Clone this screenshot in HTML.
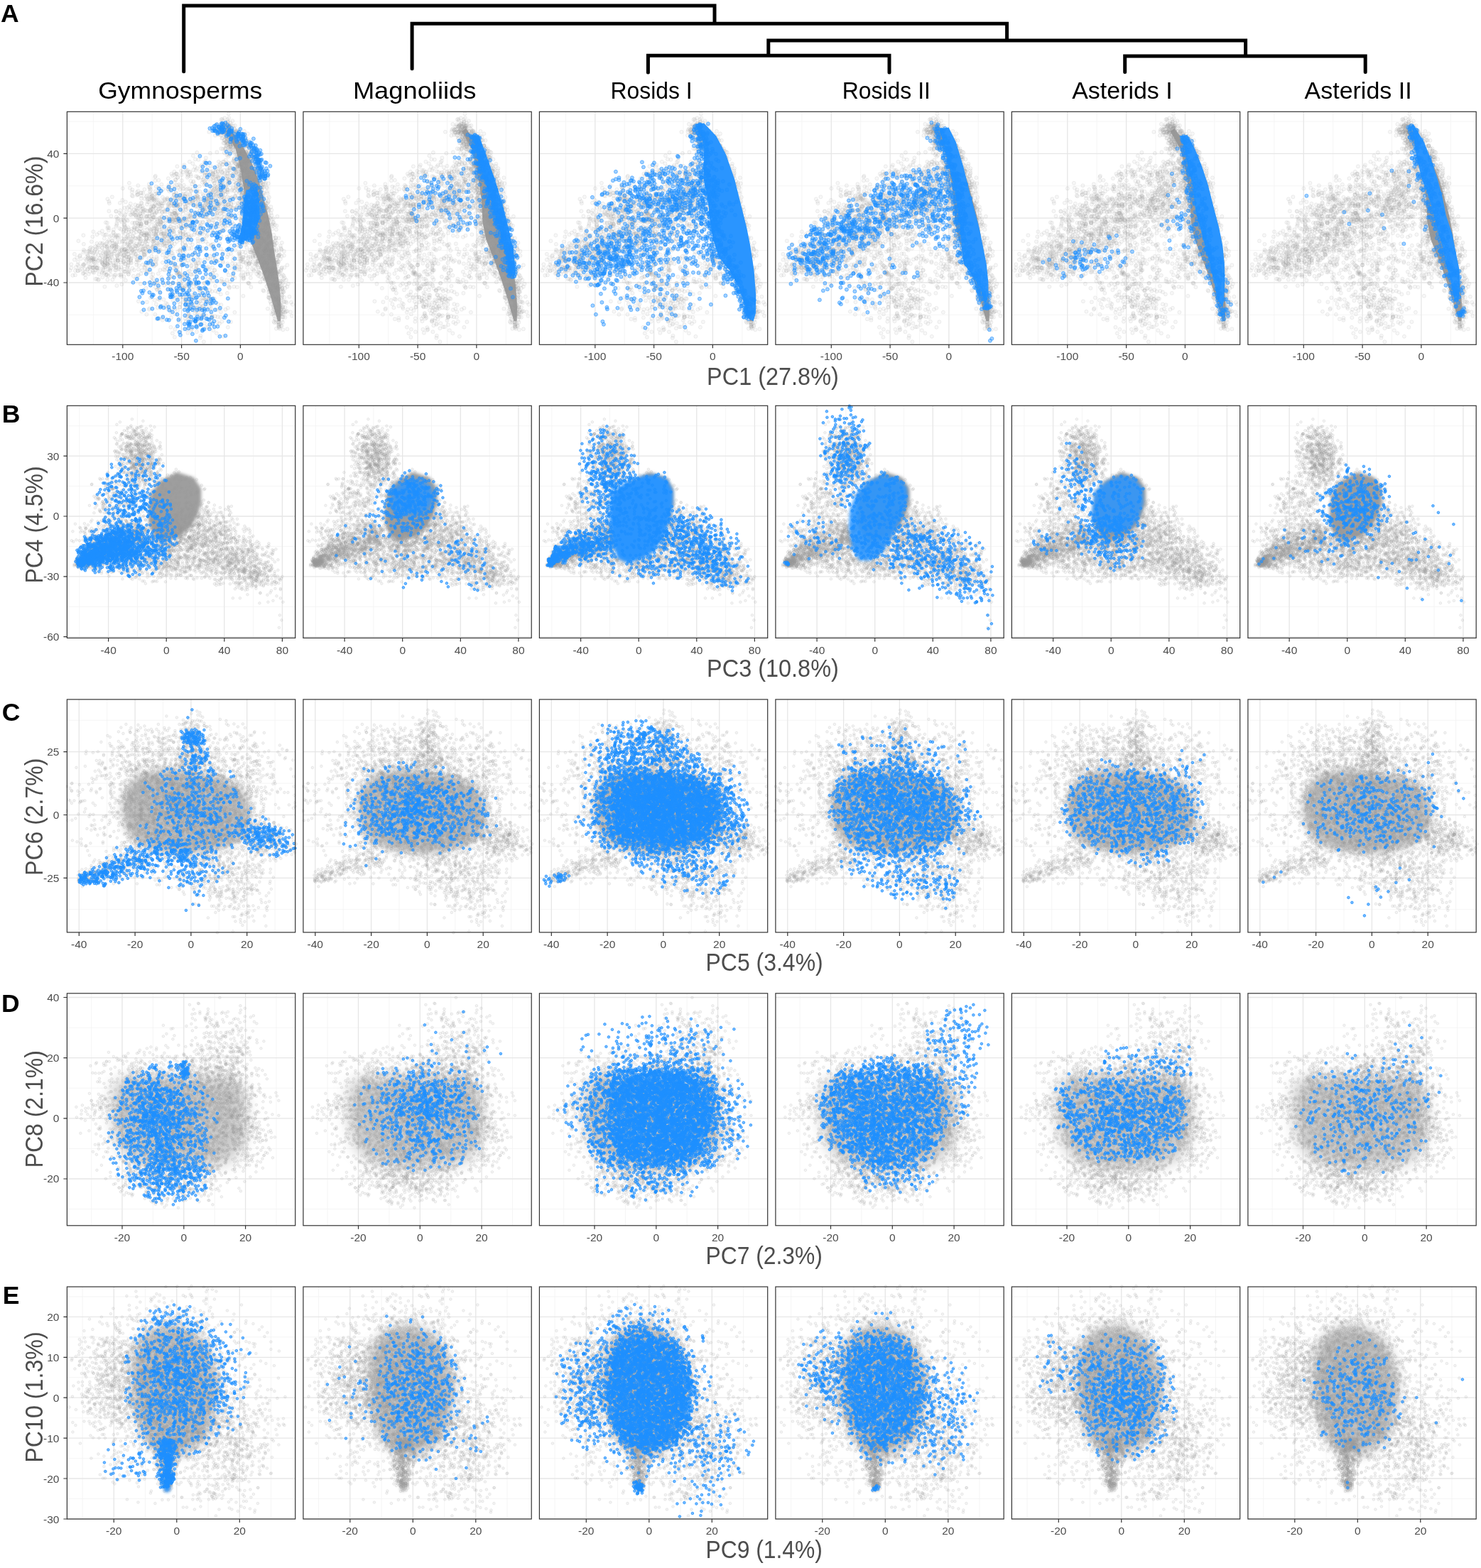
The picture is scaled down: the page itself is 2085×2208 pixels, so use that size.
<!DOCTYPE html><html><head><meta charset="utf-8"><style>
html,body{margin:0;padding:0;background:#fff;width:2085px;height:2208px;overflow:hidden}
svg{display:block}
.g{fill:none;stroke:#999;stroke-linecap:round;stroke-opacity:.12}
.b{fill:none;stroke:#1e90ff;stroke-linecap:round;stroke-opacity:.5}
.gA{stroke-width:6}.gB,.gC,.gD,.gE{stroke-width:4.2}
.sg{fill:#9e9e9e}.sb{fill:#2a95ff}
.mj{stroke:#e6e6e6;stroke-width:1.3;fill:none}.mn{stroke:#f3f3f3;stroke-width:.8;fill:none}
.bd{fill:none;stroke:#333;stroke-width:1.2}.tk{stroke:#333;stroke-width:1.2;fill:none}
.tl{font-family:"Liberation Sans",Arial,sans-serif;font-size:15.5px;fill:#4d4d4d}
.at{font-family:"Liberation Sans",Arial,sans-serif;font-size:35px;fill:#4d4d4d}
.st{font-family:"Liberation Sans",Arial,sans-serif;font-size:34px;fill:#000}
.pl{font-family:"Liberation Sans",Arial,sans-serif;font-size:35.5px;font-weight:bold;fill:#000}
.dg{fill:none;stroke:#000;stroke-width:5;stroke-linecap:round;stroke-linejoin:miter}
.mgA{fill:none;stroke:none;marker-start:url(#kgA);marker-mid:url(#kgA);marker-end:url(#kgA)}
.mbA{fill:none;stroke:none;marker-start:url(#kbA);marker-mid:url(#kbA);marker-end:url(#kbA)}
.mgB{fill:none;stroke:none;marker-start:url(#kgB);marker-mid:url(#kgB);marker-end:url(#kgB)}
.mbB{fill:none;stroke:none;marker-start:url(#kbB);marker-mid:url(#kbB);marker-end:url(#kbB)}
.mgC{fill:none;stroke:none;marker-start:url(#kgC);marker-mid:url(#kgC);marker-end:url(#kgC)}
.mbC{fill:none;stroke:none;marker-start:url(#kbC);marker-mid:url(#kbC);marker-end:url(#kbC)}
.mgD{fill:none;stroke:none;marker-start:url(#kgD);marker-mid:url(#kgD);marker-end:url(#kgD)}
.mbD{fill:none;stroke:none;marker-start:url(#kbD);marker-mid:url(#kbD);marker-end:url(#kbD)}
.mgE{fill:none;stroke:none;marker-start:url(#kgE);marker-mid:url(#kgE);marker-end:url(#kgE)}
.mbE{fill:none;stroke:none;marker-start:url(#kbE);marker-mid:url(#kbE);marker-end:url(#kbE)}
</style></head><body>
<svg xmlns="http://www.w3.org/2000/svg" width="2085" height="2208" viewBox="0 0 2085 2208">
<rect width="2085" height="2208" fill="#fff"/>
<path class="dg" d="M258.7 100.7V8H1006V33.3M580.1 96.7V33.3H1417.6V57M1081.8 78.3V57H1753.6V78.9M912.4 102V78.3H1252V102M1583.7 101.6V78.9H1922.2V101.6"/>
<text class="st" x="138.2" y="138.8" textLength="231.1" lengthAdjust="spacingAndGlyphs">Gymnosperms</text>
<text class="st" x="496.9" y="138.8" textLength="173.5" lengthAdjust="spacingAndGlyphs">Magnoliids</text>
<text class="st" x="859.6" y="138.8" textLength="115.1" lengthAdjust="spacingAndGlyphs">Rosids I</text>
<text class="st" x="1185.8" y="138.8" textLength="124.1" lengthAdjust="spacingAndGlyphs">Rosids II</text>
<text class="st" x="1509.2" y="138.8" textLength="141.5" lengthAdjust="spacingAndGlyphs">Asterids I</text>
<text class="st" x="1836.6" y="138.8" textLength="151.0" lengthAdjust="spacingAndGlyphs">Asterids II</text>
<text class="pl" x="1.0" y="30.6">A</text>
<text class="pl" x="2.8" y="595.2">B</text>
<text class="pl" x="2.7" y="1015.0">C</text>
<text class="pl" x="1.9" y="1424.6">D</text>
<text class="pl" x="3.7" y="1836.4">E</text>
<text class="at" x="995.1" y="541.6" textLength="185.7" lengthAdjust="spacingAndGlyphs">PC1 (27.8%)</text>
<text class="at" x="995.1" y="953.1" textLength="185.7" lengthAdjust="spacingAndGlyphs">PC3 (10.8%)</text>
<text class="at" x="993.5" y="1366.8" textLength="165.2" lengthAdjust="spacingAndGlyphs">PC5 (3.4%)</text>
<text class="at" x="993.5" y="1780.2" textLength="164.4" lengthAdjust="spacingAndGlyphs">PC7 (2.3%)</text>
<text class="at" x="993.5" y="2193.5" textLength="164.4" lengthAdjust="spacingAndGlyphs">PC9 (1.4%)</text>
<text class="at" transform="translate(59.5 403.7) rotate(-90)" x="0" y="0" textLength="184.1" lengthAdjust="spacingAndGlyphs">PC2 (16.6%)</text>
<text class="at" transform="translate(59.5 821.6) rotate(-90)" x="0" y="0" textLength="165.2" lengthAdjust="spacingAndGlyphs">PC4 (4.5%)</text>
<text class="at" transform="translate(59.5 1232.9) rotate(-90)" x="0" y="0" textLength="165.2" lengthAdjust="spacingAndGlyphs">PC6 (2.7%)</text>
<text class="at" transform="translate(59.5 1644.4) rotate(-90)" x="0" y="0" textLength="165.3" lengthAdjust="spacingAndGlyphs">PC8 (2.1%)</text>
<text class="at" transform="translate(59.5 2059.7) rotate(-90)" x="0" y="0" textLength="184.4" lengthAdjust="spacingAndGlyphs">PC10 (1.3%)</text>
<defs>
<filter id="f2" x="-50%" y="-50%" width="200%" height="200%"><feGaussianBlur stdDeviation="2"/></filter>
<filter id="f3" x="-50%" y="-50%" width="200%" height="200%"><feGaussianBlur stdDeviation="3"/></filter>
<filter id="f4" x="-50%" y="-50%" width="200%" height="200%"><feGaussianBlur stdDeviation="4"/></filter>
<filter id="f5" x="-50%" y="-50%" width="200%" height="200%"><feGaussianBlur stdDeviation="5"/></filter>
<filter id="f6" x="-50%" y="-50%" width="200%" height="200%"><feGaussianBlur stdDeviation="6"/></filter>
<filter id="f8" x="-50%" y="-50%" width="200%" height="200%"><feGaussianBlur stdDeviation="8"/></filter>
<filter id="f10" x="-50%" y="-50%" width="200%" height="200%"><feGaussianBlur stdDeviation="10"/></filter>
<filter id="f12" x="-50%" y="-50%" width="200%" height="200%"><feGaussianBlur stdDeviation="12"/></filter>
<marker id="kgA" markerUnits="userSpaceOnUse" markerWidth="1" markerHeight="1" overflow="visible" refX="0" refY="0"><circle r="5.00" fill="#999" fill-opacity=".08" stroke="#999" stroke-opacity=".15" stroke-width="2.00"/></marker>
<marker id="kbA" markerUnits="userSpaceOnUse" markerWidth="1" markerHeight="1" overflow="visible" refX="0" refY="0"><circle r="5.00" fill="#1e90ff" fill-opacity=".42" stroke="#1e90ff" stroke-opacity=".55" stroke-width="2.00"/></marker>
<marker id="kgB" markerUnits="userSpaceOnUse" markerWidth="1" markerHeight="1" overflow="visible" refX="0" refY="0"><circle r="3.60" fill="#999" fill-opacity=".11" stroke="#999" stroke-opacity=".18" stroke-width="2.00"/></marker>
<marker id="kbB" markerUnits="userSpaceOnUse" markerWidth="1" markerHeight="1" overflow="visible" refX="0" refY="0"><circle r="3.60" fill="#1e90ff" fill-opacity=".6" stroke="#1e90ff" stroke-opacity=".8" stroke-width="2.00"/></marker>
<marker id="kgC" markerUnits="userSpaceOnUse" markerWidth="1" markerHeight="1" overflow="visible" refX="0" refY="0"><circle r="3.60" fill="#999" fill-opacity=".11" stroke="#999" stroke-opacity=".18" stroke-width="2.00"/></marker>
<marker id="kbC" markerUnits="userSpaceOnUse" markerWidth="1" markerHeight="1" overflow="visible" refX="0" refY="0"><circle r="3.60" fill="#1e90ff" fill-opacity=".6" stroke="#1e90ff" stroke-opacity=".8" stroke-width="2.00"/></marker>
<marker id="kgD" markerUnits="userSpaceOnUse" markerWidth="1" markerHeight="1" overflow="visible" refX="0" refY="0"><circle r="3.60" fill="#999" fill-opacity=".11" stroke="#999" stroke-opacity=".18" stroke-width="2.00"/></marker>
<marker id="kbD" markerUnits="userSpaceOnUse" markerWidth="1" markerHeight="1" overflow="visible" refX="0" refY="0"><circle r="3.60" fill="#1e90ff" fill-opacity=".6" stroke="#1e90ff" stroke-opacity=".8" stroke-width="2.00"/></marker>
<marker id="kgE" markerUnits="userSpaceOnUse" markerWidth="1" markerHeight="1" overflow="visible" refX="0" refY="0"><circle r="3.60" fill="#999" fill-opacity=".11" stroke="#999" stroke-opacity=".18" stroke-width="2.00"/></marker>
<marker id="kbE" markerUnits="userSpaceOnUse" markerWidth="1" markerHeight="1" overflow="visible" refX="0" refY="0"><circle r="3.60" fill="#1e90ff" fill-opacity=".6" stroke="#1e90ff" stroke-opacity=".8" stroke-width="2.00"/></marker>
<g id="gA">
<path class="sg" d="M223.1 27.5L236.9 51.5L243.7 77.2L248.0 103.0L251.5 128.7L252.3 154.5L257.5 180.2L267.8 206.0L277.2 231.7L285.8 257.5L291.8 278.1L296.6 295.2L300.7 295.2L301.2 274.6L299.5 248.9L296.1 223.1L291.8 197.4L288.4 171.6L283.2 145.9L276.3 120.1L269.5 96.1L260.0 72.1L246.3 46.3L229.1 24.0Z"/>
<path class="mgA" transform="scale(.5)" d="M434 22l3-1 7-3 8 4 3-16 1 12 17 21-3 8-2-7-2-14-4 11-2 3 0-9-1 14-1-4 0 6-1-7 0-1-1 6-1-4 0 4 0 1 0 1 0-2-2-16 0-1 0 12-1 0-1-6 0 1-3 6-1 2 0 0-1-8 0 12 0-15-1 8-1-6-1 5-1 5-2-5 0-2 0 1-2-13 0 17-1-1 0 1-4-1-1-5-3 6-8-7-21 22 17 10 1-11 1-5 3-3 2 5 1 12 1-14 0-1 1 8 0 2 2-2 1-7 0 7 1-9 0 16 3-8 1 10 0-7 0-12 2 9 0 0 2 0 0-2 2 7 0-8 1-5 0 13 0-13 1 2 0 7 0-5 1 7 0-9 0 7 0 5 1-4 2-7 1 18 0 0 1-14 1 8 1 1 0-17 1 9 0-7 1 3 0 5 1-9 0 10 0-10 0 0 0 13 1-2 2 5 1 0 0-11 0 16 0-14 2-5 0 3 0 11 0-2 1-7 2 11 3-11 1 13 1-7 0-7 1 12 2-5 2-12 1 15 0-6 0-2 1 13 1-15 0-1 1 17 1-1 1-11 0-5 0 15 1-13 2 6 1 4 2 0 6-3 3 6 4-1 1-13 4 16 6-9 4 19-4 13-3-13-3-1-2 1-2 4-6-10 0 13-1-1 0 2 0-1-2-5 0-7-1-2-2 8-2 11 0-11-1-1 0 2 0 8-2-4-2 5-1-2 0-6-3-11 0 17 0 5 0-4-2-4 0-6 0-5 0 18 0-22 0 21-1-21 0 8-1-3 0-2 0 16 0 0 0-4-1-10 0-4 0 15 0-9-1 7-2-9 0 17-1-12 0 8 0 1 0-5-1-3-1 6-1-16 0 1-1 4 0 0-1 8 0-5-1 8 0 3 0 2-1-1 0-15-1-6 0 14-1 5-1-6 0-2 0-5-1-6 0 2-1 4-3 3 0 9 0 2-1 2 0-6 0-4 0-7-1-3-1 10-1 11 0-10 0-12-1-1-1 12-3 4 0-9 0 2-3 7-2-14-2 1-70 40 37 2 19-3 12-10 5 1 4 11 2-11 1 1 0-3 2-7 4 22 4-17 0 2 2-5 0 8 2-1 0-7 1 15 0-14 0 0 4 10 3-10 0 0 0 10 1 1 2 4 1-16 3 4 0-3 0 0 0 1 3 18 1-18 2-4 1 18 3-6 0-4 1 13 0-5 1-11 0-5 1 6 2 12 0 2 1-1 0 3 1-20 1 15 0 2 0 4 1-4 0 4 2-13 0 6 0-11 0 14 4-16 1 15 2-17 1 16 1 6 0-9 0 6 0-2 0 0 3-18 0 1 1 0 1-1 2 22 1-14 1 0 3 14 0-3 1-2 1-9 0 6 3 1 4 2 3 2 6 19-7-9-1 10-1-6-2-1 0-1 0 8-1 8-1-8-1-7-3 7-1-11 0 2-1 11-1-10 0 14-1-1-1-2 0 1-1-15 0 7 0-3-1 9-2-13-1 8 0 11-1-11 0 11-2-16 0 13-1-5-2-8 0-7 0 2-1 21 0-17 0 17-1-1-1-3 0-7-1 0-1 7 0-12-2 16-1-3 0-6-1-12 0-2-2 4-2 8 0-7-1-3-2 20 0-1 0-13-1 5-2-3-2-1-1-1 0 14-1-10-1-9-4-3-1 17-2-4-1-1-1 8 0-3-12-15-3 4-4-4-3 14-5 5-3 0-12 0-36-11-1 9-3 3-17-7-9-1-6-10-10 17-35 13 11 13 7-12 2-5 5 15 4 0 15-19 2 18 4-9 3 10 3-5 10-5 3-4 8-1 9 7 2 10 7-14 6 14 8-8 4-5 6-3 1 5 2-11 0 22 1-5 4-13 2 0 4 16 4-19 1 3 3 14 2 3 1-22 1 2 2 19 1-12 0 6 1-2 5-13 2 16 1-2 1 5 3-3 1 4 0-2 1-18 1 2 0 15 2-13 2 13 0-13 0 8 1 10 2-14 0 1 0 2 1-3 0-2 1-3 1-3 0 11 1-5 1 6 0-4 1 2 0-2 0-5 1 0 0 20 0-12 0-1 1-8 1 17 1 1 0 2 0-11 1 11 1 1 0-16 0-3 0 9 0 2 0 3 0-6 2-7 1 9 2 9 1-3 1-3 1 0 0-15 2 16 1-8 0 1 1-9 0 11 1 7 0-18 1 5 0 8 2-1 0 8 7 0 2-7 0-3 2-10 2 9 4 4 2-11 0 14 2-3 1 5 0-14 1 17 1-14 2 14 1-7 3 4 3-11 1-6 5 19 1-6 16 26-15 2-1-16-1 4-1 4-1 3-3 7-3-2-1-2-1-9-1 10 0-18-3 11-1-3 0-9-1 10 0-10-1 6-3 6-1-10 0 15-2 6 0-3-1-13-1-6-2 7-1 4-4-12 0 17-1 0 0 2-1-11-1 9 0-15-1 7-1 7 0 7 0-21-2 11 0-3-2-6-1 17 0-11 0 9-1-1 0-7-1-9-2 18-2-15-1 1-1-6-1 18-3 5 0-7 0-12-1 19 0-12-1 4 0-12-1 12 0 5 0-2-1 2 0-17 0 8 0-1-2 3-1-2 0 8 0-7-3 10-1-14-1 6 0-13-4 17 0-15-2-1 0 3-5 0 0 4 0 12-5-1 0-11-3 3 0 0-3-8-3 19-5-18 0 15 0-6-1-7-1 7-4 5-2-13-4 3-3-5-1-3-2 18-6-9-2 11 0-4-1-17 0 12-1-12-2 14-1 7-3-19 0 0-1 13-5-7 0 9-1-13 0 7-1-3-1 8 0-10-4-5 0 20-10-11-1 0-1 10-3-17-1 8-1-1-1-5-2 17-4-20-3 15-2-17-6 19 0-1-3-3-4-1-14 0-1-5-2-8-1 2-4 6 0 4-2 4-2-16 0 6-11-5-4 8-10 7-1 0-1-10-3 0 0 0-2 16-3-22 0 9-5 2-3-5-9 13-36-7-1 3-73 17 2 14 23-7 31 4 0-8 3 9 14-19 3 17 6 3 1-21 8 12 20 2 2 5 1-2 14 0 0-11 3-6 4 14 4 7 1-9 4 3 4-14 6 13 19-12 4 9 4-8 0 3 5 10 1 0 11 1 8-11 1-7 4 4 1 10 2-3 1-2 6-5 2 13 9 5 4-19 3 0 0 19 1-13 0 1 2 8 3-18 1 21 2 1 1-4 2-14 3 9 1-4 1 1 3 5 1-3 3-8 1 15 1-5 0-9 0 12 5 3 3-4 1 5 3-16 1 4 0 2 2-7 1-4 0 0 2 6 0 1 3 8 7 8 2-17 4 16 0-9 1-4 1 9 1-9 3 13 2-21 0 2 2 19 1-19 0 8 2 11 0-18 0-3 1 8 1 8 0-2 2 1 0 2 1-11 2 5 1 10 1-21 0 20 1 2 2-11 0-6 1-1 1 8 1-4 0 2 1-4 0 11 1-9 1 5 0 2 1 0 1-2 0-4 0-9 0 21 0-7 1-9 2 8 1 5 0-12 2 10 0 5 1-19 2-2 1 21 2-19 0 16 2 4 0-3 2-20 1 6 0 15 2-7 1-13 1 21 1-21 0 16 1-17 0 16 0 5 4-14 3 1 3 11 1 1 4-14 0-2 1 10 0-6 0 15 1-15 1 9 1 3 1 1 1-6 2-3 0 9 1-17 4 8 1-4 3 12 1 3 4-13-3 28-1-5-9 4-1 6-2 2 0-8-2 10 0-19-1 1-2 7-1-6-2 0-2-4-1 18 0 1-1-8-2-6 0 13 0-16-1 4 0 0-2 9-2-9-1 0 0 13-3-8 0 10 0-3-1 1 0 2-2-2-4-10-1 11-1-14-1 6-1-8-3 10-2-14 0 17-1-16-1 19-1-13-1-6-1 14 0 1 0-1-1-17 0 14-3 3-1-2-2-3-1-5-2 12-1-7 0-10-1 11-1 0 0 1-1 2-1-11-1-2 0 15-2-16-1 2-1 5-1 4-4-6-5-5-1 11-2 9-1-1-2-14-6-4-1 3-11 5-1-6 0-3 0 3-2 5-4-3 0 10-3-9-4 5-1-9 0 12-3-7-1 6-1-10 0 10-1 4 0-1-3 4-1-1-2-13 0-4 0-1-3 19 0-9-1-5-2 9-2 3-1-11-2-8-1 3-1 15-1-13 0 11-2-7-4 1-1 7-1-11-1 6-1 5-6 5 0-2-1-7-1-6-10 12-1-4-9-7-6 13-1-1-1-16 0 3 0 3-1 10-5 2-6-21-4 5-2-1-1 13-1-3-1-15-5 0-4 13 0-11-1 20-2-7-1 7-1-1-2-21-2 14-1-14-2 17-7-15-2 18-4 0-3-6-1-3-4 6-1-18-1 18 0 0-1-8-10-8-2 6-3-5-2-2-13 1-7 6-6 6-4 0 0 7-4-13-1 8-7 5-2-1-1 3-1-7-2-12-2 13 0-17 0 9-8 11-2 3-5-20-4 10-5 8 0-9-1 1-8-6-1 10 0 0-2-6 0 8-12 3-1-18-1 16 0-10-26-10-43 30 4 7 1 5 8-18 22 17 7-8 9 5 14 5 13 3 17-18 0 12 1 2 8-13 7 16 2-17 0 4 0 6 3-9 1 10 2-10 3-3 3 3 0 5 2-7 1 4 2 0 2-4 0 7 1-3 1 12 0 3 4-13 5 0 0 7 1 4 2 0 3 3 1-5 5-17 0 17 0-6 5-6 0 11 1-7 4-3 3-4 1 3 1 2 1 13 1-2 3-3 3-4 1-6 1 12 1 0 2-15 4 17 1-14 1 11 0-12 2 3 4 13 1 0 1-18 1 18 1-21 2 13 2 10 0-19 1 17 2-17 2 4 3 7 0-12 5 17 0-13 2-2 1 2 3 11 3 0 0-17 2 21 1-8 3 2 1-10 2 2 0-2 2 13 2-7 2 5 0-2 1-5 3-3 2 16 1-23 1 8 1 5 3-12 2 3 1 14 0-10 2 14 0-21 4 6 1 6 7-8 0 14 5 3 0-12 2 4 1-4 1-3 0 5 0 7 2-15 0 3 1 15 1-10 1-6 1 10 1 6 0-18 1-1 2 11 1-12 1 11 1-4 5 0 0-8 2 12 1-5 0 15 0-13 2 13 3-17 1 8 4-1 2 7 0 2 1-14 0 13 1-1 1 1 1-4 2-5 2-10 3-2 1 0 2 20 1-6 1-10 0 5 1-7 2 10 2-2 0 12 5-7 1-15 1 22 1-1 2-3 0-15 6 15 0-15 0 18 2-20 2 4 3 11 5-15 5 2 2 14 1 2 5-3 1-10 1-3 0-1 1 4 2 5 0-8 1 16 2-14 0 10 0-15 1 8 2 10 1-4 1 6 1-1 0-10 1 2 0 0 0 0 0 12 2-2 2-9 0 11 1-6 0-10 0 1 2-5 2 4 3-6 0 21 0-12 1 5 1-12 1 8 0 7 0-1 0-7 1 7 1 3 0-14 0-3 1 15 5-17 1 21 1-20 1 7 1-1 2-1 2-6 2 1 1 6 1 0 0 13 0-19 0-1 4 11 3 6 3 3 3-5 1-11 0-3 2 17 3 4 2-11 0 11 2-6 2-14 1 16 2-3 2-4 2-11 7 36-2-9 0 18-5-11-2 3 0 8-1-11-2-4-2-2 0 1-1-4 0 21-2-15 0-7-1 19 0-14 0 12-1-17-3 21 0-8 0-9-1 11-2 7-1-18-2 15 0-15-1 8-1-1-2-8-1 15 0-14-2 11 0-13-1-3 0 9-2 5 0-14 0 20-2-8 0-12 0 5-2 11-5-7 0-7 0 5-1 6-1-1-3 0-1 2-1 9 0-13-1-4 0 11 0 4-2-18-5 1 0-2-2 10 0-5-2 3-1 2 0-10-1 3-2 10 0 2-1-3-1 0-1 1 0-2-3 3 0-16-1 17 0-9-1-5-1-1-2 13 0-1-5-1 0-5-3-4-2 19-6-22 0 5-2 0-5 4-4-4-2 1-5-3 0 0-1 15-3-15-7-3-3 2 0 8-1-7-5 13-1-3-1-3-1 4-1-15-2 19-2-4-1 8-4-15-2 0-1-6-1 5-1 14 0-3-1 5-2-10-3-7-3-2-4 9 0-5-1-1-2 6-2 8 0-7 0-9-1 16 0-15-2 7 0-5-1 0-2 12-1-18-2-2 0 12-3-5-3 11-1-2-1-12 0 15-2-11-1 6 0-4 0-9-2 6-2 9-1-14 0 5 0 0-6 8-1 0-4-11-3 16-3-18 0 1-3 16-4-19-9 20-6-11-6 12 0-10-1-7 0 2-2-3-5 12-1-3-3 5-7-9-4-8-1 1 0 2 0 6 0 13-5-1-2-6 0 8-1-2 0-21-1 21 0-6 0 7-1-20 0 1 0-3-4 0-4 16-3 7-1-22-2 4-3-4-1 8-1 8-3-5-3 6-3-2-3-6-1 9-1-18-1 18-1-18-4 7-2 9-2-7 0 0-6-10 0 17 0 3-3 1 0-13-4-5 0 16-1-16-1 5-1-5-3 7 0-10 0 21-3-10 0 4 0-11-2 12 0-4-1 11 0-9-6 2-3-1-4-2-4 0 0 5-1-10-2 9 0 5-1-12 0-8-4 12-1-11-1 20-1-20-4-3-2 15 0-14-1 9-3 4-1-6-1 11-4-7-1 11-4 0 0-5-3-12-4 7-2-10-5 3-3 12-5-11-12 7-2 7-10-4 0-1-20 0 6 14 15 2 2 6 1 5 2-6 7-12 1 17 1 4 5-5 1-7 3 9 0 2 0-15 2-4 4 15 3 2 7-17 3 1 9-1 3 2 1-1 1 5 5 10 0-7 1-9 1 4 2 14 1-19 0 13 3-8 2 1 1 6 1 5 10-12 1 3 0 14 0-3 2-13 1-1 5 1 1-1 0 14 0-3 4-3 4 0 0-11 1 20 2-13 0-2 0 2 4-10 0 10 5 13 2-3 0-4 5-4 3 0 0 5 1 2 0 3 1 1 2-16 0 16 2-15 2 12 10-10 0 9 0-11 4 13 4-10 2 6 0 6 1-4 3-6 0 8 0-21 0 8 2 14 1-20 0-2 1 15 1 2 0 4 0-10 4 1 1 4 2 1 0-15 1-1 0 16 1-14 1 7 0-3 1 8 1 7 0-10 1 1 3-10 1 15 0-5 1 3 1 2 2 2 5 1 2-5 0 5 1-4 2-9 3 7 2-2 3 4 1 5 2-16 2 10 1-9 2-3 1 2 1-5 1 10 0 12 4-3 2-13 3 1 3 9 1-16 1 0 2 18 4-18 3 3 1 0 1 19 1-19 4-2 3 20 4-14 1-7 3 6 1 2 3-4 2-3 1 15 2 4 1-2 9-1 3-10 0 10 3-17 7 11 1-7 4 9 7 5 1-13 1 11 5-7 2-10 5 15 3-6 1-6 1 5 4 2 3-3 2-1 3 2 6-7 15 12 4 5 0-1 5-6 1-6 1 1 3 12 1-8 3-3 1 12 1-3 2-14 2 5 1 0 1 2 0-5 0-3 2 12 0-8 1 6 2 4 1 5 1-4 0-15 1 19 1-10 0-1 1-1 1 0 0 9 2 1 1 1 0-10 1-1 0 14 2-22 1 18 0-12 1-3 1 18 0-13 1-1 0-4 3 14 1 3 0-12 1 11 0-15 1 2 1-4 1 19 1-11 2 12 0 1 0-4 2-19 1 8 3 2 2 3 2-4 0-2 2 6 4 8 1-14 1 1 2 2 1 6 2-7 0 8 0-9 2 11 3-8 4 4 0-11 5 9 0 10 11-16-2 26-1 11-4-13-4-6-2 4 0 5-1 8-3-11-4 12-2-17 0 5-3-4 0 9-1 2 0-11-1-3 0 23-1-17-2-5 0 1 0 13-2-9-1 9 0-10-4 17 0-22-1 7 0 9-1-1 0-11-2 17-5-18 0 17 0-13-1 14-2-7 0 9 0-1-1-22-1 21-1-12-1-6-1 2-2-4-1 17 0-10 0 13 0-14-3-3 0 17 0-19-1 10-1-7-1 3 0-2-2 0-2 16-2-21-1 13 0-13-2 2-1 14-3-3 0 7-3-15-2-4 0 17 0 4-1-7-2 0-3-10 0-1-2-4-1-1-1 13-1-8 0-1 0 17-1-19 0-1-5 3-4 10-1-12-2 9-17-6-4-5-1 18-2-10-9 1-7 1-2 10-1-14-3 7-3 9 0-13-3-8-4 3-1 15-4-9-3-5-1 4-5-6-1 4 0 15-7-4-4-7-5 2-13 6-1 1-2-20-5 8-3 2 0 1-5-10-4 16-2 3-11-11-4-1 0 13-1-10-1-1-5 1-6-5-1 5 0 1-1-11-2 18-3-8-2-1-6-3 0 7-1 0-5-14 0 11-7 2-2-13-3 1-1 14-3 7 0-7-3 8-3-12-3 1-2 6-1 1-1-2-6 5-3-13-4 7-2-13-4 15-1-5-1-13 0 9-2-4-2 16-1-17-3 3-2-2-1-1 0 15-1-4-1 8 0-4-3-9 0 5-3 1-1-5-2 6-5 3-4 0-3-15 0 11-5 4-2-18 0-1-1 1-1-2-3 14-9-8-1-2-1 2 0 4 0-7 0 15-2-8-2-7-3 2-1 3 0 2-2 10-1-19-1 17-5-17 0 16-1-3 0-12-1 11-1 7-4-19-2 18-9 1-1-6-4 5-3-4-3-6 0 4 0-8-1 2 0 12-1 4-8-4-4-2-8-10 0-5-2 9-7 9-13-4-1 6-2-10-1 4-1-15-4-1-63 36 26 4 2-14 10 8 7-5 8-5 3 10 3 11 2-10 4-1 9 6 4-3 6-10 1 2 1 9 4 4 0-7 2 3 4 3 0-5 1 9 3-9 8 9 4-18 4 19 2-14 2-8 0 19 1 3 3-6 2-4 1 9 1-18 3 6 1 14 3-22 1 20 3-7 1 3 2-11 3 14 3-17 0 18 5 1 2-4 2-17 0 20 1-20 1 21 2-8 0-1 0-10 1 6 3-2 1-7 5 13 0-3 0-5 1 6 1 1 2-5 2 4 0-4 0 12 1 2 0 0 1-11 1-3 2 4 2-4 0 7 1 8 1-3 0-11 5-7 3 14 3 8 0-23 1 22 0-13 2-4 2 6 2-1 0-2 1 6 1-12 0 0 0 12 4-6 5 14 4-19 0 6 1-1 1 13 1-14 3 0 0-1 1 5 0 9 1-12 1 10 2-3 0 0 4-6 0-8 2 11 0-9 3 12 0-4 2 11 3-3 5-15 4 17 1-20 1 8 0-6 5 12 5-1 4 5 2-18 1 1 1 5 1-2 4 14 2-9 1-8 0 13 1-7 4-2 2 5 2 8 0-8 3 12 2-15 2 10 2 0 2-2 3-3 8-3 2-6 7 3 0-2 1 17 5-12 1-1 4-3 2-5 1 7 3 14 2 0 4-18 3 11 2-4 13-5 14 7 12-11 0 13 2-15 14 17 7-4 18-3 20 1 1 9 1-20 4 0 2 14 1-14 1 21 1-6 1-1 0-13 1 14 1-7 0 1 1 14 1-12 0 9 2-5 2-11 2 8 1-9 1 9 0-4 1 5 0-7 0-6 0 21 0-21 2 1 0 21 0-9 0-4 0 9 1-12 0-6 0 21 0-15 1 6 2 6 1-7 1-3 0 1 0 7 0-3 0-3 2 7 2-12 2 1 2 11 2 2 1-2 1-7 1-2 0 2 1-3 2 11 0 5 0-10 0 8 2 0 1-7 1 7 1-20 1 12 2 9 2-15 0-3 0-4 0 23 1-19 1 16 0-12 4 15 0-21 2-2 1 10 0 11 1-13 2 7 0 3 1 3 0-9 1-6 1 17 0-7 1-10 0 3 1-8 0 13 1-1 0-3 10 11 0-10 5 9 1-1 8 1 9 13-4 9-11-8-3-7-1 13-1-10-1 7-1 3-2 5-2-14 0 8-1-8-3 1 0 0 0-1-2-3-2 6 0 3-1-2-1-4-1 9-1 0-1-3 0 10-1-9-1 1-1-5-1 9 0-11-1 14 0-2-1-1-2-9 0-7-1 17-1-12-1-3-2 1-1 10-2-13-3-1 0 16-1-6 0 1 0 0-3-3 0 10 0 3-2-14 0 13-2-18-1 6 0 7-3-17 0 14-1-10-3 15-3-15-1 7-1 4-2 7 0-14-5-5-1 8-10-10-1 7-1 15 0-18 0 7-2-7-3 10-7-4-1-11-3 6-3 12-4 1-4-4-17 2-32-5-19 1 0 10-4-8-1 2-9-4-6-7-9 0-4-4-9 2 0 7-16 3-6-5-12 10-1-3 0 0-2-8-7-7 0 11-7-11-9 5-6 6-6 7-2-9-1-1-4-6-1 8-3-6-1 2-3 11-1-14 0 6-1 8-5 0 0-18-1 10 0 3-3-8-1-1 0 10 0 2-4-8-5 15-2-13-1-10-1 14-3-4 0 2-3 5-5-14 0 14 0-15-2 2 0 9-2 4 0-11-1 15 0-16-1 16-11 0 0-17-1 18-2-9-1 6-3-18 0 5-2 1-2 10-1-13-3 15-3-6-2 6-1-19-1 4-2 3 0 4-4 6 0-3-5 5 0-7-3 6-3-1-3-10-1 13-4-13-1-3-2 4-2 12 0-12-1 9-2 3-1-6-2-4-2 4-6-2 0-6-5-2-2 18-1-16-7 1-4 15-4-2 0-12-2 4 0 7 0 4 0-8-4-3 0 9-1-5-4-6-1-7-1 15 0 0-1 3 0-18-1 20-5-16-3-4-1 15-3-11-1 13 0 0-2-8-3 6-2-3-5-5-1 13-1-10-4-3-5 12-1-5-3 5-1-11-4 9-11-14-2 16-20-9-15-9-11 37 15 6 1-3 9-8 1-7 2 3 7 10 3 5 0-14 0 11 4-10 0-3 1-6 1 11 4 0 3-11 1 14 3-2 2-5 2 11 0-15 5 5 3 11 4-8 4 9 3-21 0 23 3-10 2-3 4 5 0-2 2 6 3-19 0 15 1-10 0 18 1-13 0 9 0 4 2-16 1 16 1-10 5-2 2 7 0-3 5 1 2-14 2 6 0 0 3-4 2 15 1 3 1 1 3-5 3-10 0 4 2 5 1-1 1-10 2 0 1-3 3 19 3-3 0 1 0-13 1-2 0 7 0-10 1 2 1 19 1-12 1 1 0-10 1 6 3 1 1 9 1-18 1 8 1 9 6-4 0 9 1-21 1 3 2 2 0 3 2-5 1 10 3-3 2-10 1 16 0 2 3-11 2 14 0-21 5 6 4-2 1 8 5-5 0-3 1-2 2 5 1 11 0-1 0-1 0-5 1-10 1 19 1-3 1-16 3 5 5 4 1-5 8 17 1-22 2 9 0-4 8 1 1-7 7 6 0 7 2-8 3 2 7 3 0 10 11-16 0 18 6-9 1 4 6-11 1 8 3 1 2 7 13-12 5-3 1 1 2-5 6 19 1-16 0-6 1 15 4-9 9 13 3-18 6-1 5 16 6 0 6-15 4 2 3 3 10-5 19 22 10-1 2-15 18-5 4 16 2-7 15 7 1-14 6 12 13-10 9 10 2-4 1 8 0-4 2 6 7-11 7 1 2 9 10-10 1-5 2 6 1 0 3-12 1 5 0 4 1 13 1-8 3-4 0 4 0-5 0-1 1 11 1-5 1 9 1-1 0-19 1-2 1 11 1-1 0-7 0 15 1-8 0 1 0-12 1 4 1 11 1 2 0-3 1-7 3 12 0-17 2 4 1 12 6 4 0-8 1-3 1-3 1-3 1-1 0 18 0-19 1 5 1 12 0-18 0 13 1-3 0-3 0-1 1 1 0 7 2-10 0 14 1-14 3 0 2-4 1 21 0-8 1 7 0-14 0 10 0 1 0-14 1 7 1-12 0 16 1-9 2 3 0 9 0 4 0-19 2 1 0 3 0 1 1 10 1-8 1 1 0-7 2 16 1-15 0 2 1 3 3 10 4-18 0 4 4 14 2 1 0-9 0 9 2-3 1 0 3-19 1 3 1 2 0 18 7-14 0 12-10 10-6 9 0-2-2 7-1-18-1 14 0-2 0-6-1 0-2 9-2 3-2-3-1-7-1-2-2 10 0-2-1-11 0-1 0 17-1-10-1-7 0 7-1 7-1-10-1-9 0 5-1 0-1 17 0-22-1 10-2 2-1-7 0 17 0-16-1-3-1 18 0-4-2 5-1-4 0 0-1-4-1 4-1-13-2 5-1 12 0-4-1-2 0-9 0 10 0 2-1-11-1 9-2 4-1-10-2-10 0 14-1-8-1-2 0-5-2 8 0 8-1 2-1-18-1 4-2 9-1-9 0 7-1 1 0-9 0 11-2-2 0 10-1-8-2 5-1-6-1-12 0 22 0-2-7-18-2 11 0-13-6 0 0 13-2 5-2 1 0-2-1 4 0-21-1 4-3 8-2 8-2-4-7-16 0 13 0-11-1 13 0-8-2-5-1 4-2 5-2 1 0-6-7-1 0 16-7-1-5-18-2 7-2 10-13 0-1-19-12 16 0-3-12-3-4 3-6-8-1 4-6-3-3 11-10-12-1-2-8 4-8 12-5-10-4 9-1-11-2-7 0 18-5 1-2-4-1-4-10 2 0-10-10 6-3 9-4-14-2 4-8 14 0-22 0 16-9-7-13 13-1-13-2 10-4-4-5-14-11 4-1-2-8 13-16-11-1-5-1 20 0-10-1 12-1-7-6-9-1 16-2-5 0-10-8 8 0 1-2-12 0 10-9 7-8 1-2-21 0 2-4 1-3 5-2-10-2 12-3-4 0 2-1 13-1-7-4-16-10 18-1-12 0 0 0 5-1-1 0 7-5-15 0 0-1 14 0 2-1-4 0-7 0 2-4-7 0-2-4 21-1-1-2-15-1 7 0 3-1 1-4-13-4 13-1-6-6 12-1-11 0-1 0 2 0-7-1 5-4 13-1-14-1 3-5 11 0-5-4-14-2-3-3 10 0 7-2-13 0 11-5 6 0-15-1 2 0 12-1-1 0-13-1 11-3-16 0 17-1-2 0-10 0-7-1 13 0-8 0 12-6 4-1-12 0 12-1-2 0-3 0-5-1 4-6-10-4 5-1 3-6-6-2 8-3-8-1 8 0-2 0-9-1 4-1 0-2-4 0-1-1 8-1-5-2 5-1-8-3 5-1 6-1-10 0 15-3-13-3 3-4-3 0 13-4 3-2 1-6-17-8 9-1 8-2-20-7 6-9 13-4 17 4-7 11 8 2-10 5 10 1 0 2-13 3 11 5-3 3-8 3 19 1-22 2 11 1 8 6-6 2-3 3-5 2 2 0 11 2-12 5 1 1-7 1 20 0-13 0 9 0-8 3-1 0 14 3-18 2 11 0-7 2-7 1 9 1-2 0 2 1 6 4-6 8 10 1 3 2-7 1-5 1-4 2-6 0 1 0 22 2-18 1 1 1 14 4-18 3 10 1-11 3 13 1-4 1 6 3-9 7-5 3 0 0 12 3-9 0 9 0-6 7 3 1-4 4 6 2-7 9 12 1-7 1 8 2-1 5-11 1-4 1-2 0 19 2-6 2 4 8-9 5 5 12-2 1-11 9 14 7-9 1 2 3 12 0-19 3 19 0-4 4-5 5 9 1-20 10 3 17 11 9-2 4 2 1-9 4-4 2 10 4-9 1 19 12-13 5-6 0 11 2-10 2 20 1-16 1 13 1-14 1 17 0-5 1 2 3 3 0 0 6-23 0 0 18 19 4-2 5-15 2-1 0 11 12-3 0 3 0 8 1-17 0-2 0 14 2 0 2-1 28-5 1-4 2 8 10 10 0-16 1 16 5-8 1-1 34 5 9-11 10 13 2-9 0-8 5 5 3-6 2 10 6-1 3-7 6 15 12-13 0 12 13-8 0-11 4 13 1 4 6-7 3-10 3 20 0-13 1 12 3 2 1 2 1-16 3 0 2 2 0-4 0-4 1 0 2 1 3 21 1-10 1-7 0 9 1 4 0 3 1-16 0 11 3-4 0 0 0-5 0 11 1-13 2 8 1-8 1 4 0 10 2 2 1-10 0-5 1 16 1-6 0-1 1 3 0-9 1-1 1 9 1-4 1-6 0 11 2-12 0 9 0 1 1 6 0-19 1 6 0 2 1 3 1-8 1 7 0 0 1 2 1 6 2-15 1 16 2-18 1 18 1-7 0 4 3-2 2 2 4-4 1-7 0 4 2-6 7 0 8-7-3 42-4-6-3 3 0-9-3-3-1 17-3-13 0 15-3-2-3-18-2 19-3-5 0-16-1 10-2 0-1 5-2-2-2-13-2 2 0 8-1 7-1-15 0 12-1 2-1-4 0-9 0 2-2 1-1-6-1 2-2 4-1-4-2 13 0-1-2 0 0-2 0-5-3 0 0 2 0 7-5 3-1-3 0-1-3-15 0 10-1 3 0-10-4 12-6-6-5-3-5-5-17 11 0-11-8 0-7 2-4 10-2-7 0 9 0-4-7-6-17 7-5-4 0-1-8 16-4-19-5 14-15-3-1 6-13-16-10 4 0 10-4-7-3 0-3 6-11-9-23 8-3-6-8-10-5 2-3-1-1 18-3-5-5 0-8-7-3-5-1 2-1 15 0-11-5 1-5-8-1 17 0-16-4-2-15 7 0 0-6 2-3 3-21-2-9-11-15 13 0-11-4 19 0-11-30-10-7 4-2 2-6 9-6-8-14-6 0 1-8 17-5-11-8-4 0 4-1-6-4 2-11-1-2 2-1 4-5 8-5-14-7 3-2 11-2-15-1 3-1-2-10 7-10-8-1 14-1 2-4-3-4 0-19-14-9 11-1-9-6-3-22 4-7 1 90 32 34-3 14-4 53-1 15 12 25-16 2 2 0 12 4 6 1 0 0-19 4 13 1 6 15-12 6-5 4 18 6-16 2 9 5-11 2-2 13 3 8 14 1-15 1 4 1 14 2-4 2 0 2-2 1 2 2-5 1-3 5-4 4 1 2 13 1-14 2-1 3-1 4 18 2-9 2-10 5 3 2 4 3 8 6 4 6-4 3-1 3-14 1 0 4 17 11 2 15-11 21-11 5 0 11 11 3 3 0 2 13-3 9 1 31-11 1-1 2 2 5 10 26-14 8 23 10-11 3-5 2 12 0-15 1-3 3 20 1-8 1 0 0 9 1-20 1 16 1 4 2-17 0 3 0 0 2-2 1 5 3-10 0 15 1 6 0-6 1-14 0-1 2 9 0 6 0-1 0-5 1-5 0 9 3 3 0-1 2-3 0-12 1 19 0-15 1 14 0-7 0-1 3-8 1 1 0 8 0 8 3-11 1 11 1-5 1 2 0 1 2-17 5 7 1 9 6-4 3-8 3 36-14 2-2-16-1 1-2-3-1 13-1 6 0-9 0-7-2 7-1 11-6-1-1-6 0-3-2-9-3 20-1-5 0-17 0 19-1-17-6 6 0-1 0 11-4-17 0 14 0-1-3-11-3-1 0 19-3-22 0 21 0-2-1-7 0-8-1 15-13-18-58 14-45-8-18 3-8-6-7-3-3 22-3-1-4-20-7 21-2-8-5-14-1 19-6-7-1 10-4-1-1-2-3-8-1 0-2-12-2 0-16 13-1 7-2-8 0 6-5 4-6-13-3 6-1-9-5 15-7-2-1-1-6 1-3-7-7 7-2 1-5-17-1 9-5 0-5 4-30-9-5 16-22-3-34 10 24 2 22-5 4 11 9-13 9 18 3-18 6 10 2 11 2-8 17-10 15 3 3 15 0 1 1-9 9-6 6-5 1 2 1 4 2-3 0 13 2 2 0 1 1-21 2 14 4 7 1-15 0 10 5-14 1 15 2-3 6 8 2-13 3 13 4-12 1-9 2 18 1-14 3 7 4 8 2-1 0-16 7 7 1-9 0-2 5 14 0-5 4-9 4 3 3 12 0-10 18 9 9 2 138-9 3 6 5-6 1 10 0 4 1 1 4-22 2 0 2 23 0-5 2-14 1-1 1 14 2 2 0-12 0 2 0-9 1 1 1 19 0-7 0-2 3 7 0-3 1 8 1-13 1-9 3 22 0-4 1 4 2-16 3 1 1 15 2-16 2 3 13-1 4 6-2 32-4-11-9-2-3 0-2 2-2 2-3-8-1 4-1 3-1 5-2-14-2 13 0-2-1 1 0-10-1-2-1 7-1 9 0-4 0-9-1 16-1-20 0 6-1 12-1 2-3-13-1-2-1 1-1 5-1 4 0-4-3-8-2 17-1-20-1 14-1-4-1-5-2 10-12-15-93 10-19-12-7 4-13 7-4-9-7 3-15 14-1-18-5-1-9 21 0-22-9 2 0 18-2 0-3-19-2 5-5 0-1 8-4 5 0-18-2 8-4 7-4-9-14 11 0 4 0-7-31-7-7-5 0 15-10-13-2 8-11-11-26-2-7 19-16-17-1 3-7 14-14-8 48 21 11 3 0-6 24-1 22 11 1-9 17 1 2 7 3-13 6 6 1-7 2 4 15 11 1-4 0 3 6-2 3-6 3 17 1-2 2-21 1 9 8-9 0 20 18-8 2-7 1-3 0-1 1 1 8-2 6 17 1-15 5 19 3-18 4 12 25 1 121-1 2 3 1-11 2 3 2 7 6 0 0 0 1 0 1 6 0-17 0 16 4-1 3-21 1 11 2-9 0 15 2-15 5 1 6 33-12 2-4-12-1 2-4 7-1-5-1-1-1-1 0 5-1-8-6 10-136-4-41 9-4-16-10 6-4 0-9 4-18-8-2 18-14-7-2 2 0-7-9 15-3-10-21 7-12-7-12-6 5 17 6 11 72 2 1-6 45-7 19 9-55 15"/>
</g>
<g id="gB">
<path class="sg" d="M120.1 120.1L130.4 106.4L154.5 93.5L178.5 101.3L188.8 116.7L188.8 137.3L183.7 154.5L175.1 169.9L159.6 183.7L137.3 190.5L123.6 185.4L115.0 164.8L115.0 140.7Z" filter="url(#f2)"/>
<path class="mgB" transform="scale(.5)" d="M214 43l-31-5-34 8-9 7 21 17 7 0 2-8 2 2 6-4 2-4 3 7 3 5 2 3 1-2 5-1 2-6 2 1 5-2 4-2 2 10 1-11 2 12 4 0 7-6 12-7 3 12 8-9-7 23-1 7-4-10-1 8-1 1 0-12-1 14 0-7-2 2-2-4-1 6 0 4-1-1-1-2-1-16-3 15-2 0 0 4-2-12 0 13-1-15 0-1 0 16 0-7-3-10-2 12-3-3 0-1-2 8 0-14-2 4-1 8 0 1-2-11 0-3-4 9 0-5-1 1-1-10 0 9-2 3 0-3-1-8-1 20 0-20 0 5-2 8-1 7-2-3-1-11-1 15-1-8-1-2 0-9-1 18-1-1-1-4-2-2-1 7 0 0-2-17 0 12-1 0-1 0 0-1-2-4-2 7-1-6 0 5-3-6-7-4-1 0 0 0-1 0-1 3-1 1-2 6-11-13-2 18-4-4 6 18 2 0 1-7 4 15 3-19 2 17 3-1 2-17 2 11 2-2 4 11 2-1 1-1 1 2 0-10 1 2 0 5 2-10 1 8 0 5 2-3 0 2 1-3 2-7 1 4 1 0 1 10 0-11 1 3 0 7 0-11 7 11 0-9 2 1 2-9 0 1 0 8 1-2 2 1 1-11 0 15 0-2 0 1 1-7 1-3 1 6 0 7 1-7 0 7 1-4 0 5 0-9 1 1 0-7 0 16 2-14 0 8 2-2 0-1 2 9 0-20 2-1 0 15 1-1 0-9 1 13 0 5 1-7 1 4 3-3 0-4 0 0 1-6 1 11 0-4 0 3 1-13 1 1 1-5 1 18 0-14 2 12 0-8 1 2 1 4 0 9 4-10 1 1 1 1 1 8 0-12 0 10 4-20 1 16 1 6 0-14 4 7 1 3 2 2 6-19 5 21 4-6 0 2 0-11 5 34-3-16-14 7-1-6-2-2-1 10-3 3-1 5 0-10-1 1-1-4-3 12 0-18-1 14 0 6 0-6-1-7-1 6 0 9-1-1-2-5 0 5 0-18-1 14 0-15-2 6 0 10-1 1-1-16 0 14-2-5 0-10-1 1 0 11-1 6 0 0 0-5-1-1-2-11 0 6 0 4-1-4-1-1-1-1-2 11 0-5 0 2 0-3 0-7-1 1-2 12-1-2 0-6 0 11 0 2-1-18 0 9-1-1 0-10-1 6 0 14 0-10 0-12-1 13-1-4-1 6 0-9-1 12 0-18 0 0-1 8 0 4 0 1-1 4 0-15 0 3-1-2 0 6-1 10-2-20-2 4-1 16 0-13-1 10 0 0 0-11-2 14-1 3-1-22 0 6-1 15-2-21-2 20 0-6 0-4-1-5 0 11 0-11-1 8 0-5 0-1 0 13-1-2 0-9-2 0 0 8 0-8 0-4 0 15-2-10 0-2 0-3 0-1-1 11-1-16-2 11 0-7-4 4 0-7-2 7 0 10-1-5-1-11 0 3-1 0-6 13-1-1-1-15-2 1-1 1-2-3-2 12-3 2 0-4-4 12-1-13-1-3-3 7 0 9-2-15-1 0 6 24 5 14 1-10 1-12 3 15 4-8 0 15 0 0 1-6 3-13 1-2 0 18 2-8 2-10 0 1 1 1 2 0 2 15 0-14 2-3 0 18 2-13 1 3 1 5 1-13 1 3 1 10 0 1 1 4 0-4 2 1 0-1 1 5 1-13 0 2 0 8 1-14 1 7 1-6 0 15 3 4 0-2 0 1 0-4 0-12 1 7 1 6 0 2 1-16 0-1 2-3 0 0 1-1 1 11 0 1 0 5 0-15 1 5 0 2 2-7 0 2 1 9 0 9 0-2 1-6 1-7 0 14 0-5 1 6 0 0 0-3 0-11 3 14 0-16 0-6 0 19 0-15 1 16 0-19 3 20 0 2 1-17 0 5 0 6 1 5 1-9 0-10 0 4 1 5 0 8 0-14 0 1 0 3 1 4 0-3 1-7 0-1 0 19 1-5 1 6 0-19 1 2 2 2 1 5 1 5 1-13 1 2 1 2 1 13 1-5 2-17 0 3 1 2 1 2 2 5 0 8 1-4 0-8 1-3 0-2 0 12 1 4 2 2 1-9 0 10 1-3 0-16 1 7 0 8 1-12 0 13 0 4 0-20 10 14 1-3 1-2 0 9 2-14 0 4 1 7 1-11 1 11 0-2 1 5 0-18 2 4 2 2 7 10 44 23-8-7-5 9-37-7-3-3-5 7-3 2-1 3-6-17-1 4-6-3-2 11-1-6 0 9 0 0-1-20-1 7-1 10-1-13 0 5 0-9 0 7-1 11 0-16-3 18-1-8-1-5-1 6-1-6-1 3 0 0-1 4 0-3 0-10-1 14-1-4-1 11-3-19-1 14 0 0-1-9 0 1-1 11-1-4 0 4 0-15 0 11-1-11 0 15 0-18-1 10 0-4-1-6-1 10 0-11-1-1 0 2-2 7 0 13 0-6 0 4-1-18-1 21-1-22-1 13-1-7 0-7-1 22-1-5-1 0-1-4 0 6-1-10-1 1-2 8 0-15-1 6 0-5 0 13 0-6-1-7 0 0-1 5-1-1-1-8 0 0 0 5 0-4-1 16-1 5 0-18 0 9-1-11-1 6-1-6 0 3-1 15 0-17-1 16 0-11-2-1 0 1-1 0 0 13-1-12-2-1-1 3-1 8-1 2-4-13-4 11-2 2-1-20-1 12 0-4-1 11-1-12-1-2 0 13-6-13-4 15-3-12-2 13-6-19-21 17-23 17 2 3 6-2 12 0 0 0 13 7 9-2 0-13 4 15 7-15 1 0 4-5 1 20 2-13 12 6 5 5 0-19 1 15 0-7 2-5 4 14 2-10 0 10 1-15 1 21 1-9 0-13 0 10 0 7 1-16 1 3 0 2 2-7 0 2 1 1 2 20 1-14 2-1 2 0 4-8 0 4 1 13 2-13 1 6 0 0 0 3 2 9 0-11 3 6 2-17 0 8 3 8 1-7 1 7 0-8 0 10 1-1 1-1 1-15 0 21 3-19 1-3 1 5 1 0 1 13 4-1 0-15 1 17 0-10 0 0 3 8 1-3 1-11 1 6 1-7 1 3 1-4 1 12 1 5 0-2 4-10 6 17 1-1 1-22 1 11 2-2 1-8 2 2 1 16 3-9 7 4 7 8 4-5 0 2 0-7 2 10 1-19 0 12 3-1 8-8 0 0 7 8 4 0 1-5 2-6 5 12 2 8 5-6 1 0 1-7 8 6 4 0 3-6 10 0 8 8 10-2 23 26-2 2-7-12-27 10-6-7-1-11-7 23-2-10-12 5-1-5-5 2-4-5-4 1-2 8-2-14-2 13-1-4-1 3-3 5 0-2-7 3 0-16-2-4-2-3-9 18-2 5 0-5-6-10-1-2 0 11-1-10-1 5-1 5 0-17-8 18 0-1-1 2-4-18-3 4-4-2-3 6-3 14-8-19-1 17-7-21-2 6-3-6-1 6 0-3 0 16-1-11-2 8-7-15-4 7-3-8 0 14-1-6-1-1-2 8-2-8-1-2-3 7-1-7 0 2 0 15-1-10-1-5-2 16-2-17 0-6-4 17-2-3 0 4-6-16-3 6-6-6-1 6-1 7-2-6-5 14-1-1-1-15-6-1-7-1-1-5-5 18-1-15-2 15-2-1-1 3 0-4-1 2-1 0 0 1-8-7 0 9-8-19 0 3-1 4-1 4-38-8-1 1 7 33 4 5 4-6 2 6 3 0 1 2 0 1 4-15 6 5 6 9 4-16 4 4 0-5 3 13 2 4 0-20 1 13 4 7 4-2 0-6 0-8 4 11 0-11 2 0 3 11 1-13 2 7 0-2 3 9 0-17 2 4 3 1 2 1 0 7 1-5 0 13 3-17 1 1 1 1 3 7 3 0 0-5 6 14 10-3 1-1 2-15 2 3 2 15 1-13 1 6 4-1 4-8 2 13 7-9 6 4 6-13 2 7 1 8 1-4 6 1 3-1 4-6 0 9 1 2 1-4 3 4 1-11 1 7 7-2 5-7 0 18 5-2 5-18 2 10 0-7 7 6 2-1 1 2 2 9 4-19 0-2 11 15 5-5 4-6 6 15 1-11 0 9 9-11 1 11 1-16 11 3 4-2 1 18 0-4 3-8 4 9 6-12 2-4 1 10 0 1 1-2 10-1 2-5 2 0 2 1 0-4 96 42-8 4-1-3-23 3-16-7-16-7-1-1-3 12-3 0 0 3-7-21-4 10-2 10-1-7-1-9-3 10-11-6-2-4-1 6-4 5-3 6-1-7-4-1 0 2-1-11-5 3-4 2-2-3 0 1-1 9 0 3 0-1-3-8-15 0-1-4-3 9-4-6-4 9-1-11-3 1-1 9-3-3-1 6-1-19-2-2-2 14-7-7 0 10-1-2-6-3-2 10-6-14-4-3-6 12-2-8-4 12 0-7-1-9-3 7-2 9-3-12-3 10-5-19-1 18-1-2-30-13-9 9-1-10-5-2 0 10-4-11-1 5 0-2 0 11-1-8-4 16 0-16-1 5-2-3-1 10-1 2-1-3 0 2-2-11 0-8-1 10-2 12-1-8-1-8-1 6-6 7 0-14-1 11-1-6-1-7-2 10-5-6-1 1-1 10 0-2-1 0-1-10-4 5-3 8-6 2-6 1-2-15 0-7-2 11-2 10-6-16-5 16 0-9-2 0-3 11-1-9-1 1 0-6-1-3-1 0 0 17 0-5-2-7-12-11-2 17-2-4-19 4 13 21 3-14 12 5 1 3 1 2 2 1 6-9 2 2 2 10 6-1 1-13 1 11 6 7 6-2 3 1 2-17 2 14 0-5 0 5 1 9 6-17 3 6 1 9 2-21 3 18 6-12 8 9 1 3 1-13 6 2 1 13 5-2 1 2 7-4 1-12 3 9 3-7 5 1 3 3 6 8 8-8 2-9 1 21 17-4 3-14 3 17 1-8 2-7 0-4 6 15 3-13 0 9 2-10 3 10 1-8 3-4 0 19 1 0 1-7 0 2 1-5 1 2 3 2 1-3 1-6 3 17 0-12 1-8 5-1 1 17 1 2 0 1 4-17 1 18 6-5 2-10 7-3 0 14 0-10 3 11 1 0 2 1 1 0 1 3 1-6 1 6 2-14 0 8 1-2 3-14 3 12 3-1 0 8 0-10 2-8 0 8 1-7 0 15 2-12 1-3 6 19 2-4 4-17 0 3 2 0 1 8 1-10 0 19 0-18 0 14 5 1 1-7 1 5 0-10 1 15 2-3 0-11 1-5 2-2 2 9 1 10 1-5 1 8 3-12 6 13 1 0 0-6 2 4 0-7 5-8 3 16 2-9 1-10 2 17 1-14 1 6 4-5 1 7 1 4 1 4 1-12 0 1 1 3 2-8 2 16 2-3 4-5 5-11 3 8 6 11 3-8 6-2 4 0 1 7 3 4 7-19 8 1 3 14 0 2 1-13 3 6 21 32-3-15-1 16-8-5-3-9-3-4-4 8-8 2-4 0-1 2-5-1-1-11 0 8-1-10-7 15 0 1-1-3-2 5 0-2-3-1-1-8-3 11-3-13 0-7 0 22 0-18-1 9-7 1-6-4-4 10 0-12 0 10-1-2-2-17-4 18 0-12-3 8-1 1-1-5-4-5-2 14 0-4 0 8-2-12-2-6 0-4-1 19 0-11-1-4-2 8-1 9-1 1-1-1 0-4-1 4 0-18-2 3 0 8-1-13 0 14-1-15-2 19-1 0 0-17-1 10-1 5-3 5-3-1-3-13-2-9 0 10-3-3-1-7 0 19-1-6 0 9-1 0-1-6 0-15-1-1 0 20-1-4-1 4 0-13-4-5 0 5-4 12-1-2 0-13-1 12-1-16-1 12 0-5 0 5-2 3-2 5-1-15-1 1-3 3 0 3-1-12-5 19-3-12 0 15-1-15-1 10-2 0 0-16 0 12-2 0 0 10-2-20 0 2-1 3-2 2-1 4-2-12 0 15 0 0-3-17-1 21-5-6-1 8-2-2 0-9-1 7-3 4 0-20-2 9 0-8-3 2-3 6 0-2-2 11-1-6-2 2-2-5-3-5-1 7-1-5 0-2-1-1-2 17 0-22 0 16-1-16-1 18-1-1 0-17-5 15 0-10-1-4-1 15-1 0-2-10 0-2-1 9-1-5-1-7-4 10-4 0 0-4 0 5-1-10-3 18-3-19-7 8-1-1-6-8-6 20-5-11-6 4 0 8-1-7-1 7-1-1-2-11 0-1 0 13-4-2-2-2-2 1-2-7-2 9-3-12 0 11-1 3 0-3 0-20-5 19-3-4 0-1 0 5-2-7 0 0-1-3-6 11-2-12 0 11 0-18-4 12 0-4-2-7 0 13-6-14 0 22-4-1-5-14-1-4-2 18-2-16 0 6-7 8-2-13-1 14-3-13-5 13-2-9-2 4-1-3-1-11 0 5-9 4-4 4-5 5-3-6-16-4-3 5-18 5-26 1-7 21 20-11 2 2 0 11 4-4 6 5 2-2 1-13 1 5 1-1 1-1 5-9 4 17 1 2 0-4 5-6 3 7 0 2 2 4 3-9 1 2 4-2 4 6 2-8 0-9 8 8 1-9 6 9 0-6 2 12 0-1 1-12 2 11 0-14 1 19 4-6 0 9 3 0 0-2 0-15 5 5 0-4 1 16 3 1 2-4 0-13 2 16 2-12 1 3 1-7 3 17 1 0 4 0 0-23 2 15 1-7 2 13 2-14 1 11 2-18 0 14 0-1 1-8 0-4 0 11 1 2 1-3 1-3 0 12 1-17 2 14 0-17 1 18 1-1 1-16 0 9 0 4 1-12 2 18 1 1 0-1 2-3 0-5 2-6 1 1 1-6 0 9 2-3 0 4 0 11 1-6 0-2 0-13 1 10 1-4 1-5 0 13 1 7 0-19 3 12 0 3 1-5 3 2 0-9 0-5 2 18 0 1 0-1 1-2 0 5 0-9 2-9 1 16 0-7 0 6 0 1 1-17 1 11 0 2 0-13 0 7 0 4 1 4 0 0 0-9 0 12 1-10 0 11 2-16 0 8 1 0 2-1 0-3 0-4 1-1 0-3 0 18 0-15 1-4 0 17 0 0 1 1 1 0 0-7 0 7 1 3 0-12 0-8 0 17 1 4 0-10 2 6 3-2 1 5 1 0 0-14 1-5 2 4 0 7 1 9 1-10 0 8 0-12 1 0 0 10 1-5 0 3 2-10 0 8 2-1 1 0 0-3 1 7 1-17 4 11 1-6 5-4 0 5 1 6 1-8 2 6 0-9 1 20 1-11 1 7 0-6 0 1 4-11 0 7 0 3 3-11 1 8 0-1 0 11 1-2 1-16 0 7 0 9 3-2 1-3 0-5 0 0 0 10 1-10 0 9 1-8 0-4 0 7 1 3 1-9 1 2 0 13 0-16 1 9 1 7 0-1 1-16 2 16 0-9 0 1 1 1 1 3 1 3 1 5 1-13 2-7 1 12 1-1 1-7 2 14 0 2 1-10 3-6 0 14 0-4 1-3 1-13 0 15 1 6 3 0 0 0 1-3 0 4 0-2 1-1 1-17 2 3 0-3 2 12 0 0 0 6 0-8 1 2 0 4 1-8 2-6 1 9 0-8 1 17 0-18 0 3 0 11 0-15 1 17 0-16 1 4 1 8 7-9 0 15 1-23 0 3 0 10 1-5 1 4 0 8 0-5 0-2 1 8 0-20 0 5 0-1 0 4 1 0 1 6 0-2 0-5 1 7 0-4 2 2 1-1 0 8 0 1 0-17 2 8 0-5 1-4 0 7 1-3 1-2 3 8 0-6 1 6 2-13 0 20 2-20 0 19 0-13 1 5 0 6 0 3 2-4 1-12 1 0 1 5 3 7 2-3 1 8 1-17 0 11 1 2 1-4 0-9 0-1 1 2 2 8 0-8 2-3 0 12 1 5 1-16 0-3 1 19 2-5 3 5 1-18 2 5 0-1 1 5 1 13 0-23 0 11 0 11 1-22 0 22 1-21 0 1 0-2 1 8 0 12 1-4 1-10 0 8 5-14 0 1 1 16 3 2 0-4 1-10 1 6 2 5 0-15 1 6 1 7 0-4 1 10 2-15 1 17 0-5 1-2 3 2 1-3 0 0 0 3 2-12 0 6 1 11 1-15 0 4 2 0 2 3 1-9 1 5 0 1 0 7 0-10 1 14 4-3 0 4 0-23 1 3 0-2 2 10 0 11 1-18 0 12 0-14 0 11 3 1 1 9 3-20 1 16 1-8 1 12 2-5 0 0 1 4 2 0 1-5 0-1 0-8 1-7 2 11 2-3 2 9 1-14 0-3 2 15 1-4 1-5 1-3 0 13 1 4 0-3 3-14 2 12 1-7 0 3 2 3 1 0 3-15 1 4 1 8 1 7 5-8 5-3 0 7 3 3 21-6 3 7 1-16 4 6 1 5 7-3 3 5 0 7 20 23-11-15-5 3-3 11 0-2-4-8-3 12-4-2-3-5-3 2-2-10-1 6 0 5-10 0-2-10 0-1-4 10 0 5-1 0-4-21 0 15-1 1 0 0-1-8-2 2-2 0 0 0-5 3-1-4 0 1-1 7-1-6 0-11 0 1-5 13-1 0-1-10 0 16-1-15-1-1-3 7-1-13-1 13-2-9 0 6-1 4-1 2-1-12-2 0-3-2-2 2 0 0-2-4-1 1 0 13 0 9 0-19-5 13-3-8-2-3 0 16-1-14-1 14 0-8-1-1 0-2 0 7-1-10 0 5 0 9 0-22-1 12 0-4-1-3-2-4-1 15-1-13-1 15 0 2-1 2 0-12-1 1-2 10-1-17-1 15-1 4-2-15 0 15 0-17-2 11 0 0-3 3-1-6-1-5 0 2-2 2 0 8-1-1-1 0-1-8 0-6 0 17-1-13 0 6 0-14-1 3-2 6-1-9-1 17 0-6-1-11 0 13-1 5 0-17-3 4-1 12-1-8 0-5-1 4-1 12 0-20-3 8-1-9-2 8 0 3 0 6-1-1 0 6 0-11 0 5-1-3-1-10-1-3-1 4 0 9-3 6-1-4-1-1 0-8-1 0 0-7 0 23-1-8-1 4 0-10-1-9 0 16-1-11-1 14 0-13-2 17 0-3 0-11-2 4 0 7 0-9-2 3-1 0 0-3 0 4 0 6 0-15-1 1-1 3 0 1-1 2-1-4 0 3 0-2 0 0-2 10 0-4-2 6-2-4-1 1-1-15 0-3-1 4 0 17-1-6 0-2-2-12 0 3-2 12 0-1 0-2-3-5-1-1 0-5-1 12-1-6 0 2-1 10 0-6-1 6 0-17 0 2 0 15-1-7 0-6 0 12-1-5-1-4-1 2-2-9 0 7-1 1-1 9 0-20-1 1 0 6 0-7-1 21-1-21-1 1-1 13-1-10 0 12 0 5-1-13 0-6-1-1 0 0-2 7 0-5-1-4-1 3-1 10 0 2-3-10 0-3 0 11 0-8 0 0 0-3 0 5 0-7-1 0 0 11-3 1 0 9 0-3-1 2 0-19-1 4-1 17-1-7 0 0-1-1-1 5-1-18-1 22 0-2-1-12-1-9-2 1-1 14 0 4 0-6 0 7 0-14-1 11-1-13 0 5 0 13-1-8 0-9-1 5 0 1-2 8 0 3-1-9-1-7 0 10-1-9 0 0 0-7-1 9-1 7-1 0 0-2-1 7 0-3 0-12 0 11-1-13-1 1 0 3-1 14 0-13 0 8 0-17-1 13-1-10-1 16-1-6 0-12-1 22-1-3 0-2-2-17 0-1-1 17 0 2 0-2-3-4-1 6 0-9-1 1-1-8-2 17-1-15 0 3-1 4-1 9 0-9-1-4-1-1-2 7-1-11 0 18 0-6 0-3-5 0 0 5-1-6 0 2-2 7 0-3 0-10-1 16-1-18-2 7-1 0-3 1-3-10 0 9 0 2-1 9-1-3-1 0-1-13 0 0-2 10 0-14-1 7 0-5 0 14-1 2-1-12 0 4-1 2 0 5 0-11 0-6-1 15-1-1 0-1 0-8 0-7 0 3-1 15 0-3-1 4 0-16-1 18 0-22 0 12 0 11-1-17 0 7 0-3-1 4 0 5 0-19 0 14 0-4-1-1 0 13 0-1 0-10-1-10 0 3-1 18 0-13 0 6-1 2-1-10 0 9-1 1 0-5-1 8 0-12-1 3 0 6-1-3 0-5-1-7 0 12-1 4-1 0 0-2-1-9 0 15 0-8 0-14-1 11 0-3 0 6 0 9 0-18 0 8-1 9 0-16-1 3 0 8 0 4 0-17 0 8-1 2 0-1 0 10 0-1 0-18 0 4-1 10 0 0 0-12-1-1-1 2 0 8 0-1-1 7 0-3-1-1-1-8 0 8-1 5 0-22-1 14-1 8-1-18 0-2-2 17 0-4 0-15-2 22 0-12 0 11 0-8-1 10-1-2-1-19-5 19 0-5 0-14 0 18 0-8-2-12 0 23 0-23-2 17-1-1 0-4-1 3 0 4 0-7-1 0-1-8-2-4-1 12-1 1 0 1-2-3-2-9 0-1-1 19-1-20 0 11-1 2 0 0-1 0-1-2 0 3 0-14-1 9-1 7 0-6 0-2 0 7-1 7 0-4-1-4 0-1 0 7-1-3 0-11 0 12-1-7-1-10-1 20 0-2-1-13 0 13-1 0 0-18-1 5-1 12 0-9-1 2-2-5 0 8-2 2 0-8 0-3-2 18 0-6 0 4-2 1-2-21 0 7 0 2 0-9-1 14-2-15-2 10 0 12-2-11 0 4 0-14 0 2 0 10-1-11 0 11 0-1-1 4-1-12-1 7-2-5 0 15-4 1-1-4 0 3 0-2-1-5 0-9 0 3-1 7-1-7-1 7 0 5-1-3-1-6 0 6-2-7-1 10-2 2-1 0 0-6-3 3-1-1-1-14-1 11-1 0-1 1-1 1 0-10 0-2-1 3-1 9-3-4-2 2 0 7-1-14-1-2-3-3-1 18-5-1-1-9-5 2-1 1-3-13-1 5-6 12-10 2-9-2-8 5-5-3 28 12 2 4 6-2 1 11 1 0 1 0 1-13 0 7 1-10 1 18 1-3 2 1 3-2 1 3 1-7 0-9 0 14 1 3 1-4 1-1 1-3 1 4 1-1 0 1 0-8 1-2 1 3 0 1 0-6 0 13 1-18 0 7 0 13 0-7 0-10 1 5 0 6 2-15 0 11 0 5 1 1 1 5 1-19 0 7 1 12 1-3 0-4 0-13 0 7 0 4 1-14 0 8 0 11 1-10 0 11 1-20 0 21 1-14 0 15 1-22 0 15 1-4 0 6 0-7 0 7 0-2 1-5 0 11 1-13 1 6 1 1 2 0 0 0 0 4 0-4 0 2 1 0 1-12 0 17 0-6 0 0 1-16 0 9 0 0 1 2 1 11 0-2 0 2 1-1 1-6 0-6 0 10 1-12 1 13 0-11 0 13 2-8 0-7 0 4 1-8 1-3 0 15 0 3 0 3 1-15 0 10 0 2 0-14 1-1 0 3 1 14 0-12 0-1 0 7 1-4 0-3 1 11 0-1 1-4 1 10 0-2 0-4 1 4 0-6 0-13 0-1 1 18 1-1 0-6 0 3 1-5 1 1 0 12 0-15 1-8 0 20 0-19 0-1 1 3 0 11 0 4 0 0 0-15 2 17 0-8 0-5 0 7 1 9 1-5 0-6 0-1 1 8 0-12 0 7 2-13 0 17 1-4 0-12 0 21 1-15 0 9 1-11 0 3 1 14 0-2 1-4 1 1 0-11 0-3 0 11 2 3 1-8 0 4 0 8 1-17 0-3 0 19 1-15 1 0 0 13 1-6 0-5 0 14 0-20 1 3 1 13 0-16 0 14 1 6 0-16 1 2 0 2 0 5 2 7 0 1 1-16 1 16 0-9 0-13 1 18 0-4 1 4 1-9 0-1 0-1 0 15 1-23 0 21 0-21 1 4 0 3 1 0 1-5 0 3 0-1 0 4 0-4 1 1 0 14 0-15 0 3 0 0 2 10 0 6 1-20 0 16 1-17 0 20 1-10 0 9 1-18 1 16 1 1 0-6 0-3 0 8 1-6 1 9 0 0 0-14 0-2 1 6 0-3 0 12 1 0 0-6 0 5 2-2 1-2 0 7 1-6 0 0 0-5 1 9 0-14 0-5 0-2 0 9 0-7 0 2 1 15 0 4 1-10 0 2 0-14 1 18 0-1 1-14 0 10 0 4 0-5 1 9 0-3 0-14 0 3 1 3 0 2 0 3 2-2 0-11 0 1 1 18 3-13 0-5 1-1 0 14 0-3 1 3 0-15 1 10 1 9 0 1 1-18 0-2 0 2 1-3 0 17 0-1 2-2 1-9 0 13 1 0 1-14 1 13 1-15 1 1 2-1 0 14 1-17 0 13 1 10 2-17 1-1 1 8 0 7 0 3 1-14 0-9 0 5 1 9 1-3 0 6 1-8 0 9 0-16 0 1 1-3 0 1 2 0 1 21 0-13 0 13 1-15 0-4 1 4 0 0 0-2 1-2 1 17 0-18 0 4 2 11 0-6 1 12 0-1 1-15 2-5 1 8 0 1 0 5 2-3 2 4 1-7 3-9 2 3 2 6 2-7 0 12 3-9 1 10 0-7 0-8 0 14 1 3 0-1 3-16 1 19 1-7 0-2 1 1 1-2 1 10 0-15 1 14 0-11 0 1 1-5 3 7 0-7 1 2 1 17 2-1 1-4 0-8 0-1 0 8 1-6 0 8 1-19 0 12 1 2 0-6 1 1 0 6 1 2 0-4 1-11 0-1 0 11 0 7 0-6 3-5 0-4 0 9 0 6 0-11 3 11 1-15 0 4 1-3 1-5 2 7 1-1 1 5 2-3 0-2 1 2 0 4 2 11 0-10 0-10 0 20 0-2 0-12 3-6 0 8 0 3 0 4 0-9 1 0 2-3 0-5 1 17 1-9 0 5 0-14 1 6 1 14 0-13 1 5 0-1 1 0 0 9 0-15 1 18 1-19 1 15 1-8 1-3 0 1 1-9 0 2 2 12 0-7 0 3 0-2 1 12 2-16 2 18 0-12 1-9 0 0 1 3 0-2 1 19 0-14 1-1 0 6 1-11 1 13 0-14 1 0 1 16 0 5 1-6 1 8 3-3 0-17 1 1 2 1 1 16 1-15 1-4 3 11 1 9 0-19 2 12 1 5 0-9 2 10 0-21 2 3 0 20 1-14 1 10 0-1 0-15 1 12 1 4 0-4 3-8 0 12 0-9 0 7 0 0 1-2 1-5 0 0 1-4 0 11 0-2 1 4 0-9 0 7 1-1 1-9 1 14 0-21 1 8 0 5 1-9 3 4 0-6 0-1 0 11 1 11 0-4 1-10 1 1 1-5 0-1 4 2 0-4 2 18 2-4 1-9 1 0 3-2 1 2 1-5 1 10 0-3 0 2 1 12 0-10 1 1 1-12 0 3 2-1 0 10 1-7 1-1 0 5 1-1 2-7 0 2 1-3 1 4 2 3 1 11 0-8 3 9 0-11 0 1 1-9 2 15 1-10 2-7 3 12 1-7 2 17 0-6 1 4 0-13 2 4 2-9 3 11 0 2 1-7 0 7 3 3 0-17 1 8 3 3 1-7 0 5 2 10 0-17 1 15 1-18 1 23 1-2 1-13 1 13 0-13 0 13 0-2 2-8 1-10 1 3 0 0 2 14 0-14 0 14 3-18 0 23 3-22 1 4 0 12 0 5 1-3 0 0 1-6 1-10 0 13 1-13 0-1 1 18 2-1 1 4 2-20 3 12 1-15 2 15 0-15 2 19 0-1 1 2 7-16 0-2 1 11 3 9 1-5 2-13 1 11 0 4 2 1 5 3 1-13 0 10 1-1 4-8 0-11 1 2 2 16 3 2 0-11 1-7 2 8 2 11 4 0 0-1 2-1 2 2 2-16 0-2 1 8 1 12 1-11 1 4 1 3 1-11 0 0 6 15 2-19 0 12 5-4 1 4 3-1 1-13 1 6 8 9 2 4 12-8 3 2 2-11 0 6 10 12 10-2-7 4-1 5-1 5-2 0-3-3-1 13-5-5-3 2-3-13-4 4 0 5-3-1-5 2-1-3-13 7-1-9 0 3-2 6-1-3-3-9-3 12 0 1-2-10 0-7-1 12-1-12 0-2-2 6-2 9-1 3-1 3-1-17-2-1-2 14-1-17 0 10 0-6-1-1-1 4-2 4-1 2-4-8 0 8-1 7 0-2-2 5 0-19-2 4 0-6-1 17 0-1-1-14 0 6-1 9 0-16-1 2 0-3-1 12-5-3-1 7-2-11-3 11-2 4 0-21 0 14 0-7-1 2 0 0 0 9-2-15 0 4 0 15 0-8-1 4-1-7-1 0 0-11-1 16 0 1-2-9-1-4-1 7 0-2-1-10 0 23-1-12 0 10-1-20-1 15-1-7-2 10 0-11-1-2 0 3 0-7-3 20-1-13-2 6 0 3 0-4-2-12 0 11-3 5-1-2 0 3 0 2-2 0 0 1-1-13-5 4 0-6-1-6-1 9-2 5-2-8-1 15 0-5-1-13 0 9 0 2-5 0 0-13 0 17-1-14-2 13 0-8-1 5 0-5-1-6 0 9-2 3-1 7-1-19 0 15-1 3-1-18-1 2-1 2 0-1-1 15-3-12 0 4 0-13 0 8-1-7-1 5-1-4-2 3-1 17-1 0-3-5 0-13-1-2 0 10 0 10-1-2-1-7-1-6-1 14 0-5-1-12-1 3-2 7 0-8-1 3-1 4 0-8-1 4-1-1-1-4-2 5-2 3-5 9-1-21 0-1-3 4-1 7 0-5-1 11-5-10-1-7 0 16-1 3-2-17-1 19 0-1-1-5-2 2 0-6 0 11-1 1-2-3-3-20-1 6-2 14-1-7-2-10 0 20-1-7-1 7-2-8-1-14 0 1 0 19 0-18-1 14-1 1-1-5 0 9-1-19-1 18-1-6-2-3 0-1-1 6 0-3-1 6-2-10-2 12-3-22-1 19-1 1 0-2-3 1-1 3 0-5-1-7-1 10 0-18-1 14 0-11-1 15-1-8-3-1-1-8 0 18-2-6-1-15-3 2-1 2-1-3-1 14-1 6-3-5-1-16 0 1 0 10-1-9-1 10 0-10-1 6 0 2-1-2 0 3-1-11-1 23 0-7-1-16 0 11 0 12 0-20-1 16 0-4-1-4-1-9 0-1-2 13 0-8 0 7-2 5-2 2-1-17 0 6-5 4-1-2-2 1 0-11 0 3-1-3-1 5-1-5 0 5 0 6-3 2 0-13 0 18-2-6 0 0-1 0 0-11-6 19-1 2 0-22 0 20-1-15 0 16-1-1-1-4-1-4-1-13-1 0 0 15-2 5 0-4-1-15-1 8-3-8-1 11 0 5-3 6 0-12-1 0-4 10-2-19 0 1-2 15-1 5 0-13-1 3 0-6-3 14-3 2-3-6-2 4-1-4-1-2-1 6 0-9 0-3 0-7-2 20-1-11-1 0-1-6-2-5-2 13-1-8 0-1-1 17-1-3-3-12 0 2-3 2 0-1-2-3-1 15-2-10 0 0 0 3-1-1-1-5 0-6 0 19-1-14-6-4-1 5-1 11-1-9 0-3-2 11 0-17 0 11 0 5-1-4 0-6-3 1-2-3-1 0 0 11-1-14-2-1-2 9 0 8-1-16-1 12 0 4-1 2-1-16 0 1-1 1 0 15-1-11-1-4-1-5-1 7-2 9 0-3-1-9-1 2-2 9 0-1 0-1-1-13-2 12-1-11 0 21 0-2-1-17-1 13 0-4-1-12 0 3-1 6 0-10 0 9-2 1 0 0-2 1 0 9-1-14-1 10 0-6-1 3-2 6-1-16 0 14-1 2 0-15 0 3 0 8-1-4 0 12 0-1-1-15-1 5 0-1 0 4 0 3-1-16 0 10-1 3 0 4-1-8 0-5-1 1 0 4-1-9-1 14 0-13-1 12-1-8 0-7 0 22-1-6 0 7 0-12-1-6 0 7 0-2-1-10 0 22 0-19-1 2 0 12-1-16 0 19 0 2 0-9-1-9 0 7 0-4 0 0-2 4 0-4-1 11 0 4-1-12-1 9 0-4 0 4-1-15 0-3 0 10 0-1-1 6 0-11-1 2 0 5 0-11 0 1 0 0 0 12-1-1-1-13 0 14 0-13 0 6-1-3-1-4 0 9 0 1-1 6 0-5-1-7-1 9 0-9 0 13-1-9 0 3 0 9 0-17 0 12-1-4 0-2 0 4 0 5 0-17-2 4 0 12 0-13 0 6 0 7-1-11 0 6-1 2 0 8 0-18 0 16-1-13 0 7 0 4-1-7 0 9-2-14 0-1 0 12-2-14 0 12 0 8-1-16 0 4 0 1 0-3 0-1-2 2-1 8 0-16 0 6-1-1 0 1-1 7 0-12-1 12 0 5 0 0 0 2 0-11 0-9-1 9-1 10 0-5 0-14-1 6 0 8-1-1 0-11 0 9-1 8-1-10 0 10 0-8 0-11-1 20 0-7 0 3-1 2 0 1 0-17 0 14 0 3-1-16-1 8-1-11-1 12 0-6 0 7 0-2 0 2 0 6-1-14 0 9-1-6 0 8 0-18 0 10-1-5-1 10 0-1 0-10 0 17 0-2 0-7-1 10 0-6 0-3-1-12-1 7 0 2-1 3 0 2 0 8-1-2 0-21 0 16 0-4 0 2 0 5 0 3-1-17 0 9-1 7-1-3 0-3 0-3 0-9-1 19 0-20 0 14-1-1 0-3 0 7-1-4 0 1 0 6-1-2 0-4 0 1-1 4 0-1 0-3 0-11-1 12 0-12 0 14-1 3 0-6 0 0-1 5-1-19 0 18 0-9-1 2 0 1 0-5-1 11-1-15 0 9-1 5 0-15-1 17 0-13-1-8 0 7-2 15-1-8-1-3 0-8-5 19 0-5 0 3 0 2 0-2-1 2-8 20 0-4 2 1 2-14 1 3 1 2 0 10 0-13 0 4 1 9 0-1 0-11 1 2 0 0 0 2 1 0 0-3 0 9 0 1 1-7 0-3 0 15 0-4 0-14 0 3 0 0 1 2 0 4 0 1 0 3 0-9 0 0 0 2 0-8 0 0 1 6 0 3 0 3 0-7 0 2 0 0 0 5 0-5 0-3 1 9 0 2 0-2 0-4 0 2 0 2 0-5 0 9 0-2 1-5 0 10 0-3 0-8 0-6 0 5 0 1 0-8 0 6 0 1 0 6 0-7 0-6 1 17 0-18 0 3 0 5 0-7 0 16 1 0 0-4 0-3 0 2 0 5 0-18 0 12 1 0 0 4 0-14 0 6 0 11 0-16 1 9 0 0 0 3 0-4 0-6 0 0 0 6 0 10 0-15 0 7 0-7 0 5 0 9 0-4 1-1 0-15 0 5 0 7 0-11 0 15 0-6 1-3 0 11 0-12 0-3 0 6 0-4 0 0 1 14 0-11 0 0 0 5 0-4 0 0 0-2 0 5 0-2 0 11 1-21 0 13 0-7 0 5 0 2 0 5 0-5 0-9 0 8 1 6 0-12 0 11 0-6 1-3 0-3 1 10 0 1 0 4 0-16 0-3 0 3 0 10 0-2 0-3 0 10 0-11 1-7 0 4 0 10 0-12 0-3 0 3 1 16 0-15 0 0 0 10 0-6 0 5 0-3 0-1 0-2 0 2 1-8 0 6 0 6 0-3 0-5 1 8 0 4 0-15 0 13 0-6 0 9 0-15 0 5 1-5 0 5 0 8 0-16 1 1 0 16 0-6 0-11 0 20 0-14 0 6 0-6 0 0 1 2 0 1 0-7 0 4 0-1 1 8 0-11 0 8 0 3 0 0 1-12 0 4 0 5 0 1 0-4 0-6 1 21 0-16 0 1 0 2 1 4 0-12 0 2 1 11 0-9 1 15 0-1 0-1 0 4 0-5 1-7 0-2 0-4 0 2 0 6 1 9 0-3 0 3 1-4 1-13 0 4 1 6 0 1 1-9 0-4 0 7 0-7 1 19 0-10 0 2 0 0 1-10 1 13 1-16 1 0 1 13 0-8 0 9 0 8 1-20 1-2 0 5 1 2 0 12 0-2 0-16 1 2 1 16 1-16 1-1 1 13 0 2 0 1 0-18 1 19 0-2 0-17 0 10 2-5 1 7 0-1 1 12 1 0 0-22 1-1 2 0 0 4 1 0 1 17 2-19 0 6 0-1 1 5 0-11 1 3 1 4 1-3 0 8 2-7 0-3 2 15 1-17 0 16 1-6 1-11 0 6 2 5 2 5 5-1 0-4 5 0 2 8 1-16 1 7 2 2 0-12 4 5 2 0 2 14 1-6 1-6 0 16 1-22 3 5 1-1 1 6 1 12 2-19 1 0 0 2 1 4 1 7 2-11 1-1 0 8 0-7 2-6 3 21 0-5 1 0 4 0 0 4 2-3 0-17 1 16 1-13 0-1 1 21 2-11 0 10 10-15 1 4 0 7 1-8 0-5 2-1 2 6 1 12 0-21 2 11 0 5 0-4 2-11 5 15 0-15 5 4 1-4 2 7 1 4 0-6 0 3 2 7 2-11 1-1 0 6 0 8 0-1 1-6 1 1 0-11 1 9 0-3 1 8 3 0 1-1 3-11 0-4 2 5 1-2 1-2 0 4 2-5 0 12 1-8 0 6 2 12 0-5 2-13 3 10 1-6 0-8 1 15 2-8 0 8 1-15 2 13 1 7 0-13 1-4 4 7 1-8 2 11 3 7 2-3 0-3 2-13 0 8 0 1 2-4 1 6 2 11 1-20 0 2 0 12 1-1 1-8 0 13 3-12 0 9 0-1 5-3 0 1 0-7 1-6 0 12 4-4 0-8 0 19 0-4 0-9 1 13 1-13 1-8 0 1 0 1 1 6 0 10 2 3 2-21 0 14 0 7 0-8 0 1 2-6 1 3 1 7 1 5 0-4 2-16 1 16 0 4 2-3 0 0 0-10 2-8 0 0 1 2 0 6 0 0 1 9 4 4 1-9 1-13 0 22 1-20 0 11 1-11 1 5 2-2 0-6 1 21 1-6 2-8 0 2 1-1 0 7 1 6 1-17 0-4 0 12 0-1 0 4 1-6 2 12 0-4 2-16 6 21 1-9 0 10 0-15 6 11 3-17 2 9 0 12 1-4 0-11 1-6 1 10 2 10 0-16 1 11 2 5 2 0 1-16 0 15 2-2 4-19 0 12 1 2 1 2 0-10 1 3 3-2 1 12 0-17 1 21 3-4 2-1 2-2 1-11 1 15 1-2 1-17 0 9 1 9 0-3 0-14 1 0 0 9 0 6 0 6 2-20 0 2 0 4 1-6 0 17 2 3 0-9 1-5 2-7 0 2 3-1 0 14 0-13 3 2 0 1 1 9 2-9 0 0 1 8 1-15 1 8 1 11 0 0 2-12 0 6 1 0 1-10 0 8 1 12 3-19 0 11 2-2 0-9 1-4 2 11 1-8 0 18 3-14 0-1 0 9 0-5 0-9 1 5 1 3 0-1 2 9 0-17 1 0 0 0 2 22 0-19 2 8 1 4 2-13 0 3 0-2 1-2 0 12 1-3 0 6 0 5 3-16 1 6 0 1 1 6 0-10 4-5 1 18 0-10 0 12 2-14 0-8 1 18 2-17 1 21 4-16 2 12 1 0 1-17 0 4 0 9 1 5 1-20 0 23 0-12 1 6 0-8 1-4 0 14 0-4 1-7 1 11 1-16 0 7 1-10 0 11 0 7 0-12 0 14 1-11 0 2 0 0 2 2 0 10 1-11 1-11 0 3 1 11 0-15 0 11 1 0 0-10 1 5 0 6 4-5 1 8 1-15 0 5 1 5 0-3 1 13 0-1 1 1 0-4 0 6 1-15 1 13 2-16 0-2 0-1 3 11 0 1 0-4 1-7 0 3 0 9 1-7 1 1 3-7 2 17 0-12 2 15 0-19 1 1 2-1 0 8 1 0 1 2 1-6 0 15 1-15 1 3 0-8 2 11 2 7 4-5 0 1 1 4 0 3 1-17 1-5 1 13 2-12 2 10 0 11 1-13 1 9 0-12 2 7 0 8 1-13 2-7 2 18 1-1 1-11 1 14 0-1 1-15 0-5 1 17 2 5 1-1 0-7 0 9 0-23 1 2 3 0 2 12 1-14 1 12 0-2 5-8 0 5 0 6 3 2 3 1 5-2 0-5 1 6 3 4 0-10 2 11 2-11 0 14 2-16 1 11 5 5 2-6 1 2 3-18 6 7 9-6 0 29-8 16-1-12-1 6-1 6-5-21-2 20-1-17 0-2-1 6-3 1-2-1 0-1-2-1-5 13-2-20 0 14-1-11-2 8-1 7 0-16-1 16-1-10 0 13-1-21 0 2-4 12-1 8 0-2-3-9 0-1-2 10 0-1 0-10-1 9-1-5 0-13 0 3-1 2-1 12-1-4 0 6 0-16-1 19-1-5-1-2 0 7-1-10 0-7-1 17-1-9-1-4 0 3-1 1-1-12-1 7-1 6 0 5-1-11 0 12 0-13-1 5-1 3 0 2-2-5-4 6 0 4 0-6-1-4 0-11 0 6-1-5 0 12-1-4-1 1-1 7 0 3-3-2-3-11 0 0-4-1 0 7 0-9 0-4-2 0-1 11 0 4 0-1 0-5 0-4-1-1 0 9 0-5 0-8-1 3 0 8-1 11 0-18 0 3-1-5 0 10-2-2-2-2 0 2 0-5 0 6-4-10-1 4-1-3-1 18 0 2-1-14 0 6-2-3 0-6 0 5 0-7-2 0 0 4-4-5-2 19-1-21-1 14 0-9-1 10-1-16-1 11-2-10 0 5-1 15-1-17-1 11-1-7-1-1-1 3-1 6 0-11-2 8 0 7-1-6-1-8-1-2 0 16-4-10-2-5-2-4-1 12-1-9-1 9 0 2-3-13-1 2 0 15-1-13-2-5 0 0-1 13-1 2-3-2-5-2-4 7-1-14 0 7-3-6 0 10-1 0-1-5-2-9-6 6-1-5 0 16-2-12 0 5 0-1-4-11-2 5-2 4-4-3-1 13-1-18 0 2-1 15-2-7-3-9-2 9-2 3-4 2-4-5-2-4-2-5-1-2-2 2-4 10-3-6-3 2-7 14-1 0-1-17-1-2-1 4-1 14-2-18 0-3-4 11-3-9-1 9-1-10 0 11-2 3-1-7 0 3-1-11-1 13-4-1 0-8-4 17 0-15-1 16 0-6-2-7-1-2-3 12 0 3-3-21-2 3-1 11 0 6-1-14 0 16-1-19-1 0-2-2 0 4-3-5-2 8-3 12-1-20 0 6-1-2-1 15-5-2-2-6 0-5-5 13 0-20-1 3 0 20 0-11 0-4-5 13-2-19-1-2-1 0-1 4-1 13 0 2-1-12-2 4-3-7 0 12-1 1-1-4-1-12-2 20-1-18 0-2-2 3-1-4-3 11-1-6-4 7 0-9-2 9-2-5-5-1-3 17-6-8-1 4-2-13-3 4-8 5-1 1-2-7-3-9-1 11-1-4 0-5 0 5-1 0-5 4 0-6-1 17 0-7-5-13-3 9-4-9-1 5-9 14-1-19 0 9-1-2-1 5 0-10-2 11-2-13-6 12-3-12 0 8-5-10 0 0-4 3 0 10-5-4-1-8 0-1-14 12-4-1-2 2-12 2-16 1 0-5-1-10-3 2-4 10-6-11 0 6-4-8-7 4-2-2-8 0-7-2-6 2-3-1-15-1 87 24 38 8 18-7 6 5 4 3 7-5 3 0 2-4 8 8 8 6 5 0 4 7 5-18 14 13 3-2 1-13 4 13 5 1 2-9 8-2 4-2 10 14 15-10 14 1 28-1 4-3 1 4 16 0 2 2 9-4 13 1 9-3 0-1 10-2 4 6 13 16 0-13 3 0 3 10 2-6 5-3 2 9 1-7 2 11 1-15 1-3 0 2 5 13 5-15 5 0 8 3 0-6 1 20 2-18 3 4 1-6 1 8 3 8 6 0 0 4 2-15 1 10 5 3 0-12 1-8 1 17 0-16 0 6 1 14 1-14 3 12 3-2 1-11 0 1 5-1 0 5 2 0 0-6 1 11 0-5 3-10 1 19 2-15 3 0 1 17 0-17 3-2 0 2 1-4 2 19 0-19 0 11 1-11 1 13 0-9 0 3 1-4 1 15 0-15 1 17 2-13 1 0 0 7 0-1 3-3 2-5 1 7 0-2 1 1 0-7 0-1 1 9 0-12 0 18 1-12 1 8 1-14 0-1 1 9 2-3 3 9 0 4 4-6 1 4 1-1 4-4 0-4 4 12 2-17 1 18 0-10 3-7 2 8 0-10 1 21 0-9 0-3 0-11 10 19 0-11 4 9 4-2 1 0 1 8 2-17 1 11 1 2 3-19 3 20 2-13 0 3 3 1 3-5 2-5-5 34 0 3-15-3-10-11-1 17-3 6-19-22 0 3-6-3-3 22-2-23-9 4-1 7-1-8 0 2-8-3-1-1-2 5-7-3-5 5 0 6-2-13-2 6-2 8-9-9 0 6-1 1-6-3-2-8 0-2-6 7-5 5-45-12-8 2 47 36 20 0 21-10 36-4 20 5 16 16 10-13 11 6 7 11-42 0-24 3 57 34 5 14-7 21"/>
</g>
<g id="gC">
<path class="sg" d="M80.7 130.4L96.1 109.9L120.1 101.3L145.9 97.8L171.6 103.0L197.4 106.4L223.1 113.3L247.2 127.0L257.5 147.6L257.5 171.6L248.9 192.2L228.3 206.0L197.4 214.6L171.6 218.0L145.9 214.6L120.1 211.1L96.1 200.8L82.4 181.9L77.2 154.5Z" fill-opacity="0.66" filter="url(#f6)"/>
<path class="mgC" transform="scale(.5)" d="M376 46l-2-9-6 7-2-11-15-3-1 10-70 7-114 23 91 0 52-19 7 19 8 1 3-13 1 12 1-2 5-3 0 3 1-5 6 2 1-11 8 13 1-2 2-5 6 1 5 9 3-12 1 13 5-10 5 0 4-11 4 17 45-11 17 4 1 9 21 0 25 0 60 25-27-3-1 3-26-14-20-3-3 17-7-1-17-20-50 12-2-9-8 1-2 0-6-3 0 0-15 1-1 19-1-12 0-4-1 14-1-1-3 2-2-18-1 7-1 12 0-2-4-19 0 16-1-7 0-2-1 6-4 3-2-17-2 5-3 7-2-2-1 10 0-6-3 4 0-2 0 2-2 5-1-13-1 12-1-16-6 7-6 0-16 3 0 6-17-13-4 7-7-2-2-6-5 15-11-5-6-6-11 6-2 3-2-9-8 3-8-1-3-11-11 5-6 8-1-16-3 13-1 5-16-10-2 13 0 0-2-5-24-9-7 12-31 11 7 4 24 12 13-22 11 17 22-14 2 18 3-4 1-8 11 9 3-12 10-5 0 5 3 9 6-1 15-6 2 2 8 1 0 10 3 0 0-7 1-2 1-10 6 17 3-6 1 2 4-1 4-3 6 7 1-10 2 12 3-12 2 11 2 0 5-14 1 0 7 6 0-6 10 6 2 7 0-7 6-4 2 3 0-7 4 10 0 3 1 6 1-18 2 15 1 2 1-8 2 10 0-2 4-1 1 0 1-1 1-6 0-13 2 9 0 6 2 6 0 0 1-14 1 16 0-16 0 0 1 0 1-1 1-5 1 22 0-14 3 14 0-6 4-14 2 14 1-11 0-6 1 4 2 13 3-6 1-8 0 1 3 3 2 4 4 0 0 6 8 2 2 3 1-10 4 3 3 4 1-13 5-3 8 10 2 0 4-11 11 15 12 1 2 0 2-5 2-2 3 7 7-16 3 6 16-7 9 3 3 10 1 7 5-12 3 14 3-4 6-1 7-13 5 0 100 42-14-3-7-11-47-6-16 10-4-7-1 9-3-6 0-6-3 9-2-2-7 10-4-3-15-3-3-4-3 5-3 5-1-2-1-2-15-1-2-6-11 9-8-8-7 5-3 5-12 3-2-4-2-16-3 19-1-7-3 8-1-5-5-16-7 9-3 6-1-1-13 6-5-6 0-9-1 13 0-18-5 9-3-6-3 8 0 1-2-12-1 6-2 4-1 10-1 1 0-2 0 2-1-12-1 0 0 9-2-1 0-18-4 18-1-13-1 6 0 5 0 2-1 1 0-10 0 1 0 3-3-11-1 14 0-12-2-2 0 4 0-3-4 4-3 6-1-7-1 7 0-10-3 12 0 3 0-9-3-4 0-4 0-2-1 13-1-2-3-10-9 18-1 1-1-10-2-10-1 17 0 0-2 6-9 0 0-23-1 1-1-1-2 17-5 1-4-6-3 7 0 2-6-4 0-15-4 21 0-17-4 15 0-14-1-5-3 20 0-8 0-10-2 10-3-11-3-3 0 13-18-7-2-5-4 20-4-13-1-4 0-4 0 16-5 3 0-1-4-1-7 3 0-16 0 12-2 5-8-10-4 5-1-15-2 21-1-13-3 13 0-7-4-5-1 6-1-14-3 0-2 19 0-13-21 8-3-5-3 2-3 3 0-12-4 9-1 8-4-6-11 4-6-7-4-1-2-7-24-4-43 33 1-7 19 4 14-3 16 11 0-3 24-3 0 5 1-10 12 13 4-11 4 7 1 2 4 0 0 2 6 6 8-17 4 12 0-4 0-11 6 11 6-2 6 1 4-11 0 21 5-8 2-10 4 9 11-8 1 6 4-3 7 0 0-5 4-1 0 21 1-20 8 2 0 11 2-4 1-3 7-9 1 12 7-5 1 10 0-10 0 9 1-16 4 12 1 3 1-3 1-2 3 11 0-17 4 7 3 12 4-18 3-5 5 11 1-10 5 11 7-5 3 4 2 10 4-8 1-6 2 2 1 4 4-13 0 18 2 2 2-2 0-4 1 0 1-6 1-6 3 14 1-6 0-6 1 5 1 1 1 10 1-7 2 6 1-3 0-9 1 5 0 3 0-3 1 10 1-7 1-4 1 6 0-12 1 9 2-12 3 21 1-20 1 8 0-7 0 1 2 12 0-12 0 1 1-3 1 9 4 5 0 0 2-14 0 3 2 11 1-16 2 7 1 15 2-4 0-1 1-16 0 13 1-6 2-4 1 7 1-2 2-6 2 13 4 5 0-3 0-8 1 8 1-14 1-2 0 17 1-10 2 8 2 4 0-1 1-9 5-11 8 4 0 15 2-4 1 3 2 3 2-12 4 9 2 0 1 3 2-15 1 5 6-6 0 13 4-8 10 10 8-13 12 14 3-12 8 1 0 12 2-11 7-5 11 12 3-1 12 5 0-12 3 12 5-5 6-18 1 3 10 2 7 8 0-8 10 11 7-12 10 16 2-19 26 3 5 8 14 11 2-3 3-20 18 27-56 4-5 3-2 10-2-10-6 0-22 8-1-14 0 12-6-11 0 9-1-2-2 7 0-14-1 1-5 1-1 0 0 11-5-8-4 0-1-10-4 23-4-3-9-9-3 7-3-18-2 22-8-10-1-8-4 0-1 9-4-11-1 14 0-14-1 0 0 17-3-13 0-4-3 0-16 17-1 1-2-14-2 6-1-8-3 13-1-11-3-5-2 7-7-4-1 19-2-17-7 13-2-7-3 11-3-8-2 1-1 3-2-9-3-4 0 5-1 4-2 0-5-9-2-6 0 1 0 2 0 0-1 17 0-18-2 2 0 10-1 4 0-1 0 2-1-9-1-2-1-7-2 8-2 3-1 2 0-5-1-5-1 6 0-6-1 9-3-1-1 0-1 6 0-13 0 6 0-8 0 9-1 6-1-2-1-3 0 8 0-1-2-5 0-14-1 7-1 8-1 7 0 0-1-18 0-3-1 4-1 14-1-6 0-9-1-3-1-1-1 2-1 13-1-15 0 10 0 0-2-4-1-5-1 13-1-2-1-9 0 13 0-10-1 12-3-4-1-12-3 6 0 6-1-7-1 7-1 1-1-10-1 12-4-11 0 11 0-1-2-2-1-9-1 1 0 12-2 3 0-12 0-4-1-4 0 12-1-14 0 17 0-10-2 16-1-21 0 20 0-12-2-4 0 12-1-18-1 22 0-1-1-6-3-15-1 16-2-4-3 6 0-12 0-4 0 12-1 2-1 1 0-16-1 19-8-20-2 5-1 9 0 6-2-8-4 10-1 0-4-22-3 7-2-7 0 12 0 2-1 4 0-8 0-5-4 14 0 4-6-23-4 19 0-17-3 1-2 11-3 7-1-2 0 1-3 1-2-14 0 15-3-7 0-13-2 9-1-7-1 11 0 7-1 0 0-18-5 3-3 0-3 11 0 2-2-1-1-18 0 5-1-3-1 10 0 1-2 7-2-13 0-5 0 7-1-3-1-7-1 18-1-13-3-3-1 21-5-8-1 7-2-8 0 5-2-4 0-9-2 3-1 13-4 0-4-4-7-3-3 3-3-3 0-5-2-3 0 11-3 5-4-14-4-4-1 1-4 13-4-9 0 1-12-7-2 13-9-16-2 18-1-4-5-8-2-5-22 10 0-3-3 8-5-13 0 9-4 0-5-9-32 16-25 4 53 10 10-3 5 6 1 10 4 0 6-1 1-18 0-4 2 4 1-3 1 21 2-1 9-5 1-16 18 18 6-2 1 0 1-12 2 19 2-19 2 0 8-4 1 10 3-7 0 15 2-5 1-5 1 15 1-14 3 1 3 13 2-18 1 0 1 17 0-7 0-11 3 6 1-1 2 1 1 12 5-17 1-3 0 11 0-9 2 2 0-2 1 18 2-17 3 9 2-9 4 15 1 0 2 3 2-9 0 2 1-8 3 8 1-7 0 1 1 5 1 3 0 0 1 1 0-5 2 1 0-1 1 3 1-6 1 6 1 6 1-6 2 3 2-18 4 11 1-7 2 15 3-10 2-5 4 17 1-4 1 1 4 3 1-9 0-13 1 9 3 9 1-19 1 15 5-10 1 9 1-5 2 1 5 10 1-11 2-8 0 0 1 20 2-19 1 19 0-18 3 7 3 7 2-6 1 12 0-17 1 10 0-2 1-10 3-3 2 3 1 3 1-1 1 4 0 10 5-15 0 18 2-3 0 0 5-6 1 3 1-8 2-5 0 15 4-10 3 12 0-21 0 11 1 9 1 1 2-17 1 6 1 2 1-12 1 10 0 13 3-8 1 6 1-9 3 11 0-9 2-14 0 20 1-2 0-10 0-8 1 9 0 3 0 4 1-6 0-3 1 14 1-7 0-14 0 22 0 0 1-2 1-7 0 10 2-15 0 8 1 2 1-13 0 3 0 10 1-18 1 18 0-2 3-7 2 9 0-1 0-14 2 12 0 2 0-3 2 1 2-3 2 7 2-15 0 13 1-16 1 16 2-11 0 11 1-1 2 0 2-16 1 10 1 7 3-3 0 8 3-15 2 0 1-3 0 5 4 8 2-2 8 7 3-5 0-15 1 16 0-12 1 6 1 11 1-15 1 12 0 3 2-20 0 17 1-8 1 11 2-16 4-5 1 19 0-2 0 0 1 1 2-19 0 3 2 19 1-1 1-12 2 11 1-1 0-10 1-3 3 15 0-15 4-5 2 18 0-8 4-4 11-7 6 8 4 1 0-3 1 15 5-8 0 7 5-11 1 2 1 9 1-17 3 16 1-18 3 20 0-9 1 10 14-19 2 15 0-9 2 11 0-1 3-6 3-6 1 15 1-13 5 7 0-8 2-2 1 12 3-11 3 8 6 1 1-11 6 13 0-9 9 13 0-19 9 17 4-2 12 0 4 2 2-16 47-1 8 21-52 20-2-6-3-12-1 19-4-17-5-1-25 1-2 10-6-6-4 1-9 6-4 0-4-11-1 1-1 17-2-20-2 12-5-12-1-3-2 8-5 11-3-17-1 13-2-13-2 21-1-13-2-8-3 14-4 6 0-5-3-6-2-8-1 0-1 18 0-10-4-7-2 16-2 0 0-13-1 8-1 1-5-10 0 6 0-4-1 5-5-4-1 8-1-5 0-1-3 7-1 0-2-14-1 2-1 3 0 14 0-23-1 2 0 14-2-10-1-5 0 5-2 11-1-16 0 9-2 2-2 9 0-19-2 20 0-11-4-3-2-1-2-1 0 14 0-3-2-7-3 7 0 0-1 5-3-7 0-8-1 6-2 2-1 4-4-3 0-15 0 1-2 20-2-4-4-18 0 6 0 16 0-10 0-8-3 0 0 0 0 2 0 0-2 17 0-13 0-1 0-4-1 2-2 5 0-1 0 7-2-10-1 15-1-10-2-11-1 15-2-14 0 13-1-5-3 0-2-7 0-3-1 20 0-1 0-1-2-13 0 1-1 1 0 12-1-3 0-2-2-3 0-4-4-2 0-1-1 18-1-13 0-8 0 15-1 6-3-6-1 4 0-8-1 7 0-2-2-8-1-5-1 10 0 6-1-17 0 16 0-2-2-14 0 4 0-4-1 16 0-3-1 1-1 1 0 0-1-8 0 10-1-11-2 9-1-3 0 7 0-4-1 2-1-16-4 17 0-17-1 14-2-13-2 17 0-23 0 7-4 12-2-11 0 3 0-7-1 3 0 3-1 1 0 8-3-17-3 20 0-2-3-9 0-4 0-2-2 5-1 13-1-5 0-12 0-5-2 2 0 16-2-18-1 21 0 1-1-9-1 4-1 2 0 0 0-10-2 13 0-21-1-2 0 1-1 14 0 1-1-6 0 13 0-14-1-2 0 9-1 7 0-23-1 15-2 0-1 1-1 5-1-1-1-20-1 9-2-4 0-5-3 22-3-13-1 11-2-9-1 0 0-5 0 1 0 16-1-8 0 3-1-5-2 5-3 2-1 2-1-5-1-5-1 10 0-9-3 10-1-6 0-7-1-3 0 9 0-8 0 2-2 6 0 4 0 1 0-5-1 3-1-18-1 9 0 2-1-7-2 4 0 10-1-14-3-5-2 4-1-1 0-1 0 3 0-3-1 11 0-6-1 4-1-9-1 11-2-7-2 14 0 2 0-6 0-8-6 10-1-16-1 14 0-16-1 16 0-12-1 9 0 0-1-13 0 5-1 15 0-4-2-6-1-1-2-4 0 0-1 9-3-2 0 7-1-4-3-5-1 8-2-4 0-11-3 8-2 10-1 0-4-15 0-3-2-2-4 20 0-20-6 13 0 3-3 3-3-10-2 4-6-4-6 2 0 5-3 5-6-6-2 7-7-19-12 4-2 13-3 2-2-3-2-2 0-17-6 6-10 0-23-7-3 8-7 2-3 8-2-12-9 17-47-3-1 1-13 8 8 5 5 8 0-1 17 1 5-18 1 22 8-8 23 3 2-5 13 7 1 4 9-11 2-1 26-10 1 0 1 21 0-4 1-12 1 8 8 8 1-15 15 6 1-13 2 13 4 7 6 2 1 0 1-9 1-10 1 2 0 9 1-9 1 8 1 8 4-19 0 6 2 14 0-3 1-8 2-11 0 15 2 3 3-10 2 9 3 2 1 4 1-23 1 3 0 9 2-2 0-10 2 20 0-14 3 14 1-15 0 11 1-4 4 0 2-6 1-5 0 17 0 0 1-14 0 14 2-13 0 4 1 6 1 7 1-9 0 8 1-11 3 2 0-9 0 8 0-9 1 14 0 5 1-9 1-12 1 3 1 20 0-6 0 3 1-14 0 1 2 4 1 8 0-12 2 11 0 4 2 1 2-18 2 2 0 12 1-6 1-2 0-4 0 9 0-1 3-11 2 1 0 15 0-9 1 1 0-1 1 3 1 6 6-20 0 10 1 4 3-9 1 6 2 4 0 1 0 1 0-12 1 2 1 12 1-7 2 0 0-4 3 1 1-3 2 6 0 8 0-15 3 15 0-12 1 2 1 9 1-3 4 7 2-4 2-15 4 15 0-19 1 2 1 21 0-13 2-3 3 15 1-19 2-2 1-1 0 1 0 16 1-5 0 10 0-12 1 1 0-10 0 11 1-7 2 11 1 1 0-14 4 7 2 1 1 5 1-2 0-3 1 6 1 4 0-5 0-15 1 8 0-4 0 2 1 9 0-5 1 5 1-10 2-1 1 2 1 9 0-16 2 1 0 21 1 0 2-18 0-2 1-1 0 5 0-4 3 13 0-4 0 1 0-8 2 10 1-8 1 4 0-2 1 7 0-14 0-1 1 16 0 2 0-17 0 0 2 20 1-5 1-8 1 6 0 5 0-4 1-8 1-1 3 15 1-18 0 7 1 0 1 0 0 6 3-10 1 2 3-7 2 8 0 6 1 4 0-19 1 21 1-16 1 4 0-9 1 22 2-20 1 2 0 17 2-6 0-12 2 10 0-7 1 2 1 0 0 12 1-12 2-7 0 9 3-4 1-1 1 13 1-8 2 3 1-11 0 1 1-3 0 22 0-5 0 5 3-20 0 1 0 12 0-7 1-1 1-2 1-2 0 11 3 0 0 0 1 5 0-15 1 7 0 8 0-2 2-9 1 13 3-10 2-1 1 12 0-4 1-9 1-5 1 6 2-2 2 6 2 7 0-1 2-3 0-17 0 6 0 14 0-15 2-4 2 3 0 6 0 11 0-17 1 0 1 11 1-4 0 12 1-2 1-7 0-13 2 14 1 6 1 1 4-13 3 1 1 12 1-5 0-13 2 10 1-12 1-2 0 20 1-15 1 1 0-5 2 4 0 9 3-12 0 6 0 15 0-8 0-12 1 18 1-11 1-3 1 5 2-8 2 11 3-5 1 13 3-16 0 11 1-12 2 1 0-7 0 20 3 2 0-14 1 7 1-3 0-2 1 1 0 7 1-14 0 11 1-4 0 11 0-11 2-1 0-3 1-7 1 17 0-10 2 10 0 0 2-1 0-14 1 21 0-6 2 1 4-16 2 9 3 0 0-3 3-5 7 20 2-15 2 11 2-5 1-11 1 13 0-10 2 2 1 11 3-6 1 0 3 6 3-13 0-2 6 17 1-8 1 5 4-11 2 8 8-7 1 12 7-4 3-9 2 13 17-5 15 4 1 3 8-10 11 10 10 0 17-17 1 25-69-4-9-2-3 16-7 1-5-11 0 8-1 7-10-21-2 9-3 0-11-9 0 7-1-7-2 9-1 6-1-4-3-8-1 13-3 0-2-15-4 1 0 1-1 2-1 15-2 0 0 2-1-4-4-9-2-1-1 3-1 5-2 6 0-18-1-3-1 12-2-1-2 2-1-12-3 20 0-3-1-15 0 3-1 11-2-13-1 17 0-13-1 2 0 1-1 9-2-12-1 12-3-19-1 14-2-5 0-7-1 6-1 6-4-11-1 6-1-5 0 12-2-13 0-5-1 9-3 6 0-11-3 18-1-3-1-7 0 7-1-13 0 11-1-5-1 0 0 1-1-5-1-2-1-3 0 12-3-13 0 21-2-2-2-15-1 4 0-1 0 12 0-5-1-4 0 2-3-8-1-4-1 19-1-14-1 9 0-5-1-3 0 3-2 1-1 4 0 1-1-7-1 11 0-4 0-9-3-4-1 8-10 3 0 8-1-7-1-14-1-1-3 20-1-1-1-6-1 9-1-10-1-3-2 7-2-5-1-12-2 8-2-5-2 16 0-18 0 3-3-4-1 8-2 14-1-3-1-9-1-2-1 8-2-4 0 4-1-8-2 15 0-21-1 19-1-6-1-7-1 1-1 2 0 2-1 8-2-21-1 1-1 8 0 10 0-2 0-10 0 11-3-11-2 16-1-5 0-13-2 15-1-19-4 3 0 5 0-2-2-3-4-1-4 8 0-8-1 12-1-1 0-3-1-2 0 9-1 5-1 0 0-22-1 9 0 1-2 8-1-15 0 6 0 13-1-3 0-19 0 6 0 9-4 0-3-16-1 19 0-10-2 5-1 9 0-6-1 2-1-17-1 16-2-17 0 22-2-21 0 5 0-7 0 23 0-2-1-11 0 4-1-14 0 22 0-3-1-1-1 0 0-15-1 5 0-3-1 4-1-4-1-4-1 22 0-4 0-18 0-1-2 12 0-8-1 2-2-5-2 1 0 7-1 2-2 11-1-5 0-13-1-2-1 10 0 6 0-12-2 2 0 5-1-1-1 8-1-13 0 12 0-10-1-9-1 23 0-7-1-13-1 11-1 7-1-11-1-2-2-8-5 7 0 16-1-23 0 12-1 0-1 5 0-17-1 3-3 3 0 4 0 5-1-3-3 7-1-5 0 5-1-10 0 7-1-12 0 13 0-10-1-1-3 10 0-15 0-1 0 23-4-7 0-9-2 7-5-4 0 3 0 6-1-9 0 3-2-7-1 10-1-4-4 10 0-14-1-3 0 0-2 13 0-4-5-9-2 1-1 14-1 0-2 2-2-11 0-4-2 3-1 9-2-3-1-16 0 23-2-19-2 10-1 9-2-9 0 0 0-10-3-1-2 19-1-3-2-16 0-1-1 16 0 0-2-17 0 12 0 3-2-7 0 2 0 7-1 0-1-8 0-7-1 5-2 10 0-10-2-7 0 14-1-4 0-6 0 11-2-6 0-9 0 21-3-2-2 0-3-12-1-4 0 3 0 9-1-2-1 0-1 1-3-7-1 15-1-12 0-5 0 17-5-14-3 12-3-1-4 1-4-6-7-4-2-6-2 9-1-12-24 11-49 8-6 1-5 1-1 0-6-17-12 15-12 0-4-2 9 9 23-1 16 17 21-16 6 6 41-5 2 6 3 7 7 0 3-14 11-1 2 2 5 16 8-15 1 11 2 4 0-11 0 11 0-15 0 10 1-10 2 2 0 6 1-10 1 3 1 9 1 5 3-5 1 2 0-6 1-10 1 0 2 20 0-14 1 2 1-9 1 20 1-20 5-1 2 16 1 1 1-12 4 10 2-7 3 15 2-17 1-1 1 15 0 2 1-12 0 1 0-6 1-1 1 15 0-13 0 14 0 3 1-10 1-9 2 17 0 1 0-6 1 2 0-18 1 0 2 5 0-4 1 7 3-4 1 7 0 8 1-15 1-4 2 9 2 2 1-2 0-9 0 17 1 3 1 0 1 2 3 1 0-19 0 5 0-1 2 11 3-16 4 18 0 0 1-1 0-20 1 8 3-1 0 12 2 2 1-8 0 10 1-2 0-5 1-7 2-8 2 18 2 3 0-14 2-6 0 10 0 1 2-5 0-1 1 9 0 0 1-8 1-6 2 21 1-19 1 15 0-14 2-5 0 9 2-1 1-1 1 2 2-7 1 3 2 11 2-12 1 5 0-3 0-5 0 19 1-14 3-4 1 5 0-2 3 7 0 2 1-3 0-5 0 11 1-15 0 19 0-18 1 16 0-19 1 6 1 9 0-12 0-1 2 2 0 2 0 10 1-11 0 12 2-12 1 8 1-11 0 19 0-13 1 3 0-1 0 9 2-18 0 14 0 6 1-15 2-3 2 15 2-12 0 14 1 2 0-16 2 3 1-4 1-3 0 6 0 6 2-14 0 2 0 7 1-2 0 8 1 3 0 4 1-12 0-8 0 6 1 13 1-12 0-1 3 1 0 6 0-12 0 20 0-13 1 3 0-6 1 16 2-19 1 7 0 7 2-1 0 1 0-13 0 6 0-8 1 14 2-2 0-9 0-1 1-2 0 9 0-7 0 13 1-8 0 13 0-20 1 2 0 10 2 3 2-5 0-7 1-4 1 4 0 5 2 5 2-2 1-12 1 10 0 5 0-15 1 1 1 9 1 8 1 0 0-16 1-4 1 10 1 7 1-14 2 3 0 13 0-18 3 13 0-10 0-3 1 12 1-9 1 7 0-7 0 9 2 9 0 1 0-13 0-9 1 9 0-3 0-1 1 1 1 8 1 7 1-3 4 1 2 1 0-3 0-8 1-9 0 15 1-16 1 8 2 3 2 10 0 2 2-3 2-10 1-3 0 2 0 12 3-2 2-7 3-10 0 4 0 12 1 3 0-18 1 5 1-7 0 2 0 9 2-5 1 14 1-5 1 5 0-11 0 4 2-5 2-5 0-2 1 4 0 2 1 8 0-13 3-2 1-1 2 16 0-14 1 13 1-11 3-3 0 1 0 9 1 6 0-17 1 2 0 16 0-3 2 8 1 0 2-13 1 0 0 4 0 6 1-6 1 7 2-7 3 9 0-1 3-4 0-11 0 8 1 1 1-13 1 16 2-4 1-14 4 9 0 11 3-2 0 4 1-15 0-6 1 7 3 13 1 0 1-20 1 11 2 7 1-6 1-5 1-4 3 15 1 2 1-10 4-5 2-4 1 14 1 2 0-5 1 1 2-2 0-10 1 5 4 8 2-1 5 8 0-16 9-3 0 17 2-9 2 10 3-9 2-10 5 3 1 13 0-7 4 8 0-4 2-12 17 1 5 15 2-6 0-7 33 1 9 10 29-9 12 9 4-15 1 10-32 29-56-17-1 16-1-11-6-3-2 7-2 8-8-4-2 1-5-10-7 11-3-11-1 2-1-4-4-2 0 16 0 1-3 1-2-8-2-8-3-1-2 5-1 9-6-5-1 4-2-1-1-4-2 9-1-4 0-10-1-2-4 18-1-13-1 12-1-16-2 14 0-10-1-5-1 20 0-11 0-2-1-3-2-5-1 12 0-13-2 17-4-7 0 10-2-2-2 1-3-16-1 6-1 8 0-10 0 7-1 8 0-14-4-8 0 18-1-16-1 13 0 6 0-8 0-1-1-7-2 2-1-5 0 15-1-17-2 5 0 2-1 15 0-19-6 16-2-14 0 9-1-12 0 4-2 4 0 6-1 2 0 2-2 1 0-5-2-1 0-6 0 9-2 2 0-17-1 2 0 11-1-2 0 2 0-11-1 14-1-10 0 5-1-2 0 5-1-12-1-6-2 12-1-6-2-3 0 9 0 8-1 0-1-2 0-10-2-1 0 2 0-7 0 4-1 6-1-1-2 0-1-7-1 14-1-12-1-2 0 4-1 7-2 1 0-16-1 8 0 10-2-8 0 2 0-6-1 7-1 2-1-4-1 3 0 9 0-22 0 18-2-4-1-13 0 15 0-1-1-8 0-7 0 21-2-10-1 1-1-7 0-6-9 3-1-2-1 12 0 7-2-9-2-10-1 20-1-17 0 9-1-2-1-3-1 3 0-7 0-2 0 13-1-11 0 6-1-9-1 20-2-13-1 8 0-5 0 4-2 0 0-10-1 17-2-5 0-5-1 6 0 2-3-1-6-1 0-18-1 21-1-10-1 7 0 0-1-10 0 3-2 2-1-2-1 5 0 6-1-12-2 3-1 4-1-11-1 8 0-14-2 11-2-2 0 14 0-20-1 13 0-13-2 6 0 4 0-8-1 11 0-2-2-8-1 1 0-7-1 10-1 0-1 12 0-15-1 3-2 1-2-5 0 3-1-3 0 8 0 4-2-17-2 11 0 11 0-23 0 6-1 12-3 0-1 0 0-3 0-8-1 6 0-13-4 5-1 0-1 18-1-9-1-4 0 13-2-14 0 10-1-17 0 11 0-5-1-4 0 0-2 16 0-15-1 1 0 4-2-3-1 15 0-8-2-8 0 8-1 5-1 4 0-18-1-3-4 4 0 8 0-4-1 4-1-1 0 2-1-7-1 1 0 0-1-3 0 4 0-10 0 19-2-13-1 11-3-15-1 9-1-1-2 1 0-10-1 21-2-12 0-4 0-6-1 10 0-2 0 0 0 2-1 13-1-9 0 9-2-12 0-9-1 10 0 7-2 1 0 1-2-3-4-4-2-5-1 0 0 7-1-1 0 5-2-2-1-18-5 13-2 7-1-4 0-2-4-4-1 0-1 5 0-10-4-5 0 0-1 15 0 4 0-12 0 7 0-7-1 11 0-11 0-6 0 21-1-12-1 5 0 1-1-1 0-15-1 23-1-12-1 2 0 7-3-10 0 6-2 2-2-3-3-1 0-9-3 10-1 3 0-10-1 10-1-9-3 10-2-17-1-1-1 12-1 7-2-4 0-10-3 10-3-12-1 17-1-11-2 2-1 7-1-17-4 0 0 0-9 12-6 8-1-16-1-1 0 4-3 14-3-18-2 10-4 4-3-14-1 3-7-3-10 10-1 4-7-1-28-6-9 0-3 6-13-13-17 6-8 12-25-21 3 27 12-1 54 14 3 2 5-16 2 13 20-13 19 12 3-12 1 7 24 8 2-8 6-2 2 8 1-1 1 1 2-15 1 0 3 5 4-5 3 16 0-7 0 9 2 3 1-6 1 4 2-7 0-1 0-5 3 6 0 8 0-5 1 5 0 0 2-4 1-1 6 6 0-7 3-14 0 1 2 17 2-6 0 2 1-1 0-8 2-7 0 13 2-3 3-2 3-4 1-1 1-3 1 13 0-10 1-3 2 2 2 2 1 13 0-15 1 17 2-10 1-6 1 12 0-7 0 10 4-3 0-8 2 5 0-1 0 2 1-11 1 6 1 1 1 3 1 10 2 0 2-13 2-6 2 10 1-7 0 7 1 1 1-9 1-1 0 4 1 1 0 5 1-10 0 0 1 13 1-12 0 9 5 4 1-6 1 11 1-5 1-17 0 11 2-12 4 18 1-17 3 13 0-2 7-6 0-3 1 2 1 11 1-7 1 7 1-5 0 8 1-7 4-6 2 12 0-1 1-16 4 19 2-20 0 8 2-7 2 5 2 11 0-15 1 1 1-3 0 4 0 17 2-9 0-1 5 8 0-11 1 6 0 9 3-13 1 8 1 0 0-6 2-2 2 13 1-3 0-18 1-1 1 7 1 7 0 6 0 1 2-9 1-8 1 3 1 10 3-18 0 8 1 5 3 6 0 0 1-6 1 5 0-12 3 10 1-16 1 9 0 10 1-11 0 1 1 4 0 3 2-3 1 3 0-9 0 0 3-2 4-1 1 19 1-8 0 7 1-9 1 5 1-14 0 18 2 1 1-18 0 6 3-6 0 8 1-10 1 16 1 2 3-14 1 9 2-16 0 0 0 21 7-2 0-7 1-9 0 13 0-6 1-5 1 1 1 7 0 5 2-15 1 6 0 11 2-4 0-10 0 16 0-20 1 17 1-10 1 8 1 1 1 1 0 2 1-13 0-4 6 2 2 9 0 1 1-16 1 17 1-3 1-13 0 11 1-9 1 3 0 10 4-14 0 11 0 10 1-16 3 7 0-2 0 7 1 4 4-14 2 3 0-4 0-4 1 12 0-14 2-1 1 8 1-3 1 16 0-4 0-4 1-6 0 15 1-23 3 17 0-4 1 4 0-11 1-5 0 2 1-1 0 8 1 9 1-10 1 0 1 14 3-17 4 0 0 17 0-13 1-1 1-5 0 8 0 0 1 11 2-21 2 16 0-17 0 5 0 2 1 3 0 10 2-12 0-6 1 2 2 12 1-16 0 17 2-12 6 6 3 0 0-8 2 7 0 11 2 1 0-23 1 14 1-14 2 20 0-10 0-7 1 13 0-12 0 4 2 9 0-7 1-5 3 16 2 0 0-1 0-16 1 14 1 0 1-13 2-3 2 11 1 10 0-6 0 3 2-14 1 7 0-5 0-1 1 1 1 2 0 2 1-10 0-1 0 11 1 9 0 0 0-17 1 5 1 1 5 5 1-11 0 0 2 12 1-7 1 14 2-7 5-2 1 8 1-18 3 0 0 8 2-10 2 15 0 1 4-9 1 9 2-3 3-7 0 12 1-20 9 17 0-7 2-1 1 7 2 3 8-19 1 3 2 14 1 2 10-7 1-2 2 9 0-8 2 10 10-3 34 13-9 4-3-10-12 10-1-10-2 14 0 2-7 3-1 1-1-12-2 4-5 6-2-11-1-3 0 11-1 5-1-1 0-6-1 5 0 2-1-6 0 4-1 2 0 1-2-17 0 18-1-3 0-6-1 9-3-13-2 7 0-2-1-8-1 14-5 2-1-23 0 19-6-12 0-3-3 0 0 13-4-9-2-7 0 7-1 11 0-6-2-8-2 7 0-11-1 22-1-3-1-15-2 9 0-8 0 9-3-7-1 13-2-6 0 0-1-13-2 11-1-3 0 10-2-8-1 4-1 2-2-5-1-4 0-2 0 6-1-10-2 9-1-9-4 19-1-13-1 9-1 0-1 2-3 3 0-13-4-2 0 9-3 3 0 0-1-3-3-2-2-13-1 1 0 12-1 8-2-17 0 0-2 8-2 4-1 5-2-11-3-3 0 8-2-15-1 2 0 12-1-1-4 2-2 5-1 1-4-20-1 16-1 1-2-16 0 5-3 13-1 1 0 0 0-14-1 8-2-2-1-11-1 9 0 8 0-17-1 0 0 4-2 15 0-19 0-3-1 21-1-17-1-4-1 16 0-10 0 13 0-15-1-1-1 1 0 18 0-2-1 1-2-12-1-5 0 3-2-5-1 12-1 2-2 6-1-5-3-7 0-9-1 11-1 0 0 5-1-7-1 0 0-11-1 11-1 2-3-13 0 5-2 11 0-15-2 12-1 0 0 4-1 3-1-15 0 11-1-14 0 19-1-13-2 7-1-12-1 10-1 5 0-10 0 8-2 6-3-10 0-2-1 1-1-8-1 19-1 1-1-4 0-10 0-8-4 14-1-2-2-3-2 9-1-1-1 1 0-2 0 4 0 1-1-13-1 13 0-5-1-6 0-6 0 7-2-7-1 12 0-6 0-11 0 8-1 5 0 8 0-3-1 5-1-16-2 3 0-9-1 19-1-6 0 1-4 6 0-9-1-6-2-6-1 16-1-9 0 0-1-7-3 13-2-3 0 2 0 3 0-10-1 15-1-10-4-9-4 15-2-11 0-1-1 12-1-13 0 3-1-5 0 2-1-1-1 9 0 5 0-3-1-6-4-1-3 1-1-2-1 17 0-12-1 1 0-9 0 12-1 8-1-11 0 2-1-4-3 5-1-9-2 6-1 6-2-3 0 6-2-11 0-8-1 1-1 21-1-9 0 5-1-7-1-1 0-11-1 10-1 3-3-11-4 21 0-23 0 17-1-12 0 4-1 2-3-11-1 9-2 11-2-11-3 0-3 11-1-13 0 4-4-6 0 13 0-11-2 0-1 11-1 1-1-6 0-11-1 7-1 5 0-2 0 9-4-13 0 14-2-21-1 16-2-9 0 13-1-7 0 2-1-4-1 8-1-4-1-7-2 2-1 5-1-4-1-1-1 9-2-1 0-12-2-1 0 1 0-2-1 14 0-18 0 13 0 7-4-9-2-9-1 16 0-1-3 1 0-1-4-17-2 15-1-6 0-8 0 6-1 14-2-3-3 3-1-5 0-4-1-13-1 4-1-2-1 12-2-8 0 12-4-11 0-2 0-1-1 2-1 12-1 2-2-10-3 0-1 3-1 3 0-4-1-6 0-1-4 8-1-11-1 17 0 2-7-2 0-14-1-3-1 0 0 17-2-9-3-8-6 6 0-1 0-6 0 18-4-15 0 10-4 4-4-1-2 3 0-20-16 9-13 3-25 9-1-21-2 22 0-20-1 14-10-12-7 18-6-16-3-2-9 4-12-4-41 33 13 4 11 3 1-11 26 12 35-4 0 4 20-19 1-1 19 5 13 13 7-1 1 1 6-2 1-13 3 6 2-8 3 13 1-10 3 16 0-13 1-4 2-1 4 19 2-9 2 4 0-2 1-4 3 10 2-21 1 0 2 1 2 10 1 6 1-2 2-1 1 5 2-6 6 1 1 9 1-5 0-1 2-14 0 12 2-12 1-1 0 2 1-2 1 8 1-6 1-3 1 13 3 8 0-19 3 9 1-9 3 11 3-7 1 7 4-6 0 1 0 7 2 2 1-17 1 21 0-14 1-7 1 6 1 15 1-18 1 14 1-3 3-11 1 5 3 1 0 6 2 3 0-13 1 13 2-13 1 12 0 2 1-11 2 10 0 3 1-21 0 20 1-5 2-16 1 10 4-9 1 22 3-2 1-6 0 1 1 2 0-2 1-8 0 5 1-9 1-3 0 8 1 6 0 7 1-1 0-14 1 13 1-3 1-17 2 5 3 6 1 2 1-5 1 7 0 8 0-20 1 11 1-12 1 13 1-7 0 8 1 1 1-3 0 2 0-14 3 5 1 10 1 1 0-4 0 7 1-9 0 11 0-11 0-5 1 9 1-13 1 9 3 11 1-1 1-22 0 12 0 8 8-8 0-2 1-2 2 8 3-1 0-4 0 10 1-4 1-7 1 3 3 10 0-16 0 8 1-2 0-11 1 11 1-12 3 10 0-10 2 20 2-7 1 6 1-9 0-5 1-2 1 1 1 17 2-9 1 3 1-2 3 4 1-1 1-7 1-4 0 0 2 12 1-18 1 12 1-7 3 2 1 3 4 8 1-13 1 6 1-2 0 9 1-16 0 12 1 8 0-13 2-7 1 18 0-3 0-7 2-9 0 9 0 2 0 1 1-13 1 12 1 9 0 0 1-1 1 2 2-4 1-5 5-5 1-5 1 15 0-16 0-2 1 0 1 19 1-9 2 1 0 11 1-19 0 4 1 1 0-3 0 15 2 0 1-10 0-9 1 10 0 7 0-16 1 12 1 3 1 5 0-5 1-6 2-10 0 15 1-7 1 5 3-10 0-1 3-1 0-1 1 6 1 3 0-1 2 0 1-8 0 13 1-13 1 12 0 8 4-5 3-6 1-3 3 0 1 3 1 8 1-13 0 16 0-9 0-6 1-4 2 16 1-7 2 6 2 4 1 1 2-13 0-5 1 16 0-7 1-5 0-5 2 7 2 3 1-1 1 6 2-8 1 6 2 3 0-14 2 9 3-14 0 12 1 6 0-5 1 1 2 6 0-13 1-2 1-1 0 1 0 11 1-3 9-8 2-4 0 1 1 2 1 8 0-1 1-3 0-7 1 1 0 20 1-21 1 2 0 6 0 3 3-12 0 21 1-20 0 18 0-19 0 11 2-8 0 6 1 0 5 6 0 7 1-16 0 7 1 7 1-11 3 3 0-9 1 18 1-7 1 6 0-4 1-9 1 0 1-6 1 5 0 14 0 0 6-3 2-15 1 20 2-7 2 6 0-11 1-4 0 4 2 7 2-1 0-4 1-5 2 8 1-15 1 19 1-4 1-15 2 1 2 12 0 4 1-14 1 13 3-12 0 8 0-3 0-5 1-2 1-1 1 5 1 12 1-2 0 6 2-10 0-4 1 10 2 0 0-8 1 2 0 0 2 1 0-13 0 5 0 18 2-4 0-7 2 7 0 2 3-20 2 6 2 14 0-9 3 7 2-18 3 4 1 9 0-9 0 18 3-1 1-2 1-16 0 10 1-2 4-12 9 9 3 8 14-12 4 10 8 8-4 12-1-1-1 9-8-6-1 2-2-12 0 14-1-2-4 4-1-16-3 5-3-2-2-3-1 5-2-3-2 3-4-7-9 16-1-3-1-13-1 14-2-8-2-3 0 2-1-6-2 18-1-5-7-8 0-1-2-4 0 12-2-6-5 2-1 1-3 6-2-10 0 11-4 3 0-3-1-16 0 12-1-7-2 14 0-16-5 9-2 1 0 4-1-15-2 6 0 2-2 13-1-18-1-1 0 8-1 2-1 4-1-7 0 10 0 1 0-13-2 13 0-16 0 4-1 9-1-5-2-7-6-3 0 14-4-13-3 8 0 9 0-16 0-6-2 12-5 2-3-14-1 0-8 9-1 9-4-12-1 10-3-3 0-8-6 17-4-10-8 1-6-3-1 12-1-22-5 0 0 17-1-14-1-1-7 18-2-19-1 6-1 2-1 13-2-16-4 6-6-8-2 10-2-14-1 5-3 2-3 7 0-1-2-4-1 9-2-17-6 1-2 11 0-11 0 13-1-3 0 1-1-8 0 16-1-8 0-7-4 8-1-6-1-1-1 1-1 11 0 1-3-7-1-5-1 8-2 3 0 1-1-11 0 11-1-19 0 1-2 1-1 2-1 17 0-11-3 0-1 3-3-14-5 7-1 1 0 3-1-10-2 1-4-2-3 13 0-1-1 3-1-13 0 0-1 7 0-4 0 7-1 0-1 7-1-1-1-18 0 3-1 9-4-3 0 9-5-18-1 2-2 10-1-7-1-5 0 1 0 19-2-4-2 2-1-13 0 8-2-4-1-4 0 12-1-9 0 3 0 12-4-14-5 9-1-12-1 11-1-16-4 0-1 2 0 20-2 0 0-16 0 7 0-10-1-1-3 6 0-7-3 0-1 2 0 12 0-2-1-8-1-4 0 14-1-3-1 3-1-8-2 9 0-13-3 19-1-14 0-3-1 8-5-13 0 22-2-1 0-12-1 1-1 5-4-3 0-9-1 14-4-5 0-8-2 12-2-17-1 5 0 4-3 12 0-5-2-11 0 0-4-2 0 14-1-11 0-6-5 17-1-9-4-2-2 0 0 6-1 1 0 6-5-19-3 5-1 4-2 8-1-11-1 14 0-11-4 12-7-12-2-6-1 19-3-18-3-2-6 12-2-4-2-2-3-3 0-2-2 5-3 8-1-12-4 19-2-11-5 10 0-5-2 1-4-6-2 10-1-15-6 0-4-1-3 3-3-8-7 3 0 10-7 3-7-4-7-2 0 6-21 3-52-2-4-14-2 1-11-3 22 29 15 13 12 2 22 1 1-11 6 8 0-12 9 7 1-7 2 13 5-1 5 1 6 1 2-4 1 1 0-8 1 5 0-16 1 19 2-10 3 13 1-16 0 12 2 2 2-18 7 2 0 1 1 1 0-5 3 21 2-3 0 3 3-2 0-6 1-7 6 6 0 6 0-1 2-18 1 14 3 1 3-12 0 2 0 16 0 2 1-7 1-3 0 4 1-17 0 12 6 1 1 3 5-7 0-3 2 16 3-3 1-1 0-14 0 13 3 3 9-2 1 5 6-14 0 5 4-14 17 8 1 14 2 1 2-7 2-7 1-4 8 1 0-3 6 10 0 1 10-3 3-9 8 1 1 20 2-19 2 11 6-9 0 14 0-8 0-8 4 16 1-20 2 3 2 2 4 2 3 10 5-10 6 2 2-7 2 11 0-13 3 16 4 7 1-22 1 3 1 16 1-6 2 2 9-3 3-5 1 8 4-11 3 14 3-16 1 4 4-6 0 6 1 10 0 4 1-6 3-11 1-2 1 18 1-1 0-17 2 16 1-8 0 3 1-8 1 8 2 5 1-7 3 4 0-6 5 1 4 9 1 0 1 4 0-22 1 4 9 9 1-6 7 10 1-6 0-2 1 13 1-12 0-4 3-7 8 3 8 10 0 8 2-21 3 16 1 2 3-15 2 3 1 9 1-15 8 11 2 7 2-6 5-5 4-4 9 6 9-5 13 7 1-11 0 0 0 1 4 17 3 0 4-8 3-6 1 5 7-6 6 3 5 15 1-15 1-6 0 4 6 16 5-20 5 8 3 5 1 9 6-19 2 2 2 12 6-1 0 7 4-20 1 4 4 4 5 5 15-10 16-1 8-5-68 46-21-19-6-2-2 13-1 9-1-12-4-3-2 10-5 0-3-7-5 11-1-14-6 7-4-2-2-2 0-11-3 21-1-19-5 6-2 6-1 3-7-12-5 0 0 12-1 3-3-1-3-2-8 2-2-11-1-3-4 14 0-18-1 20 0-19 0 7-7 3 0 4-1-1-1 6-2-20-8 10 0 4-1-2-2-11 0 14-2 5 0-16 0 2-9 1 0 2-1 4-1-1 0-6-2-3 0 7-1-9-7 19-2-12-2 7-3 5 0-16-4 6-4-8-3 4 0 3-1-9-12 6-3-4-1 7 0-9-4 21-1-15-2-3-2 1-2-4-2 16-2-8 0 1-4-5-3 11-2-16-6 23 0-3-4-10 0 5 0-7 0 5-2-13-2 10-2 0-7 4-12-7-1-1-10 11-10-2-2 0-16 1-6-7-3-3-2-6-28 20-5-3-7 4-11-16 0-2-3 8-3-7 0 13-2-16-1 13-3-9-1 7-2-10-2 3-3 9 0-7-2-3-3 6-1-7-9 14-1-5-1 10-1-20-1 3-4 8-5-3-1 5-6-10-3 12-3-4 0 4-4 5-3 1 0-8-2-15 0 9-1 7-2-11-1 12 0-14-2 5 0 11-3 3 0-12-2 1-6 4-1-11-1 0-1 18-2-5-2 1-1-18-1 16-4 3 0-14-1 17 0-5-4-17-1 14-1 9 0-5-2-10-1-4 0 18-1-15-2 5-1 1-4-7-1 9-1-11 0 2 0 16 0-1 0-6-2 3-5-8-1-6-1 16-1-16-4 4-9 7-4 4-2-17-5 15-1-5-4 11-11-2-11 2-11 16 3-10 5 16 0 0 1 2 1-10 0 2 3-4 4 5 1-4 1 5 0-12 1 15 1-6 1 4 1 5 0-14 0 11 1-3 0 3 3-3 1-11 1 7 2-7 1 0 1 15 3-13 3-4 4 15 0 4 0-19 1 10 2-4 0-2 0 3 3-5 0 2 0 5 2-7 1-6 0 4 2 4 4 7 2 2 3-13 3-2 0 9 2-4 4 9 0-4 3 1 1-4 1 2 3-10 0-1 1 2 2 8 1-10 7 5 6 16 10-19 4 5 10-2 2 2 5 3 5 4 1-14 1 2 2 3 3 7 1-3 18 12 9-12 14 14 6-16 3-7 19 12 16 11 14-22 4 20 4-13 0 9 6 6 1-22 31 19 2-5 1-14 1 5 7 12 0-5 3-6 0 2 1 8 13-4 9 6 8-3 3-11 6 1 2-6 1 0 0 3 2 2 2-4 4 2 8 19 2-2 1-14 0 2 1-2 6 9 2 3 0-5 11-8 1 13 3-8 1-2 0 9 1-4 1-5 7-6 0 21 0 0 2-16 4-7 1 22 6-7 2-8 0-2 1 2 1 5 3-10 0 8 4-8 1 12 3-11 2 15 0 1 1-19 4 9 3-3 0 2 2 6 0 0 5-1 2-13 5 22 1-12 11 13 1-16 1 9 1-2 7-11 0-2 1 10 1-1 3-3 0 12 6-11 0-6 8 8 0-9 1 16 7-13 1 3 1 11 4 3 6-16 5 16 2-14 1 4 4-2 0-9 20 8 9 13-9 11-1 6-29-4-9 9-11-1-2 2-7-7-4-7-3-4-4 14-5 0-5-6-1-7-2 7-6 9-1-7-1-3-3-2-3-3-5 11-6-9-2 3-3 7-2-8-5-7-1 21-1-2-11 3-3-18-14 1-3 0-1-4 0-2-1 1-2 9-2 12-1-22 0 13-6 2 0-13-1 20-1-22-6 13-8-7-1 8-4-12 0 7 0-5 0 18-4-13-1-5-4 3-3 11-3-3-6-4-6-2-1 5-2 6-10-6-2-14-4 13-10 0-3-7-2 16-4-18-2 19-1-17-1-5-3 2-11-3-36 6-6 12-3-16-4 16-5-13-51 10-45-14-7 12-14 2-15-13-24 5-3 3-9-10-1 3-3-2-5 6 0-6-1 4-7-1 0-3 0 2-3 3-1 2-1-5-1 1-6 6 0 0-7-3 0 0-1 16-3-19-3 2-2 4-2-7 0 4-1-7 0 8 0-3 262 21 16-2 5 7 2 0 10 7 3 7 22-19 4 6 2-6 2 16 0-11 4-7 9 11 11-8 7 1 6 12 2-6 3-4 1-4 0 19 3-9 5 6 2-17 2 6 1 7 1-8 0 8 1-7 6 7 1 7 5-19 0 13 1 7 3-6 1-3 0-5 1 12 10-9 3 0 2-4 4-1 2-3 0 6 9 10 0-11 1 7 1-1 0-8 1 13 5-6 6-9 0 15 3-5 5-6 3-3 6-3 2 12 1-6 0 7 2 7 4-17 3-1 1 15 3-13 3-5 2 3 1 5 1 0 1 11 1-13 5-3 5 5 4 0 1 1 5 8 26-1 7-11-6 35-8-16-2 19-11 0-2-8-45-1-2 3-1-11-2 0-5 15-1-5-11-5-4 10-1-17-3 4 0 14 0-10-1-6 0-1-3 10-5-2-6-3-8 1-12-5-2 19-3-20-1 11-1-8-7-4 0 3-18 2-3 7 0-11-30-1-11 23 10 1 1 1 36 4 6 0 8 5 5-8 1 15 1-13 13 11 3-9 12 0 3 1 3-6 7 11 3-3 7 5 5-13 0 8 13-4 7 17 5-18 3 2 1 12 11-14 4 13 11-8 22 1 2 7 1-11-8 27-34 0-10 3-2-12-1 1-6 4-10-3 0 4-3 1-2 12-16-8-5 0-49-12-21 15 77 10 15 3 5 8 6-10 26-2 34 14-93 15-44 4"/>
</g>
<g id="gD">
<path class="sg" d="M65.2 130.4L77.2 120.1L120.1 116.7L171.6 118.4L223.1 120.1L248.9 130.4L252.3 171.6L247.2 214.6L231.7 236.9L188.8 243.7L137.3 243.7L94.4 236.9L72.1 214.6L63.5 171.6Z" fill-opacity="0.55" filter="url(#f10)"/>
<path class="mgD" transform="scale(.5)" d="M430 12l71 30-12 5-1-12-91 9-26-15-2-1-13 17-11-13 7 27 1 11 7-13 14 0 0-5 14 16 3 1 3-9 2-2 1-6 4 16 17-10 17-2 3-3 8 3 4 9 3-13 21 19 13-16 14 10 16 2 8-4 9 22-7-5-27-1-13 3-5-9-3 20-3-3-7-17-4 10-7 1-17-3-3-7-13 18 0 0-2-7-1-4-1 5-2 5-4 4-4-5-3-16-2 13-3-11-2 6-5 11-2 2-2-23-2 5-1-4-28 2-11 11-14 6-65-2 9 24 13-14 5-1 4 20 51-14 10-9 23 17 7-3 6 4 5-3 14 6 2-8 13 1 5 9 9-3 0-6 4-1 7-1 1 6 6 0 1-10 1-2 1 5 14-6 0 16 2-9 5-3 3-7 1 21 10-15 20 2 31 29-19 4-1-8-18-7-3 3-2-2-4 13-6-4-9-8-2 11-12 6-6-9-2-8-7 17-2-14-12 13-2-20-1 1-2 16-2-19-3 2-5 8-1-5-3 16-3-12-1 8-2-11-4-3-5 16-6-17-3 18-2-4-4-14-1 13-1 1-8-14-4 3-19 17-5-17-10 8-54-4-27-8-154 45 85 0 3-6 12 6 8-11 8 12 3-16 15 8 1-5 26-7 6 6 30-7 20 4 15-6 2 3 7 17 6-5 4-12 6 8 3 5 1-13 1 14 1-9 1 7 3 1 8-14 3 9 5 2 2-8 1 17 0-12 3 0 5 2 6-2 5 10 0-4 0-1 1 3 7-10 6-7 1 16 1 2 2-11 1-1 4 2 10-4 3 15 3 2 0-13 0 1 1 11 1-13 4-8 0 19 0-7 2 7 6-13 0 14 3-12 2 1 1 12 2-13 0 10 1 2 0-8 2 8 1-8 2 6 1-7 2 10 5-21 0 5 5-4 2 10 1 10 4-11 0-1 5 11 32-9-28 33-2-14-9-5-10 5-2-4 0 2-2 17 0-16-2-3-8 9-3 6-1-6 0 11-1-7-4 7-3-8 0-5-3-9-4 9-1 11-1-5-2 5-5-9-4 0-1-3-2 15-1-11-4 9-4-13-7-6-3 1 0 14-1-6-1-1-2 0-1 0 0-10-3 18-5-10-3 12-3-10-1-5-3 6-2 4-2 3-1-1-4 5-1-17-4 13-1 3-3 2 0-13 0 9-7-19 0 9 0 8-1 1-4 5-1-8-3-11-2-4-6 4-1 18-6-7-3 2-1 6-1-2 0 1-2-1-2-11-9 5-1-2-2 7-1-10-5-6-1 3-1-4-4 20-14-14-5 6 0-6-2 11-5-5-9-4-7-1-6 10-2-20-5 15 0-7-4 2-12 0-2 12-7-4-2-13-24 1-7 17-3-3-11-19-3 16-22-16-4 22-2-11-1-4-6 1-2 14-6-3-5-1-4 2-2-7-9-4-20 13-45 13 15-6 2-3 20 2 1 6 5-1 2-9 8-1 4 21 12-5 23-9 14 14 3-7 6-5 1 14 0-18 1 11 3 4 2-7 1-9 7 9 0-13 0 22 6 0 0-18 5 15 0-16 0 14 6 2 5-14 1 2 3 2 11-8 0 18 7 3 7-4 2-2 4-1 2 8 4-18 5 14 2-16 6 6 15-6 3 20 1-16 0 14 0-3 4 4 10-4 1-8 1 7 0 2 3-19 3 14 0 3 3-4 1 5 0-8 1 2 0 0 4 3 0 3 5 5 0-13 1 2 2 6 0-8 0-7 4 4 0 9 1-9 0 16 0-4 0-16 1 14 0 3 3-16 1 8 4 1 3-1 1-9 0 6 3 10 3-6 0-12 2 5 1 8 3-3 5 7 7 3 2-9 2 8 1-3 2-14 0 12 0 1 7 4 2-2 1-9 1 14 0-17 1 15 3-4 1 3 0 0 3-4 3-1 0-8 2 3 3 6 8-6 3 6 1 3 3-4 1-2 0 5 0-4 2-13 1 22 0-6 2-1 1 5 1-5 2-15 0 19 1-2 0-2 0-11 0-3 3 12 3 4 0-2 7-12 1 4 1 1 0-4 1 2 0 2 5-3 4 13 1-11 2 14 1-10 3 11 1-17 1 7 0-13 1 8 1 7 0-2 1 9 2-16 0 15 0-4 5-14 3 4 1-5 1-1 0 20 5-18 4-2 4 12 5 1 4 4 1 0 2 4 1-14 23 10 10 2 18 17-8-12-11 15-5-14 0 11-13-4-1 7-1-6-12 9-2-4-1 8-1-23-8 13-2-1-5 5-1-6-3-6 0 1 0 2-1-1-4 9-2-3-1 2-2-5-1 5-2 4-2 4-1-10-1-2 0 2-2 1-1 4-1-11-1 10 0-16 0 22-1-12 0-5-2 16-1-11 0 8-1-2-4-15-1 3-1 6-2 3-2 6 0-20-2 2-1 21-1-21-1 16-2-17-1 11 0 0-2-11-1-1-2 10-1 7 0-3-1-11-2 14-1 6-1-19 0 12-2-3 0 3 0-6-1 3 0 4-7-14-1 19-1-4-3-10-2 1-1-1-1-1 0 6-1-9-1 1-4 0-3 13 0 3-1-1-1-1 0-17-1 8-2 9-1-1-2-7 0 2-1-9-2-4-2 12-5 7-1-6-1-13-2 10-2 5-2 3 0 3-1-6 0-11-2 14 0-7-1-4-2-1-2 5-2-2-1-2-1 11-3-10-3-8-3 22-2-5 0-5-1-11-2 9 0 10-2-17-2 3 0-2 0 8 0 2 0 4 0-9-1 14-1-18-1-4 0 7-1 2-1-5-3 17 0-17 0-3-1 20 0-2-2-3-1-7-4-5 0 0-2-1 0 1-1 17-2-15-1 11 0-5-2 6 0-11 0 2 0 9-3-4-2-5-9 5-2 0 0 3-5-17-1 11-3 4-4 4-7-3 0-2 0-7-2 4-6 4-2-2-4-13 0 17-2-7 0 7-2-9-1 0-1 1-3 0-2 8-2 5 0-16-2 5-1 11-2-19-1 9 0-12-3 21-6-13-6 1-1 5-7 6 0-10-1-2 0 12-1-8 0 0-8 10 0-9-1-3-5 10-3-9 0-11 0 13-1 7 0-12-1 11-1 0-2-16-7 10 0-2 0-6-1-1-2 1-1 13-2 4-4 0 0-18 0 3-4 8-2-8-2 15-2-9 0-7-2 11-2-18-4 17 0 5-6-1-7-11-9-1 0-7-23 9 0 0-20-7-6 4-8 1-10 0-8-1 14 25 5-9 1 9 12 5 15-8 3 15 2-10 2-10 5 9 9 0 2-9 8 21 7-16 5 5 3-5 1-4 2 3 1-5 2 4 0 4 1 12 0-11 1-1 1-4 0 9 2 0 0-11 2 19 2 0 1-14 1 2 2-4 0 14 0-8 1 5 1-3 4 3 3-13 2 3 1 5 1 4 1-11 0 4 5 7 2 5 0-4 1 0 0 7 2-13 5 9 1 1 4-19 1 12 1-3 5 5 5-1 2-9 1 4 4 1 1 9 0-14 0 5 1-7 3 14 0-1 1-8 3 9 2-6 1-9 4 21 1-13 2-8 2 1 0 6 1-5 2 3 2-6 1 12 2 7 1-12 0-1 0 6 2-1 6-3 1 10 1 1 1-10 1 2 0-10 1 19 2 0 0-15 1 16 1-3 0-15 3 18 1 1 1-7 1-8 0 4 3 3 1 3 3-14 1 12 1-11 5 14 1-15 3 6 0-6 1 17 1-18 3 13 0 7 2-16 2 10 2-14 2 5 2 8 0-8 1-1 0 4 1-1 2 7 6-11 0 15 1-1 0 3 2-6 1 4 3 0 3 1 3-5 0-8 0 0 2 10 0-9 1 0 1-1 1 0 3 0 0 5 2 8 2-11 2-6 0 14 1-19 0 14 3-6 1-2 2 9 1-14 2 21 1-1 2-11 0 0 0 1 1-10 0 18 3-6 1 1 0-12 0 10 0-10 2 12 0 4 3-3 0 7 0-3 1-16 1 17 2 1 2-3 3 0 1-4 0-6 0 1 1-7 1-2 1 11 3-5 1-4 1 6 0 0 1 5 2-10 0 20 0-17 1 17 2 0 1-16 0-6 0 22 6 0 2-4 0-13 0 1 3-4 1 1 0 1 1 6 5-9 0-1 0 22 0 0 1-6 1 4 0-3 1-12 1 13 1-13 1-5 1 19 0-4 2 4 0-4 0-12 0 14 1-7 2 3 2-9 0 6 0-6 1 18 3-20 1 7 3 4 2-13 1 12 0 8 2-1 2-3 1-17 2 18 0-1 1 0 0-11 0 3 1 5 0-12 0 0 1-2 0 0 1 12 2-8 0 7 3-10 2 17 0-6 1-8 1 1 1 6 1 5 0-8 0 8 5-2 2 4 0 4 3 0 1-8 3-8 0 7 1-2 0-10 1 7 0 12 1-19 1 18 12-7 2-2 13 13 2-2 2-4 18-1 23-15 25 39-33 5-11-16 0 10-2-13-4 8-9 12-2 0-5-21 0 15-2-13 0 5-1-6 0 20-4-1-2-20-6 8-2 12-4-10-2-6-3 9-4 3-4-15-1 13 0-10-5 5 0 5-1 8 0-15-2 8-1-4 0-3 0-9 0 16 0-10-2-5-1 18-2-19-1 12-4 11-1-17-1 11 0-17 0 23-2-22-1 21-3-6-1-9-1 16-1-3-1-5 0 0-2 3-1-14-1 1 0-3-1 12-2-11-2 7-1 8-2-7 0 8 0-15-2 11-2 2-5 4-1-8-1-7-2-5-1 22 0-5-1 4-1-14 0-5-1 12-1-12-3 2-1 7-2 5-1-4-2 5-3-14-1 19-1-23-2 21-1-16 0 2-1 12-2 0 0-8 0-3-5-4-1 11 0-4 0 10-2-11-1 0-2 10-1-10 0-6 0 8 0 6 0 2-2-9-1 7-2-4-2-8-3 13-1-7-2-6-2-6 0 12 0-1-1 9-1-10-4-10-3 20-2-7-1 0-1-5 0 3 0 4-2-13-4 13-4-11 0 19-2-9 0-4-1 11-3 2-1-13-2 11-1-21-1 5-2 6 0 7-1-13 0 17 0-14-1 15 0-21-1-1-1 9-1 10 0-1-1-19-3 20-3 0 0-12 0 9-3-7-1-8-3 3 0 9-2-4-3 10-4-20 0 17-4-13-4 18-5-19-1-3 0 10-2 13 0-7-1-10 0 3-2-8-1 20-1-2 0-4-2-6 0-6-3 4-3 14-1 0 0-17-4 5-2-9-2 16-4 3 0-11-2 7-5 2-1-17 0 3-2 17-1 2-2-13-2-6-2 13 0 6-1-18-2 5-3 4-1-6 0-6-1 12-4 8 0-16-1 1-4 12-2-9-1 7 0 3-2-8 0 6 0 5-1-17 0-5-3 23-1 0 0-1 0-8-7-12-1 10 0-2-1 5 0 5-3-14-1 8 0-10-1-1-2 15 0 4-5-15-1 7 0 5 0-19-2 17 0-13-1 16-2-15 0 4-3-6-1 4 0-4-2 20 0-3-2-19-3 7 0 15-4-20-1 13 0-7-4 7 0-8 0 3-1-1-1-3 0-6-1 4 0 2-3 0-1 12-2-13-4-3-3-1-2 15 0 1-4-7-2-10-2 13-1-6 0 13-5-11-1 3-13-5-11 5-3 0-6 4-8-16-19 19-26-2 5 20 1 0 1 9 16-7 5 5 1-13 3-5 2 10 1-13 1 18 3 5 2-21 1 9 2-2 1 1 2-2 4 8 6-10 7 3 1 14 1-8 3-8 2 2 0-5 1 8 7-3 2 3 0-10 1 16 3-12 6 12 1-14 1 2 0 8 0-3 1-6 1 5 0-6 0-2 2 19 2-9 0 1 5 0 4-1 0-6 3 4 5-6 1 19 0-3 4-15 1 17 2-4 1-9 1 13 1-2 3-1 2 2 0-7 0-13 1 10 2 9 1-2 0 1 2 1 1-3 1-8 2 12 2-5 0 2 3-5 0 1 0-12 1 5 1 12 1-13 1 12 2 0 0-5 3-11 0 1 5 4 1-4 1 2 3 0 1 7 2 9 0-16 1 6 0-4 0 15 1-10 1 2 0-11 2 4 0 16 0-4 1-10 1 12 0-3 1 5 1-12 6 1 1 10 0-18 1-3 1 21 0-14 1 15 1-23 0 11 0-5 1-1 2 2 1 11 1-15 0 13 3-9 1 12 5 4 0-15 1-5 0 5 1-6 1 1 2 1 2-2 2 21 1-18 5 17 1-8 2-2 3 3 3-12 1 6 1-6 1 1 1 5 1 13 0-6 0-3 3-5 1-3 0 0 1 17 1-5 0-3 1 0 1 9 1-12 0 9 2-17 0-3 3 19 1-11 2 9 2-10 3 15 0 0 1-5 1-5 1 3 1 8 0-22 0 11 4-1 1-8 1 8 1 4 1 7 1-9 2-12 1 15 1-16 1 19 2-2 4 3 0-8 1 11 2-1 0-2 2-7 0 1 1 2 0 0 2-8 1 10 0-1 1-1 1-12 3 16 0-3 2-10 1 12 2-10 0 6 1 8 1-5 1-8 2-8 1 19 5 1 0-4 2-10 1 4 1 6 2 2 1-19 0 4 1 13 1 2 2 3 0-4 1-16 0 17 2-8 0 5 0 6 1-20 1 8 1 2 1-6 1-1 1 16 1-1 1-21 1 21 2-10 3-8 1 18 2 2 2-5 1-2 0-12 1 8 1 3 0-10 0 8 2 10 1-4 0-6 1-8 1 12 2-1 2 4 0-2 1-15 4 20 0-17 1 17 0-14 0 8 3-9 1-7 1 7 0 13 2-6 1 6 2-12 1 0 0 11 1-10 2 13 2-5 1-8 1-9 0 22 2-20 0 18 2 0 0-10 2 5 2-16 0 2 0 9 1-11 0 22 1-21 1 14 0 7 0-9 1 0 1 4 2-11 0-1 1 1 2 11 0 6 0-18 0 1 1-1 1 2 1 3 0 9 0-12 1 8 0-5 0-8 1 18 3-4 0 5 3 0 1-15 0 13 4-8 1 7 1-12 1 11 2-7 1 10 0-5 2 5 0-17 1 7 3 5 6 8 2-1 0-4 1-17 0 9 4 6 1-10 2 1 2 0 2-6 5 10 0 6 1 5 4-14 4-1 8-7 5 2 19 15 1-17 5 4 14 1 1 13 18-17 5 13-45 21-11 12-4-3-2 2-1-20-15 0 0 5-2-7-1 19-3-9-2-10-4 21-1-10-3-1-1 8-3-4 0 0-1 9-2-16-1-7-4 13 0-4-1 5 0-10-2 11-1 4 0-18-1 3-3 3-4 14 0 2-1-7-2 1 0-5-2-2-1 13-1-7 0-3-1 8 0 0-2-2-2-4-5 2-1 6-1-16-1 9 0-1-2-5 0 8 0 3-3-19-4 15 0-6-1 6-2-3-2-4-2-3-3 1 0 3-1 7-2-10-3 4-1 9 0-3 0-17 0 8-3-4-1 11 0-3-3 9-1-15 0 7-2-6-2-2-2 8-1 8-1-7-1-3-1 5-2-12-4 15-3 3 0-21-2 2 0 9-2-11-1 3 0 1-2 15-1-1-2-3-1 2-3-3 0-14-1 3-2 7-4 6 0 0-3-12-1-1 0 14 0-9-1 2-2-1-3-3-1 9-1-1 0-15 0 17 0-16-1 5-1 5-1-3 0 0-6-8 0 3-2 10-2-14-1 10-2 1-2 6 0-16 0 21-2 0-2-4-1-10 0 13-3-8 0-7-2 14-1-20 0 0 0 12-1-3-2 14-1-6-2-9-2-1-1 10 0 3 0 3 0-11-1-5-2 0 0 12-2 3 0-16 0 9-1-1 0-8-5 15-3-16-2-4-1 10 0 10-4-3 0-6-1-11-1 8 0-1-1-8-1 13-3-5-1 0 0-7 0 15-1 0 0 1-2-3 0-14-3 8-3 13-1-2-1 4-6-15-1-2 0 5-2-6-1 4 0 11-1-1 0 2-1-15-1 0-1 1-1 6-1-8-4 16-1-17-1-3 0 19-1 2-1-4-2-16-1 5-1 11-1-17-1 17-2-1 0-8-1-7-5 5-1-4 0 4-1 5-1 5-2 4 0-1-2-8 0 2-2-2-1 10-3-17 0 14-1 4-1-13-1-10 0 21 0-14-3-3-1 9-1-1 0 4-1-12 0 12-2-16-4 1 0 16 0-16-7-1 0 14 0 6-3 0-1-11-1 9-2-2-1 0-2-16-3 21-1-11-5 3-1-13-8 10-1-9-3 21 0-17-1-5 0 9-3 2-1 12-4-12-1 11-4-18 0 10-3-8-1 14-1-15 0 9-1 4-1-15 0 4-4 9-1 0-1 7-1-17-1 8-2-6 0-7-1 4-1 11-1-14-4 14 0-2-6 3-2-14 0 4-1 12-1-15 0 0-5 10-2 3 0-2-1-12 0 14-3 3-1-15-2 10-7-12-1 13 0-13-5 5 0-3-2 15-3-10-1-6-10-2 0 14-1-6-3-1 0 1-2-2-1 7-5-13-6 2 0 18-1-5-5-15-2 4-2 8-10-3-7 10-1-9-9-9-2 15-15-10 1 29 13-9 0 13 11 5 7-17 8 6 8 9 3-19 0 6 15 6 4-3 5-8 8 16 4 4 1-16 3 7 4-7 1 9 1-3 4 3 4-4 3 4 1-4 2-5 3 9 4 3 1-12 0 13 2 0 1 1 1-1 1-18 1 8 1 0 2-8 1 9 0 6 1-12 5 15 1-7 1-3 7-6 4 5 3 5 1 8 2-19 7 8 1-7 1 6 0 4 0 0 5 4 2-10 1-2 0-2 1 13 0 2 2-5 2-1 3-7 3 10 1-15 2 2 2 21 0-12 1 10 0-10 1-5 3-6 1 19 2 3 1-8 0-7 1 3 2 11 2-7 1 6 3 3 0-12 2-7 1 11 2-10 0 0 0 9 1-6 1 10 4-10 0 9 3 6 2-20 2 10 0-13 0 11 3 2 1-13 1 18 0-6 1-1 0-10 0 16 2-11 2 0 1-5 1 14 0-11 4 3 1-7 3 14 0-5 2-5 1-2 1-1 0 8 1-1 0-7 1 15 0-4 0-11 1 17 1-18 0 19 0-5 1-13 4 7 0-7 0 20 2-1 2-13 0-5 2 4 1 10 1-7 0-1 0 3 2 5 2-2 0 7 0-3 1-17 1 17 3-11 0 8 0-3 1-3 1 12 0-12 2 7 0-16 2 11 1 12 1-3 1-20 1 18 1-8 1-7 1 4 0 11 0-17 1 17 0-8 1 1 0 11 0-6 0-11 1 11 2-9 1 4 1 2 1 1 1-11 1 20 1 0 2-13 2-7 1 1 0-4 0 0 1 20 2-12 1-5 1 5 1 11 1-7 0-12 2 11 1 6 0 1 1-17 1 1 2 11 0 6 0 2 0-2 0-2 3 3 1-11 1-9 0 10 2-6 1 4 2 6 0 4 1 4 0 0 2-5 1-2 1-13 3 16 1-10 1 7 0 1 1-3 0 10 0-21 1 14 0-15 1 4 3 10 0-5 1 1 0-10 1 8 2 2 0-8 1-3 0 12 1-6 0-4 1 16 1-2 2-8 1 3 2 11 2 0 3-21 0 13 1-14 2 14 0-2 1 9 2-5 1-13 3 1 1 19 1 0 4-9 3-6 0 7 1-7 3 2 2-10 1 2 2 2 1 16 4 3 1-8 0-6 2-4 2-1 0 15 0-3 2 0 0 2 0-5 1 8 1-5 1 2 1-5 1-1 1-6 0 16 0-2 5-2 0-13 0 8 3-11 4 4 0-1 1 3 2 13 0-19 1 5 5-3 0 10 1 2 0-15 4 11 2-5 1 1 0 3 1 4 0-10 1 9 0-5 2 7 0-8 0-5 0 7 1 0 1-10 1 12 1-7 0 2 6 5 2 1 1 4 1 2 0-12 0 1 1 1 2 9 0-5 1-3 2-8 1 6 0-1 0-1 5 3 1-2 0 2 3-1 1-7 1 20 2-1 3-2 2-10 4 7 0 7 1-8 0 6 1 1 0-8 1 1 2-3 3 4 5-1 4 8 3-21 2 15 0 1 1-14 0 4 25 12 3-1 1-18 5 15 13-10 18 3-30 27-20 12-4-12-1-9-3 16-2 3-2-4-1-11-3 11-2 4-5-16 0 7-2 6 0-5 0 4-1-2-3 2-3 0-1-12-2 4-3 13-5-10-1-7 0 5 0-8-1 16-1-17-3 21-3-22-2 2 0 11-1 10 0-1 0-4-1 1 0-8-2 11-1-12 0 5 0 6-2-16 0 18-2 0-3-22-1 21-1-9 0 8-3 1-3-8-1 3-1-8 0 13 0-21-2 18 0-5 0 0-1 8 0 1-1-2-1-6 0-5-4-1-5-7-3 16-2-5 0-1-1-2 0-3-2-5-2 11-1 3 0 2 0 2-1-17-4 11 0-8-1-6 0 15-1 0-1 5-2 2-6-17-2 8-1-10-2-3-2 6-1 13-1-12 0-2-1 13 0-18-1 1 0 8-1-3-1 0-1 10-1-15-1 1-1 19-2-11-1-2-1 7-2 2-1-2-4-7-1 9-1-15 0 15-3-5 0 8-1-3-1-3-1-2 0-3-1-6-4 1-1 2-7 3-2 11 0-14-1 11-8-17 0 20-2 1 0-20-2 13-1-13-5 0 0 4 0 0-1 17-4-4 0 1 0-12-1 3-2 9-1-5-1 5 0-13-1 3-1 5-1-1-2-4-1 12-1-4 0-6-1-5 0 8-2-8-1-3-1 17 0-15 0 16-1-4-1-15-2 0-1 8-2-4-1-1 0 13 0 5-2-21 0 1-4 6-2 7 0 6-1-10-1 10 0-8-1-8-1 14-1-18 0 10-1 4 0 1-1 3-1-3-2-15-4 0-3 14-1-12-1 11-2-7-2 4 0-3 0 5-4-10 0 6-1 5 0-1 0-1-1 1 0-4-1 4-1-12-3-1-2 0-1 16 0-14-1-3-3 11-1-10-2 3 0 10-5 8-2-17-2 1 0 16-2-5 0 6-1-20-1 20-1-11 0-7-1 11 0-6 0 2-4-2-1 11-3 2 0 0 0-23-1 13-1-4-1-5 0 5 0 7-2-14 0 17 0-15-1 18-1-12-1 8-3-8 0-4 0 7 0-9-4 3-1-2-4 16-1-17-2 9-4-13-2 17-1-11 0 16-1-19-1 12-1-14-1-1 0 1-2 11-3 9 0-7-1-1-2-7-1 3-1 7-1 5-3-14 0-3 0 8-2 2-2 9-4-9-1-12 0 15-3-8 0-9-2 1 0 4 0 18-1-1 0-19-1-2-4-1-1 8-2 13-7-5-1-14 0 13-2-8-2 12-1-18-4-1-1 2 0-2-1 19 0-4-1-13-2 11-1 3-1-5-1-3 0 5-1 9-1-22-1 18-5 5-3-8-1-1-5 2-1-11-2 8-3 10-1-13-3 10-2-16-8 18-10-17-17 16-1-5-2 7-3-2-7-13-43 26 24-7 20 9 13 6 24 4 0-10 2-3 3 11 3-19 2 10 12 4 1 8 1-9 6-12 0 12 2-6 2-1 1-5 2 14 1 2 3-6 1 8 10-14 0 5 5-2 2 2 1-10 2 4 2 18 2-19 1 19 1-11 1 7 1-9 3 5 2-13 5 8 2 6 1 4 0-7 3-8 1-3 2 5 0 11 1 0 6-7 1 0 1 3 0 7 1-18 3 18 2-1 1-6 1-8 0 12 4 0 2 2 0-15 3-2 0 11 1 2 2 4 0-12 5-6 0-2 1 5 0 3 2 12 0-17 5 8 0 5 3-5 0 8 3-17 2 18 0-9 1 0 1 5 1-2 2 3 1-1 2-4 1 10 0-9 0-4 4 2 5 12 4-22 3 1 2-1 1 10 3-3 1-2 1 16 1-2 1-2 0-17 1 0 1 20 1-13 1 6 0-9 1 5 1 7 0-12 0 7 1 6 0-3 1 4 1-18 1 12 1 7 0-2 0-3 1-13 1 11 1-8 0 15 0-18 1 5 2 9 2-12 3 2 1-6 3 3 1 6 1 4 4 2 0 0 1 1 5 2 2-15 1 19 0-9 0 10 1-12 0 9 4-20 0 18 0-18 1 22 0-11 1-11 1 17 0 1 2-11 2-7 1 9 1 1 0 3 0-11 1 20 0-17 1 17 2-15 1 6 1-11 2 10 4-4 0 3 2 0 1-7 2 13 2 6 4-21 2 11 1-8 0 9 1-5 1 13 0-20 1-2 1 13 0-10 1 4 1 9 1-5 0 5 2-15 0 13 0-4 1 12 0-16 3 11 1-15 0 0 1 3 0 6 1-8 1 0 0 19 4-7 3 7 2 1 2-14 4 10 0-4 2 2 4-13 2-4 0 0 0 2 1 21 3-6 2 4 2-4 1 4 0 0 1-18 2 15 0 2 1-3 2-14 0 1 0 7 3-11 1 11 1-3 2 1 3 1 1-3 0 2 0 13 0-2 1-10 1-4 2 11 2 0 1 0 1-17 1 17 1-7 0 2 1 9 0-2 7-12 4 15 0-6 2-16 2 9 2-4 0 2 1-1 0 1 1 1 2 5 2-7 0 10 2 7 0-23 1 6 1 4 3-2 1 15 1-21 0 13 1-11 0 16 4-7 0-2 1-7 1 11 0-8 0-3 1 7 0 3 0-3 3 10 1-13 1 3 0 4 1 2 1 4 4-21 4 10 2 13 1-18 1 11 5-10 0 1 2-2 2 16 1-5 3 3 2-19 0 7 8-6 1 18 1 3 0-10 2-5 6 3 0 1 1 10 9-20 6 17 0-4 8-8 6-4 2 6 0 14 10-1-24 7-1 3-9-1-1 0-6 5-2-11-3 8-6-7-4 0-1 11-15-7-3-4 0 4-3 13-3-7-6-4-2 8 0-3-4 0-4 0 0 7-2-8 0-10-2 9 0-7 0 14-4 4 0-19-1 14-3 3-2-8 0 1-1-4-2 13-1-17-1 14-2-3-1-13 0 4 0-4 0 7-14 11-1 0-4-16 0 6-4 7-1 2-3-15 0 13-1-5-1 2-1 6-3-10-1-10-2 14-1-1-5-6-1 10-2-13-1 6-5-6-1 6-1 11 0-17-1 8-1 9 0-20-1-1 0 16-1-3-3-11-4 13-3-12 0 10-2 8-3-7-1 9 0-4 0 0-4-2-1-4-1 7 0-9 0 9-1 0 0-11-1-4 0 18-2-15-1-2-9 3-3 2 0 6 0-2-1-13-1 3-1 5-3 1 0-4-1-1-1-4-1 2 0 2 0 4-1-9-5 15-1-4-3-7-1 13-2-2 0 7-1-20-1 3-3 5-1 1-1 8 0-8-2-1-1 1-1-4-1-2-1 4-1 7 0-4-1 2 0-15-1 22-1-5 0-3-1-4-1-1-1-9 0 3-1 6-1 11 0-1-2-6 0 4-1-15-1 9 0 3 0 9-2-12-1-5-2-2 0 0-2 10-5 6-1-12-3 7-3 5-4-2-1-1 0-12 0-5-1 5-1 9 0 1 0-7-2-6-2 11 0-11-4 20 0-17 0 1-2 6 0 11-1-15-2 7-4 3-1-10 0 3-3 6-1 6 0-3 0-11-1 7-3 0-1-12-2 15-1 2-3-1-1-1 0-11 0-7-4 1-1 0-2 12 0 3-1-9 0 11 0-19 0 5-1 6-2 8-1-5-1-9-4 4-4 1-1 8-1 0-2-17-1 22-1-13 0-1-2 14-1-18-2-3 0 0-1 16-4 1 0-15 0 13-2-8-5 14 0-23 0 10-3 11-2-10 0-1-1 2-3 0-1-11-1-1-2 17-1 4-1 1-7-17-5 2-2 9-1 0-1 4-1-12-1 11-1-14-7 0-2 6 0-5-1 5-1 9 0-9-1-4 0 1-1 14 0-5-3-3 0-5-2-6-2 11-1-2-3 8-1 3-2-17-2-5-1 15 0-2-1 0-2-1-2 1-3-7-2-5-2 5-4 12-7-5-3-14-1 3-9 5-2 2-6 2-3-2-2-8-4 14-12 0 0 4-10-2-6 20 10 8 6-16 20 8 5 1 2-11 38-1 16 1 4 16 5-1 0-2 1-3 1 7 2-21 0 4 1 12 0-2 4 8 3-7 0 6 0-12 2 2 4-8 3 0 0 6 1-1 6 3 1 0 1-4 2 5 3-9 1 19 0-1 2-9 2 9 4-20 0 14 1 1 0-8 0 9 0-16 1 1 1-2 1 20 9-11 5 6 5 2 2-11 0 6 1-7 0 6 2-1 1-8 2 19 0-1 1-3 3-15 1 19 3-12 1-5 0 19 1-12 3 1 3 3 1-8 1-3 1 17 1 2 0 0 0-11 2-7 3 15 0-11 2 12 0-10 3 0 0 2 0 4 0 1 1-8 1 7 0-4 1 8 0-11 6 4 4 7 0-14 1 4 1 6 0-13 1 13 0-3 1 7 1-13 4 7 2-1 0 7 1-18 0 20 2-20 1 7 3-6 1 2 3-3 0 2 3 2 0 4 6-1 1 10 2-10 2-4 2 15 1-12 4 9 1-7 1 11 1-8 1 9 1-19 0 4 1 8 0 0 3 2 0 3 0-7 2-11 0 12 0-11 7-3 2 5 1 10 2 6 2 1 0-3 3-4 3 0 0-13 1 17 1-18 2 4 4 14 2-8 0 9 2-21 0 0 1 22 1-11 5 9 0-4 0-11 0 0 1 16 1-14 1 4 0 6 1-15 0 21 1-5 0-6 3-11 2 6 1 3 0 7 0-7 2 8 0-14 0 10 1-8 2 17 1-6 2-14 0 6 1 5 1-4 0 5 3 0 0-4 3-3 4 7 2-13 1 14 1-7 1-1 0-2 0 13 0 1 2-14 1-2 1 3 5 7 2-5 2 3 2 0 4 5 4-6 2 0 1-1 4 10 0-18 4 5 8 1 3-3 0 1 2 3 1-4 1 5 5 10 1 0 2-20 3 9 2-3 7-6 0 20 1-14 1 6 6 7 2-9 1-7 1 2 2 13 7-11 19-4 0 18 3-2 8-9 5-8 8 14 5 2 4-15 4 6 7 22-24-7-1 1-4 9-5 9-9-2-10-17-4 17-1-16 0 7-2 4-5 3-1-13-4 0 0 15-2-14-1 6-3-8-2 6-2 7-7-13-2 13-10 3-7-9-1 11-6-7-11-12-3 8-2-6-2 10 0 1-1 4 0-7 0 10-1 3-3-3-1-14-5-2-6 4-3 1-1-3-1 7-2-4-1 8-2-8 0-1-2 8-2 2-1-9 0-7-3-2-3 13-1-3-1-2-1-7-2 16-5 6-7-14-3-2 0-1-2 5-1 8-1-11-4 9-1 5-1-5 0-17-4 8-4-2-3 11-2 5 0-22-2 16-1 4-1 2-1-9-3 0-1 3-1-8-1 0-4 6-5-2-3 11-4-11 0-9-1 20-6-7-2 4-1-6 0-1-1 0 0-10 0 15-1 4 0-4-1-1 0-10-3 4-1 6 0-15-1 17-2-6-1-4 0 3-3-6-2 16-1-2-2-7-2-5 0 7-4 3 0-6-1-1-4 6-1-11-1-2-2 4-1 9 0-10 0 16-1-11-1-6-1 3-1-4 0-4-1 17-2-12 0-1 0-5-2 10-1-7 0 12 0-6-3-5-1 12-2-3 0 0-3-3 0-5 0 10-2-15 0 4-1 18-1 1-1-1-2-7-2 3 0-4-1-1 0-3 0-2 0 7-2-6-1 4-2-12 0 3-2 10-1 5 0-3-4-15-4 22-1-22 0 12 0-4 0 6-1-14-2 17-2-15-1 6-1 13-1-20-1 1-3 17-3 2-1-1-3 1 0-15 0 7-1-2-1-3-2 1-1 12-2-5-2-8-1 4-1 10-1-11-1-12-2 13-3 3 0-1-9-12 0 12-2-7-3 0 0 8-1 2-1-11-3 14-3-3 0-4-3 0-1-6 0 13-5-6-2 4-2-18-5 4-1 18-4-2-3-20-3 15 0 4-3-1 0-3-9-6-7-8-6 18-10-15-1 0-22 0-19 37 13-14 48 6 1 5 15 5 13-16 0 6 0 12 2-18 1 9 1 4 1 3 0 3 1-10 7 8 6-2 1-6 2 1 0-2 2-9 4 6 3 2 0-4 1-6 8 2 2 13 4-9 1-1 0 14 0 2 1-17 0 0 2 3 0-5 3 16 0-18 3 14 1 4 3 0 2-5 1-13 3 2 2 16 2-14 1 1 1 7 0-6 0-4 2-3 0 20 1-5 2-13 0 16 2-3 3 4 1-4 3-6 0-2 2 9 1 3 2-15 2 0 0 10 2-12 0 21 0-4 1-5 0-3 0-6 1 13 2-18 0 17 2-12 3-1 1 8 3-1 2 2 1 3 1-7 1 5 1-10 1 3 2 9 1 7 0-14 5 0 0 1 1 0 1 1 1 11 0-2 3 2 0-10 0-9 1 9 0-2 1-8 1 8 2-7 2 10 1-4 1 12 3-16 0 9 1-8 2-2 2 18 1-4 1-5 2 1 3 0 0-5 3 7 0-15 1 12 1-5 2-5 1 12 1 0 2-13 2 8 1 13 2-12 1 2 1 6 1 2 5-10 0 4 3-12 1 11 1-9 1 6 3 10 2-17 1 18 0-16 3-2 0 9 3 5 2 5 3-18 2 5 0 7 1-2 2 8 3-23 2 15 0-11 1 10 1 4 1 0 1-6 2 5 2-8 0 5 1 5 0-3 5-7 1 9 0-16 0 18 1-18 4 18 1 3 0-1 1-3 1-9 0-5 1 7 0 0 0-3 2 1 1-1 0 7 5-12 4 11 3-7 1 8 0-12 2 4 2 7 3-10 3-2 0 3 13 17 19-6 5-12 0 11 1-3 1 9 8-19 6 5 9 13 1-9 6-8 4-1 7 1 18 19 1-20 0 4 18 5-35 25-40 2-19 6-2-1-9-17-1-1-10 6-5-7-14 15 0-5-1-2-7-6-1 18-2-7-13-9-1 6-4 1 0 0-1 4-2 2-10-14-3 4-1 15-6-15 0 9-6-6-2 6-2 4 0-20-1 5-2 4 0 12 0-13-5-5-8 1 0 4 0-9-1 12-2 4 0-11-6 18-1-21-5 12-2-12-1 14 0-1-2-14-4 18-3-1-1-12-1 10 0-13-1 3-1-6 0 16-2-2-4 8-1-19-5 4-1-5 0 18 0-9 0 7 0-7-1-1 0 8-1-15-1 14-1 5 0-9 0-5-1 4-1-8-1 7 0 8-1-2-1-3-3-1 0-1-1 9 0-10-2 11-2-21-1 8 0 0-5 7-6 6-2-12-1 2 0 10-3 0-2-14 0-5-1 7-1 1 0-7-2 9-1 10-2-23 0 11 0-10-3 7-1 1-2-2-2-6 0 0-2 6-2 1 0-4-2 1-2 10-2-7-1-2-2 4-2 7-1-1-1 0-1-4 0-3-3 10-2-16-2 14-3-15-7 8-1-7 0 3-1 5-1-3-3-6-2 1-8 10-3-13-2 7 0 13-5 3-2-20-10 3 0-4-1 10-2 11-4-14-5 7-13 7-4-12-18 1 0-12-13 18 22 16 5-2 10 11 1 1 8 0 3-5 1 0 5-5 0-4 5 8 7-8 10 16 2-9 6-10 1 9 7 3 5 4 0-14 2 5 1-9 1 17 2-6 0 2 3-11 1 12 1-5 3 9 5-6 6 5 0-4 0 0 3 3 1-7 1 10 4-19 5 2 0 20 2-4 1 0 3-12 0 12 1-1 0-5 0 0 0-7 0 12 2-3 1-12 3 6 2 0 4-2 2-2 2 1 2-2 2 8 1-6 3 8 4-11 1 0 2 14 2-6 2-3 3-5 1 0 1 1 1 5 4 11 2-5 1 8 1-10 1-3 2-5 0-2 1 16 0-10 0 12 3-15 4 5 2 5 1 2 0 3 1-5 1 3 1-10 2 10 3 0 6-11 0 7 0-4 4-7 1 19 1-7 0-4 1 5 2-6 1-3 1-3 2 4 2 14 1-21 0 20 2-22 0 22 1-16 2-2 3-2 0 21 5-12 2-5 1 10 2-16 0 19 3-4 7-11 4-3 3 22 2-13 0-4 6 12 0-17 3 19 0-17 7-2 4 21 1-2 1-14 1 7 1-4 3 2 10-11 4 21 8-7 19-9 33 16 16-19-11 27-54 16-7-17-9-4-11 1-2 12-8 6-8-12-3-3 0 12-1-15 0 12-3-13-5 19-7-7-4-4-6-7-3 8-2-9-5 11-4-6-1-3-11 0 0 3-2 13 0-2-4 5 0-20-1 4-2-2-1 9-1-2-4-10-2 1-2 8-1 12 0-20-8 13-6 4-3-13-8-4-4 8-3-7-6 13-5 4-10 1 0-15 0 4-1-8-5 9-3 11-6-15-2 8-2-11 0-1-6 9-4 9-2-18-3 21-2-13-2-3-2-3-1 6-36 4-2 4-2-5-7-1-7-3-6 7-6-13-4 4 68 19 17 7 4 3 3-3 2-4 4 9 0 4 1-7 17 6 0-4 8-13 5 20 2-11 1-6 1-2 15 2 4 6 25-1 7-2 12-5 19 3 0 2 6 5 26-4 2 0 10 12-97 9-39-2"/>
</g>
<g id="gE">
<path class="sg" d="M96.1 85.8L111.6 65.2L137.3 54.9L163.1 56.6L185.4 68.7L202.5 94.4L211.1 128.7L211.1 163.1L202.5 197.4L185.4 223.1L163.1 236.9L137.3 236.9L116.7 223.1L103.0 197.4L96.1 163.1L92.7 120.1Z" fill-opacity="0.66" filter="url(#f8)"/>
<ellipse class="sg" cx="140.7" cy="283.2" rx="4.3" ry="5.1" fill-opacity="0.8" filter="url(#f2)"/>
<path class="mgE" transform="scale(.5)" d="M350-2l-40 1-116 14 58 7 9 3 17-23 65 5 4 16 38-20 7 13 3-7 14 0 11 6-5 22-23-3 0 4-7 4-33-10-2-5-17 3-6-4-31 16-22 5-1-13-14 9-14-12-6 7-3-3 0 8-30 2-10-15-28-2-38 35 45-9 0 13 21-6 28 3 24-8 6 4 4 5 0-1 19 6 11-14 3 10 15-11 8 10 11 7 9-4 3-10 8 10 13-5 2 9 15-3 16-19 10 20 3-10 47 9 40-16-21 26-3 17-57-8-1-9-17 15-7-20-1 6-4 15-1 2-42-1 0-20 0 10-3-6-5-2-10 17-1-13-2 9-1-11-2-4-4 18-4-1 0-9-7 7-7 3-3-19-1 12-16-13 0 20-15-10-4 7-1 4 0-5-3 3-1-4-13-11-6 6-9 7-13 5-1-18-6 3-3 9-8 7-4-4-3-1-4-8-7 9-15-6-16 2-16-11-26 9-34 6 29 8 7 6 13-2 3 7 18-6 3 5 1 9 0-4 6 3 4-16 2 8 22-2 14 11 2 1 9-22 5 1 8 17 4-7 2 5 1 6 2-23 2 19 0 1 3-7 10 4 1-13 4-2 2 15 0 4 4-16 13 10 2-13 4 1 0 5 1-4 0 18 0-17 1 10 1-7 3 9 2 2 0-15 3 17 1-21 2 0 2 22 2-16 3 11 1-15 2 21 4-12 0-10 1 18 5 0 3 0 1-14 2 8 2 9 6-4 2 4 0-14 0-8 4 21 1 2 3-20 0 5 3 3 2 6 3 2 13-10 1-7 3 4 14 3 0-4 4-2 2 5 1 9 1-14 0 1 1 15 10-18 0 4 3 6 4 11 4-7 2-9 0 15 7-9 18 7 9-7 7-10 70 5 1-7 20 8 25 9 15 16-8 11-15-19-52 4-10-5-7 8-1 0-6 11-46 3-11-15-9 14-11-8-4-6-2 9 0-7-8-5-2 5-7 13 0-1-1-8-7 1-2 0-2-13-2 7-2 12-1-7-3 4-1-1 0-4-2-1-4 0 0 4-3-6-1 1-2-5-1 2-4 4 0 11-2 0-2-5-2-10-2 8-1-15-3 16 0 2-2 5-1-3-1 1-1 1-1 0-2-19-2 10-3 3 0-14-1 11-1-9 0-2-3 13-1-10-1 0 0 9 0 8-4-20 0 14-2 4-2-7-3 9-1-17 0 5-5-1-2 11-2-14-2 9-1-13-4 10-2-2-2 12 0-20-3 5-1 12 0-1-1-4-1 1-1-3 0-5 0-6-3 5 0 5-2-11-1 15-1-1-1-9-1 3-1 3-1 0-2 11 0-4-1-14-4 12 0-9-1 13-7-15-1 5 0 5-1 2-3-13-1 2-5 12-3 2 0 2 0-20 0 21-6-2-7-20-12 16-34-6-8-9 0 7-1 1-2-6-2 17-4-18-13 19-14 1-40-1-1-22-4 22-20-18-13 39 0-15 5 7 9-11 2 11 22 3 3-9 11 14 1-3 1 4 3-18 6 3 3-2 1 19 1-9 1 7 2-10 0 4 3-6 2 5 1-3 0-8 5 12 3 9 1-7 0-9 7 8 1 1 2-5 2 11 0-5 0-13 4 0 3 5 6 6 4-4 6 7 0-1 1-8 5 0 2 9 1 1 4-10 2 11 2-17 6 15 7-5 2-10 0 7 2 11 6-15 5 11 1 6 1-8 1-4 0-6 1-5 3 10 1-3 4 4 2 11 1 1 3-3 0-11 0-7 2 10 1 5 0-15 1 15 0-6 1-11 1 2 3 3 1 16 2 0 1-7 1-6 3 5 0-13 4 7 0 6 1 7 1-4 3-2 0-4 2-2 3-7 1 5 1-1 0 4 3 3 0-5 1 9 1-16 1 8 3 3 2 6 3-11 2 9 0-15 1 7 0 14 0-1 1 1 0-5 2-15 0 14 2-15 0 15 0 1 1-14 1-1 0 19 0-5 1 4 2 4 1-22 3 20 0-2 4-12 6-2 0 5 4-9 1 14 0 6 2-3 0-17 4 6 1 13 3 1 2-16 1 13 1-1 4 0 3-11 1-5 2 11 1-6 0 9 1-12 0 13 1 1 1-17 2 8 2 14 0-10 3-3 0-9 0 9 1 12 2-9 1 6 1-6 0 10 2-2 3-13 2-4 0 16 0-2 1-6 5-6 0 10 0-5 3-6 3 15 2-19 3 22 1-5 0 2 1-8 5-11 2 17 2 5 3-4 0-4 1-8 1 5 1 10 1-6 0-10 5 16 5-19 8 20 1-8 0 2 0-12 5 16 4-1 4-13 3 3 5 11 3-18 2 4 0 0 9 2 1 2 36-1 5 6 7-2 21-3 9 3 11 3 5 1 45-6 23 26-23-5-42 12-5-19-20 7-17 14-7-2-15-8-11 1-4 1-3 5-14 0-6-6-12-13-11 2-2 13 0-7-3 11-3 0 0 3-2-1-1-18-1 13-1 6-1-19 0 11-2-12-3 19-4-18-2 5-1-7 0-1 0 22-1-22-1 13 0 10-1-12-1-3-2-1 0-6-5 16 0-5-1-2-1-10 0 2-1 5-1 6 0 8-3 2-2-17-1-5-1 3-2 5-1-2-2-7-3 1-2 8-5-9-1 19 0 0-1 2-3-2-2-14-3 11-1-15-1 7-1 14-4-17 0 11-1-14 0 0-2 3-1 12 0-17-1 9 0 7-1 7-1-14 0 1 0-7-3 20-1-12 0-4-5 12-1-19-1 3 0 7-1 6-4-16-1 11-1-6-5-3 0 10 0 2-1-10 0 0-4 16-1 2-1-14 0-7-1 0-2 9-1 1-3-7-1 13-5-4 0 4 0 4 0-12-1 7-1-6-2 10-4-4-1 2 0-18-2 10-2 8 0-16-1 5-4 3-3 0-2 13-1-11-1-3-1-7-1 6 0 13-2 2-1-8-1-7 0-1 0 0-4-7 0 12-2-6-1 7-5 4-1-2 0-14 0 2 0 15-1-8 0 1-1 11-1 1-2-16 0 1-1 7 0-12 0 1-1-2-1 8 0 2 0-12 0 12-2 2-2-8 0 11 0-14-1 3-6 4-4-3 0 15-2-5 0 0-2 3 0-18-1-2 0 0-1 21-2-17-1 1-4 14-3-1-1-15-1 19-1-13-1-6-2 0 0 13-4-16 0 5 0-4-1 7-1 2 0 9-2-15-2 5-4-9 0 16-3 3 0-1-1-4-2 1-4 2 0-1-9 5-1-13-1-8-1 22-1-20-1 2-1 12-2-13-4 1 0 6-7-3-2 10-1-5-3 8 0 1-1-14-6 8-3-8-4 4-7 2-1 7-1-5 0 5-11-20-11 7-3 14-1-10-5 10-1-6-12-12-5-2-8 8-6 10-4-14-6 9-1 9-20 16 1-4 11-7 11 15 0-2 6-4 14 4 10-9 5 13 8-13 0 15 3-10 4-10 2 0 5 0 3 17 1-19 2 3 1 1 3 6 0 11 2-19 1 13 2-12 2 13 0-3 2 7 7-9 0 9 6-19 1 18 0-18 2 14 5 0 2 7 2-13 1 1 1-5 3 8 2 0 0-10 1 17 2-21 1 20 1-18 1 0 0 19 4 0 2-5 0 5 1-18 1 5 0 0 1 1 1-2 2 7 0 3 1 2 1 2 2-4 3-16 0 15 1 5 2 2 2-19 0 6 1 8 0 1 0-8 0-9 2 12 3-7 3 7 2 0 2-8 2 2 1 5 1 9 6-10 1-1 0 7 1-14 0 5 1-1 2 11 2-9 0 0 1 1 1-4 1-2 1 13 1-5 0-2 1 7 1-4 0 4 1-5 1-2 0-7 1 15 1 0 2-8 1-3 1-3 1 11 1-16 4 10 0-3 5-6 0 3 1 13 0-4 0-5 3-3 0-5 2 19 1-7 1 4 3-1 1 5 0-9 1 6 1-2 4-15 1 15 1-15 1 17 0 6 1-5 1-14 0-1 1 7 1 12 1-2 1 2 4-19 0 18 3-18 1 17 0-8 0-9 3 8 1 6 0 5 1-7 2-13 0 20 2-14 1 9 0 6 2-10 0-1 3-6 2 3 0 8 1 3 0 1 0-18 1-2 5 4 0-1 2 3 3 5 0-7 1 18 2-6 2 1 1 3 0 1 1-20 2 15 0-11 0-1 1 2 0-6 1 11 0 3 2 4 0-4 0-13 1 5 1-7 0 3 0 15 1 1 2-12 1 4 1 2 1-12 0 5 1 3 1 7 0 5 0-21 1 0 0 23 2-17 0-5 1 19 0-18 0 16 4-8 0-4 0-5 0 0 2 3 0 10 1-4 1-1 2 14 0-5 0-17 3 10 2-3 3 14 4-3 0 2 2-10 0-7 1 15 1 3 2-15 1 0 4 8 1-14 1 9 1-4 0 13 1-18 1 0 1 14 0 0 1 0 0-15 0 17 1-13 2 7 3 9 2 1 1-17 2 16 2-11 1-3 1-1 0 8 2-10 2 9 0 2 2-4 0-5 2-4 0 6 0 2 1 0 0 5 4-13 1-1 2 15 0 1 3-14 1 6 1 11 4-14 5 3 0 14 1-1 2-6 3-15 4 5 1 18 5-3 3-2 3 2 5-6 2 7 3-5 5-7 3 5 3-2 5 7 2-6 1 1 1-10 13 9 1 4 21-5 6-5 3-6 43 16 38 13-23-6-34 3-8 11-16-3-16-6-2 2-44 11-2-7-3 1 0-9-7-1-8 14 0 0-3-1 0-15-4 13-1-10-3 10-5 5-1-15 0 8-1 2-3-4 0 3-4-7 0 10-3 1-1 6 0-13-2-7-4 10 0 0 0-2 0 12-2-6-1-13-3 15-1-3-3-4 0 7-1-9 0-5 0 11-1 0-1-4-2 8-2-8 0 1-2 1-1-9-1 13 0-6-2-6-2 7 0-5 0 2-1-4 0 8-2 10-1-13-1-8-3-1-4 17-1-9-1-4 0 7-3-1-3 4 0-6-2 9 0-11-1-1-3-5 0 22 0-13-2 7-1 2-2-7 0-11-1 0-1 11-2 2-2 3-4-6-1 4-1-14-1 9-1 12-2-20-2 11 0-9-1 16-1-3 0-14-1 3-1 14-1-11 0 13-1-20-5 19 0-1-1-18-1-2 0 0 0 17 0-15-2 0 0 11-1-13-1 3 0-2 0-1-1 9-3 4-1-12-2 15-1 1-1-7-8-10 0 6 0 13-2-1-1-18-1 23-1-14 0-2 0 1-1 5-1 10-1-13-1 9-2-15-1 6 0-3-1 14 0-8 0-1 0-9-2 14-1-2 0 2-1-11 0 3-1-9 0 15-2 8 0-7 0-4-3-5 0 5-1-7-2 10 0-7-1 9 0-15-1 13-1 5 0-10-1 10-1-9 0 8-1-14 0-3 0 11-1 9-1-12-1 2-1 7-2-17-1 7 0 6 0 2 0-2-1 8-1 0-1-8-2 5-2-7 0 2 0 8-4-21-1 2-1 4-2-1-1 3 0 5-1-4-2 0-2 12-3-6 0-2-1 6 0-4 0-13-1 16-1 0-3-2 0 2-1-4-1-14 0 17-1-17-2 12 0-13-1 5 0 13-3 1-1-12-2 10 0-15-1 20-1-21-2 12 0-14 0 4-4 12 0-16-1 10-1-6 0 19-1-22-2 6-5 7-3 0 0 5 0 4-1-19-1 6-1 12-1-2-2 3-1-20-2 8-3 7-6 2 0-18 0 2 0 9 0 1-1 8-1-9-2 6 0 2 0-4-2-16 0 20-11-1-2-4 0-6-2-8-2 10 0 3 0-5-2 6 0-12-2 18-2-1-4-4 0-4-1-4 0 7-3-4-3-12-3 14 0-4-1 11-2-17 0 0-1 13-1 6-2-2-9-6-4 1-4-7-1 7-6-16-3 14-7-2-10-5-4 16-4-9-6-10 0-3-14 4-1 0-12 10 19 13 8-1 1 2 1 4 3 5 17-14 3 3 1 1 6 14 2-7 2 11 1-19 1 3 2 16 1-13 5 12 0 0 0-7 1-6 2-3 2 9 2-3 1 1 2-7 3 4 1 14 2-1 1-12 1 0 1-4 1 1 1 16 2-14 6-6 1 1 3 15 2-13 3 15 2-7 1 2 0-7 1 4 0 5 6-3 1-3 0-10 0 19 1-12 2 14 3-1 2-9 1-6 4 9 1-6 2 5 3-13 1-2 0 3 1 17 0-3 4-1 1 5 0-21 1 2 1 14 1 0 1 0 6-6 0-10 2 13 1-12 0 10 1-3 1 2 2 4 0-12 1 1 1 18 1-10 0 3 1-10 1 5 0 10 1-6 1 8 2 1 2-6 0 4 1-7 0-8 1 4 0-1 1-8 1 19 1-3 1-15 1 0 1 7 2 5 1 9 0-22 0 23 0-1 1-13 0-8 0 17 0-16 2 13 2 5 1-17 1 18 0-20 0 1 1 4 0 10 1-12 0 9 1 8 2-17 2 12 0-13 1-3 0 15 0-9 2 17 2-13 1 7 1 1 1-4 0 0 1 2 1-11 0 14 0-3 1-13 0 2 0 15 1-2 2-1 0-17 1 10 1 6 2-15 1 18 2-16 0 10 2-2 1-9 0 13 1 2 1-12 3-4 2 10 0-2 0-2 1-4 0 4 0 7 2-5 1-9 1 13 0 0 0-9 0 18 1-16 0 4 1-4 0 8 1 4 1-15 0 16 1 2 1-3 3-3 0 5 0-8 1-4 1-6 3 9 0-7 1 11 0 0 0 0 2 7 1-11 0 3 3 2 0 2 1-13 2 1 2-4 3 20 1-4 0 5 2-4 0-4 0 8 0 0 2-20 1 2 0-1 2 15 3-17 3 10 1-1 0 2 0 9 2-17 1 4 2 8 0 6 2-3 3-17 1-1 0 10 1 8 3-20 1 18 0-14 2 10 0 7 1-10 1-7 1 1 0 9 1-14 0 14 0-2 0-6 2 2 1-7 2 12 0 10 1-2 0 0 0-11 1 13 3-18 1 11 2-10 0 14 2-19 0 13 1-9 0 15 1-15 1 16 0-12 1 3 1-9 0-1 1 15 3-16 1 22 0-3 0-8 1-8 0 0 0 0 1 11 0-9 0 13 2-5 1-2 3 10 1-17 4 15 1-3 0 4 1-1 3-14 0 12 3-12 0-1 2 8 0 9 0-3 2 1 1-10 0 1 2-4 1 7 6-9 1 18 2-9 0-7 2-7 0 0 1 14 1 3 5-8 0 14 1-7 3-7 0 10 2-3 0 1 6-10 1 6 0-8 1 3 0-7 2 13 0 9 1-23 1 14 1 4 0-16 2 3 0 13 3 5 1-1 3-9 0-6 1-4 2 5 1 5 0-7 1 17 1-12 12 4 2-15 1 19 5-5 4 3 2-9 15 1 28 1 8 10 4 0 8-1 8-13 1 2 13 14 53-5-51 22-29 2-5 0-5 5-1-2-2-8-12 2-5-9-9-1-5 19-8 0-7-21-7 14-7-7-1 7-1-15-1 8-8-5-4-2-3 21 0-9-2-9-1 3-2 3-3-9-2 15-1-2 0-8-3-3 0 8-1 0 0 6-1-17-1 17 0 5-1-14 0-7-2 20-2-11-10-10 0 1 0 20-1-17 0 11-1-3-3-3 0 4-2 9-1-19 0 10 0 5 0 3 0-19-3 15 0-6 0-2-1 3-1-6 0 13-2-20-2 7-1 1-2-4-1 2-1-4 0 17-2 4-2-14 0 1-1 10 0-9 0-2-2 11-1-3-3-2 0-15 0 8-4-8-1 4 0 1 0-1-1 2-2-6-1 1 0 9 0-9-1 17-1-4 0-14 0 22-1-16 0 17-1-16 0 9 0-7 0 12 0-21-2 18 0-9-1 8-1-11 0 6 0 7-1-3-1-3-1-4 0 11-1-12-1 3-1 1-1-4-2 6-1-12-2 20-1-7 0-9-4 14-1-14-2 1-1-6-1 4-3 6-2 10 0-4 0-5-1 9-1-12 0-5 0 10-1-14 0 8-2-5 0 6-1-7-1 10-1-5 0-4-2 2 0-5-1 23-1-16 0 10-1 0-1-1-4 0-1-9-2-6 0 0 0 9-1 4-1-6-3-3-2 5-1-7 0 2-1 3 0 9-1 1 0-7-2 0 0-4-2 3-4 13-1-12 0 5 0-8-1 4 0 3-1-2-1-3-2-1-1 7-2-13 0 20 0-17-2 12-1-8-1 6-1-8 0 10-1-5-1 3 0 1-1-1-1-5-1-2 0 1 0-3-2 0-5 11-8-3-4 5-1-14-2 17-1-23-2 9-1-4 0 18-3-9 0 2-1 2-1-14 0 2-1 0 0-3-1-2-4 15 0-9-1 5 0 3 0-4-1-2 0-4-1-1 0 3 0 15-1-15-1-2-1 3-1 5 0-4-2-4 0 1 0 15-1 2 0-4-1-1 0-7-1 4-3 6 0-3 0-8 0 7-1-5 0-11-1 15 0-10 0-1-1 16-1-19-3 10-1 0-1-4 0-4-2 15-1-16 0 19 0-19 0 7-1 8-1 5 0-7-1-3-1 8-1-1-1-6 0-5-6 10-3-8 0-10 0 7-2 10-2-13 0 1 0-6-2 0-1 23 0-22-2 19-1 2 0 1-2-16 0 1 0-7-4 0-2 18 0-16 0 16-1-4-2 6-2-11-4 13-2-18-1 6 0 7-1-2-1-15-1 16-1-8-5 0 0-7-1-1 0 21-2-6-2-11 0 5-1 7-1-17-1 12-1 8-2-5 0-12-2 11 0-10 0 15-1-6 0-1 0 4-1-4-3 7-1-9-3-6 0 2-2 3 0 7 0-1-6-5-2 7-2-8-2 8-2-15-1 9 0-7-1 1-2 17-2-13-4-3 0 4-2 4-3-14-5 14-3 9-9-4-5-15 0 8-8 11-13-19 0 10-11-9-14 10-3 30 18-21 8 14 2 8 4-5 4 4 2-13 2 13 2-11 2-4 1 0 2-5 2 11 0-11 7 13 3 6 9-19 1 8 4 7 1-16 2 2 0 8 1 10 2-10 6 0 5 6 3-13 1 20 3-19 0 19 2-17 4 2 4 13 1-15 0-4 5 1 1 3 4 14 2 2 3-5 7-6 0-9 1 16 2-15 0 1 1 17 0 2 3-15 1 12 2 3 0-8 2-12 0 4 6-3 0-1 1 14 1-13 0 18 4-19 1 2 1 13 3-18 1 7 1 6 0-1 2 7 1-2 2 4 0-19 0 12 0 0 3-1 0 1 1-9 0 17 1-17 4-3 0-1 1 15 0-7 5 10 0-3 0-6 1-2 1 6 1 1 0-7 1 2 3 6 0 0 0-10 1-5 1 11 0 4 1-9 1 9 0-2 2 9 0-19 1 5 1 1 1 4 0-3 1 4 0 8 1-15 3 13 1-6 0 8 1-4 0-4 1-2 1-5 2 10 1 0 1-5 1 0 0-13 2 6 0 16 0-8 1-11 0 19 0-20 1 7 3 13 0-1 1-3 1 2 2-3 2-17 0 3 0-2 1 5 0 11 3 6 0-11 1 8 1-11 2 9 1-10 1 6 2 3 0 1 1 5 1-7 1 7 1-10 0-3 0-10 0 0 1 18 0-3 1 5 2-2 1-15 0 2 0 2 0 1 2-5 1 7 1 7 0-1 1 7 1-14 1 2 1-1 0 13 0-12 0 11 2-8 1 3 0-15 1 0 0 0 0 13 1-1 3-9 1-5 0 6 1 5 1-8 0 9 3-10 1 2 0 18 1-19 0 11 1 2 2 2 0 2 0 3 3-4 1-15 1-4 1 16 2-2 2 2 1-1 1-5 3 8 0-1 0 3 1-9 1 1 3 11 1-22 0 2 1 3 1-5 3 1 1 12 1-4 5 8 2-1 1-11 2-5 1 1 1 16 0-14 2 18 0-1 0-1 3-8 1-9 2 18 1-3 0-1 0-12 0 17 0-6 3-15 1 7 2 8 2 6 2-21 1 0 1 8 3 11 0-9 2-8 2-2 0 17 2-4 2 7 1-6 4-8 0 7 1-5 1-3 3 2 1 4 1-2 2-9 1 2 1-1 2 12 2-4 0 13 1-8 1 5 0-6 1-5 1 8 2-16 2 21 0-8 1-7 2 1 2 11 1-7 2-2 2 4 2 1 1 2 2-2 0-1 1-9 0 6 1-3 2 12 3-2 1 4 0-8 1 0 0 2 1-7 1-6 1 12 3-8 3 12 0-13 0-5 2 0 1 15 1-16 0 6 1-2 0-2 1 11 11-6 7 1 1 4 1 7 1-8 2-4 0-3 1 19 10-12 6 2 13-11 1 14 1-12 10 14 6-6 1-8 1 11 33-4 2 6 4-12 8 17 19-20 10-1 9 5 30 16-22 4-22 6-4 9-3-1-3-15-9 16-11 6-8-20-24 18-8-1-2 0-2-5-4-9-3 17 0-11-1 1-16-1 0-12-2 7-3-6-4 17-7-14-4 19-5-14-3-7 0 19-6-10 0 5-1-8-10 1-4 6-2-13-4 1-1 8-1 7 0-2-6-6-1 9 0-2-3 4 0-6-2 4-2-8 0 5-2-5 0 3-1-10-1 1-3 16 0-19-1 14-2-16-2 7-1-7-2 2-1 19 0-7-1-2-3-12-1 4-2-4-1 13 0-8-1 7 0 10-1 0-2-10 0-10-1 15 0 5-1-22 0 7-6 1 0 8-1-14-1 3-1 4 0 6 0-1-2-11-2-3 0 22-1-1 0-2-1-9-1-1 0 2 0 10 0-4-1-5-1 8 0-1-2-11 0 5 0-10-5-2-1 1-1 15-7-5-2 0-1-6 0 10-1 2-1 1-1-18-1 0-1 8-2 9-2-10-1 1-1-6 0 11 0 2 0-9-6 16 0-4-2-5 0-3 0-11-2 20 0-1-1-4-1-15 0 22-1-2 0-17-1 19 0-10-4-8-3 12 0-5-3 11-1-11-1-8 0 17 0-5-1-2 0 8-1-3-2 4 0-20-1 21 0-1 0-18-3-2 0 3 0 4-1 9-2 5 0-11-1-6 0 12-2-10 0-3-1 11 0-1-2-8-1-2 0-3 0 14-2-15 0 12-4-3 0 10-2 0-2-16 0-2-1 19-1-7 0 7-2-21-2 8 0-5-1 20-1-17 0-5-1 18-2-15-1-4-1 6 0 15-2-1 0 3-2-21 0 15-1 4 0-11-6 2-2 3 0 5 0-13-1 0 0-3-1 18 0-5-1-14-1 13 0 1-1-11-4 7 0 1 0 5 0-7-1-4 0 11 0 2 0-16-2 2 0 16-3-18 0-1-1 6-1-9-2 18 0-5 0-1-1-4 0 13 0-6-1-9 0 6-2-13-5 16 0 2-1-1 0-15 0 13-3-13-1 0 0 5 0 15 0-19-2 14-2-3 0 0-1-7 0-3-3-1-1 13-1-11-1 17-1-5 0-3 0 5-1-2-1-8-1-3 0 9-1-1-1 6-1-8-1 8-1-10-1-5 0 16-2-18-1 3-2-3-1 3 0 0-1 6-2 9 0-2 0-10-1-6 0 7-1 3-1 0 0-8 0 18-1-4-1-4-1-6-1 10-1-13-1 10 0 6-1-20 0 13-1-7-4-8-2 0-3 6-3 12-2-16-1 18-3-9 0-9-1-1-1 4-3 0-1 15-2-13-2 3-1-3-3-4-1 2-2-2-3 10-2-9-1 13-2-9-3 7-2-13 0 0-3 17-2-19-1 3-2 17-1-14-3 13-1-6-7-10-3 7-1 4-1 8-3-4-2-2-3-15-4 12-2-13-2 2-1 17-1-1-1 0-1 0-4-15-3 2-6 9 0-4-4 5-2-15-14 16 0-4-37 15 19 7 21 6 3-15 8 14 2 6 1-8 4-1 1-5 0-1 2 14 1-12 5 14 5-20 4 8 10 9 1-4 0-8 4 3 5-2 2-3 0 9 0-12 1 21 2-10 9-7 0 16 0-1 1-5 3-16 2 0 2 6 2 14 3-18 2 0 1 20 2-4 0-16 3 5 3 0 2-7 1 5 3 4 1-5 0 2 1-5 0 4 1 5 0 7 0-14 1 13 3 3 3 1 4-12 0 7 0-8 3 5 2-12 1 9 1-3 0 15 2-20 1 21 1-4 7-11 0-5 2 0 3 14 1-12 2 0 1 15 3-2 0-12 2 3 1-8 0 17 0-12 1 6 1-5 0 11 0 6 1-16 2 13 2-17 0 8 4-5 2 16 0-21 2 17 0-5 1-2 1 2 0-11 2 7 3-7 0 3 1-3 1 12 0-5 3-7 0-1 4 9 1-5 0-4 2 17 0 1 1-15 0 9 1 5 0-14 1-3 2 15 1-3 0-11 1 4 0-5 0 19 1-6 0 7 1 2 0-4 1-18 0 11 1 11 0-23 2 23 0-14 0-9 0 0 1 2 2 2 3 8 1-11 0 6 0 1 1 4 3-5 1-1 2 8 1 4 0-18 2 7 0-2 0 17 1-4 1 3 1-4 2-3 2 4 2-12 0 10 1-2 3 5 0-4 0-11 0 15 0-1 2-15 1 14 0-8 0-1 1-1 0 13 1-14 2-6 0 4 2 10 0-4 0-7 3 3 0 7 2 6 1 1 0-3 1 5 2-6 1 0 4-8 0 8 0-4 2 9 3-3 2 0 1-13 1 12 1-11 1 0 1-1 0-5 0 11 2-5 0 15 1-10 1 12 2-22 3 16 1 3 1-4 0 0 0-15 1 8 1-1 2-4 3 9 2-8 0-5 1 12 1-4 0-3 2 11 1 3 2-5 2-9 1 8 0-6 1 12 0-9 1 3 1 10 0-9 1-7 0 6 1 10 0-20 1 9 1-4 0 1 3 5 3 7 0-1 1 3 1-23 0 0 1 13 0 5 3 0 0-4 2 7 2-3 2-2 6 2 1-5 1 7 0-1 0-15 0 4 0-2 1 3 1 8 0-10 0-2 0-1 1 6 0-9 0 19 3-11 1 5 0-14 2 12 0 4 0 5 2-12 1 3 0-5 1 8 1 0 1-8 1 15 0-18 0 19 1-21 1 17 0-6 1-7 0 17 3-5 1-5 1-1 0-12 3 19 0-16 1 10 1-1 1-11 1 2 0 0 1 6 0 11 2-14 0 9 0-3 0 8 3-18 3 0 3 14 2 2 1-16 3 10 17 7 2-10 2 11 0-8 4 2 3 5 0-12 1 4 1 5 4-10 1-6 5 2 4 19 3-12 1-6 3 12 3-10 10 4 5-2 8 0 4 10 0-12 2 9 13-5 11 9 2-5 3 9 4 1 6-10 4-3 1 1 2 10 4-2 8-10 12 3 39 23-15 2-16 3-4-11-10 1-5 7-1 4-7-14-15 19 0-11-8 12-10-18-9 9-4-11-4 20 0-9 0 9-1-23-1 6-3 7-1-3-6 3 0 9-9-20 0 10-9-5-4 13-1-14-1 2-1-4-4 7 0 6-4 4-1 2 0-5-1-6-2 1 0-10-2 18-1-13 0-1-3 13-1-5-1 7 0-2-3-16-2 12-1-8-2 10 0 1-1-11-3 5-6-12-1 9-3 10-4-14 0 14-1 1-1-9 0 6-1-1 0-2 0-2-1-5 0-6-2 4-5 14-2 3-2-7-1-3-4-13 0 21-5-5-3-6-1-6-1 14-1 3-2-18-2 10 0 8-4-18-1 20-1-18-2 6-1 10 0-10-1-7-1 4-2 13 0-18-1 1 0-3-1 22-1-1-3-7 0-12-2 5-1 10 0-16-1 6 0 11-2-2 0 0-1-12 0-4 0 19 0-16 0 11 0-12-2 12-1-4-2 4-1-1-1-12 0 18 0-10-4-9-1 15-1-5 0 0-1-3-1 3 0 9 0-12 0 7 0 6-2-21-3 10-1-7-1 17 0 3-2-22-1 21-1-16-1-3 0 8-1 10 0 2-3-18-1 13-1 2 0 1-1 1-2-20 0 9-1 0-1 6 0-7 0 11-3-14 0 13 0-16-1 5-5-8 0 16-1-6-1 10-1-1 0-6-1 3-2-17 0 4 0 8-2-12-1 23-5-20-1 18-1-11-3 2-1 6-2 5-2-3-1 0-3-19 0 6-2-2-1-5-2 4 0 18-2-17 0 16 0-15-1 5-1 8-1-2-3-7 0-5-1 4-2-7 0 0-3 20-4-8-1 3-1-13-1 5 0 1-1-3-1 11 0-3 0 5-2-13 0 13 0-15-1 17 0-1-3 2-1-7 0-2-1-14-1 23 0-7-1 1-1 3 0-9 0 0-2 3-1-3 0-11-1 12-3 6-5-15-3 17 0-5-1-7-2 6 0-12-3 13-1-4 0 1 0-5-1-6 0 16 0-17-1 0-1 15-1-7 0 0 0 6-1-4-1-2-1 4 0-5-4-6 0-1-2 9-1 10 0-7 0-4-1-8 0 16 0-1-1-15-1 1-2 9-1-7-2 12 0-2-1-7 0 11 0-13 0 2-2-3 0 9 0 7-2-8-2-10 0 9 0 10-1-14-5 0-5 14-2-13-4 1 0-6-1 19 0-9-4 0-5 6 0-4-1-13 0 17-6-11-6 3-3 8-1-5-1 7-3-8-2 10-2-6-2-1 0-14-1-1 0 16-3-10-4 1-1-6-1 17-3-1-1 5-1-15-9 0-7 2 0-8-12 7-3-2-2 13-6-17-5 4 0 15-17-2-14 0-32 3 8 8 41-4 8-2 2 8 5 3 7 9 7-2 0 0 1-16 6 13 1 2 5-5 15-5 5-7 12 14 8 1 1-14 4 10 0-11 1 1 1 8 0-5 3-2 1-1 4 13 3 9 9-16 0 10 6-3 9-8 6 17 3-4 3-11 0-6 1 6 0-1 1 0 0 5 1-11 1 21 4-22 0 3 3 15 2 5 1-14 1-7 0-1 1 20 0-1 1-8 2-8 0 0 1 3 3 7 1-2 0 2 1-6 0 5 1-13 3 6 1 3 0 14 1-11 1 9 1-20 2 19 1-14 1 12 0-9 2 5 0 4 1-17 1 5 0 9 0 6 7-15 1-1 2-3 1 3 0-4 0 12 3-1 2-9 5-3 0 5 2-4 0 1 0 20 1-7 1 8 1-10 0-8 1 11 1-15 0 22 2-10 0-4 1 3 0 9 1-3 1-7 0-2 2 10 2-4 1-8 1 3 1-3 1-4 0 6 0 7 4 1 3 5 0-7 1-12 1 0 2-1 4 16 3 5 5-5 2-17 0 16 1-17 3 9 1 7 0 6 1-6 2-13 1-3 1 15 1 1 0-1 0-10 2 16 1-2 3-11 1-6 1 15 1-12 1 14 3 4 0-15 1 12 1-1 0-11 3 4 2 10 0-4 1-12 0 8 0 9 0-10 2-3 1 13 2-18 0-4 2 20 2-2 4-12 1-6 3 3 1 1 1 13 0-12 2 12 1-12 1 10 0-5 1-6 0 6 1 6 0-13 0 15 1 2 2-18 0-3 1 19 1-4 0-14 1 22 1-16 0-3 0 16 3-2 0-5 2-10 0 20 2-7 1-3 0 2 2-9 3-2 0 10 2 6 0-5 0-10 1 4 4-8 2 17 1-18 0 20 1-13 3 0 1 13 2-15 4 5 3-5 0 0 1 18 3-7 1-16 1 1 1 3 1-2 2 2 0 9 2-12 2 17 0-15 1 15 1-15 2 16 1-17 0 0 1 1 1 3 4 4 4-1 0 5 2-6 4 2 6-2 5 1 0 11 0-19 4 3 1 19 0-22 3 4 1 13 5-7 0-11 1 15 1 1 4-1 3 7 1 0 6-14 1-3 1 4 1 6 1-10 2 5 0 1 1 3 14 9 1-20 1 13 1-15 1 7 1-1 1 8 2 7 3-18 4 8 1 9 2-21 7 2 1 3 1 4 7 1 15 9 11-17 22 16 6-15 4 4 11-4 3 3-21 27-14 13-12-18-5 13-5 0-25-6-5-7-1-3-1 2-1-3-2 12-1 7-18 4-4 0 0-13-2 7-1-15-1 17-6 3-2-5-1-10-7 13-3-15-1 15-2-1-7-7-1 8 0-4-2 0-6-12 0 17-2-9 0 8 0-13 0-2-1 7-1-4-3 12-4 3-1-9-7-2-1 6-2-10-2-4-1 7 0-9 0 5-6 12-7 0-2-11-1 13-3-19-4 7-2-4-4 18 0-5-1-18-1 23 0-6-5-2-1-1-2-4-2-8 0 17-1-10 0 8-1-10-2-1-1 10 0 4 0 2-2-8-1-11-1 14 0-16 0 16 0-10 0-5-1 2-1-2 0 6 0 7-4-1 0 9-2-6 0-13 0-1-1-1 0 5-1-2 0 7-2-9 0 10 0 2 0-12-1 0 0 9-1 8-1-19 0 1-1 19-4-17-1-3-1 15-1-2 0-11-2 10-1-9 0-3-3 9 0-7-1 12 0-9-1 8 0-14-3 23-3-22-1 21-1-1-1-20-2 9 0-9 0 13 0-12-1-2-1 23 0-13-2 3-1 0-1-5-4 1-1 6-2-4-2-6-5-3 0 10 0 10 0-1-4-13-1-2-1 8-1-7-1 15-1-10-1-6 0 16-1-1 0-16-2 16-2-1 0-4-3-11 0 16-4-9 0 10-1-4-2-18-2 17 0 6 0-2-2-20-2 20-1-3 0 0-1-7 0 4 0 8 0 0-1-7-1-7 0-2-2-1-1-2 0 18 0-5-5 5-1-3 0 4-1-2 0-10-1 11-1-13 0-4-1 18-1 0 0-20 0 13 0-4-1 8-3-14-1 0-3 13-1-19 0 18 0 5-1-14-1-2-2 0-1 7-2-13 0 6 0 4 0-4 0 0-4 2-1 8-3-10-1 8-4 0 0-5-2-2 0 0-1 7-2 0 0 8-1-13 0-9-1 10-1 9-1-14-4 3-2 5 0 7-4-5-4-16-2 23 0-18-2 6-3-4-3 8-2-3-4-7 0 16-1-12-4 8-8-9-5 8-1-13-10 10-4 0-3 9-23-16-6 15-5-13-24 10-3-10-5 0-9 10-17-1-7-6-50-10 21 32 92-1 2-3 1-5 19 2 1 15 5-1 15 2 7-14 8 4 0 4 2 5 16-6 2 9 6-10 5-5 3 0 4-3 6 16 2-16 0 13 0-9 0-1 1 10 0-5 0-4 1 4 2-3 1-2 3 10 0 4 1-16 0 1 1 0 0 14 0-15 3 17 1-18 0 16 0-4 1-6 0 1 1-6 1 1 0 6 2-10 0 12 0 10 0-3 1-5 1 6 1 1 1-16 1-4 1 7 0 2 0 5 2-10 0 0 1-3 0-2 0 19 0-18 0 3 2 19 1-16 1 8 1 5 0-15 2 18 0-11 1-4 0 6 2-14 1 0 0 10 0 9 1-13 1 15 0-2 0-2 0-8 1 8 0-9 1 7 0 1 0-15 0 2 1 12 0-8 0-4 0 20 1-19 0 6 0 12 0-15 1 8 0-14 0 2 0 3 1-1 0 3 0 7 1-8 1 15 0-6 1-7 0-8 0 6 0 2 0 13 1 0 0-18 0 18 1-1 0-7 0-6 0 4 1-6 1 4 0 8 0-15 0 18 0-17 0-4 1 19 0-2 0-11 1 13 0 4 0-5 0 3 2-13 0 3 0-10 0 18 1-12 0 10 0-1 0 0 0 3 0 1 1-4 0-14 0 10 0-7 1 6 0-7 0 17 0-3 0-4 0-3 1 0 0 12 1-22 0 5 0-1 0 6 0 1 0 3 1-12 0 10 1-13 0 3 0 20 1-5 0 5 1-15 0 2 0 13 1-20 0 2 1 18 0-10 0-5 0-2 1 15 0-9 0 1 1 0 0 4 0-11 2-5 0 21 0-21 1 14 0 1 0 5 2-12 1 1 0 13 0-22 2 16 3-4 0 8 3-10 4 5 0-16 0 14 0-8 1 3 0-5 0 14 1-12 1-4 2 13 2-12 1 13 1-10 0 1 0 4 1-9 1 5 1 4 1-2 4-4 0-5 1 2 0 11 2-10 0-3 5 12 2 8 2-19 0 0 5 19 0-17 1 8 0-1 1 12 1-20 3 19 1-19 1 19 2-19 2 17 0-15 1 9 0-6 4-2 5-1 1-4 2 7 5-4 2 9 3 8 4-8 0-7 3 12 4-6 2 0 0 1 1 1 0-3 3 6 3-9 4 10 0-1 4-2 0-3 1-7 0 6 2-7 0 2 2-1 0-2 2 17 3-8 6-6 3 5 1 10 9-2 1-6 6-2 4-6 0 4 0 0 3-6 0 11 9-2 1-7 1 9 0 1 1 7 1-12 2 8 1-5 0-10 1 5 1 13 1-5 1 1 5-13 0 2 7 4 3 2 2-10 7 16 0-5 2-11 0 15 2-1 8-9 2 11 2 3 16 2 7-10 1 10 1-2 4-6 4-4 3 10 3-5 4-3 16-10 15 11-29 15-8 8-1 2-1-5-16 2-2-7-9 2-2 16-2-16-6 10-3-3 0-6-2 16 0-2 0-5-2 4-3 3-3-8 0-13-2 19 0-20-8 21 0-22-3 5-1 17-1-20 0 17-1-14-2-5-4 5-2 14 0-1-2-3-1-3 0 10-5-9-1-9-2 16-2-2 0-12 0 0-1 8 0-1-5-9-4 9-1-11-5 19-2-4 0-1-1-7-1 12-2-10-3-2-2 1-1 12-2-3-8-16-4 4 0 4-5 2-5-1-9 3-2 7-5-4 0-13-1 1-1 16-1-17-1 4-1 8-1 2-4-5-3 6-3-17-1-1-2 17-2 3 0-13-3-5-3 2-7 14-7-19-2 3-3 16-7-15 0-1-1 19-1-8-1 1-3 0-5 6-1-2 0 0-3-8-1 11-2-15 0-2-1 0-2 3-5 11-5-4-1 6-1-4-1-11-1 8 0-3 0 11-1-20 0 8 0 3 0-1-1-6 0-4 0 20-1-3-1-19-1 5 0 7-1-4 0-4-2 9-1-11 0 4-2-7-1 7 0 13-1-4-2 2 0-13 0 2-2 3-1-10-1 23 0-19-2 19 0-2-1-19-1 21-1-22 0 2 0 16-1-10-1-5-1-1 0 14 0-9 0-4-1 0-1 1-1 9 0-14-1 16-1-10 0 16-1-13 0 0-1 7 0 7 0-4-1-18-1 1 0 18 0-15 0 0 0 4-1 8 0 6 0-3 0 0-1 3 0-14 0 5-1-12 0 16 0-16 0-2 0 22-1-21 0 7 0-4 0 5 0-9-1 6 0-2 0 5 0 6-1-9-1-2 0 3 0 3 0-4-1 13 0-5-1-10 0-2-1 15 0 0 0-5 0-6-1 8 0-10-1 13-1-8-1-3-1 8 0-8-1-5 0 13-1-7 0 6-1-13 0 14 0 0-1-2 0-7 0 2-1 15-1-2-1 3-3-14-4-6-1 3-1 15 0-4 0-15-1 5-1 0-1 5-2-3-7-8-8 1-2 5-13-4-10-1-32 2-8-2-10 8-7-1-1 14-5-10-5-8-2 12-28 4-16-6-20 12 54 18 4-21 12 22 1-7 7-5 1 4 6 3 5-17 22 16 7-4 14 7 9 3 0-8 16-3 13-9 5 14 6 6 2-7 1-3 0-4 0-5 2 6 1 13 0 1 1-1 0-13 0 2 3-5 0 0 1 14 0 1 1-4 2 0 0-6 0-2 0 5 1-12 2 7 1-8 0 2 1 7 0 1 1 10 0-7 0 9 1-20 0 13 1-16 0 20 0 2 0-9 0-4 0 5 1-11 0 13 0-7 2-7 0 0 1 14 0-15 1 18 0-15 0 5 1 0 0-6 1 16 0 2 1-11 0 5 0-14 0 11 1-10 0-2 0 15 0 2 1-8 0-3 0 9 0-3 0-5 1-1 0 17 1 0 1-17 0-4 1 11 0 3 1-2 0-14 1 18 1 4 1 1 1-10 1 5 1-2 1-11 0-1 0 3 0 8 1-11 0-2 1 7 0-3 1 14 0-15 0 18 1-15 0 2 1-2 0 9 0 2 3-9 0-2 1-2 3 0 0 7 4 7 0-6 1 6 0-9 4 3 2-5 1-2 20-5 3 6 6-7 8 6 3-5 4 7 1 11 5-3 0-11 6-4 8 16 11-3 4-11 2 0 9-2 4 13 2-7 2 13 2-3 7 3 1-20 1 5 9 9 5-1 3-5 0-2 1-7 6 6 7-1 4 1 2 15 1-10 0 3 1-7 1 3 3-5 8 10 1-1 2 5 2-11 5-3 8 12 10-16 5 3 11 9 2 9 17-11 8 12 3-18 1-4 24-1-2 45-2 1-10-15-10-7 0 3-10 11-2-10 0 19-20-5-1-18-12 7-1-5-2 10-8 4-1-16-1 21 0-1-1-9-3-9 0 9-7-1-8 5-3-9 0 6-5-5-2-7 0 12-6-6-2 17-2-4 0-2-6-5-4-8-2-1-4-3-3 6-11-2-3 2-3-6-4 5-3-4-3 8-14 7 0-14-1-1-2 13-6-8 0-5 0 0-5 13-13-5-9-8-2 20-3-21-3 8-2-3-10 2-6-2-3 10-11 3-1 2-9-19-2 1-2 19-5-8 0 3-1 7 0-4-2-14-1 8-1-5-1-4-2 8 0 7-1-6 0 1-2 8 0-3-1-1 0-2 0 4-1-19 0 1 0 16 0-14-1 12 0 4-3-8-1 0 0-12 0 18 0 3 0-5 0 3 0-7-1 1 0-9 0 18 0-1 0-7-1-5 0-4 0 6-1-7 0 5 0-6 0 2 0 12 0-9-1 3 0-6-1 18 0-6-1-10 0 2 0-2-1-7 0 19-1-10-1-9 0 20-1-17 0-1 0 15-1 0 0 5-1-9 0-1-1 11-1-19 0-1-1 10 0 9 0 0 0-19-2 5 0 0-1-2 0 2 0 0-1 11 0-11-1 11-3-6-1-10 0 8-2-8-1-2 0 6-4 3 0-8-7 9-1-1-17 3-13 4-3-15-28 12-13-10-1 13-47 5-16-7-2-13-11 23 8 10 6 0 22 11 15-6 4-14 25-1 3 16 30-2 5-14 7 13 31-3 6-9 3 16 1-15 4 16 1-1 2-5 0 0 0 4 0-11 0-6 0 6 1 13 0-14 1 1 1 14 0-1 1-14 1 10 0-15 1 20 1-15 1 14 0 3 0 1 0-4 0 4 1-1 1-4 0-2 0-12 0 18 0-3 0-15 0 18 0-19 1 20 0-7 0 0 0-15 0 18 1-4 0-14 0 2 1 4 0 5 0 4 1-11 0 14 0 4 1-14 0-8 1 0 0-1 0 7 0 7 1 1 0-1 0-7 1 14 0-3 0-12 1 8 1 8 1-15 0-2 0 11 0-5 2 8 1-11 0 0 1-8 0 14 1 4 0-9 1 5 0-13 1 21 0-22 0 3 1 14 1-10 1 8 1-14 2 14 0-1 1-11 8-3 12 23 8-13 13 8 5-11 11-2 11 15 3-14 14-2 2 10 9-7 6-3 13 11 8-15 1 13 7-2 5-6 6-5 2 9 0 9 1-11 5-3 2 12 7-10 4 4 0 5 1 5 1-9 1 2 1-11 0 16 0-16 2 10 1-12 1 10 0-10 2 8 3-4 2 15 3-9 8 0 2 8 5-2 5-2 1-9 9 16 6-19 25-1-5 37-1 0-21 5-16 3-13-1-4-1-5-7-13-3-9-4 0 10-4-14-6 14-1 2-6-13-13 13 0-7-2-8-4 4 0-7-2 17-4-8-6-2-9-2-5 13 0 0-21-12-6-3-1 9-16-4-1-5-3-3-31 5-7-4-13 14-1-11 0 3 0 2 0-9-1 3-2 3-1 2 0 13 0-20-1 1-1 9 0-10 0 6 0 1 0-6 0 13-1-13 0 4-1-3 0-2-3 2 0 5 0-6-1 2 0 7 0-10-1 2 0-3 0 22 0-12-1-10-1 7 0-5-1 2 0 4-1-5-1 2 0 8-1-2-1 0 0-6 0-2-2 3 0 1-1 1-2-8-3 2-3-1-1 7-7-5-18 20-36-12-4-11-63 3 35 44 66-18 39-5 26 14 22 3 2 0 30 6 1-13 11 0 1 13 4-15 0 11 1-16 4 4 11-6 3-1 9 23 1-21 3 0 3 7 2 6 0-1 3 8 0-4 1-14 1 1 2 1 0 5 3 10 1-13 3 8 7-6 7 10 2-20 1 11 23 12 33-14 4 5 19 3 7-9 12 26-32-6-6 18-2-18-7 14-14-11-19 16-2-17-79 13 0-16-39 18-10 0-42-21-17 0-20 10-48-3 159 20 60 18 9-18 36 0 17 5 34-7 13 10 1-6"/>
</g>
</defs>
<g transform="translate(94.4 157.3)">
<path class="mn" d="M37.0 0V328.0M119.8 0V328.0M202.6 0V328.0M285.4 0V328.0M0 286.1H321.3M0 195.3H321.3M0 104.5H321.3M0 13.7H321.3"/>
<path class="mj" d="M78.4 0V328.0M161.2 0V328.0M244.0 0V328.0M0 240.7H321.3M0 149.9H321.3M0 59.1H321.3"/>
<use href="#gA"/>
<path class="sb" d="M252.3 109.9L248.9 128.7L247.2 154.5L243.7 171.6L240.3 178.5L252.3 181.9L264.3 168.2L271.2 151.0L271.2 130.4L267.8 109.9Z"/>
<path class="mbA" transform="scale(.5)" d="M464 47l-8-5-4-4-5 6-1-13-6 5-1 9-1-12 0 10-3 0 0-10 0 3-1 10-6-2 0 0-1-2-5-6-4 3-4 2-5 5-7 1 8 7 4-1 0-4 3 5 1 0 3-5 3 10 0 3 4-4 1-3 3-7 3 3 1 7 0-8 0 1 0 1 1-3 0 3 1 5 1-1 3 1 0-5 1-2 6 18 4-3 1-1 1-7 1-1 0 7 1-11 0 0 5 5 1-1 0-1 1-3 7 10 5 9 4-3 1 1 1-6 0 8 0-10 0 1 1 5 1-10 0 7 4-15 2 20 0 2 0-9 5 9 0-7 0-1 1 5 4-4 31 31-6-19-1 18-4-6-3 7 0-6-2-3 0 6-9-1-2-9-1 5-1-13-1 18-2 3-2-12 0-1-1 2 0 10 0-21-1 4 0 11-2-10-1 3 0-5-8 0-2 2-4 7-1-4-7-8-8 2-1 2 0 1-1 7-11 28 10 5 27-21 27 4 4-4 3 17 0-2 0-10 5 1 1 3 1-4 2 11 1-9 2 6 1 5 0 0 1-10 1 3 4 11 2-4 3-6 3 10 11 24-10-8-2 2-3-1 0-15-2 19-1-5-1 6-1 0 0-6 0 7-1-17 0 10 0-12-1 11-2 8-1-18 0 2-1 7-1 1-1-7-1 14-3-20 0 8-5-4 0 14-5-19-3 6-26 5-10 3-103-9-44 31 51 10 1-11 8-11 3 1 1 19 7-20 15 13 33-9 20 13 51-3 8 3 3-14 3-3 3 14 1-14 0 10 1 5 1-15 0 0 1 6 1 5 2 11 0-7 0-14 1 17 2-4 2-3 1 10 11-5 0-16 3 23 8-14-6 24-1 3-6-7-1 8 0 0 0 1 0 6-2 1 0-13 0-8-1 20-3-6-1-4-2-9-1 6-2 4-1 5 0 2-1-3-2-6-1 3 0 7-1-18-6 2-67 10-28 7-39-10-5 6-157 18 48 10 7-13 68 11 32-4 10 4 28-14 2 11 0 7 3-21 3 21 2-3 16-11 25 5 24-10 7 10 3-5 5 12 1-5 4-3 5 4 2 2 3 5 7-21 1 20 3 24-1-12-11 8 0 0-1-4 0 1-3-10 0-4-2 20-1-5 0-13-2 13-2-5-3-11-1 2-4 4-6 13-10 4-10-21-3 3-53 13-1-14-28 12-7 3-8-13-27 3-45 10-10 2-6-19-9 3-28 2-6-6 0 13 33 18 10 10 5 5 0-12 22-7 1 2 2 6 3 0 12-6 8-3 1 20 18-3 12-11 0-6 18 13 2-14 14 9 3 8 20-6 16-4 8-3 18-2 7 15 7-18 0 16 3-8 0-3 1 1 1-4 1 18 2-7 2 4 0-18 2 15 1-1 2 7 3-20 1 13 3-4 0 0 0 3 1 9 2-21 1 15 1 6 3-9 0 5 2-7 4 0 0 6 0-6 2-3 3-2 7 16 1-4 6-12 0 33-3-13 0 4-1 10-5-11-5 10-5-3 0-7 0 15-1 2-1-19-1 13-1-4-1-3 0-4-1 4 0 0 0-7 0 8-1-2 0 5-1-8 0 15-1-7-1 0 0 7-1-2 0-8 0-4 0 13-1-8 0-1-1-10 0 14-1 0 0 6-1-14 0-2 0 19-1-5-1-8 0 1-1 12-1-1 0-16 0 5-1-4 0-1-7 2-1-3 0 17-1-3-2-17 0 17-1-2-2-5-2-9-2 6-2 5-1-9-1 13 0 5-8-17-9 6-14 3-11-2-6-3-4 0-25 0-11-9-1 14-3-10-1 16-18-9-4 9-3-19-5 21-9-2-11-6-31-3-36 0-10 23 15 4 0 5 26-6 2 6 14-7 24 10 1 0 4-16 6 15 9-19 8 3 11-5 17 0 34 18 1-1 10-17 2 19 6-16 10 1 2 7 22 4 1 7 2-15 3 9 0-9 1-8 1 23 3-5 3 1 1-19 1 3 1 18 1-3 1-13 1 3 1 2 0-7 2 19 0-5 4 1 0-8 2 12 3-19 1 6 0-4 1 17 0-8 0-5 2 4 0 4 0-3 1-10 3 6 3-1 2 10 3-18-9 34-1 12-3-23 0 18-2-13-3 18-1-21-1 20-1-5-1-15-2 12-2 6-1-4 0-2-1 8-1-20 0 18 0-3-3-12 0 1-1 11 0 5-1-17-1-1-1 3-1 0-2-3-1-3-1 7-2-7 0 20-1-14-1 6-2-2 0-8-1 20 0-1-7-7-3 4-2-12-3 3-2 10 0 3-6-13-8 8-7-15-8-3-9 3-2 20-18-20-3 10-13-4-2 5-8 9 0-15-2-3-10 12-8-1-17-7-2 12-3-20-1-1-1 18-6-9-11-2-12 9-49-4-20 32 34-10 2-10 4 18 3 5 13-3 9-1 56-14 33 7 4-7 5 7 5 6 1-13 0 12 1 0 2-9 4-5 1 18 20 2 2-1 5 1 0-22 4 5 3 11 2-8 2-8 1 11 1-8 1 16 0-9 5 4 1-11 0 5 1 10 2-3 0-16 1 2 1 16 4-7 2 10 3-8 3 9 1-20 0 0 0 5 1 9 0-6 4-5 1 0 1 9 0 2 0 3 1-18 0 2 2 3 1-3 2 18 0-12 2-6 1 9 1 1 0 9 4-12 1-6 0-4 0 16 1-2 1 8 0-15 1 10 1-9 0 9 1-8 4-2 1-6 0 4 1-2 2 1 2 3 5 10 0-10-14 23-2 3-7-7-1 0-6-1-12-1-1 2-1 6-2 0 0-3 0-5-3 20 0-14-1-4-1 3-1 5-6-10-9 17-2-15-11 1-4 3-27 11-7-14-8 17-31-20-7 21-6 0-18-20-9-1-12 23-38-3-25-18-34 31 17-9 0 6 9 4 23 4 4-2 2-6 29 14 11 1 2 1 1-19 12 19 11-3 7-6 4-12 6 18 3-16 2 6 17-8 0 19 1-1 21 1 1-18 7 15 16 0 13-12 4-3 1 1 8 2 8 25-36 0 0-2-16 9-4 5-10-2-19 0-31-7-28 13 0-17-5-1-2 5-17 12-3-17-9 14-6-5-7 2-38 7-5-10-8 6-5-1-17-14 27 34 55 4 2-7 17 5 18-15 7 23 6-20 23 15 10-4 3 7 8-18 3 1 4 10 2 0 40-13 2 1 12 14 0-2 8-12 19 6-4 16-3 17-43 4-8-11-10-8-13-1-9 11-17-4-5 9-19-3-3-9-7 12-14-9-16 3-15-9-1 12-17 3-15 1-30-17-26 14-11 10 32 2 15-2 2 8 10-5 12 6 13-8 14 18 1-18 7 19 6-19 10 15 7-12 0 6 3 6 9 5 0 1 15-18 2 6 0-11 0 23 4-21 16-1 0 3 6-3 1 1 1 14 4 2 12-2 3 3 3-19 3 1 0 3 32 17 14-15 10 40-43 1-11-9-3-8-10 7-4-6-11 6-6 6-3 2-2-13-16 8-3-6-4-4-3 4-10 1-6 0-8-7-1-4-12 10 0 7-2-17-1 13-1 5-2 0 0-7-29-6-1 15-18-8-3 0-1 5-7-12-17-5-3 7-3-6-5 17 9 16 50 13 1-3 22 2 16 1 0-11 9-10 22 14 1-2 1-13 6 15 3-16 5 8 2 5 0-12 14 8 25 5 3-7 11 5 1-12 4 10 4-6 6 6 28 36-16-21-14 5-11 6-10-7-9 4 0-5-2 16-4-13-8-4-7 3-10-6-3 6-7-4-4 3-2 4-8 13-1-16-21 13-13-7-9-5-16-7-32 3-24 3 38 25 3-1 13-4 11 8 6 1 27-1 17 12 10-1 1-5 2 7 1-1 2-6 2-14 8 8 4 5 0-1 1-2 0-5 5-6 0 7 11-1 0 16 1-19 13 3 4 1 4 2 2 13 5-19 3 17 4-7 29-10 12 11-31 14-9 1-14 6-15 1-4 1-1 3-5-17-11 7-1-3-11 3-10-5-1 8-10 2-15 9-6-17 8 25 34-3 10 19 67-12 16-2"/>
<rect class="bd" x="0" y="0" width="321.3" height="328.0"/>
<path class="tk" d="M78.4 328.0v5M161.2 328.0v5M244.0 328.0v5M-5 240.7h5M-5 149.9h5M-5 59.1h5"/>
<text class="tl" x="78.4" y="350.2" text-anchor="middle">-100</text>
<text class="tl" x="161.2" y="350.2" text-anchor="middle">-50</text>
<text class="tl" x="244.0" y="350.2" text-anchor="middle">0</text>
<text class="tl" x="-11" y="246.2" text-anchor="end">-40</text>
<text class="tl" x="-11" y="155.4" text-anchor="end">0</text>
<text class="tl" x="-11" y="64.6" text-anchor="end">40</text>
</g>
<g transform="translate(426.9 157.3)">
<path class="mn" d="M37.0 0V328.0M119.8 0V328.0M202.6 0V328.0M285.4 0V328.0M0 286.1H321.3M0 195.3H321.3M0 104.5H321.3M0 13.7H321.3"/>
<path class="mj" d="M78.4 0V328.0M161.2 0V328.0M244.0 0V328.0M0 240.7H321.3M0 149.9H321.3M0 59.1H321.3"/>
<use href="#gA"/>
<path class="sb" d="M240.3 34.3L247.2 68.7L257.5 103.0L267.8 137.3L278.1 171.6L286.6 206.0L291.8 228.3L298.7 230.0L296.9 202.5L290.1 168.2L281.5 133.9L271.2 99.6L259.2 65.2L247.2 32.6Z"/>
<path class="mbA" transform="scale(.5)" d="M463 65l8 3 3 3 6 0 1-1 1-4 2 0 4 3 9 5 0 18-1 1 0 2-1-11-1-10-1 14-1-13-1 9-1 10 0 0 0-3-1-2-1 6-1-15 0-4 0 8 0-10-1 12 0-5-2 4-1-13-1 2 0 8 0-7-2 10-2 10-1-22-3-1-1 9-1 11-33-10 33 29 3 2 2-15 1 16 0-14 1 12 0-15 0 16 1 4 0-18 2 7 1-5 1 2 2 13 2-4 0-6 1-8 1 12 2 0 1 7 0-1 0-6 1-14 1 6 1-1 2-1 2 15 1-6 3 8 5-3 1-6 16 29-10 2-3 4-3-19-3 1-1 16-1-17-1 5 0 14-1-6-1-8 0 10 0 3 0 0-2-20-1 15 0-6 0 7-1 4-1 0 0-8-2-12 0 2-1 1-1 3 0 1-4-2-4 14-3-14-5-1-7 8-7 0-25-4-11-1 24 32 29-16 6 0 3 18 0-16 3-3 1 2 0 2 4 0 0 13 0-3 1 4 0 5 1-1 0-19 1 6 2-7 1 7 0-9 1 1 1 13 1-4 2 1 1-6 0 17 1-19 0 8 1 11 0-5 3 3 1-14 1-1 2-5 2 15 2-1 15 33-4-2-2-6-1 2-1-7-3-8-1 3-1-5-5 13-1-6 0 14-1-11 0 10-1-5-2 5-1-5-1 4-3-16-1 13-1-2-1-1 0-10-1 13-1 2-3-6-1-10-2-1-2 19-1-19-6 14-1-10-2-2-5 1-35 2-29 14-4-5-18 6-4-6-22 8-1-1-25-9-11 5-7 24 16-16 8 2 2 17 10-13 1 7 14 2 4-11 1 14 25-11 7 14 4-6 48-3 14-13 18 12 7-13 10 6 1-6 1 10 1-3 2 1 1 6 1-8 1 14 0-16 1 6 0 5 1 6 1-21 0 19 0 2 1-14 0 12 0-7 1-8 0 15 1-6 0-4 3-7 0 8 5 6 1-1 1 1 3 5 17 7-1 19-13-18-1 18 0-20 0 20-3-15-2 9-1 1 0-8 0 13 0-1-1-14-1 9 0-15-1 0-1 15-1 6-1-16-1-1-1 14-1 1-1-18-2-3-1 23 0-8-1-9-3 0-1 14 0-16 0 0 0 7-3-8-5-3 0 23-1-14-1-1-44 2-5 0-21-3-14 4-15 11-9-12-8 4-7 7-2-4-5-16-7 12-6-12-2 8-5 3-6 1-4-3-4 5-10-2-13-3-29-7-4 18 1 5 16-1 20 21 13-8 0 2 14 6 2-15 1-7 2 14 3 2 36-5 7-9 4 5 5 0 9 10 0-7 5-10 11 7 4 3 1-1 1 0 19-3 13 6 20-3 12-8 9 14 0-15 1 20 1-8 1 5 1-11 0 5 2-6 3 14 2-15 6 16 0-12 1-7 0 21 0-5 2-11 0 5 1 12 2-9 1 8 3-1 0-2 1-13 5 16 0-13 6 2 0 10 5-7 3-2 0 34-5-13 0 3-1 10-2 1-1-7-3 4-1-4-3-7-1 4-1 9 0 0-2-11-2-7 0 12 0-3 0 8 0 0-3 2 0-1-2-16 0 15-2-13-1 4-2-6-1 8-3-8-2 0 0 14-11-18-16 0-31 1 0 19-14-7-46 5-7-6-12 0-25-8-14 2-24-4-14 7-6 12 10 12 3 9 4-14 52 13 36-18 2 11 21-12 6 9 3 7 30-5 11 10 7-14 36 1 3-2 7-6 2 17 0-6 1 7 2-8 2 4 1 7 2-5 1-7 1-5 0 7 0 4 0 2 4 3 0-5 1 7 0-4 0 2 1-4 1-11 0 1 2 4 3-4 3 15 1-11 7 8 5 2 10 25-5-3-2-3-2 4-10-2 0-13-1 8-1 9 0-17-1-3-3 7-2-6 0-1 0 10-1 12 0-5 0-3-3 0-2-15-1 17-2-4-1 0-1-7-1 8-3-2 0-11-3 1 0 1-3 2-53-1-17-2-6 18-1-16-11-4-8 15-4 6-2-18-8 9-6-3-2 14-9-10-43-10 132 25 27 1 11 3 4 6 4-1 1-12 5 9 1-6 2 17 4-5 0-3 1-7 0 15 1-13 0 4 0-4 1 4 1 1 0 4 1 5 0-6 0-12 1 6 0 12 0-1 1-6 0-2 0-4 1-4 0 17 8-12 0 12 1-6 4-3 3-2 12 32 0-11-4-3-6 16 0 0 0-17 0 11-3 1-2-4-2 11 0 0-5-11-1-8-2 6-1 13 0-9-1 9-1-9-3-7-4 15 0-21-1 8-1-6 0 1-2 7-1-1-2-5-3 13-36 10 44-4 10 0 1 12 1-1 0-5 1 0 2 10 1-10 1 12 1-15 0-3 2 22 0-9 1-2 0-8 1 14 1-15 1 15 2-13 1 19 0 0 0-23 1 3 0 7 0-6 1 17 5-11 7 12 0-1 3 6-8 18-1-4-1-16-3 16-5 5 0-6-2-12 0 14 0 2 0-18-1 20-3-17-1 0-1 7-1 7 0-15 0 14 0-2-2-13-2 1-1 13-3-12-1 11-6-8-19-7-13 17 28 9 6 11 1-8 10 10 1-9 1 8 1 4 1-10 1 7 1-12 2 13 0-13 0 14 0-17 1 15 1 3 0 0 0 4 2-14 0 2 2-1 1-5 3 12 1-15 2 8 2-4 1 14 0-8 9-8-10 21-3 6 0 1-5 0 0-7-1 9-5-9-1 1-2 5-2-1 6 36 6 24"/>
<rect class="bd" x="0" y="0" width="321.3" height="328.0"/>
<path class="tk" d="M78.4 328.0v5M161.2 328.0v5M244.0 328.0v5"/>
<text class="tl" x="78.4" y="350.2" text-anchor="middle">-100</text>
<text class="tl" x="161.2" y="350.2" text-anchor="middle">-50</text>
<text class="tl" x="244.0" y="350.2" text-anchor="middle">0</text>
</g>
<g transform="translate(759.4 157.3)">
<path class="mn" d="M37.0 0V328.0M119.8 0V328.0M202.6 0V328.0M285.4 0V328.0M0 286.1H321.3M0 195.3H321.3M0 104.5H321.3M0 13.7H321.3"/>
<path class="mj" d="M78.4 0V328.0M161.2 0V328.0M244.0 0V328.0M0 240.7H321.3M0 149.9H321.3M0 59.1H321.3"/>
<use href="#gA"/>
<path class="sb" d="M218.8 17.2L230.0 37.8L231.7 68.7L230.9 94.4L236.9 120.1L240.3 154.5L244.6 180.2L253.2 206.0L267.8 223.1L281.5 248.9L290.1 274.6L295.2 291.8L301.2 295.2L304.7 283.2L304.7 257.5L302.1 223.1L296.9 188.8L291.8 163.1L283.2 128.7L274.6 94.4L262.6 60.1L248.9 34.3L231.7 16.3Z"/>
<path class="mbA" transform="scale(.5)" d="M475 34l-20 8-1-1-1-5-2 9 0-9-6 9-5 0-3-3-12 27 1 1 9-19 1 0 1 9 4-11 4 4 1 7 0 1 2-1 1 5 0-15 2 20 1-3 1-11 1-3 2 17 1-12 3 8 0-3 1-6 1 6 1-1 9 2 1-4 10 26-7 3-4 1 0 3-1-16 0 12-2-16-1 8-3 2-3-9 0 1-3 17 0-16-1 7-2 12-1-3-1 2-1-17 0 0-2 15-2-17-1 3-1 4-1-6-6 3-8-7-2 11-1-9 6 22 10 2 2 1 1 13 1 0 4-14 2-1 0 20 0-16 1 3 1 15 0-10 4-11 8 20 0-17 1 6 0 11 1-6 2-6 1 8 10 2 3-11 1 7 9 7 7 20-6-4-19-14-5 18 0-12-4 0-5 7-3-7-1-7-4 13-1-9-6 13-5-7-2-9-6 10-46-4-2-2-100 17 4 14 25 10 1-16 4-6 21 17 6 6 7-7 9-4 4 11 5-9 6 3 17-8 13 5 15-9 4-3 2 18 9 2 5-11 2 3 5-11 6 5 3 11 1 1 1-8 1-8 1-2 0 14 2 4 1-19 1 17 4-18 3 21 4-13 3-7 2 12 5 3 7 4 16-5-21 25-1 0-12 3-2-8-2-1-1-10 0 12 0-12-2 11-2-5-2-1 0 16-4-7-2-9-4 12-3-12 0 12 0-1 0 2-1 0 0-18-1 9-1-6-2 12-3-12-6 6-4-2-15 1-8 13 0-4-2-16-1 5-17-3-8 15-1-4-9-3-1 10-1-13-8 15-4-3-1-16-8 5-1-2-6-2-3 16-4-7-1-8-1 12-9-8-5-2-5 2-1-7-1 15-4 1-1-6-5-3-4 0-2-3-12 14-28-3-37 0-9 4 0-21-17 43 9-18 17-2 8 15 6-8 1 9 8-4 6-1 4-9 3 0 5 2 4 16 1 1 11-15 1 14 1-11 12-1 0 12 2-4 4-3 3-7 4 0 1 1 3 5 6-8 1 14 3-17 2 9 3 11 16 0 5-15 12-3 3 3 3 4 7-3 3 11 4-15 8 15 1-16 2 9 3 9 4 1 0-21 1 10 2-9 2 8 1-8 5 10 8 2 2-8 2 6 7 5 1-7 1-2 3-4 1 19 8-6 1-13 3 5 1 3 1-1 4 6 1-15 1 4 0 18 11-5 1-13 5 17 0-7 1 2 1 0 0-14 1-2 1 19 1-3 0 0 0-13 1 8 0 9 8-8 0-11 1-2 2 23 1-23 0 17 3 6 0-2 0-18 4 2 1 5 0 3 4 10 1-13 0 6 1-8 0-6 14 2 18 9-7 15-14 3-8-2 0-2-3 15-4 5-4-12-1 10-1-16-1 13-1 4 0-10-1 1-1-3-1 7-1-5 0-2-1 13-2-16-3 10-2 5-1-13-3 6-2 3-4-15-1 11-1-1-1 2 0-5-3 3-1-7-1 1-1 0-1-3-5 16 0-1-2-12-6 2-2 10-1 1-2-7-2-8-1-3-1 11 0-10-3 1 0 18-1-8 0-13 0 15-2 6-5-17 0 3-3 4-2 1-3 6-6-1-2-1-3-7-1 6-1-2-1-12-6 6-4 10-2-13-1 3-1 8-3-2-2-9-1 15-4-13-2 6-3 9-2-9-1-6-5-3 0 11-5-4-3 8-13-5-3 4-7-2-2-16-5 15 0 3 0 1-6-18-3 1-5 2-3 16-10-6-7 2-1-12-6 16-2-18-3 8-4 13 0-20-1 16-1-5-3-12-4 2 0 3-5 16-4-3-4-5-1-10-2 7-5-2-9 10-4-14-8 6-1 4-9-4-27 2-7-2-7 4-1 2-27 7 10 18 4 2 5-5 29 4 6-2 0 1 17-13 2 3 4-4 13 7 2 0 7 9 3-7 4-5 4-4 6 10 8-15 1 0 6 22 2-21 1 9 6-5 3-3 2 2 2 12 3-8 2-4 0 10 1-3 1 3 2 5 4-15 2 2 0 1 2 5 3 7 5-3 4-7 2 12 7 0 1-3 1-5 4-5 3-8 1 9 5 14 3-8 0-8 1-5 3 15 6-8 1-3 1 1 1 4 2 3 1 3 6-11 1-6 2 0 3 22 1-17 0 9 1-6 0-5 1 13 1 7 1-15 1 14 1 0 0-6 0-10 6-2 2-1 3 12 4 4 0-17 1 12 1-10 6 14 4-2 0-15 8 8 2 9 0-16 2 11 5-3 1-10 14 23 0-6 1-9 4 13 0-8 6-7 1-2 1-1 1 8 0 2 0-3 2 9 1 1 2-13 2 12 3-19 5 18 1-8 0-4 1-4 0 4 3 3 0 10 6-7 4 6 3-17 7 7 13 13 22 0 0-5 11 5 9-7-14 24-16 8-1-17-5 14-4-18-9 16-3 2-1 0-3 0-3-18-2 14-1 3-1-15-1-2-1 22-4-11-3 4-1-15 0 17-1 0-4 5-7-5-1-7-1-3 0 3-4 9-3-14-2-5-2 10-2 6-2-15-1 4-4 16-5-13-5-1-2 4-2 2-6-13-1 21-1-9-2-2 0-10-2 20-2 1-1-18-2 19-7-23-1 8-3 14-5-10-1-9-7-3 0 5-4 7 0-3-3 4-1-6-6 5-4 2 0-1 0-10-1 1-2 14-1-6 0-8-6 9-2-9-3 11-5-8-8 0 0-3-4 1 0 14-9-2-1-4-3-2-7 9-8-16-5-1 0 0-5-2 0 8 0-9-5 17-8-12-5 0-8 17-21-20-1 15-1-14-3 11-3-10 0 16-3-8-2-1-2 2-14-13-2 6-5 14-5-10-5 3-14-4-3-8-12 4-17 28 5-5 4 15 50 0 5-2 3-9 18 3 8 3 4-4 5 8 10-7 1-7 8-4 0 16 5-1 1 0 0 4 4 0 5-5 6 1 8 4 2-15 19 5 3-5 5 14 2-11 1-5 4 14 3 0 4-14 0 19 2-11 2-10 1 16 4 7 0-7 2 6 13-7 3 0 1-3 3-1 5-8 1-2 3 11 7 4 2-3 22-8 4 16 0-1 8-16 2 8 8 5 2-7 1 1 1 9 1-11 3 2 1-9 4 14 7 5 2-21 2 0 2 10 0-2 2 14 1-16 1-6 1 2 5 19 3-13 1 0 1 8 1 0 1-1 1-1 1-11 3 5 2-7 2 22 3-17 3 10 3-6 8-4 30-3-41 23-4 20-1-9-2 6-2 1 0-14-1-6-2 0-1 17 0-10-2 0-1 4-1 0-1-4-1 3-2 12-2-22 0 0-2 21-1-3-2-16-1 7-1 8-2-15 0 9-1-4-3-6-1 10-6-6-3 15-7-16-1 0-1-2-14 11-1-8-33 9-4 4 0-8-12-2-13 9-2-1-11-7-2 5-2 2-3-9-2-5-4 3-1 18 0-13-4-9-1 22-8-14-13-5-8 4-4 5-5 6-11-1-5 5-6-8-7 6-17-7-1-9-14 5-3 10-3-16-5 12-36-3-12 8-13-8-4 4-6 4-35 26 3-23 9 14 16-11 5 9 12 6 19 0 2-6 5 6 7-9 1 9 2-8 1 11 11-10 1-9 4 2 4 13 0-3 2 1 3-8 8 1 9 12 0 1 0-18 3 9 14 7 4-5 9 7 7-10 1-5 3 3 2-8 1 21 2-10 3-11 3 3 3 10 0-7 3-7 3 12 9 1 13-4 7 7 6-12 1 9 4 9 1-2 10 0 2-10 4-6 15 9 2-10 10 15 0 1 7-16 9 4 1 0 4-7 2 20 2-14 2-1 5 15 3-7 1-13 2 1 6 3 5 8 6 7 3-19 1 2 2 20 8-6 0 5 4-4 1 3 4-14 4 9 4-12 0 20 2-14 2-7 3 19 0 2 1-10 5-12 8 7 3-6 5 0 1 10 2 1 0 2 3-3 2 10 17-8 6 18-6 12-4-14 0-1-23 16 0-10-1 4-2-15-1 20 0-5-2-11-5 13-1-13 0-3-1 1-5 19-3-13-5 6-1-13-1 15-7 1-7-13 0 10-7 2-2 7-14-5 0-13-5 12-4 1-7-10-11 11-1-12-4-1-2 3-7 3-3 4-2-6-2-7-1-3 0 3-1 16-2-1-3-5-12 7-7-15-10 1-3-5-5 13-1 0-8-9-4 3-12-1-1-5-6 20-2-17-5 6-3-7-2 17-10-4 0-15-3 0-1 1-2 14-3-11-3 17-15-17-4 5-5 12-4-9-1 9-2-16 0-4-3 18 0-4-1-13-2 16-1-17-2 18-2 0-2-17 0 12-6 6-1-18-12-1-1 10-2 8-5-11-1-5-2 15-7 0-5-10-1 0-1 9-3-6-2-7-4 14-1 1-1-6-4-3-5 5-4-14 0 9 0-8-2 4-10 10-2 1 0 2-1-19-7 6-9 4-2 5-14 5-22-18-4 16 0-19-5 3-35 14 6 20 16-1 6-1 11 0 16 8 1-14 5 4 1 6 3-1 6-9 0 15 6-8 9-11 8 0 7 13 0-8 1-7 1 14 2-2 3 3 0-5 8 11 3-5 1-2 0-3 1 6 7-10 1 7 2-3 1 7 0-17 12 12 1 8 1-21 2 5 0 8 2-9 2-1 0 20 3-2 1-18 5 5 9 1 4 2 5 12 3 0 2-6 2-12 3 6 0 6 1-8 0 9 1-9 1 9 8 2 8-13 1 4 10-6 3 16 6-1 3-2 1-14 6 2 1-1 1 10 8-12 10 10 0 9 1-7 3 4 5-6 10-12 16 19 3-7 1-4 1-5 2 10 13-13 13 2 22 5 0-1 3 5 17-9 3-3 14 13 6-2 7 11 9-14 2 10 0-3 4-10 4-4 4 8 1 13 0-4 1-16 4 14 0-6 3 13 3-17 2 15 2-17 3 17 2-7 5-5 4-3 3 6 2 1 2-11 1 15 0-8 0-1 1-4 0 5 1 7 1-13 6-2 17 18 18 22-20-8-10 6 0-5 0 13-2-22 0 11-2 3 0-11 0 13-2-12-2 18-5-7-6-15-2 14-8 3-1-16-5 0-11 17-3-6-1-4-2-7-11 7-12-6-22 9-1 9-5-19-1 14-4 4-5-15-8 3-3-4-21 11-2-10-11 2-17 1-4 8-4-7-12-1 0 9-5-7-10 11-4-7-3-8-1 2-5 6 0-14-3 3 0-3-4 17-2-15-2 13-13 2-5-10-7 15-4-6 0-15-9 8-2 11-1-16-2-3 0 22-1-7-4 5-2-2-1-17 0 13-2 0 0 0-1-3-1-3-3 13-5-11-1 4-1 6-3-12-1 3-1 10-3-20 0 8-1 10-5-2-1 5-1-21-2 11-1-6-2-6 0 7-3 10-1-16-1 6-3 2-3-3-3-2-2 3-1 13 0-21 0 7-1-2 0-5-3 4-1 15-6 4 0-21-4 18-3-5-2-11-4 7-1-2-3-7-4 13-3 1-1 2 0 4-6-15-4-2 0 14-4-18-3 2-6 17-1-3-8 3-5-2-2-1-2 1 0-13-6 4-2 12-2 0-1-8-7 3-4-12-2 6-1-5-1 9-13-6-2 1-9 3-4-11-13 16-1-4-2 10-6-6 8 25 7-7 12 1 5-7 0-2 23 19 8-16 12 0 3 14 5-6 1-9 2 2 11 11 2 4 6-21 1 20 3-7 6-3 1 1 0 7 2-19 3 3 2 10 4-11 6 10 2 10 1 1 1-5 2-11 0 5 4-7 8 17 1-12 0 12 2-19 4-1 7 16 3-13 1 8 1-12 0 2 6 4 4 14 0-8 6-9 1-2 2 14 0-11 4 12 21-9 3 15 5-7 5 6 12-18 2 10 3-8 12 7 1-11 4-1 5 13 0-8 15 17 10-10 6-3 60 6 4 2 3-14 5 18 17-1 12-19 3 20 22-2 7 3 5-11 9-12 14 6 3 3 1-4 9-5 5 11 2-6 3 14 2 0 2-15 1-2 0 0 2-2 1 7 1 15 1-1 4-2 1-4 2-14 0 22 3-14 1-6 4 2 1 3 3 11 0-15 5 14 13 13-7-3-2 19-3-10-2 6 0-12 0-1-5 12-1-1-1-5-1 10-1-17 0 1-5 1 0-1 0 4-3-3-2 7-2-14-1 16-2-8-6 7 0-12-2 13-4-11-5 12 0-11-1 6-53-8-55-2-35 2-10 7-4-4 0 11-18 2-8-14-32-1-36-4-14 6-12-5-12 7-11-5 0 16-3-2-18-14-4 13-13-16-2-1-3 8-1 11 0-19-2 19-2-19-5 5-8 1-2-3 0 10-16 0-3 2-7-1-16-2-5-7-6 18-9-18-20 2-21-3 92 27 12 2 6 0 2-2 0 1 4-3 14 13 3-17 16 3 5 2 7 11 34 0 25-6 8 3 15 4 6-17 15 4 4-3 2 20 4-11 13 9 3 0 16-15 28 3 18-5 3 7 9-6 52 3 49-3 12-4 12 6 2 1 6 3 3 6 1-6 1 3 1 10 0-22 1 1 2 20 1 0 7-20 2 10 1 5 3 6 24 24-8-4-9-10-1-9-2 22-1-21 0 10-3 8-2-14 0 4-2 7-5-12-1-1-2-1-1 2 0 13-2-8-4-3-7 1-23 7-73 9-27-13-38 4-6 9-6-9-14-7-20 3-33-9-11 3-29 18-20-8 0 6-18 2-15-13-4-7-37 7-23 33 26-9 14 14 65-1 4-22 6 7 20-4 37 2 18 10 7 8 4-22 74 14 58 0 81-11 2-3 2 18 1-7 0 8 3-2 6-12 1 4 0-8 1 10 1 11 0-20 0 7 1-3 1 15 1-8 0 8 1-16 0 3 0 4 7 1 1-10 0 16 2-5 7-14 2 9 1-7-5 34 0-7-1 7 0-1-1 3-6 4-2-3-2-4 0-7-1 7 0 6 0 2 0-3 0 2-2 4-1-5 0-4-2-5-1-6 0 15 0-11-2 3-1-9-1 5-1 8-13-9-141-4-39 21-10-4-4-16-27 18-16-17-6 20-44-18-18 1-38-5-29 3-32 15 19 20 3 8 125-2 53-13 216-6 1 1 7 1 3-4 3 8 3-6-182 29-112 2"/>
<rect class="bd" x="0" y="0" width="321.3" height="328.0"/>
<path class="tk" d="M78.4 328.0v5M161.2 328.0v5M244.0 328.0v5"/>
<text class="tl" x="78.4" y="350.2" text-anchor="middle">-100</text>
<text class="tl" x="161.2" y="350.2" text-anchor="middle">-50</text>
<text class="tl" x="244.0" y="350.2" text-anchor="middle">0</text>
</g>
<g transform="translate(1091.9 157.3)">
<path class="mn" d="M37.0 0V328.0M119.8 0V328.0M202.6 0V328.0M285.4 0V328.0M0 286.1H321.3M0 195.3H321.3M0 104.5H321.3M0 13.7H321.3"/>
<path class="mj" d="M78.4 0V328.0M161.2 0V328.0M244.0 0V328.0M0 240.7H321.3M0 149.9H321.3M0 59.1H321.3"/>
<use href="#gA"/>
<path class="sb" d="M230.9 24.0L237.7 51.5L246.3 85.8L254.0 120.1L259.2 154.5L261.8 188.8L265.2 214.6L278.1 231.7L288.4 248.9L293.5 266.0L296.1 271.2L299.5 257.5L299.5 240.3L296.9 214.6L291.8 188.8L286.6 163.1L279.8 137.3L272.9 111.6L264.3 77.2L254.0 42.9L243.7 22.3Z"/>
<path class="mbA" transform="scale(.5)" d="M477 47l-20-11-1 11-2-6-15-10 8 17 5 9 0-7 0 18 2-12 2 6 2-14 4 17 1-3 0-11 4 1 1 5 0-6 2 10 2-6 1 16 3 0 1-2 11 6-2 14 0-2-2-4-2 5-5-11 0-1-3 12-1-1-2 4 0-1-1-3 0-3-2 0-1 6-1 3-2-11-1 4-3-13 0 17-1-18-2 19 0-19-3 14 0-5-5 1-13 0-9-8 28 29 6 0 2 5 4-10 1 6 3 2 5 8 0 2 0-15 0 7 2-7 0 5 8-1 0-3 1 10 0 5 2-16 1 5 3 1 14 19-8 0-3 1-2-5-2 10 0-11-2 18 0-17 0 5-2 15-1-5-1 5-5-5 0-14-1 19-3-6-1-13-4 7-1-6 0 6-83 35 16-2 26 4 16-5 9-4 25-1 4-1 1 0 0-6 1 6 2-3 5-1 1-5 2 10 1-8 0 5 1 2 4 3 0 4 0-14 3 4 1-3 19 29-8-2-1 14-2-16-3 8-1-10-1 4-1 8-3-4-2-6 0 12-1-12-3 3-1-2-1 8-3-12-10 9-1-5 0-8-4 21-1-13 0-2-6 1-2-3-3 13-4 5-3 1-4-14-1 12-2-8-15 6-3-5-3 1-1-9-2 17-8-4-10-10-4-7-3 17-8-16-6 17-4 2-7-8 0-1-10-1 0 8-5-8-9 2-13 4-11-9 0-3-1 8-14 7-4-15-2 15-25 25 2-8 12 4 2-12 5 11 14 5 8-1 0-13 2 2 2 3 2 0 3 10 8-1 7-8 4-9 3 18 1-6 2 4 1-7 6 9 1-12 23 2 1 0 0 2 4-1 1 3 2 3 5-17 12 7 7 2 1-6 5 7 12-10 18 13 4-8 4 8 9-3 7-7 2-6 0 19 6-7 2 4 6-4 1-11 0 15 4-3 0 4 2-15 1 17 2-15 0-3 0-1 2 21 4-20 0 9 1 11 2-4 1 6 4-12 3-1 7 2 2 1-2 15-8-4-2 18 0-16 0 3 0 8-1-10-3 18-2 1-1-2-1-1-2-4-1-3 0 8 0-3-1-14 0 11-1 7-4-4-2-8-1 14 0-23-2 0 0 1-4 22-3-9-1-3-1 8-4 4-2-17-3 14 0-10-1 1-4-8-3 20-1 0-8-23-3 8-1 6 0 3-2-8-2 4-1 0-3-9-2 17-5-18-3 1-2 18-1-7-4-11-2 17-1-11-2-9-1 11-6 2-2 7-4-12-1 1 0 3-2 3-1-10 0 4-3 10-1-1-1-18-3 20 0-18 0-1-5 21-1-16-5 0 0 2-1 5-1 5-6 4 0-5-3-6-7-11-1 9-3-5-3 16-2-2-1-5-10 1-1 5-2-17-1 18-1-16-1 13-1 0-4-4-10-6-2-5-2 14-1-2-3-11-9 10-2-3 0 3-16-10-5 4-2 9-1 2-1-3-7 4-7-6-2-9-1 1-1 15-9-1-17-2-45 16 12-2 11 15 45-15 0-8 3 14 3 4 1 5 0 0 0-7 8-15 2 16 1-15 3 0 1-2 2 9 3 9 7-8 2 2 1 0 3 11 5-5 3-9 4 12 2-3 3-12 0 11 4-1 7-2 13 8 4-8 1-9 2 9 8 7 1-17 4 16 0-8 3 8 6-13 2 14 2-6 1 1 3-2 0-3 1 9 1-17 3 12 6-9 4 11 5 6 0-4 2 3 1-16 3 14 2-5 2-6 1 9 14 2 3-6 1-1 7 7 1 0 1-12 1-4 6-3 2 0 1 13 5 9 2-16 1 3 4-10 6 18 2-7 2 1 16-6 1 9 1-13 3 11 3-1 0-8 1 16 5-13 0-2 5-1 1 2 0 12 0 5 2-23 0 0 3 21 3-6 1-15 2 19 13 4 7-19-16 43 0-19-4 13 0-7 0-8-1 20-5-12-2 4-2 9-2-20-1-3-2 16-1 0-4-12 0 4-2 10-1-11-1-2-1 14 0 4-7-16-2 3-9 2-1-5-4 4-4 12-1-10-7-2-8 2-2 1-6-9-5 11-15-14-7 11-5-2-6-7-4 13-1-8 0 13-5-19-8 18-2-21 0 23-2-16-4-3-5 3-2-1-1 10-4-12-5 18-3-3 0 2-2-19 0 12-11 2-1-5-4-3-6 0-2-7-6 13-9-5-12 1-1-9 0 11-5 3-7 0-1-6-4-1-9-7-4 0-3 21-9 0-3-13-1 14 0-17-9 2 0 14-3-10-1 6-2 0-23-5-15 1-3-13-2 13-3 8 0-20-4 15-30 1-4-3-41 25 7 6 4-10 20 6 5-5 0 3 1-8 18 1 6 13 2-4 2-5 4-8 2 11 2-10 2-3 1 1 2 6 1 1 7 12 4-6 2 4 2-5 12-13 0 13 9 6 3-18 9 13 1-8 4 10 4 0 11-9 3 13 1-8 1 0 4 0 3 8 4 0 2-2 3-21 4 9 1 4 0-8 3 6 7 12 8-7 2 2 9-16 2 9 7-2 1 9 9 3 2-17 3 15 1-14 4-3 2 17 2-9 2-8 5-1 5 6 1 15 4-19 14 16 10 1 8-4 0 7 4-20 10 8 4 9 10-18 1 7 1-9 1 20 0-15 0 5 5 10 0-3 4 1 2-13 3-3 5 17 1-2 2 2 4-6 1-8 2 0 6 6 8 3 1-2 15 4 1-16 1 23 2-1 1-7 2 8 1-15 2 5 1-13 2 8 2 12 0-2 0-1 1 0 1-17 1 13 0 5 2-4 3 5 1-7 1 7 3-11 1-4 0 11 2 7 1-20 1 2 1 6 15 18-7-1-6 15-6-16 0 2-4 6-3 13-1-5 0-12-1 5 0 8 0 1-1-19-2 19-3-20 0 16-4-13-1 19-1-13-1 13-3-18-18 6-8-3-4 7-6-14 0 19-15-4-6-3-16 6-3-3-1-5-8 10-9-12-10 4-9-9-12 9-10-2 0 5-5-7-9 5-19-1-6-12 0 8-12-5 0 7-6 7-1 3-1-2-2-11-3-3-13 7-1-10-6 10-9 9 0 3 0-23-3 16-1 3-9-3-5 7 0-6-2 6-2-17-1 9-2 8-1-8-1-13-1 16-1-6-4 11-5-7-4-8 0 11-1 4-1-4-4-5-3 0-2-13-3 3-1 9-3-2-2-3-1-4 0 0-1 18-1-19-1 20-2-7-2 0-2-16-4 8-1 10-5-9-4 13-1-5 0 0-3 4 0-10-1 9-2-8-1 3 0-15-1 23 0-6 0-12-1 11-1-3-4-9-5-2-1 15-4-14-9-2 0 6-12 6 0-7-1-4-9 7-5 10-10-1-9 1-4-1-1-5-1 7-5 2-2 0-1-12-13 28 0 1 11-5 0 0 6 11 2-18 7 5 0 14 2-14 3-3 2 3 4-5 1 6 2 10 2 2 1-13 9 4 9-2 1-2 4 1 1 2 1 2 1-11 1 9 8-3 1-8 2 4 9 11 2 4 1 1 1-3 11-14 0-3 2 20 0-20 4 11 3-10 1-1 5 1 0 14 0-9 1 4 2-2 2-4 1-4 1 14 2 5 2 1 4-15 5-4 0 16 0 5 0-6 14 5 2 1 1-6 5 2 5-11 7-4 4 12 3-13 6 15 10-17 2 6 2 10 2-6 3-4 33 3 79 2 9-5 1 8 9 1 8-11 8 5 7-4 4 17 2-4 3-18 1 17 15 6 5-8 9 7 1-5 16-17 4 12 8 10 2-21 2 11 1 9 3-14 1-2 2-1 2 2 2 7 1-5 0 14 12-14 2-1 4-5 14 21-7 8-8 13-3 2-1-16-7 4-2 12-2-20 0 1-2 19-3-18-3 1-7 12-3-12-3 12-7 5 0-14-33 12-10-2-1-6-42-7-22 4-11 8-85 2-21-18-18 9-1 2-9 6-3-4-6-5-5 11 0-10-1 8-30-15-8 5-1 6-6-14 0 3-3-1-11 12-5-14-2 1-7 2-1-2-1 4-3 8-8 10-2-22-1 8-2 14-3-8-1-13-1 10-3 1-1-12 0 9-1 0-5 4-6-5-1-3-3 6-12-11 0 19-3 0-2-9-1-9-3 15-3-4-15 1-1 5-3-7-6 4-26-1-10 27 2-18 4 15 15-11 1 6 19 5 4 2 3 1 7 0 2-10 1 7 6 2 0 1 3-2 2 1 2-7 0 1 2 8 1-6 1 0 8 5 0-10 1-1 2 13 6-19 0 13 1-11 2 7 1 0 3-9 2 19 7-17 1 18 11-11 0 9 2 4 2-13 0 5 2 1 1-1 0-4 0-4 13 8 9-6 6 2 16-7 7 8 1 3 32-13 203-2 32 4 30 16 2 1 0-10 4 4 1-2 5 2 1 3 0-17 4 5 8 17 0-14 1 12 2 1 1-8 0-1 3-3 4 12 8-17 2 11 14 15-10 4-3 12-8-5-3-2-3-13-1 20-1-7-6 6-3-12-1-8 0 0-2 1-3 13-1-8-4 9-4-3-198-8-50 16-34-6-47-16-4 11-1-11-4 18-7-11-6-6-4 10-1 8-6 4-9-19-3-2-5 20 0-3-3-13-3 7-1-10 0 2 0 2-1 2-5 6-1 4-4-3-2-2-2-5-5-2-1 7-6 5-2-12-5 9-5 0 0-5-2-6-2 10-1-13 0 6-1-1 0-2-6 13-7-8-2 1-1 9-2-3-1-8-1 1-3-2-7 1-3-7-2 21-4-19-1 0-9-2 14 36 1-5 1 14 32-19 3 9 0-8 2 11 1-4 3 0 11-9 1-1 4 5 3 7 0-9 2 8 1 10 4-3 9-6 2 4 5-13 5 2 1-7 12 17 5-15 0 15 15-10 2 4 2-8 18 0 21 20 7-21 36 13 3 7 42-1 21-14 2-7 4 6 24 16 8 0 33-1 142 2 3-23 1 15 1 7 3-8 2-9 0 5 3-6 9 19 3-8 2-12 7 12 1 0 13 17-1 9-4-17-11 4 0 12-1-7 0-8-2 20-4-18-1 4-1 1-1 7-1-7-3 4-3 5 0-14-2 0-3 1-1-3-1 20-12-9-137-6-10 4-128-9-21 8-1-2-4-4-3 3-14-6-7 6-9 7-19-2-34-9-11 2-2-4-38 0-12 2-28 17-16 10 96-2 7 17 11-10 26 5 1-13 1 1 5-1 10 19 8-10 26 1 6 6 10-7 12 8 3-12 5 12 8 3 17-7 257-12 7 0 1 12 4 2 1-16 2 12 0-2 3 9 2-19 0 3 1 7 5 6 0-7 1 11 0-20 5 14 5-8 1 16 13 16-1-8-2 6-11 7-1-13 0 7-1-2-1-2-1-5-1 10-4-4-2 12-3-9-1-14-1 10-1-5 0-3-2-2 0 3 0 12-253-11-11 5-11 7-34-9-19 12-4 4-15-4 0-17-34 18-2 2-53-22-10 26 56 8 4 4 65-8 2 2 22 3 20 0 277-10 3 9 5-8 7-2 3 13 1-11 1-2 2 19 0-8 1 11 1 0 1-6 1 2 2 3 2-20 1 9 2 10 0 2 3-2-5 4-4 2-3 0-4-1 0-1-2 0-8 4-321 9-33-10 376 59 2 31 5-6"/>
<rect class="bd" x="0" y="0" width="321.3" height="328.0"/>
<path class="tk" d="M78.4 328.0v5M161.2 328.0v5M244.0 328.0v5"/>
<text class="tl" x="78.4" y="350.2" text-anchor="middle">-100</text>
<text class="tl" x="161.2" y="350.2" text-anchor="middle">-50</text>
<text class="tl" x="244.0" y="350.2" text-anchor="middle">0</text>
</g>
<g transform="translate(1424.4 157.3)">
<path class="mn" d="M37.0 0V328.0M119.8 0V328.0M202.6 0V328.0M285.4 0V328.0M0 286.1H321.3M0 195.3H321.3M0 104.5H321.3M0 13.7H321.3"/>
<path class="mj" d="M78.4 0V328.0M161.2 0V328.0M244.0 0V328.0M0 240.7H321.3M0 149.9H321.3M0 59.1H321.3"/>
<use href="#gA"/>
<path class="sb" d="M236.0 34.3L243.7 51.5L248.0 77.2L254.9 103.0L258.3 137.3L265.2 163.1L272.1 188.8L278.9 214.6L284.9 240.3L290.1 266.0L296.9 274.6L298.7 266.0L300.0 240.3L299.5 214.6L296.9 188.8L291.8 163.1L284.9 137.3L276.3 103.0L267.8 77.2L257.5 51.5L247.2 32.6Z"/>
<path class="mbA" transform="scale(.5)" d="M484 69l24 24-1-10-10-7 0 13-3-6-6 5-1-11 0 8-1 1-1-10-3 10-1-4-2-3-13 25 13-4 1 8 0-1 4 11 2-9 0-9 2-4 1 8 1 13 0-2 3-9 1 8 3 0 2-14 3 12 19 13-5 7-10 7-5 3-1 0-5-13-2 13-1-5-1 1-2-15-4-1-1 20-5-21 2 46 2-22 3 0 1 12 6-6 4 16 0-5 0 1 2-5 4-5 3-1 1-3 4 0 0 18 1-10 2 9 1-8 0 8 1-2 11-13-8 37-2-7-7-9 0 17-5-16 0 4-1-4 0 5-3 6-2-5-2-5-4-3-4 17-7-16-31 3 6 32 38 8 0-22 3 15 9-2 2-7 5 5 5-3 1 11 8-16 1 11 4-5 4 16-9 19-2-4-1-17-4 21-6-16-1 8-1 9-2-22-1 21-1-7-3-9-1 9-1 4 0 0-8-4-1-10-3 3 0 4-52 8 26 13 5 7 26-12 3 8 2-8 10 8 2 9 0-3 1 0 20-4 0 7 1-13 2 11 5 3 1-17 5 29-2-3 0 4-5-9-3 14-9-13-5 5-1 4-5 9-3-2-13-15-6 12-19 7-27-18-13 40 17 0 10-12 1 4 9 6 1-9 2-2 3 8 8-13 8 20 10-17 14 16 0-7 4-12 1 1 2 2 0 12 2-7 1 6 3-15 0 16 1-12 4 10 1-3 2 11 3-7 2-8 11 34-1 2-4 2-9-13-2 5 0 7-3-18-1 10-4-11-3 12-5-9-6 1-2-1-3 0-3 14-5-8-2 6-3-3-27-5 0 7-4 3-5-14-25 12-19-10-149 33 3 4 19-7 211-13 4 16 8-2 2 5 2-15 5 13 7-5 7-8 1 14 0-16 0 20 1-17 0 7 0 2 1 4 6-2 9-11 2 9 16 33-20-21-1 15 0 3-7-9 0-3-1-3-7 7-11 11-13-16-20 15-11-1-2-5-40-13-178 20-34-9-35-6-24-3-21 36 26-4 2 0 2 5 7-8 1-5 1 15 14-15 1 12 10-6 6 2 1-2 3-7 11 2 6 3 3 1 16-3 20 3 17-3 1 6 39-3 107-8 84 16 8-3 3-9 4-4 1 2 1-4 1 5 0-2 3 0 0 8 0 4 1 3 2-5 1-12 1-1 0 7 1 8 0 1 1 6 1-13 5-8 2 6 4-3 22 36-6 0-1-10-8 12-2-12-9 3-1 7 0-15 0 5-4-3-1 6-2-2 0 14-7 1-2-12-8-4-35 15-186-16-4 11-4-2-35-8-1-5-6 16-7-10-20 16-5-12-14 3-15-2-7-2-2-3-6 1-1 13-1-6-9-12-4 1-1-1-1 12-10-12-13 8-9-5-40 3-17 7 36 8 3 9 18 14 21-19 11 5 1-3 18 0 2-4 1 0 1 11 6-2 4-3 3-3 21 2 13 12 6-16 2 7 12-5 39-3 224 17 21-15 2 3 6 11 4-15 0 10 1-5 2 11 1-18 1 7 1-8 0 21 3-2 1 3 2-4 0-1 1 4 8-14 2 15 1-7 15 26-7-12-2-2-5 16-7-2 0 5-3-12 0 2-6 10-1-17-1-5-1 12-12 1-4-6-6 5-351-5-48 0-5 5 415 15 17 16 4 4 2-6 3-1 0-11 18 18 6-21-4 23-17 7-6 6-1 7 0-14-1 12-9-9 8 32 1-15 3 7 0 11 5-5 3 7 9-22 4-1 6 8 8 7-8 24 0 8-4-17-3-2-3 5-3-2 0 15-1-1 0-6-2-9-1 10-3 4-2-2-1-10-1 10 8 15 5-1"/>
<rect class="bd" x="0" y="0" width="321.3" height="328.0"/>
<path class="tk" d="M78.4 328.0v5M161.2 328.0v5M244.0 328.0v5"/>
<text class="tl" x="78.4" y="350.2" text-anchor="middle">-100</text>
<text class="tl" x="161.2" y="350.2" text-anchor="middle">-50</text>
<text class="tl" x="244.0" y="350.2" text-anchor="middle">0</text>
</g>
<g transform="translate(1756.9 157.3)">
<path class="mn" d="M37.0 0V328.0M119.8 0V328.0M202.6 0V328.0M285.4 0V328.0M0 286.1H321.3M0 195.3H321.3M0 104.5H321.3M0 13.7H321.3"/>
<path class="mj" d="M78.4 0V328.0M161.2 0V328.0M244.0 0V328.0M0 240.7H321.3M0 149.9H321.3M0 59.1H321.3"/>
<use href="#gA"/>
<path class="sb" d="M230.9 18.9L234.3 42.9L238.6 68.7L244.6 94.4L254.9 120.1L261.8 145.9L268.6 171.6L273.8 188.8L278.9 214.6L285.8 240.3L290.9 266.0L296.6 266.0L298.3 248.9L297.8 223.1L292.6 197.4L287.5 171.6L278.9 145.9L273.8 120.1L266.9 94.4L258.3 68.7L248.0 42.9L232.6 17.2Z"/>
<path class="mbA" transform="scale(.5)" d="M465 44l-5 3 0-8-3 3-1 5-5-3 4 6 1 7 4 6 1 1 0-10 1 9 0-12 0 13 1 7 1-1 7-11 1 1 1-9 2 7 1-6 0 14 1 5 12 8-3 7-4 3-1 1-4-2 0-5-2 3-1-9 0 10-4-14-2 18-1-13-3-4-2 1-2 6-4-8-1-1 6 43 7-5 3 9 0-19 2 5 1-2 1-3 2 11 1-9 4-3 11 4 5 12 0-1 14 15 0 7-14 6-4-1-5-9-2 5-4-7-1 11-2 0-1-2 0-10-3 5 0-1-2-7-3 1-2 9-6-5-2 0-56 35 64-11 0-11 4 4 3-3 10 4 8 2 1 10 7 4 1-2 2-10 3 12 8-17 5 3-2 27-5 0-12 13-2-18-1-3 0 6-3 9-5-9-2 10-1-9-5 6-3 4 0-12-2 2 0 4-25-13 0 41 23-17 17 7 7 15 1-2 3-13 3-3 2 7 0-1 4 6 2 4 2-20 12 20 0-8 13 27-16 0-4-2-2-12-2 16-1 4-1-17-5 18-1-14 0-8-3 11-9 10-4-16-1-1-5-4-145 14-178 7 302 17 27-5 7 9 3-3 3 6 1-7 7-10 1 13 1-11 8 17 4-23 6 18 1-2 3 6 10 25-3-10-9-13 0 19-5-7-3 6-3-16-4 16-4 1 0 1-2-12-3-1 0 5-2-3-1 7-3-13-169 11-67 5 107 7 129 8 4-2 3 2 4 8 4-10 1 6 5-1 2-12 3 22 3-5 0-11 10 15 2-21 11 43-3-9-3 2-2 8-2-10-1 11-1-7-2-2-6-11-2 20-2-17-5-2 0 4 0 5-2 6-2 0-3-12-1-1-21 7-3 8-115-4-98-12 247 40 2-11 8 5 1-3 4 3 3 9 0-22 0 1 10 1 4 13 0 2-3 10-1 15-4-9-4-4-3-5 0-1-5 16-3-10-2 13 0-19-8 22-92-10 85 17 6 15 10-11 0-1 3 2 0 9 1-13 1-2 1 14 4-13 0 9 1-1 2-4 5-8 4 16 2-11 6-1 10 8-9 26-6-11-2 16-2-5 0 3-10-5 0-12-1 6-9 6 5 19 12-8 1 6 6 2 2-8 2 5 2 6 2-10 0 10 3 6 1-8 4 14 0-1 1-5 5-1 1 6 7-5 1 16-1 4-8-8-5 0-3-4-6 5-2-2 0 16-1-17-2 10-2-8-1 2-4-5-7 4-2 1 5 26 12 1 4 3 5 5 1-9 1 8 2-9 2 6 1-13 2 15 4-7 5-8 3 20 6-6-1 16-4-7-5 18-1 0-4-8 0 1-1-8-1-2-2-1-2 10-1-6 0 7-1-5-4 8-2-7-1-7-4 23 0-17 7 22 7 17 1-1 0-18 1 0 5 8 18 26-2-10-2 9 0 0-1 12-1-16-1 11-2-7-2 8 0-4-1 6-1 1-3-7-1 0-3 5"/>
<rect class="bd" x="0" y="0" width="321.3" height="328.0"/>
<path class="tk" d="M78.4 328.0v5M161.2 328.0v5M244.0 328.0v5"/>
<text class="tl" x="78.4" y="350.2" text-anchor="middle">-100</text>
<text class="tl" x="161.2" y="350.2" text-anchor="middle">-50</text>
<text class="tl" x="244.0" y="350.2" text-anchor="middle">0</text>
</g>
<g transform="translate(94.4 571.3)">
<path class="mn" d="M17.4 0V327.1M99.0 0V327.1M180.6 0V327.1M262.2 0V327.1M0 283.0H321.3M0 198.1H321.3M0 113.3H321.3M0 28.4H321.3"/>
<path class="mj" d="M58.2 0V327.1M139.8 0V327.1M221.4 0V327.1M303.0 0V327.1M0 325.4H321.3M0 240.6H321.3M0 155.7H321.3M0 70.8H321.3"/>
<use href="#gB"/>

<path class="mbB" transform="scale(.5)" d="M228 142l-103 23 22-2 3 4 2-17 9 1 14 5 20 9 4-17 5 9 1-6 8 15 15-3 4-19 15 18 2 2 2-11 19 17-24 21-2-21-1 6-22 8-2 6-11-13-11 8-15 5-10-11-8-6-9 6-2 4-2 2-25-11-13 19 1 5 1-2 12 8 3-2 7-4 1 15 5-21 4 20 0-19 1 7 4 0 0 1 5 14 11-19 2 11 14 4 1-3 6 1 0 6 2-19 0 6 0 6 0-16 9 4 12 2 1 0 6 12 2-12 9 9 0 0 14 6 3-10 2-6 3 7 7-8 14 14 4 1-20 7-4 4-8 3-10 2-5-5-4 13-30-2-1-8-3 1-4 0-7 10-2 1 0-4-1-9-1 3-5-11 0 21-7-15-1 4-3-1-1-7-1 0-2 19-19-6-3-1-11-14 0 12-1-1-5-8 0 10-2 10-1-1-2-17-2 12-7-15 0 19-4-19-8 18-9 14 6-6 9 8 3-2 24 13 5-10 4 1 2-2 3-11 5 15 0-12 5 5 1 10 1-15 2 3 6 6 1 0 4-9 1 15 1 4 5-10 8-8 1 8 0 1 2 9 1-6 3 6 3-15 0 11 0-19 3 9 3 13 2-1 5-3 0-12 5-1 2 10 1-15 1 11 1 7 1-16 2 11 1 8 1-8 2 3 4 2 1-14 8 18 0-13 9-6 3-2 15 10 26-8 4 34 0 4-8-14 0 9-4 3-5 5 0-5-1 3-1 5-2-15-1-7-1 3 0 18-5-16-2 13-7-9-2-7-3 12-2 5-3-20-8 4 0 6-2-2-3 13-5-6-3-3-2 3-2-4-2-9-1 10-1-8 0 18-2-4-4 3-1-17-4 18-10-18 0 13-1 3-4-11-2-1-1 6-2-7-1 0-5 1-1 9-1-12 0-4 0 21-3-3-1-15-5 0-7 15-1-15-6 5-6-2-2 2-6 8 0-12-1-3-2 21-1-19-15 13-8-10-3-6-30 10 29 18 8 9 2-9 2 10 8-12 1 20 1-7 12-2 1-13 0 5 0 7 5-4 3-3 2 17 4-8 2-7 0 10 1-1 1-11 1 3 3 3 2 11 2-1 5-6 0-15 2 22 7-5 1-15 1 15 1-17 1 9 1 9 2-1 1-5 10-6 0 5 0-5 5-2 1-5 2 2 9-2 1 1 2 3 1 0 5 6 3 9 2-10 3 2 2 6 0-2 1-1 2 9 2-13 2-8 3 15 18-7 16 12 0-16 1 10 0-8 6 12 5-17 4 31-6 9-1-17-4 3-2 6 0 7-7-3-1-11 0 4-2 11-6-13-2 13-4-1-1-7-1 9-4 3-1-23-1 6 0-6-1 1-5 5 0-5-3 0-1 16-17-17 0 0-20 12-1-3-1-4-3 13-2-7-4-1-1 4-2-8 0 1 0 4-1 0-9 0-3 10-6-21-3 23-12-23-1 23-6-8-1 3-3-4-3-6-3 8-4 3-4-13-13 17 0-10-4 4 0-7-8 6-1-14-2 11-2-5-1 5-15 6-19 23 7 1 6-6 16 10 4-8 4 2 4 0 2-5 2 1 1 7 7-11 1 7 1-13 1 19 0 1 3-7 0 1 1-14 0 15 2 4 1 1 1-2 0-13 1 4 0 8 0-1 4-19 0 18 0-9 2 11 2-17 1 15 0-6 0-4 0-4 1 17 0-9 1 1 1-2 0-1 3 9 1-2 1 0 1-7 0 13 1-5 1-4 0 5 0-1 0 0 1 0 1-3 2 7 0-16 0 1 3 9 1 5 4-18 3 5 0 8 1 3 1-17 2 17 0-17 2 12 0 2 1 3 0 2 1-5 0-3 1-9 0 18 2 1 2-18 0 2 1 16 3-7 9 2 2 0 1-10 2-7 0 3 0 17 2-20 2 2 2 6 2 4 1-10 1 14 2 5 1-12 1-1 1-1 9-8 4 19 1-3 5-16 7 20 4-5 9 0 4-13 1 11 3-12 3 18 0-19 1 13 1-7 1-5 2 14 7-10 5-3 1 7 1 7 12-3 0 10 1-3 7-14 3 25-1-2-3 10-3-6-7-8-4 10-1 6-1 3-6-11-2-8-2 18-4 0-1-12-5 6-1-8-2 3-1 11-3-8-3 1-1-8-1 6-1-4 0 8-1-6-1 13-1 1-7-8-1 4-1-11-4 3 0-9-5 19-1-11-3 4-2 4-1-17-1 7-1 15-3-8 0 9-1-6-3-8-2-5 0 11-7 8 0-20-1-2-1 16-2-2 0-5-1-10 0 19 0-6-4-2-1 0 0-9 0 5-2-6 0 9-1 6 0-3-1 4 0-13-4 16-1-5-2 5-2-18 0 10-1 1-1 10-1-21 0 6-1-1 0-7 0 8-4-6 0 9-1 11 0-3 0-3-1-8-1 7-1 8 0-2 0-1 0-13 0 2-1-8 0 8-1 8-3-8-2 9 0-9 0 9 0 3-1 0-1-5 0-12-1-3 0 10 0 2 0 10-3-7 0 4 0-20 0 3-2 12 0-11-1 18 0-9-1-13-1 2-1 6-1-1-1 8 0 0-1-7 0 13-1-17-1 3-1 13 0-20 0 21 0-15-1 5 0-5-1 16 0-9 0-2-2 12-1-5-1-17 0 21-2-7 0-6-1 7 0-14 0 3 0 10-3-15 0 12 0 6 0-7-1-10 0 20 0-4-2 3 0-20-1 9-1 3-2 6 0-5-1 9-1-7 0 6-2-15-1-1 0 11-1 3 0-18 0 16 0-3 0 4 0 3-1-11-1 5 0 7 0-9 0-12-1 21-1-4-1-16-1 0 0 4 0-3-1 1-1 12-1 3 0-7-1-7 0 6 0-6-1 7 0-8-1 10-1 6-1 0 0-3 0-9 0-6-1 18 0-5 0-9-1 8 0 2 0-4-2 5-1-1-1 3-1 2-1-11 0 9-2-4 0-1 0-1-2 8 0-17-1 0-2 7-1-3 0 14-1-9-2 9 0-2-1-2 0-12-2 5-2 4-1 6 0-9-1 4 0-7-2 8-3-9-1 6-5-10-3 9-1-2 0 4-1 4-1-2-2-4 0 3-6 3-4-2-2-4-1 8 0-4-2-8-21 38 6-3 4-5 1-1 5 3 1-7 0 8 2 4 2-12 1 8 4 0 1 5 0-23 2 5 0 8 1 8 0-13 1 6 0-8 0-1 1 6 0 7 0-12 1 7 2-3 1 13 0-19 2 7 0 4 0-11 2 11 1-3 2-3 1 3 0-3 2 5 0-1 1 9 1-14 0-4 0 4 1 13 0-1 1-2 2-5 0 7 0-7 0 9 0-6 0 5 1-7 0 7 0-4 1-1 0-1 1-12 0 17 0-12 1 8 0 6 0 0 0-6 1 1 0-7 0 10 0-1 1-16 1 2 1 12 0-11 2 11 1-14 1 14 0-17 1 11 0 9 0-18 0 7 1-4 0 2 1 8 0 0 1-9 1-5 0 20 0-8 1 7 1-11 0 5 1 3 1-5 1-6 0 14 0-8 0 10 1-17 0 11 0-3 0 7 0-7 1-2 0 7 1-11 0 16 2-6 0-5 0 11 1-5 0-2 1 1 0-9 0-2 1-3 0 18 0-18 1 5 0 0 0 3 0 8 1-8 0 12 2-8 0-4 1 7 0-4 0 0 1-4 1 4 0-2 0 6 0-16 1 4 0 11 1-2 0 5 2-7 0 5 0-12 1 17 1-18 0 16 0-1 1-12 0 4 0 2 1-14 0 10 0-9 0-1 1 10 1 0 0 12 1-9 0-10 0 1 0 11 1-14 0 11 0-9 0 14 0-9 0-2 1-2 0-4 2 17 0-17 0 12 0 6 1 1 0-9 0 13 1-11 0-7 0 6 1-8 0 11 0-9 0 1 1-5 0-1 1 9 0 11 1 3 0-19 0 9 3-4 0-5 0 1 0 14 0 2 1-5 1-10 2-5 1 16 0-9 0 14 1-22 0 17 0-8 1-3 0-4 0 18 0-1 1 3 0-13 1-9 0 12 1 1 0 0 0-12 0-1 1 9 0 12 1-9 0 11 1-2 0-15 1 15 1-10 1 9 0-4 0 3 0 2 1 0 0-9 0 9 0-2 0-16 1 10 1 5 1-13 0 17 0-15 1 8 0-1 0-8 0 15 0 2 2-4 1-14 0 4 0-7 0 13 0 5 1-16 0 0 1 8 1-2 0 8 0 2 1-6 0 2 1-9 1-5 0 16 0-11 1 4 0 5 1-16 0 14 1-12 0 16 0-7 2 0 1-11 0 0 1 9 0 2 1 3 1-14 0 2 0 21 3-1 0-15 0-1 1 7 0 9 1-19 0 15 0-14 2 19 3-11 0-7 1 6 3 4 2 6 1-3 2-14 1 4 0 6 0 1 3 3 1-7 1 0 0 6 1-6 4-4 0 12 2-8 1-2 0 6 0-2 0-6 2-7 0 13 0 0 1-4 1 2 1 8 0-17 1 3 1 1 1-2 5 12 1-14 0 0 1 0 0 11 1 2 5 5 0 0 4 3 0-20 0 3 0-4 2-1 3 12 0-6 1 2 4 6 1-5 1 5 2-6 3 12 2-10 6 7 2-17 2 14 2-15 1 8 3 15 1-4 3 4 0-4 1-14 1 11 8-2 4-14 6 5 5 3 7-5-19 35-2 4-10 0-2-8 0-2 0 7-6-2 0-9 0 19-2-12 0-9-4-2-4 13-2-6 0 1-2 13-5-11 0-7 0-3-2 17 0-17-1 21-1 0 0-21-2 0-1 0-1 6-3-6 0 19-1-12-4 5-2-10 0 7-1 7-1-1 0-3-1-9-3-3 0 7-2 0-1-7-1 6 0 6-3-11-1-1 0 12-6-11 0 20 0-2-3 3-1-1-2-14 0 5-1-12-1 14-1-11-3-1 0 0-1 10-1 8-1-7-1 8 0-13-2-4 0-4 0 16 0 5 0-16-1-1 0 16-1 3 0-20-1 5-1 2 0 9-1-9 0 7-1-10-1 4-1-9 0 6-2 5-2-6 0-4-1-1 0 14-1 6 0-8-1 1 0-1-1-12-1-1 0 8 0-2-1 10-1-7 0-2-1 4-1-6-1 15 0 0 0-11-1 12 0-19 0 13-1-6-1-8-1 15-1-17-1 4 0 9 0-10-1 18 0-8-1-3-2 7 0-8-1-2-1 10 0-10 0 4-1-3 0-1 0 3-1-4 0 12-2-9 0 5 0 4-1-18-1 8 0-7 0 16-1 1 0-9-2 11 0-17 0-2 0 7-1-1 0 8-1-10 0 2 0 3-1-4-1-6-1 10-1-3 0 2-2 4-1 9-1-12 0 6 0-7-1 9-1-14-1 16 0-4 0-15-1 6 0 16 0-23 0 2-2 1 0 11 0 2-1-4-2-1-2-2 0 2 0-3 0 12-1-19-1 18 0-13 0 16-1-5 0 0-1 5 0-1 0-14-1 3 0 9 0-7 0-1-1 3 0-13 0 7-1 5-2-9-1-2 0 13 0-6-1-9-2 3 0 15 0-16 0 13 0-4 0 4-1-5 0 1 0-8-1 12 0-3-1-7 0 0-1 17 0-18 0 9-3-1-2 7 0-14 0 0-1 15-2 2 0-17 0 10 0-7 0-8 0 3-1 1 0-4-1 6 0 3 0-7-1 16 0-12 0-6 0 5 0 3-1 0 0-1 0 4 0 9 0-15 0 5-1 9-1-9 0 11 0-17 0 4-1 10 0-7 0-5 0 16-1-4 0 0-1-4 0-6-1-7 0 19 0-16-1 16 0-12 0-1 0 1-1 0 0-1 0 0-1-1-1 9 0-3 0 1 0 10 0-17 0-3-1 0 0 16-2-3 0 0-1 6 0-21 0 4 0-3-1 7 0 2 0 4 0 4-1-19 0 10 0 9 0-3 0-6-1-5-1 12 0-10 0-5 0 2 0-2-1 16 0-1 0-2-1-15 0 19-1-12 0 1-1-4 0 13-1 4 0-13 0-6 0 20 0-20-1 1 0 7 0 11 0-15 0 0 0-1 0 16 0-15-1 8 0-1 0-8 0 0-1 0 0-5 0 12 0 4 0 2-1-12 0 10 0 4 0-12 0 0-1 0 0-6 0 9 0-8-1 20 0-6 0-11 0-3-1 7 0 1 0 11-1-4 0-18-1 10 0-1 0-2-1 10 0-13 0 16 0-16 0 11 0 5 0-19-1 14 0-10 0 18 0-13 0-5 0-2-1 9 0 11 0-3 0-1-1 4 0-18-1 13 0-3-1 5 0-7 0 5 0-16-1 6-1 1 0 14 0-7-1-7 0 7 0 3 0-11-1 5-1 5 0 5-1-6 0-4-1-8-1 13 0 5-1 0-1-9 0 5-1 4 0-3 0-2 0 3 0-14-1-3 0 13 0-3 0-13 0 21 0-10-1-1 0-1 0-2 0 2-1 13-1-22-1 12 0 9 0-7 0-6 0 13-1-19 0 7 0-5-3 5 0-5 0 11-1 5-1-17-1 7-1 6 0-15-1 16 0 4 0-12-1 12-1-16-4-5-1 15 0-9-1-3-3 18-4 9 4-6 1 11 2 2 0 8 0-10 0-4 0-5 0 4 0 5 0 4 1-12 0 1 0 0 1 6 0 1 1 1 0-8 0 4 0 9 1-5 0 1 0-5 0-9 0 4 0 4 0-1 1 5 0-6 0 12 1-11 0 2 0-5 1-3 0 15 0-13 1 6 1-6 0 2 0 3 0 12 0-9 1 0 0 10 0-9 0-7 0 1 1 5 0-4 0 0 1 13 1-15 0-5 0 3 0 11 0-3 0-8 0 8 0-3 0-5 1 2 1-4 0 0 0 16 0-11 0 4 1-9 0 7 0 9 1-4 0-2 1 3 1-4 0 1 0-6 0 6 1-9 0 18 1-19 0 6 0-7 1 10 1 2 0-8 0 4 0 0 0-2 0-4 2 5 0-7 0 3 0 2 0-2 1-2 1 6 1 11 0-13 1 9 1 0 0-5 0 4 0-10 2 1 0 5 2-2 0-2 0-2 0 3 1-5 0 13 2-10 0 5 0-2 0 4 1-7 0-1 2-2 0-1 0 8 0 0 0 5 1-8 0 2 1-6 0 18 1-13 1 10 1-3 0-11 0 10 2-2 1 11 0-12 1 9 0 2 1-19 0 13 2-12 0 11 0-10 1 4 2-6 1 15 0-11 3 8 0 7 1-10 1-5 1 3 0 10 1-2 0-14 0 6 1 1 0-3 1-3 0 4 0 0 1-7 1 3 1 20 0-16 1 2 1-8 1 2 3 7 0-7 5 9 2-10 0-2 1 13 0-5 0-2 1-2 2 2 1-6 0 1 1 1 1 21 1 0 1-18 2 16 0-2 0-16 0 0 0 2 1 9 4-14 0 0 1 21 2-11 0 2 3-5 0-1 0 3 0-1 2-4 0 9 1-10 1 1 0-2 1 6 0-6 1 20 3-19 0-2 0 21 2-12 0 5 2 2 2 2 2-19 1 6 2-6 0 3 1 19 0-21 1-1 1 15 1 1 0-9 1 0 4-7 1 5 1 6 2 0 0 7 0-15 1 16 1-15 9 11 1-4 1-11 1 3 0-1 2 20 1-16 1-1 1 12 4-7 3 1 0-5 2-6 4 5 1 10 2 5 5-11 1 9 1-4 4 6 4-3 0-11 2-5 5 8 4 9 4 5 6-11 7-6 0-6 1 17 2-8 1-2 0 5 1 10 0-16 15 6 15-11-29 27-10 12-2 2-15-14-18-1-2 17-11-6-4-5-4 10-13 3-2-12 0-7-1 4-9-6-1 5-5 10-7-15-16 8 0-7-3 4-5-3 0 4-2-6-5 10-3-11-20 4-3 7-10-6-1 9-1-12-4 6-20-7-3 7-3-4-7 0-1-2 134 22 2 1"/>
<rect class="bd" x="0" y="0" width="321.3" height="327.1"/>
<path class="tk" d="M58.2 327.1v5M139.8 327.1v5M221.4 327.1v5M303.0 327.1v5M-5 325.4h5M-5 240.6h5M-5 155.7h5M-5 70.8h5"/>
<text class="tl" x="58.2" y="349.3" text-anchor="middle">-40</text>
<text class="tl" x="139.8" y="349.3" text-anchor="middle">0</text>
<text class="tl" x="221.4" y="349.3" text-anchor="middle">40</text>
<text class="tl" x="303.0" y="349.3" text-anchor="middle">80</text>
<text class="tl" x="-11" y="330.9" text-anchor="end">-60</text>
<text class="tl" x="-11" y="246.1" text-anchor="end">-30</text>
<text class="tl" x="-11" y="161.2" text-anchor="end">0</text>
<text class="tl" x="-11" y="76.3" text-anchor="end">30</text>
</g>
<g transform="translate(426.9 571.3)">
<path class="mn" d="M17.4 0V327.1M99.0 0V327.1M180.6 0V327.1M262.2 0V327.1M0 283.0H321.3M0 198.1H321.3M0 113.3H321.3M0 28.4H321.3"/>
<path class="mj" d="M58.2 0V327.1M139.8 0V327.1M221.4 0V327.1M303.0 0V327.1M0 325.4H321.3M0 240.6H321.3M0 155.7H321.3M0 70.8H321.3"/>
<use href="#gB"/>
<path class="sb" d="M123.6 118.4L135.6 109.9L154.5 103.0L169.9 105.6L181.9 116.7L183.7 133.9L176.8 145.9L163.1 152.8L142.5 154.5L125.3 147.6Z" fill-opacity="0.85" filter="url(#f3)"/>
<path class="mbB" transform="scale(.5)" d="M299 183l-13 6-61 17 15 1 35-1 4-8 9 11 3-8 1 13 0 0 4-2 7-4 5-8 1 7 5 6 7-2 6-7 8 1 2 10 5-5 4-18 0 21 8-2 13 3 20 11-7 12-4-4-5 6-17-9-3 3-3-2-2 2-1-4-2 6-5-3-4-3-4 10 0-20-5 16-1-1-4-10-3 3-3 0-1-5-1 8-1 7 0-16-3 13-2-17-1 13-3-11-1 5-2-3 0 4-2-6-1 10-2-2-2-7 0 14-6-15-1 19-7 1 0-17-7-6-11 21-4 1-1-13-2 3-5 8-30-14-9 15-2 20 5-15 23-2 1 2 3 21 2-13 1-9 2 5 4 3 2 14 0-20 3 4 5-4 1 6 1-9 1 2 1 5 2 1 0 9 0-4 6-9 2 4 5 10 2-13 0 12 2-10 1 13 1-16 0-2 2 21 2-3 7 3 1-8 3-12 0-3 0 15 0 4 1-6 0-11 1 11 2 6 3 1 0-17 5 16 2-12 1-7 0 12 1-6 0 11 1-13 2 7 2 1 1-9 1 0 0 3 0-5 2 10 1 7 0 3 1-14 7 6 5 4 4 4 1-16 1 11 2 0 7-7 0 7 1-3 6 3 2-3 2 5 4-12 4-1 0 9 7-6 1-1 10-7 4 19-10 18-2 2-4-10-7-3-2 0-3 10-1 8 0 2-20-14 0 8-1-1-1-15-3 1 0 14-4 0-1-5-2 3-2-6-2-1-3 6 0-3-1 6 0-2-3-10-5 16-1 2-2-7-3-9-1 2-2-1-4 7-1 5-1 3-1-21 0 6-1 6-1 6-2-13-1 12-1-9-2 11-1 4-2 0-2-5 0-5-1 2-1-2-5 2 0-3-3-1-1-3-1-2-5-4-1 6-1 15 0-17-1 1-2 1 0 8-6-7-1 2 0 5-2 7-1-5-5 5-1-17-2-6-2 16 0-10-1-5-1-1-2 17 0 1-1-4 0 3-6-14-4 9-1 9-6-15-21 4-25 36 11-4 9 2 14-17 1 19 9-13 6 4 6-3 0 5 3 6 2-8 4 6 1 4 6 0 6-19 3 9 3 3 2 0 0 1 1-10 4-6 1 17 2-10 2 4 2 5 2 3 0-13 3 6 0-12 3 5 1 13 3-16 2 4 1 11 1-6 6-12 3 11 4-6 5 4 1 1 4-4 0 8 1 3 0-5 0 11 3-19 7-2 1 18 1-11 3 7 3-4 4 8 3-17 3 0 2 11 1 4 5-9 3 2 6-1 1-7 13 13 11 2 14 28-11-18-20 1-17-1-2 0-6 1-6 17-2-7-2-8-1 3-1-3-5-2-2 7-2 11-4-11-4 11-3-4-2-9 0-9-1 18-1-13-1-3-5 4-2-2-5 14-10 1-4-1-4-16-4-3-3 11 0 8-1-18-2 4-2-4-1 19-3-19-4 0-7 6-15 10-9-12-21-5-2 14-16-14-67 26 56 11 14-11 2 4 3 14 20-18 33 0 4 18 6-17 1 3 1 3 17-3 3 12 0-5 2-8 6 10 0-7 5-4 1 6 1 6 4-10 6 15 1-11 12-3 4-6 1-1 9 8 0-2 28 10 93-8 39 19-8 14-22-15-15 16-10 3-4 2-90-10-18-13-22 5-31 1-27-3-3 5-15-2-18 2-34-8-4 7-22 9-3-2-48-12-1 3 43 19 52 22 85-21 67 1 5-2 33 1 5 21 22-11 3-1 4 6 11 1 3-14 1-3 6 7 20 1 19 11 6-15 6 5 27 10-1 9-9 19-16-20-1 13-12-16-1 2-1 11-7-2-12-3-2 3-8 4-2-9-1-4-2 19-2-12-4-6-15 2-1-3-5 8-11-7-64 11-27-8-16 9-1 3-8 5-9-11-12 4-5-14-87 7-79 5 26 13 29 9 30-2 41-9 12 5 106 16 17-15 10 14 45-7 3-2 7-9 2 13 6-13 4-1 3 6 3 1 4 9 11 1 14-6 4 7 11 1 24-3 4-2 2-5 24 14-24 16-9-13-18 7-20-4-7 5-6-10-57 2-4 3-7 13-33-6-5-3-25 5-16-4-4-6-43 2-35 3-32 20 98 14 9-16 23-4 14 10 1-11 1 1 53 14 15 5 34-11 29 14 21-4 21-12 7 15 9 7-34 11-9-3-9-11-65 4-126 2"/>
<rect class="bd" x="0" y="0" width="321.3" height="327.1"/>
<path class="tk" d="M58.2 327.1v5M139.8 327.1v5M221.4 327.1v5M303.0 327.1v5"/>
<text class="tl" x="58.2" y="349.3" text-anchor="middle">-40</text>
<text class="tl" x="139.8" y="349.3" text-anchor="middle">0</text>
<text class="tl" x="221.4" y="349.3" text-anchor="middle">40</text>
<text class="tl" x="303.0" y="349.3" text-anchor="middle">80</text>
</g>
<g transform="translate(759.4 571.3)">
<path class="mn" d="M17.4 0V327.1M99.0 0V327.1M180.6 0V327.1M262.2 0V327.1M0 283.0H321.3M0 198.1H321.3M0 113.3H321.3M0 28.4H321.3"/>
<path class="mj" d="M58.2 0V327.1M139.8 0V327.1M221.4 0V327.1M303.0 0V327.1M0 325.4H321.3M0 240.6H321.3M0 155.7H321.3M0 70.8H321.3"/>
<use href="#gB"/>
<path class="sb" d="M101.3 123.6L120.1 108.1L145.9 98.7L163.1 97.0L180.2 103.8L187.9 120.1L187.9 137.3L182.8 163.1L172.5 188.8L160.5 206.0L142.5 216.3L123.6 221.4L109.9 214.6L101.3 188.8L98.7 154.5Z" filter="url(#f2)"/>
<path class="mbB" transform="scale(.5)" d="M142 70l30-2 7 0 4 2 7-12 46 24-10 1-18-3-16-5-6 14-7-2 0 0 0-10-5 12-1-13-2 16-8-5-12 7-6-13-25 26 21-5 8-5 4 21 1-9 13-4 9-6 6 18 8 2 2-8 8 4 0 2 8-1 4-4 3-12 3 9 10 8 2-17 37 41-8-1-7-19-6 20-10-8-2-11-4 11-14-4-3-9-1 11-4-6-1 0-3 15-3-10-4 3-3 9-3-5-1-3-2 7-9-10-2-8-8 20-2-10-3-7-4 8-8-9-4 18-4-3-1-13-9-2-12 10-6-9-3 38 7-17 6 10 1-9 8 15 1 3 2-19 1 15 1-11 8 9 2-1 1 2 2-4 5 2 8-8 4 12 4-15 0 16 2-6 5 2 1-4 3 1 1 7 1-1 0-15 1 13 13 1 6-5 1 10 3-13 4-5 3 5 7 4 1 8 2-17 1 17 1-21 2 21 1-18 4 16 1 2 3-18 1 10 5-4 5 13 15-7 10 3 75 25-87-1-11-16 0 19-3-15-3-6 0 12-8 10-3-3-3-16-1 2-8 16-1-10-3 10-2-18-7 3-6 16-5-13-2 8 0-3-1-4 0 3-1-2-1-1-1 3-1-3 0-8-1 11-3-11-5 15 0 4 0 1-6-1-1 0-1-22-1 12-6 11-5-7-1-4-4 8 0 2-1-3-6-2 0 0-2-12-3 11-2 5-5 1-7-3-2-16 0-3-2 9-9 5 19 27 5-4 1 1 1-14 2 17 2 1 3-11 3-5 1 12 2-5 8 6 2-2 0-8 2 0 1 7 4 9 1-12 1 5 1 7 2-10 1 6 4-11 7 0 0 16 7-13 0-1 0 11 3-10 1-3 0 15 4-20 1 18 5-15 0 2 0-5 1 9 0 2 3-11 2 3 2 15 5-2 6 3 1-11 2-4 0 15 3-2 2 3 3-11 6 0 2 6 1 4 2-8 1-7 1 8 4-1 5 7 2-8 1-8 7 9 3 3 22 0 0-8 4 14 1-3 2 0 15-9 4-5 7-3 18 8 3 13 2 3-3 21-2-13-1 2-2 8-25 1-7-12-7 14-3-19-2 19-1-21-15 1-2 10-8 4-6 2-2-2-2 5-5-20-1 3-1 15-7-10-7 0-1-2-3 8-1-8-3 11-5 2-4-3-2-15-1 1-2 14-1-16 0-1-3 10-1-10-6 12-1-9 0 11 0-9 0 11-4 2-2-9-1 2-2-11-1 8 0 6 0-7-1-4-4-3-1 9 0-7-1 21-1-1-1-20-2 6-4-5 0 18 0-6-1 0 0 3-1-18-1 1-1 13 0-4 0-6 0 1-2 7-1-5 0 7-1-8-2 0-2-1-4-1-10 5-2-7-4 11-9-7-3-2 0 1-15 11-16 13 3 11 0-6 4-2 11-8 0 21 13-12 8 2 3-10 6-1 3 0 1 19 0-12 5 6 0-10 3 16 5-9 6 7 0-16 1-1 3 14 3 2 3-5 5 0 1-6 2-5 0 20 1-16 0 17 2-17 5 1 1-1 2 15 0-18 4 20 6-19 0 19 1-21 0 19 1-17 1 3 0 11 4-2 0-9 3 15 1-8 2 11 0-8 9-7 2 13 2-11 3 8 1 0 3-10 1-2 13-4 0 7 4-2 4 9 4 0 2 4 1-8 16-1 3 0 6 11 13-18 3 0 22 1 7 2 1-6 12 2 3 41-16-17-12 7 0 11-2-8-14 10-2-17-4 1-18 4-14 10-4-6-15 0-1 4 0 3-7-19-2 8-8 12-14-21-11 8-2-1-1 5-2 0 0-11-3 11-8-10 0 4-7-2-2 4 0 12-2-13-2 2-3 9-3-13-3 2 0 6-4-3-2-12-3 23-4 0-5-18-1 11-2-8 0-6 0 13-3-5-2 13-5-13-6 12-2-18-4 17-12-13-15-2 17 24 4-3 25 0 4 10 9 4 10-17 0 9 1 4 2-10 3 15 0 2 4-6 3-11 3 0 12 1 0-3 2 2 5 17 1-14 1 3 1-8 2 5 3 9 5 1 3-15 1 10 1 1 3 1 21-11 0 15 1-7 25-8 1 0 0 11 0-9 9-3 4 4 0 18 3-7 1-3 1 7 4-13 6-1 3-3 1 4 25 10 5 6 2-19 3 9 2 7 0-6 2-8 1 12 0-15 9 5 12 3 6-6 6 16 6-21 20 20 18 2 2-22 5 4 9 12 5 1 5-14 12 19 31 11 0 10-27-16-8 5-7-2-1-3 0 12-6-2 0 1-10-4-18 13-1-23-1 8-2-2-7 4-2 10-5 2 0-11-1 1-6 2-4-11-1 0 0 16-2-3-1 1-3-7-2 4-2-12-1 3-2 16 0-6 0-8-5 5-4-6-3-6-2 15-4-4-1-4-7 0 0 10-1-8-4 5-6 6-2-5 0 0-7-2-1-12-2 19 0-8-5 2-5 2-5 0 0-16-1 0-2 5-4 0 0 7-4-2-7-3-2 4-3-8-4 7-1-2-4-4-7 2-2 2-3-5-3 8-2-6-1 15-1-18-7 1-3 4-2 15-1-3-12-10-4-9-4 17-5-11-2 8-10 2-3-1-3-6-2 10-2-18-4 20-1-10-1 6 0-7-1-6 0 18 0-19-5-3-4 17-5-17-2 21-3-6-2-6 0 11 0-6 0-14-6 13-5-10-5 13 0-9-6 5-2-5-12 4-6 8-3-13-65 40 4-4 5 3 13 0 9-5 3 4 1-3 12 4 1 1 5-7 14-12 1 20 3-18 7 7 2-1 3-5 5-2 2 9 0 6 2-10 0 14 7-23 3 8 3 9 3-5 5 10 4-2 1-2 2-5 1-11 0 18 2-13 2 10 2 1 2 3 12-18 7-1 4 17 0-2 5-16 4 18 6-16 9 7 7 2 19 8 0-19 0 9 2 5 3 0 15-5 1-10 6 16 1-12 3 10 0-9 10-4 0 20 4-20 2 19 1 1 2-21 1 9 0 5 3 2 1-5 2 11 2-2 1-13 9 11 1-2 2 7 2-3 3-10 0 8 1-1 1 5 4 1 8-23 4 7 1 5 4 7 2 4 3-9 1-8 1 9 2-11 0 0 2 12 2-2 3-1 0 2 1-12 2 12 1 1 1-10 2 1 1 10 1-14 1 16 3-17 2 17 6-11 1-2 0 5 0 9 6-14 4 9 0-1 8 0 0 2 2-9 0 15 2-6 0 5 0 0 3-12 7-6 4 5 1-5 1 13 1 3 13 0 3-13 0 11 4-16 2 7 3 13 3-11 5-9 4 14 0-12 16-3 0 22 1-12 0 13 17-11 3 8 28 25-4-20-1 13-16-2-20 3-4-11-5 1-3 12-9-13 0 12-3 0 0-11-1 0-10 4-2 2-2-3 0 11 0-9-11-6-1 13-2-17 0 4 0 7-4-3-1 14 0-3-2-14-2 12 0 5-2-12-1 13-1-19-1 12 0-10-1 5-6-10-1 21-1-8-2 7 0-7-4 4-1-8-1 13-1-10-1 6-4 4-4 0-2-8-2-12-3 1-2 1-1 2-2 15 0-21-1 7-3 2-4-2 0 3-2 4-1 1-5-12 0-2 0 10-1-2-4 3-1-1-4-11-3 5-1 5 0-6-3 15-3-5 0-2 0 0-2 2-4-10-5 18-2-23-1 16-1 1-2-8-1-5-1 2-1 1 0-1 0 2-5 10-3 0-1-11-1 0-4 9-4-3-4 8-5-19-1-1 0 21-2-15-2 12-6-10-2 10-2-6-4-1-1-8-3 16-9-19-1 20-1-17-6 1-5-5-3 5-1 14-2-2-11 4-10-20-8 0-7 0-16 16-5-12-5 15-6-14-2 16-6-6-1-8-3-1-8 16 0-13-1-2-1 15 0-7-4-4-1 0-2-9-2 12 0 7-2-20-2 1-1 9-2 3 0-14-1 16-3 1-1-13 0 6-2 10-1-4 0 5-2-7 0 4-1 1 0-5-1-2-1-3-3 11 0-21-2 6-2 7-5-9-4-1-1 20-2-8-2-14-1 0-1 17 0-5 0-12-6 2-2 12 0 8 0-15-1-1-2 1-1 15-3-2-1-1-2-3 0-11-2 2 0 6-3-12-2 7-4 4 0 3-3-2-1 6 0-4-1-16-1 0 0 23 0-4-3-1-2-3 0 3 0-5-5 2-6 6-1 0 0 2-2-10-4-7-4 0 0 16-5-7-4 5-23 22 1 1 1 3 0-8 1-1 0-1 3 5 3-3 0 5 3 3 3-8 1 6 2-19 3 0 1 12 1 3 2 3 0-4 1 2 1-8 0 5 2-11 3 10 1 8 0-6 1 0 0 8 1-5 2-9 1 13 0-3 1-5 3-10 2 5 0 10 1-11 0 7 0 0 1 1 0-4 0-5 1-7 0 14 2-4 1 2 0-3 2-8 0 15 0 2 3-2 1-9 2 7 1-3 1-4 1 9 0 1 1-2 0-2 4-7 0 16 3-22 1 13 1 8 2-14 0-6 0 3 1 4 1 14 0-17 1 9 0-3 4 4 0-11 0 8 0-1 0-6 1 17 0-8 0 9 2-18 1-3 1 13 1-6 2 10 0-11 2 14 0-16 2-3 2 10 0-8 0 8 1-2 0 4 1-11 1-4 0 20 1-9 1 2 0-2 1-5 1 14 1-3 2-17 1 10 1-10 0 13 1-6 1 5 1-2 0-8 1 8 2 5 3 8 0-19 2-2 1 20 1-22 2 18 2-17 1 4 0 8 1 4 0-11 0 12 0-11 4 15 0-8 2 7 0-19 1 6 0-2 4 6 0-3 1 5 2 7 2-1 2-17 2 10 2 3 1-4 0 0 1-5 3-6 2 2 0-2 2 19 0-15 0-1 0-4 1 12 0 3 0-14 1 2 1 6 0 9 2-16 4 1 2 11 4-5 3-1 17-1 13 9 13-8 5 3 1 4 13-6 2 7 4 2 11 0 1-9 7 0 2-9 10 8 1 12 4 2 0-22 1 21 6-20 1 2 0 12 10-1 5-12 3 13 3-10 1 17 1-6 2-9 1 9 0-12 4 16 7-20 5 5 1 5 3-6 1 0 1 3 1 4 8 1 2 9 3-4 1 1 2-13 5 14 1-1 1-15 5 15 0-10 0 3 3-10 3 14 0 0 2-11 2-4 1 1 5 16 2 1 3-7 0-7 1 2 0-3 2 4 3 7 2-7 8-5 6 4 2 3 0 6 0-3 2 11 1-12 0 6 1-14 1 2 1 4 2-7 1 21 2-21 1 14 1-5 1 6 2-1 0 4 1-4 1-9 4 12 0-6 1 9 1-3 2-5 3 6 1-12 1-6 1-2 0 12 3-6 2 9 6 0 4 2 4 2 4 0 1-15 1 3 6-7 3 21 1-13 1 8 3 4 1-10 3 8 1 1 7 1 1-16 2 7 5-8 12 1 1 14 6-1 10 25-4 0-34-10-3-4-6 19-2-4-10-2-2-4 0-9-1 8-1-5-1-1-1 9-1-5-2-8-3 17-1-5-4-11-2 2-1-3-1-1 0 6-4 10-2-6-1 10-4 2-2-13-1-3-2 3 0-9-1 6-3 3 0 10-1-14 0 10 0 0-4-9-1 1-1-5-1 4-1 4-1 11 0-12-2 0-1 3-2 7-4-16 0 1 0 18-1-4 0-11-5 6-1-12-1 20-1-9-2-9 0 6-2 4 0 7-7-10 0-9 0 11-8-13-1 16-3-14 0 13-2-1-1-1-4-1-3-12-2 13-2-7-3 11-1-11 0 3-6 5-2-13 0 3 0 3-11 14-2-14-4-2-5 0-1 0-14 13-14-11-19-1 0 9-11 1-1 3-6-7-2 7-3-11-8 13-10-9-1 11-10-9-8 9-8-10-17 1-4-4-1-9-1-1-19 18-4-8-5 8 0-15-2 11-2-13-11 21 0-22-3 8-5 13 0-12-2 1-7 7-4-6-3 3-1 0 0-3-11-4-4-7-1 2 0 5-2 7-1-2-3 5 0-5-1 1 0-13-1 14 0-14-7 15 0 4-1-13-1-6-1 1-1 16 0-9-2 15-2-15-3-5-2 11 0-12 0-1 0 3 0 7-1-3-1 9-2-17-1 8-3-1-1 0-1 5-6-8-1-2-2 4-1 0-2-2-3-4 0 2-1-1-1 4 0-5 0 3 0 6-1 0 0-8-5 7-2 6 0-9-2-3 0 5 0 8-1-7 0 1-2 5-1-7 0 3 0 1-1 8-1 1 0-14-1-3-1 19 0-18 0 3-1-4 0 8-1 2 0-1 0-7-1 0-1 18 0-2 0-4-1-12-1 0-1 15 0-15-2 7 0-1 0 3-2 1-1-7 0 9-1-13-1 17 0-3-1-11 0 2 0-4 0 4-1-9 0 13-1-10-1 10-1-2 0-3-1 1 0-7-1 16-1-14 0 6 0 4-1-12 0 20-1-8 0-3 0 6 0-7 0 13 0-9-1 3 0-2-3-5 0-9-1-1-1 16 0 1 0 2-1 3 0-13-1 9 0-10-2-7-1 16 0-6 0 10-1-3 0-9-1-5 0 13 0 2 0 2-1-8-1 0-1 4 0 4-1-4-12 24 0 1 2-13 0-5 1 1 1 1 0 10 0-7 0 13 0-13 1 2 1 7 0-14 0 0 0 17 0-4 0-2 0-6 1 6 0-7 0-4 0 20 1-15 0 3 0-4 0 5 1-1 0 1 0 0 0-1 0-8 0 10 0-5 0 2 0-3 0 7 1 4 0-2 0-5 0 0 0-7 0 8 0 4 0 1 1-2 0 0 0-2 0 4 1-2 0 8 0-17 1-3 0 12 0 3 0-1 0-11 1 6 0 1 0 4 0-4 0-4 0 0 0 8 1-12 0 9 0-7 1 3 0 6 0-4 0-7 0 3 1-5 0 10 0-5 0 2 0 4 1-8 0 2 0 7 1-5 0 4 1-6 1-2 1-3 0 6 1 1 1-1 0-1 1-2 2-3 1 7 4-1 1-6 4 2 6 9 1-5 3-1 2 6 2-6 39 13 0-17 3 13 1-11 12-3 1 0 7 6 10-3 13-2 14 5 19-1 1 3 9 5 6-1 37 2 4-7 7 0 3 7 14 9 4-12 13-6 2 17 2-15 6 2 0 13 3-3 6-19 2 11 1-2 0 9 6-10 0 13 3-2 7-16 3 3 2 0 1-6 1 3 3 18 3 0 3-4 6 2 3 1 13-19 0 17 2-8 1 0 3-7 0 6 3-9 5 19 1-2 0-17 5 3 3 10 2 1 5-11 2 17 1 1 3-20 2 2 2 13 2-8 0-3 7 5 4 10 1-9 1 10 3-9 2 0 2-10 2-2 0 11 0 5 2-7 3 0 5 14 4-1 4 1 3-16 2 5 1-2 3-9 1 8 2-5 1-4 1 9 6 13 2-16 0 0 1 11 1-9 0-8 2 19 3 3 8-5 2 4 0-14 1 0 1 8 0-10 0 0 2 13 1-8 1-4 1-1 1 9 0-10 2 10 1-13 1 17 1-6 7-10 0-2 4 12 0 5 4-6 1 3 5-10 1 8 0-1 1 10 1-19 0 18 1-19 0-1 1 23 5-7 0-4 6 7 5-19 3 21 2-2 4 1 4-3 7-17 24 20-47 19-4-9-2 3-7 9-1-9-4 12-11-15-1 3 0 0-2 4-2-8 0 9-3 7-2-18 0 16-3-16 0 16-2-12-3-7 0 10-4-8 0 8-2-10-5 20-5-10 0 12-2-1-1-11 0 13 0-21-3 21-5-7-2-12-2 11-3-13-1 1-6 12 0-8-1 13-2-16-3 0-1 9-3 4-4-4-5-11-1 16-2-16-19 2-10-4-4 12 0 6-8-11-8 2-3 2-11 1 0 9-2-13-1 4-11-5-17 2 0 0-1 10-4-18-4 19-2-16-3 16-2-6-4-11-6 11-2-14-11 12-4-9-1 6-2-3-6 13-4-12-1 9-20-15-5 7-28 15-17-22-3 12 42 18 39-7 5 1 23 3 6 16 67-14 4 0 5-5 48 3 6 8 6-11 12 4 2 13 3-18 10 12 5 2 0-9 0 4 2-9 2 16 6-4 3 2 2-7 1 5 4 1 5 2 3-7 1 9 5 6 1-8 14 4 12-12 4 12 0-3 4 4 9-18 15 14 2-4 4-5-44 24-1 10-6-12-11-4-10 2-3-2-12 5"/>
<rect class="bd" x="0" y="0" width="321.3" height="327.1"/>
<path class="tk" d="M58.2 327.1v5M139.8 327.1v5M221.4 327.1v5M303.0 327.1v5"/>
<text class="tl" x="58.2" y="349.3" text-anchor="middle">-40</text>
<text class="tl" x="139.8" y="349.3" text-anchor="middle">0</text>
<text class="tl" x="221.4" y="349.3" text-anchor="middle">40</text>
<text class="tl" x="303.0" y="349.3" text-anchor="middle">80</text>
</g>
<g transform="translate(1091.9 571.3)">
<path class="mn" d="M17.4 0V327.1M99.0 0V327.1M180.6 0V327.1M262.2 0V327.1M0 283.0H321.3M0 198.1H321.3M0 113.3H321.3M0 28.4H321.3"/>
<path class="mj" d="M58.2 0V327.1M139.8 0V327.1M221.4 0V327.1M303.0 0V327.1M0 325.4H321.3M0 240.6H321.3M0 155.7H321.3M0 70.8H321.3"/>
<use href="#gB"/>
<path class="sb" d="M130.4 106.4L151.0 98.7L171.6 102.1L184.5 114.1L186.2 130.4L179.4 151.0L170.8 171.6L161.3 188.8L151.0 206.0L133.9 218.0L118.4 218.0L108.1 202.5L103.0 171.6L104.7 145.9L113.3 123.6Z" fill-opacity="0.9" filter="url(#f2)"/>
<path class="mbB" transform="scale(.5)" d="M144 16l43-6 20-4 1-5 4 12 1-9 32 36-3 5-17-13-7 2 0 12-6-20-12 10-7 0-11-7-1 10-4-1-9 0 0 5-8-12-15 2-11 15 29 18 4-6 2-7 14 7 1 11 9 0 1-23 13 3 6-1 2 12 2 9 3-16 2 11 1-2 6 4 3-10 4-2 12 15-12 3-1 21-3-5-1-14-4 3-7 2-4 12 0-1-2-10-4 8-7 4-3-15 0 14-2 2-4-16-4-2-1 5-1-9-2 13-6 7-2-6-9 2-9-14-2 13-3-14-3 19-27 0 6 14 11 11 11-17 9 13 3-7 0 4 10 7 4-8 2-5 7 12 2-6 0-6 1-2 1 2 1 3 4 6 5-9 3 2 8 9 1 0 2-5 5-15 1 14 2-6 1 4 0 5 2 2 12-2 11 6 2-7 0-1 4 5 4-5 5-5-16 33 0-19-1 5-1-2-6 18-2-4-6-3-3-5-2-4-5 17-1-13-3-9-10 11-1-7-2 19-3 0 0-20-1 16-1-1 0 3-3-18-1 8-5 5-2 5-1-18-4 6 0 13-1-4-2 3 0-2-4 4-4-12-1-1-5 10 0-2-3 1-4-18-9 0-5 6-7 6-1 2 0-7-1 3-11 10 14 9 10-4 4 15 3 6 2-2 2-20 3 0 0 11 9 5 4 2 0-13 2 0 2-1 3-4 1 14 4-8 3 5 0-8 4 11 0-14 1 21 2-5 1-11 0 7 1 8 3-1 0-8 2-11 0 6 3 1 2 13 2-10 6 5 9-10 1 11 0-13 1 12 2-16 1 17 3-15 5-1 3 11 62 33-9-2-40-17-14 15-15 2-5-14-1 1 0-5-1 5-1 4-3-7-1 15-2-8-2 3 0 1-7-12-1 9 0 3-4 5-6 0-1-11 0 0-2-7-2 0-1 14-3 6-1-1-6-11-2 2-1-9-1-2 0 21-2-11-1 4-7-7-5 5 0 2-3 3-20 8 6 2 1 7 3 5 8-15 9 8 1-4 1 1 1 2 1 15 1-17 1 9 1-8 0-1 4 1 1 13 5-1 1 5 0-19 3 15 0-10 4-5 6 11 2-13 2 14 5-11 4 1 7 0 1 7 0-8 12-5 2 5 3 4 10-9 3 14 3-14 14 8 31 1 8-5 3-2 9 4 8 10 7-3 7 6 2-9 5 8 0-9 11 13 6 4-7 13-19-12-4-1-7 1-1 20-1-10-5-7-2 2-3-4-1 5-1 0-16 10-7-18-14 1-1-2-2 6-8 12-2-17-7 20-3-18-1 1-3 19-3-14-1 4-6 9-6-7-4-6-8-3-3-4-5-2-3 12-11-11-1 14-7-2-1-12-18 19-4-19-19 3-3 14 20 22 13-3 7-4 8-9 2 0 9 15 4 0 3-3 4-1 5 7 3-14 9 18 3-9 6 9 9-5 0-17 4 23 2-19 0 5 1-2 2 10 3 0 1-11 2 15 0-3 4-16 22 13 5 3 8-1 6 0 4-4 8 6 2-6 0 8 9-12 3 6 1-9 11 0 3 15 5-3 3-17 2 21 1-8 3 3 6-2-2 28-1-10-6 9-6 4-4-12-16-10-2 15-2-3-1-7 0 2-5 9-2-11-2 6-1 4-3 7-2-2-7-14-22-1-2-3-2 3-3 12-2 3-2-4-2-11-3 16-6-2-4-3-1-13-8 1-9 19-10-20-3 6-6 11-12-4-1-4-6-9-6 18-8-5-2-16-2 15-17-3-88 33 137-13 14 6 7-13 6 10 1 10 2-8 3 10 16 0 5-3 1-17 6 12 1 3 1 2 7 1 6-6 5 2 11-8 5 5 2 5 4-8 0 12 2-16 1 0 3 13 16-7 9 5 0-10 2 14 1-17 5 16 5-16 84 30-39 7-23 2-3-14-11 17-3-11-6-6-14 4-7-7-2-1-5 15-3-13-4 9-3 9-1-4 0 1-4-10-11 1-2 13-4-18-1-3-2 3-5 17-4 1-5-23-2 14-3-2-3 4 0-10-3-3-1 3-7 10-4 4-1-18-8 9-4-8-5 10 0-6-1-1-1 10-7-3-4 5-5-6-3-10-3 12-3-4-60 6-23 1-11-15-2 17-27-6-1 9-16-8-16 3-19 6 4 5 12 13 1 5 1-1 36-3 9-4 3 6 4-1 2-9 20-5 2 15 78-10 4-4 1 3 2-6 14 17 12-12 1-2 1 1 3 2 2-7 0 11 9-11 3 1 2 4 1 2 9-8 1-1 4 18 9-10 5-8 16 7 9 0 3 1 12 3 4 6 5 3 1-13 0-1 4-5 3 16 2-4 8-9 9 0 1 13 18-14 1 10 23-9 11 19 6-3 3-4 5 2 27 4 5-14 5-2 24 9 32 6 12 14-10 8-22-16-12-2-4 5-2 0-5 8-4 5-1-19-5 6-8 13 0-2-1 3-2-19-4 19-1-6-7-9-10 15-6 2-7-13-1 13 0-14-1 4-5 0-1 6 0 4-3-7-5-9 0 3-3 4 0-2-1 11-1-12-3-1 0 7-1 1-1-14-1 13-1-1-1-7-3 0-2 15-2-2-2-18-1 10 0 3-3-11 0 9 0 9-2-13-1 6-2-9-5-2 0 7-1-4-5-5 0-3-3 11 0 10-1-20-1 11-9-12-4 2-13 18 0 1-4 2-3-3-1-11 0 5-5-1-1-13-15 15-2 0-3-12-5 10-10 3-2-4-2-2-2-2-6-2-2-4-1 4-2 12-1 1 0-11-6 4-1-6-6-5-3 2-2 18-3-19-4 16-2-3-2-8-10 5-5-11-1 21-5-8-1 9-1-16-3 0-5 12-2-9-3-5-44 13 0 4-18-17-17 16-13 0-2-8-2-2-1 1-8 0-12 9-11 2-5-12-5-3-5 0-8-7-27 7 21 27 28-7 10 3 14 7 5 9 3-5 2-16 5-1 33 2 2-2 9 20 9 0 1-11 4 7 3-8 19 5 10 3 10 6 4-6 2 1 12-15 1 0 3 12 4-14 2 4 1 0 8 14 5-4 4 1 1-7 2-7 1 6 1 2 0-6 6 4 0-6 4 11 2-10 3 9 2 1 4 2 7 3 1-18 9 2 4 0 1 5 3-6 4 22 5 0 1-14 2 3 8-2 1 7 1 5 1-11 1-2 7 8 7-16 1 9 0 0 10-7 0 19 9-12 1 10 11-16 0 18 1-12 5 7 4-5 3-4 2 0 3 6 4 9 11-2 10-14 0-7 3 16 1-8 1 10 0-4 7 0 0 7 1-15 1 11 1-14 5 19 1-9 3 6 6-18 2 16 6-10 14 13 3 2 1-20 1 10 4 5 6-12 4 17 0-10 10-10 9 2 1 15 8 1 14-15 2-2 3 16 11-9 11-8 9 15-10 30-1-8-8-6-33 8-3 6-16-6-18-7-2 8 0-15-3 18 0-15-4 13-2-16-9 13-2-10-1 5 0 11-2-6-1-10-8-3-3-1-5 15-4 3-5-8-3 10-5-4-3-15-2 11-3-1-1-10-4 16 0 4-1-1-2-15-4 16-4-7-6-2-2-2 0-8-3 5-1 7-2-13-6 2-1 3-4 15-1-22-3 20-1 2-2-8-3 8-4-1-1-5-1 3-4-18 0 18 0-11-1-5-6-4-3 21-2-5-7-11-1 7-1 3 0 8-3 0-1-16-1 14-2-19-4 17-4-2-13-2-9 1-7-3-3-10-10 5-1 10-2-17-1 4-3 11-3 3-4-14-4 11-2 6-4-19-4 10-4-11-8 14-6 5-1-14-11-4-3 10-5-12-42 21-19-13-20-6-13 10-34 10-42-12-27 23 4-1 1 5 1-2 2-3 0 3 2 4 0-4 1 2 0 0 250-3 10 2 25-10 3 10 2 1 4 0 0 1 2 7 1-17 4-5 11 0 3 15 6 7 0-5 5 0 14 4 8 0 6 0 1-7 6-2 0-6 1-1 3 9 1-1 1-3 2 8 2-1 2-15 3 1 9-2 3 19 2-11 4 1 5 4 3-9 2 12 3-8 1 9 0-10 1 1 0 0 3 1 1-7 9 17 0 1 4-14 4 13 6 0 1-9 2 10 0 2 2 0 1-7 1-11 1-5 5 4 1 10 3-11 1 16 0-18 1 10 1 10 0-14 7 7 0-7 2 16 1-20 2 0 2 0 2-2 13 0 0 12 1-1 0 5 2 1 2-11 5 7 5 1 1-15 5 2 2 4 5 17 16-19 1-4 8 1 36 20-3 15-21 11-7-6 0-3-7 7-2-5-11-9-5 0-1-2-7 12-5 4-5-7-15 1 0 0-1-13-16 21-7-18-5 10-6 6 0-21-2 6-5 13-7-8-1-6-1 2-11 1-2 8-3 4-4-12-4-4-1 4-3 15-5-10-9 9 0 1-2-4-3-4-10-13-3-1-9 9-1 7-2 0-4-14-3 13-4-16-33 15-4-2-19-13-9 1-46 5 77 23 2 15 9-18 45 2 2 3 8-5 0-1 11 1 11 8 1 5 11-5 8-5 10 15 10-17 8 8 1-9 0 4 4 13 2-15 1-3 13 9 1-1 9-3 6 5 0-4 5 11 2-11 0 4 4 0 4-4 1 9 0-4 2-4 2 13 2-11 13 5 8 1 8-1 3 5 11-3 1-1 2-3 11 25-13 0-5 3 0 1-4-10-2-6-2 6-6-5-7 12-7 5-5-19-6 11-1 5-4-6-3 0-4-8-1-2-1 9-1 11-2-10-11-10-1 22 0-7-31 4-2-18-8 7-8-2-8 6-5-13-1 0-13 2-30 2-8 6-30 5 80 21 27-12 11 0 16 3 1-3 5 7 4 7 3-7 2 16 5-9 11-1 10-4 2 5 25-1 3 8 0-5 8-15 9 3 4 17 10-15-45 19 0-1-4 3 35 35 11 24-9 14"/>
<rect class="bd" x="0" y="0" width="321.3" height="327.1"/>
<path class="tk" d="M58.2 327.1v5M139.8 327.1v5M221.4 327.1v5M303.0 327.1v5"/>
<text class="tl" x="58.2" y="349.3" text-anchor="middle">-40</text>
<text class="tl" x="139.8" y="349.3" text-anchor="middle">0</text>
<text class="tl" x="221.4" y="349.3" text-anchor="middle">40</text>
<text class="tl" x="303.0" y="349.3" text-anchor="middle">80</text>
</g>
<g transform="translate(1424.4 571.3)">
<path class="mn" d="M17.4 0V327.1M99.0 0V327.1M180.6 0V327.1M262.2 0V327.1M0 283.0H321.3M0 198.1H321.3M0 113.3H321.3M0 28.4H321.3"/>
<path class="mj" d="M58.2 0V327.1M139.8 0V327.1M221.4 0V327.1M303.0 0V327.1M0 325.4H321.3M0 240.6H321.3M0 155.7H321.3M0 70.8H321.3"/>
<use href="#gB"/>
<path class="sb" d="M116.7 120.1L133.9 106.4L154.5 97.8L173.4 103.0L184.5 116.7L185.4 137.3L178.5 157.9L168.2 171.6L145.9 180.2L123.6 171.6L111.6 154.5Z" fill-opacity="0.85" filter="url(#f2)"/>
<path class="mbB" transform="scale(.5)" d="M154 106l9 0 27 11 7 14-33 9-9 14 4 3 5 6 13-8 4 8 2-13 0 0 16 10 26 6 8 19-3-15-19 19 0-8-6-1-10-6-2 14-5-17-6 13-2 2-6 4-4-15-10 4 0-11-6 12-13-4-19 2-1 8 19 27 3-12 4-2 8 9 8 3 7-2 3-15 4 3 1 8 4 5 4 3 0-20 4 10 3 5 1 4 3 0 4-3 4-8 1 7 4-5 10-4 18-7 7 22 6 1 29 0 7-14 21-2 12 8 5-5 12-6 6 8 7 5 20 25-9 2-7-5-9-8-12-6-2 11-13 2-14 8 0-22-7 11-1 2-2-13-12 8-1 2-2-9-28 9-2 13-17-15-1-5-7 18-1-3-13 4-3-1-7-11-1 0-4-7 0-3-6 0-12 6-9 6-2-7-16 9-23 31 34-21 2 13 5 7 9-9 1 9 1-10 6-6 2 2 3 2 5-7 2 0 9 11 1 8 12 1 3-20 10 8 12-7 3 12 2-14 5 6 5 0 0 11 2-9 22 8 2-4 2 10 1-18 0 2 3 1 9 3 1 6 18 0 4-8 9-1 28 10 2 5 1-17-4 24-3 2-14 12-6-8-1-3-8 5-4-12-3 16-6 4-7-4-4-5-3-8-30 14-12 0-1 5-1-4-3-8-2 7-1-17-1 1-2 6-6 8-2 2-12-8-1 0-2-3-7-3-8-2-1 6-1 13-1-21-2 0-2 19-3-3-1 7-10-3-10-14-43 19 0 3 63 0 1-4 3 5 17 14 3-6 1 4 8 3 6-18 2 2 2 15 0-5 0 3 18-15 3 5 1 0 3 14 1 1 9-21 9 8 1-1 1-3 2 5 14 12 3-7 1-14 10 14 9 6 11-15 0 4 7 1 9 7 10-17-7 28-2 13-4-8-8-10-5 20 0-12-5 1-3 2-1-3-8-3-5 5-2 4-5 4 0-13-2 6 0-8-2 18-3-15 0 6-5 11 0-5 0-16-3 19-1-10-1 5-1-1-1 5 0-11 0-7-4 10-2 11-7-11-1 2-1-13-1 3-1 4-4-7-4 7-1 10 0 4-3 0-1-19-2 2-2 10-5-9-2 11-3-10 0 13-1-8-4 10-5-11-1 2-1 0-3 9 0-11-1-6-3 8-7 10-6-11-6-1-10-1-4 7-6-13-7-3-21 15-82 25 95 5 18 1 3-8 1-12 1 4 1-2 9 9 5-12 4 12 1 3 2-12 2 6 4 7 4-17 1 18 1-3 5-9 1 12 3-8 2-6 4 2 4 8 2-14 0 8 1 6 0-14 2 15 1 7 1-5 0-4 0-6 4-7 5-1 1 20 3 2 0-6 1-12 0 10 7-5 0-8 0 5 1 11 3-10 2-1 3 8 1-14 1 12 1 4 2-1 1-1 0 2 2-1 2-11 3 7 0-7 2 17 2-3 0-1 1-8 0 0 1 13 2-21 0 6 2 5 3-7 1 10 7-8 2 13 1-8 6 7 2 3 2-14 8 12 15-18 13 6 1-8 6 2-5 44-18-7-5-11-5 3-1-1-1 14-6-6-1-5-4-1-17-1-1-3 0 5 0 7-1 1-2-15-4 16 0 0-2-7 0 11-2 1-2 0-3-18-1 6-1-10 0 13 0-12-4 10-1 5-1-5-13 8 0 3-1-3 0-14-6 7-1 8 0-5-3-8-1-8 0 11-1-5-2-5-1 7-3 14-3-13-1 1-4 0-5-5-2 16 0-9-1-10 0 1-2 15 0-11-1-6-1 15-1-12 0-4-2 8-2 6-1-6-1 3 0 11-2-1-1 1 0-2-1 0 0-16-6-4-4 13-9 7-2-17 0 20-2-15-24 0-7 7-3-14-10 13-29-12-10 20-11-10-6 5-1 4-1-18-1 12-2-4-11-3-23 13-1 5 3 5 10 0 8 13 2 3 7-2 1-3 19 5 45-14 24-9 6 4 1 6 1 4 7-14 3 2 11 3 1 10 4-13 7 1 1 1 0 12 1-10 1-3 5 1 7 16 0-20 8 8 7-4 2 14 3-9 0-6 5 13 2-15 3 2 5 9 0-9 23-1 2 9 7 9 4-13 0 2 8 4 8 10 0-13 5-3 15 13 2-16 1 17 1 2 1-19 4 13 14-5 2 33-18-18-5 2-5 14-4-8-3-11-8 2-2 19-5-3-1-18-8 19 0-18-1 3-5-1-1 17-5-16-2-1-7 19-5-16-3 7 0 8-5-16-3 17-1-7-4-10 0 17-3-5-2-15 0 13 0-5-1 1-8-6-4 6-2-7-1 1-2 0-2 8-8 9-1-18-16 0-20 6-71-10-27 1-1 8 150 31 2-8 22-1 18 7 1 8 4-11 7 1 0-9 2 19 12-3 19-17 3-2-50 32-10-6"/>
<rect class="bd" x="0" y="0" width="321.3" height="327.1"/>
<path class="tk" d="M58.2 327.1v5M139.8 327.1v5M221.4 327.1v5M303.0 327.1v5"/>
<text class="tl" x="58.2" y="349.3" text-anchor="middle">-40</text>
<text class="tl" x="139.8" y="349.3" text-anchor="middle">0</text>
<text class="tl" x="221.4" y="349.3" text-anchor="middle">40</text>
<text class="tl" x="303.0" y="349.3" text-anchor="middle">80</text>
</g>
<g transform="translate(1756.9 571.3)">
<path class="mn" d="M17.4 0V327.1M99.0 0V327.1M180.6 0V327.1M262.2 0V327.1M0 283.0H321.3M0 198.1H321.3M0 113.3H321.3M0 28.4H321.3"/>
<path class="mj" d="M58.2 0V327.1M139.8 0V327.1M221.4 0V327.1M303.0 0V327.1M0 325.4H321.3M0 240.6H321.3M0 155.7H321.3M0 70.8H321.3"/>
<use href="#gB"/>

<path class="mbB" transform="scale(.5)" d="M276 167l66 12-14 7-2-15-43 5-3 7 0-3-1 7 0-3-25 15 19 2 6 1 9 10 3-20 8 3 2 9 5 10 13-18 2 17 4-8 17-11 17 17 1 4 2 0 36-16-12 21-1 15-7-10-4 3 0-6-9 14-2-8-1 8-6-4-8-11-8 0 0 0-3 3-7 7-1-7-5 14-2-7-2-7-1-8 0 5 0 16-3-9-1 7-6-2-1-13-10 3-6 2-2 8-2-4 0 9-1-21-2 11-3 2-6-9-1 3-6 14-5-20-6 2-7 6-3 1-2 12-5-9-4 9-4-4-5 2-33 11 8 6 7 6 1-2 7-12 4-1 4-3 5 6 3-6 6 19 4-15 1-1 2 15 0-8 2 5 1-6 4 12 5-15 12 6 0-7 1 10 4-12 1 10 1-2 0-5 6-8 4 20 1-20 1 19 1 1 2-7 6 4 1-8 5-1 2 3 3-6 1-4 2 16 1-14 3 11 2-11 3 8 1-8 1 16 0-5 2 7 0-4 1-14 3 3 1-6 5 3 0 9 2 5 2-4 0-4 5 11 10-12 0-3 2 13 4-5 0 7 3 0 11-10 0-9 6 19 5-17 1-3 11 16 123 26-138 1-1-4-16 3-3 5-3-5-2-3-3-4 0 9-2 0-6-15 0 18-3-9 0-10-3 10-5 4-2-10 0 7-3 2-1 1-2-9 0-1-3-6-1 21-1-21-6 21-3-5-1-9-7 2 0 6 0-12-1 11-1 4 0-14-2 0-1 2-9-1-1 11-3 5-3-15 0-6-2-1 0 21-1-18 0-2-1 4-1 17-1-16-3-3 0 18-2-1-1-14-3 11-1 0-3-8-3-4-6 6-2 10-2-7-2-4 0 4-4-6-5 9-1-9-2 10-1-17-6 12-3 2-15 3-10-18-8 33 5-3 8 16 1-11 0-3 3 7 7 4 3 3 2-1 13-13 7-2 5 8 0-11 2 19 0-21 1 6 2-2 1 13 1-10 0-2 2-2 3 8 8-10 4-3 0 14 2-10 2 14 0-7 6 12 2-17 1-4 1 4 3-3 0 5 2 12 1-15 2 10 1 5 1 0 0-16 0 15 1-16 0 7 4 1 1 5 0-16 1 4 0 18 1-9 2-10 2 5 1 11 2 4 1-16 2-2 0 7 2-1 0-7 5 4 1-4 2 10 0-7 0-2 2 17 0-8 1 3 1-12 1-5 1 10 2-6 3 2 1 1 9 4 2 9 2-5 2-8 3-7 2 2 6 9 4 10 8-17 7 18 2-22 10 5 7 16 134-8 43 33-132-6-55-10-1 8-14-2-8 0-1 11-2-2-1-13-16-5-1-2-1 21-4-19-3 1-1 6 0-7-2-3-2 21-2-11-1 9-1-18-2 14 0-7-6 9-4 6-2-20-2 0-2 6-3 2-1 1-4-3-2 1-7 12-4-21-4 9-3 3-3 5-4 5-1-3-1 0-1-19-2 4 0-5-1 18-1 1-2-7 0 8-1-17 0-2-1 6-2 2-1-6-1 1-4-1-1 5-5-2-4 2-12 5 0-6-2 0-3 10 0-3-1-12-1 0 0 11-3-1-5 7-7-8-112 27 54 1 28 3 33 3 14-20 9 2 9 19 2-10 3-5 15 0 5-6 0-1 3 0 2 21 8 2 3-19 1 14 2-17 2 2 12 9 6-6 2 3 3 10 2-10 1 2 4-5 1 9 1-12 2 16 1-5 1 0 14-13 0 0 14 9 8 2 0 5 104 4 27 19-33-16-114 17-4-13-5-1-7-2-36 10-6 5-12 4-1 3-3-9-3 4-5-6 0-7-11 1 0 16-2-5-6 1-7-16-5 2 0 1-7-3-15 10-2 3-8 6-17-7-31-4-6 4-52-2-22 28 35-14 32 16 57 3 2-19 25 20 3-16 11 11 5 0 14-9 8-5 2 1 1 5 6-2 3 4 13 7 5-15 8-2 23 12 1 5 183-3 23-1 31 23-62 4-28-12-181 1-34 8-4 2-22-14-11 1-33 1-6-4-20 1-7 1-35 19-7-6-47 7-30 1-12 15 7-7 170 0 17-6 17 13 133-5 31 3 48-11 7 2 13-1 92 11-30 18-110 4-35-8-24 25 81 30 43 32 110 3"/>
<rect class="bd" x="0" y="0" width="321.3" height="327.1"/>
<path class="tk" d="M58.2 327.1v5M139.8 327.1v5M221.4 327.1v5M303.0 327.1v5"/>
<text class="tl" x="58.2" y="349.3" text-anchor="middle">-40</text>
<text class="tl" x="139.8" y="349.3" text-anchor="middle">0</text>
<text class="tl" x="221.4" y="349.3" text-anchor="middle">40</text>
<text class="tl" x="303.0" y="349.3" text-anchor="middle">80</text>
</g>
<g transform="translate(94.4 984.9)">
<path class="mn" d="M56.3 0V328.0M135.1 0V328.0M213.9 0V328.0M292.7 0V328.0M0 295.8H321.3M0 207.0H321.3M0 118.2H321.3M0 29.4H321.3"/>
<path class="mj" d="M16.9 0V328.0M95.7 0V328.0M174.5 0V328.0M253.3 0V328.0M0 251.4H321.3M0 162.6H321.3M0 73.8H321.3"/>
<use href="#gC"/>

<path class="mbC" transform="scale(.5)" d="M352 29l-12 22 46 35-13 6-2 0-3 2-3-6-5-4-2 9-3 0-1 2-3-9-4 6-5 2-2 1 0 0-3-5-2-4-10 8-4-4 2 17 1 4 5 0 0-2 1-7 1 14 2-8 0-10 1 9 0-2 2-8 3 9 0 2 1 5 1 1 1-6 0 9 1-4 0-15 0 5 1 14 1-12 3-9 1 4 1 17 1-8 0-7 1-2 0 19 4-9 0-11 1 9 0-2 1 13 0 0 1-14 0 10 1 4 2-12 1 7 0 2 1-15 0 7 1 2 2-13 1 9 1 12 2-5 2-4 0-12 1 7 0 10 5-16 4 20 0-11 0-6 1 14 1 1 3 0 7 24-9-15-6-2-2 0-2 16-3 3-1-17 0 8-4-13-1 2-2 5 0 0-4-4-1-2-1 4-5 16-2-2 0-14-1 9-3-2-1-7 0-1-8-2-2-1-5 22-4-22 0 12-2 5-8 24 6-9 13-7 4 2 8-3 5-1 0 14 0 3 1 1 0-1 3 3 3-4 0-1 1-3 7 8 4-3 3-15 1 3 1 17 0-22 10 5 0 16 1-2 0 1 2-9 2 4 3-8 1 8 5 19-9-10-5 5-7 7-1-12-1 9-1 1-2-9 0 8-3 2-9-7-1 17-4-21 0 11-1-5-1 14-4-16-2 7-1-10-1 10-1 1-6 11-7-17-2 8-1-14-69 43 10-9 9-6 12 0 3 9 7 3 2-1 10-7 9-8 5 6 4 9 3 1 7-5 0 7 1-2 2-16 4 4 1 0 3 15 5-19 2 8 0-1 0-5 1-1 8 16 3-17 4 13 18 10 1-14 3 2 0-3 4-7 3 5 4 7 1-4 0 12 6-3 41-7 10 13-7 2-13 15-24-2-18-3-2-2 0-4 0 16-4-6-1-15-4 12-4 7-7-10-8-6-6 18-2-20-2 3-5 18-2-18-2 14 0-7-1 6-3 5-1-14-3 3-5-8-7 17-1-12-1 13-25-15-5 0-16 2-8-2-2 14-6-12-6-8-48 18-6 27 14-17 5 5 9 5 24-6 3 7 7-15 2 3 1 15 16-9 2 1 6 12 24-20 9 5 5-4 6 1 2 1 3 15 1-13 2 4 4 9 7 1 3-17 4 5 1 8 10-2 1-3 7-9 3-3 11 8 1 4 2 7 1-6 23 9 11-19 24 9 4 3 4 6 2 12-2-7-6 0-2 8-7-8-7 6-3 5 0-6-5-2-11 10-2 1-2 0-8-12-2 12-7-2-3 8-9-19-6 4-10 0-4 9-6-8-4 13-3-14 0 15 0-14-7-8-3 13-1 4-3-10-4-3-2 17-5-9-4-2-3 6-4 3-3-3-5-13-7 11-3-15-1 4-1 9-2-11-5 15-1-4-1 4-5 5-1-9-5 4-4-7-3 12-5-6-2-8-25-6-12 5-3 33 7-16 7 6 9-1 4 1 2-4 0 14 14 3 0-14 8 4 1 6 2 8 6-1 6-13 4 10 0-7 0 0 3-6 4-6 2 23 8-3 2-3 11-4 1-2 1-9 0 6 3-5 1 16 0-9 0-1 3-1 7 3 1 9 4-1 6-4 0 8 4-13 3-9 11 7 0 12 1-19 3 4 1 13 9 0 2 4 4-20 1 18 6-9 4 8 8 1 2-17 8 14 8-15 0 1 16-3 2 2 1 0 23 11 1-9 7 12 27 3 33 24-40-12-20 15-14 0-18-12-13 9-1-8-14 10 0-20-7 18-3-2-1-6-1 0-4-5-8 9-3 5-1-8-1 9-5 2-8-7-2 1 0-10-3 4-1 4-3 1-1-9-3 9-1-8-6-1-1 1-1 13-1 0-2-15-1-3 0 7 0 5-3-8-4 13-3-17-4 0-2 12-3-11-2-1-1 14-10-3-7-8-3 12-3 4-2-5-1 3-1-12-4-6-2 11-1-9 0 11-15 3-3 2-3 0-1-14-7 17-13-11-4-2-3 9-20-15-32 40 18-3 31-14 1 14 7 4 20-9 14-8 1 4 3 4 11 7 2-10 8 11 14-1 1-9 2-8 4 8 4 5 1 8 6-8 4-7 3-1 8 3 8 7 2-3 10-3 7 2 7-7 1-5 1 10 0 3 2-12 3 5 2 3 4 0 1 1 2 5 2-8 1-6 4 6 8-3 17 14 0 4 14-5 9 3 2 0 5-8 3-8 0 16 4-7 2 0 3 9 1-3 1-2 13-5 2-7 1 6 4-10 3 18 11-13 1-2 17 10 8 8 4-22 10 14 1 7 65 23-10-11-14 0-3 9-6-16-2 15-1-8-1 5-2 0-5 6-2-2-1 3-2-13 0-9-1 6-1 12-2-11-2 7-2-5-1-4-5 18-1-13-1 4 0-6-2-6-1-1 0 8-1 13-3-13-2 9 0-18-3 15-3-3-1-8-2-2 0 14-2-4-7-9-1 12-1 3 0-14-3 0 0 18-1-10 0-12-1 22-1-8-1 5-2-2 0-5-2-7-1 0 0 8 0 5-1-18-5 1 0 22-5-9-1-9-3 7-1-6-2 15-2-12 0-3-8 8-1 0-2-6-2 0-4 9 0-8-7 12-3 2-4-7-2 0-3-7-4 6-5 2-7-1-4-2-17-6-3 12-5 2-1-3-11-4-3-6-1 3-12-1-1-2-15 5-3-6-2 9-3 6-6-4-1-5-4 1-3 3-12-11-1-2-29 18-1-6 0-7 0 13-2-8-6-3-1-9-1-1-1 8-7-8-10 18-4-6-2-2-13-1-7-11 0 11-2 4-10-7-3 6-21 2-7-15-23 31 7 14 21-9 4 6 1 3 5-13 4 8 4-1 9-7 3-9 2 18 15 3 1 0 4-5 2 2 2-4 2 9 1-13 4 3 8 5 0-2 0-3 1 7 12 0 2-9 2 3 0 9 8-11 5 11 6-1 5-10 3-10 1-1 1 11 2 10 8-17 2 0 7 4 1 12 2-2 11-2 4-14 4 11 2 8 9-16 6 14 17-18 7 9 16 3 4-5 11-9 14 2 21 6 2-3 5 14 2-6 4 8 0-21 3 3 1-1 1 6 0-5 2 3 1-3 0 14 3-3 5-3 1 7 4-5 3-5 4-3 1-3 1-2 2 23 0-12 2-9 1-2 0 7 1 9 0-4 1 11 2-10 2-6 1 10 0 0 1-16 2 13 0-6 3 6 3-10 0-3 1 19 7-14 1 7 3-2 1-5 2 6 0 1 1-4 0 4 1-4 1-9 0 17 4-15 3 9 2 1 1 5 2 5 11-8 1-2 2 7 8-10 6 4 2-8 1 13 4 0 0 4 4-17 14 17 3 13-5 1-8 5-8 4-4-12-3 11 0-16-4 17-1-16-1-4 0 16-3-11-7 9-7 8-2-20-2 6-3-9-9 5-6 5-5-2-1 0-2-2-9-4-6 3-2 2-8 8-4-1-3-10-6 4 0 4-5 9-1-20-5 11-47-3-2-7-21 0-15 0-4 0-4 18-10-3-3 5 0-15-1 6-10 9-8-13-6 3-11-6-7 6-13 10-4-8-2 9-3-7-1 1-2-16-1 16-1-2 0 5-3 2-1-5-1-3 0-14-5 2-1 18-1-4-1-16-1 19-2-2 0 4 0-4-1-13-2 19-5-17-1 2-2-4-3-3 0 18-2-3-3 4 0-18-2 15 0-2-4 7 0-19-1 15 0-1 0 0-1 5-1-21-2 9-9 13-3-12-13 3-1-2-1-12-1 1-3 5-2-1-1 12-3-6 0 1 0 5-2 6-2-14 0 1-2 11 0-11-1 9-13-15-1 2-4 6-8 2-1 4-4 0-3-18-1 23-8-22 0 4-1 15-11 0-5-1-3-6 0 6-3 4-1-16-4 7-5 6-4-6-26-5-29 29 23-9 3 7 0 0 3 7 4 1 1 0 6-13 10 14 4-9 3-6 1 1 1 10 4 4 2-1 8-1 3-6 3-8 1 9 2 8 1-5 1-17 3 22 0-2 4-2 2 1 0 0 0-7 1 10 1-16 1 17 2-2 4 1 0-16 4 4 1-10 3 20 0 2 3-12 1-2 0 3 1-6 3 6 7-7 1 12 3-15 0 20 1-2 6-19 4 3 2-1 1 13 0-7 1 6 1-12 4 17 1 2 2 1 2-17 3 12 0-13 11-3 4 5 2-2 0 18 1-7 4-7 3 13 3 1 1-20 5 12 2-11 5 3 4 5 0 12 3-9 0-9 3 17 0-6 1-4 0 7 0-9 1 9 0-19 2 21 3-6 0-8 1 1 0-8 2 15 1 1 2-3 2 8 1-21 1 11 0-6 1 15 2 3 1-18 1 15 12-4 3 5 1-12 3 3 4 5 5-12 12 5 2 3 4-12 2 12 4 2 7 3 11-4 8-14 0 14 3 7 125-15 24 0 11-1 6-1 1 6 5-3 11-6-137 29-30 13-25-5-11 1-9-8-1 3-3 1-1 5-7-5-4-5-14-4-1 11 0-3-5-6-1 4 0 8-7-6-1-5 0 1-1 8-2-12-9 11-2 3-2 7-4-23-4 11-1-1-1-7-10-3-18 9-1-1-7 1-1-9-3 1-3 15-23-3-5-1-2-1-8-2-9 2 0-5-4 2-1 2-3-7-3-2-3 21 0-2-2-4-4 4-1-16-1 5 0 6-3 2 0 3-2-2-1-17-3 14-4 4-5-9-4-7-1 14 0-9-8 1-2-3-4 4 0-5-2-5 0 9-1 1-1-9-1 2-8 14-2 4 0-21 0 9 0 6 0 1-4-10-2 16-1-4 0-1-1-1-4-16-1 3-1 16-1-5-3 1-3 0-1 2 0-2-1-11-1 15-1 2-2-18-2 6-1 7-1-9-1-6-2 18-2-9-2 9 0-7-6 4-3-9-4 10 0-4 0 3-1-9-2 5-2-3-11 6-15 3-5 5-36 15 2 3 2 4 1 1 1 1 1-7 1 6 4 1 0-9 2-6 1-1 0 11 1 1 0-3 0 7 1-2 1-7 2-4 3 5 7-4 0 0 0 1 0-5 1 4 0-3 3 0 1 13 2-6 1 0 1-11 2 19 2-9 1 0 0 8 5-16 1 12 0 4 3-21 1 12 0-2 1 0 4-4 1-1 1 12 0-13 3 14 0-7 1 5 0-9 1 11 0 2 0-12 0-9 1 5 1 4 3-1 0-4 2 1 0-3 1 9 1 3 0-12 1 10 1 7 1-8 1-4 1 0 3 12 5 3 1-1 1-18 2 10 1 8 0-4 1-1 0-4 1-2 0-3 3 10 0-5 4 1 1-9 1 19 1-7 1-9 7 1 1 9 3-14 0 1 4 1 5 5 6 6 2-14 6 0 3 9 2 5 4-6 12 0 2-7 0 14 11-1 4 3 13-10 1-9 7 22 4-17 5-3 4 4 23-2 15 15 8-14 0 7 8-12 8 19 4-12 0 3 3-6 5-1 4 8 3-11 0 15 9-7 2 14 4-2 0-14 2 8 8-9 0 17 1-13 3 3 3 9 7-12 4 4 3-2 3-4 6-2 5 12 3-12 19-3 8 6 8-7 0 18 12-11 14-2-30 27-24-1-18-8-1 18 0-13-3-4-1 21-7-14-8-1-10 8-1-12-4 10-7-3 0-2-9-2-2 15-7-5-2-13-2 17-27-20-29 7-89-7-15 3-10 9-8-9-2 6-5-7-8 6-15 7-1 2-2 4-1-20-1 20-2-7-6-7-6 6-2-12 0 10-3-9-1 13 0-12 0 6-1-2-3 1-2 6-2-5-3-1-4-5-1 7-2 3-1 2-3-8-1 3-1-3-4-5-1 2 0 11-2-4-3-11 0 11-2-5-1 12 0-13-2 5-2-8-1 2 0 10 0-14-3 3-1 7-1-6-1 1 0 6 251 15 73 13 6 8 3-2 4-9 12 12-49 42 19-17 17 3"/>
<rect class="bd" x="0" y="0" width="321.3" height="328.0"/>
<path class="tk" d="M16.9 328.0v5M95.7 328.0v5M174.5 328.0v5M253.3 328.0v5M-5 251.4h5M-5 162.6h5M-5 73.8h5"/>
<text class="tl" x="16.9" y="350.2" text-anchor="middle">-40</text>
<text class="tl" x="95.7" y="350.2" text-anchor="middle">-20</text>
<text class="tl" x="174.5" y="350.2" text-anchor="middle">0</text>
<text class="tl" x="253.3" y="350.2" text-anchor="middle">20</text>
<text class="tl" x="-11" y="256.9" text-anchor="end">-25</text>
<text class="tl" x="-11" y="168.1" text-anchor="end">0</text>
<text class="tl" x="-11" y="79.3" text-anchor="end">25</text>
</g>
<g transform="translate(426.9 984.9)">
<path class="mn" d="M56.3 0V328.0M135.1 0V328.0M213.9 0V328.0M292.7 0V328.0M0 295.8H321.3M0 207.0H321.3M0 118.2H321.3M0 29.4H321.3"/>
<path class="mj" d="M16.9 0V328.0M95.7 0V328.0M174.5 0V328.0M253.3 0V328.0M0 251.4H321.3M0 162.6H321.3M0 73.8H321.3"/>
<use href="#gC"/>

<path class="mbC" transform="scale(.5)" d="M373 190l-58-13-4 7-7 7-13-4-9-9-13 0-1 13-25-2-12 2-60 4 13 6 12 0 36-6 7 7 33-5 20-3 5 7 16 14 22-10 11-5 3 15 1-5 33 0 3-5 2 6 6-19 82 39-39 3-13 5-3 0-1-22-3 13-5 4-21 5-1-13-5-2-21 11-27 3-1 0-11-20-3 16-4-11-1 7-2-11 0 19-5-4-7-4-6 9 0-17-4 0-4 10-10-10-4 5-3 3-6-11-5 5-1 14-3-21-15 10-4 1-2 10-9-3-1-3-3-10 0 10-2-12-15 14-25-8-42 1-13 29 39 2 1 1 7-13 18 0 7-6 1 19 4-1 5-16 7 4 2 9 5-8 5-5 3 20 1-12 0 4 1-9 2 18 1-18 0 15 1-1 9 3 4 0 2-4 8-12 3 15 3-14 1 5 1-2 5-2 1-7 6 0 0 14 9-2 8 6 7 4 1-21 0 9 6-10 2 20 6-9 1 11 0-18 2 7 2-7 0 11 0-2 1 9 4-13 0-7 1 3 0 12 3-16 2 4 1 9 5 6 5-5 3 7 4-2 1-7 0-1 3-7 1 14 0 1 7-1 3-3 0-6 4-3 2 3 2 0 1 12 1 0 2-14 1 4 0 8 2-16 2 11 6-1 4 8 3-1 4 0 0-4 1 4 2-3 1 1 3-14 2 2 15 5 44 5 1-1 1 5 5-10 13 8 53 18-32 7-11-3-1-3-29 0-2 7-1-21-3 2-2 18-9-15-1 3-6-9-1 0-11 3-1 7-2-4-1 5-1 4-8 5 0-4-1-6-2 4-6 9 0-11-4-4-2 8-1 0-8-10-1-4-9 6-6 13-6-10-1 8-3-11-4 2-3 5-1-3-3-5-4-3-6 8-5-1-1-8-1 7-2-6-4-1-3-1-6 13 0 5-1-1 0 2-1 2-2-1-1-3-4-3-1 4-4-16-2 10-1-4-3 1-2-8 0 17-2-5 0-13-3 17-3-16-1 10 0-3-3 0 0-5 0-1-3 15-1-12 0 12-1-17 0 0-3 21-1-12-4 12-2-15-4 2-3-8-13 14-1-11-1-3-5 1-1 19-3-18-2 18-6-3-6-9-2 8-3-14 0 6-4 7-1-14-19 11-2 0-8 9-2-9-2-10-13 2-3 11-6-6-1 7-1-4-12-14-8 18-20 29 8-11 8 7 1-14 20-2 9 11 4 3 2-14 3 7 8 4 4 5 1-11 1 2 2-10 4 16 6-1 5-15 4 14 1-10 13 8 1 9 3-17 4 16 3-15 1 2 1-4 2 10 5 10 2-4 1-2 1 2 1-7 1 1 3-11 1 19 1-19 3 19 0-8 5 8 1-15 6-3 0 17 7 0 0 0 2-19 2 8 1-4 1-1 0 16 1 1 1-2 0 4 2-20 0 15 1-7 0-9 1 3 0 5 0 13 3-18 2 12 5 4 1-16 3-1 0 19 1-22 1 20 1-4 0-3 2 5 2-3 0-7 0 5 1-5 1 14 1-7 1-7 2 0 0-4 2-1 0 1 4 8 0-5 1 15 3-20 3 5 3 3 0-8 1 20 2-23 3 21 0-3 1-18 3 14 1-13 4 18 3-3 2-1 2 1 7-11 3 10 9-3 2 8 2-13 1 15 1-7 0-11 0-3 2 22 4-17 0 9 0-2 2 0 4 7 5 0 4-20 0 3 11 5 1 11 3-10 0 10 0-5 1 7 2-3 0-17 2 15 6-1 6 1 1 2 7-18 1 2 1 4 0 9 4 4 19 4 9-1 5-15 3 4 0-5 2 1 16 11 2 4 1-14 11 31 0-6-7 7-1-5-8 0-1-6-8-2-15 13-6 5-7-13-2 12-4-19-17 9-4-5-6-5-2 8-5 11-5-17-4 18-4-4-7 1-5-9-3-2-1 5-7 8-2-18-1 10-1 11-6-3-3 1 0-8-2-6-2 2-2 3-1 2-1 7-3-10-6 6-4-12 0 5-1-3-1-2 0 3-2 12-4-3-1 1-5-2 0-15 0 10-3 1-2 5-5-13 0 5 0 3 0-3-3-1-1 0-4-5 0 11-1-9-2 18-1-21 0 1 0-2-1 5-1 15-4-13 0 3-1-3-4 16-3-4 0-7-1-10-1 19-1-20-1 13-1-1 0 1-1 4-2-5-2 3 0-11-2 5-1-7-2 3-1-5-4 11-2-6 0 8-2-1-2-8-1 3-2-3 0 4-3 2-1 5-6-1-2-10-4 4-3 6-1 2-2-6 0 7-4-5-1 0 0 5-3 5-4-16-4 15-1-6-1-12-6 6 0 4-1-8-2 11-3-1-2-4-3-6-8-2-7 16-3-5-3-3-3 9-1-9-5-8-8 5 0-5-8 17-1-20-1-1-8 17 0 6-5-20-41 40 0-8 20 12 15-20 6 16 0-13 10 15 5-12 14 11 3-16 1 10 2-14 3 8 4 10 4-3 1 4 0-12 1 1 5 11 3-18 7 7 1 7 1-15 5 19 5-7 7 11 1-11 1 6 0-8 3-9 1 14 1 7 2-5 4-2 5-3 6-4 2 1 0-8 10 7 2-5 2 2 1 10 2 3 1-14 1 7 2 3 1-7 1 14 1-8 3-10 0 12 2-6 6 2 1-2 1 11 1-10 3-3 5-2 2 8 1 3 3-4 2 0 1 11 2-8 0 4 0-5 5 3 0-1 5-14 1 1 7 11 2-4 2 3 4-3 5 13 4-5 1 0 2 5 1-4 1-4 2-1 3 9 2-1 0-2 4-8 2-2 8-1 2 3 2-6 0-1 1-2 5 16 5-6 7 1 2-14 4 22 6-7 2-5 4 10 8-19 2 13 3-7 5 9 1 1 2-15 9 12 1 3 2-6 2-9 11 3 5 18 1-15 11-1 1 5 6 0 10 5 11 6 27-3-18 26-24-21-10 19-4 3-3-4-6-9-4 12-22-4-4-1-9-16-2 10-6 12-6-23-5 5-3 5-2 3 0-9-14-1-2 5-5-3-2-2 0 1-3 12 0 0-3-4-1 5-1 5-5-6 0-6-2-1-5-9-2 1 0 22-5-18-2 8-8-12 0 5 0 0-3 10-10 4-4-2-1 1-2-3-1 2-3-15-5 6-1 2 0 5-2-4-1-3-1-3 0 5-2 10 0-11-2 10-4-3-1-1-1 0-18-14-2 7-1-3-3-6-2 17-1-14 0-3-1 10 0-8-4 13 0-4-2-2-6 1-5 2-7-7-4 3-2 6-4-10-1 0 0 8-2-11-4 18-1 1-1-4-2-10-1-2-4 14-1 4 0-18-3 9-4-6-5 6 0 2-1-14 0 1-2 3-2 18-2-22-3 7-5 12-12-14-3 14-9-5-6-13-4 4-6-1-4 6-6 8 0-4-38 5-4 27 60-15 1 13 4-13 1-6 20 19 3-6 3 6 0-9 36 5 8 4 5-21 8 9 1-4 2-5 6 10 3 8 4-17 2-1 7 4 4 5 1-5 2 10 2 5 8 3 7-16 5-1 4 0 1-3 0 20 14-8 15-2 5-11 2-1 7 20 1-18 4 0 0 11 1-9 3 13 0-9 3-5 6 16 30-14 3 0 0 4 1-8 5 9 5 0 18 9 64-19-40 38-18-3-17-9-19 0-4 14-16-11-4-3-82 14-4-11-82 16-52-10-24-8-15 3 73 35 71-17 109 1-208 35"/>
<rect class="bd" x="0" y="0" width="321.3" height="328.0"/>
<path class="tk" d="M16.9 328.0v5M95.7 328.0v5M174.5 328.0v5M253.3 328.0v5"/>
<text class="tl" x="16.9" y="350.2" text-anchor="middle">-40</text>
<text class="tl" x="95.7" y="350.2" text-anchor="middle">-20</text>
<text class="tl" x="174.5" y="350.2" text-anchor="middle">0</text>
<text class="tl" x="253.3" y="350.2" text-anchor="middle">20</text>
</g>
<g transform="translate(759.4 984.9)">
<path class="mn" d="M56.3 0V328.0M135.1 0V328.0M213.9 0V328.0M292.7 0V328.0M0 295.8H321.3M0 207.0H321.3M0 118.2H321.3M0 29.4H321.3"/>
<path class="mj" d="M16.9 0V328.0M95.7 0V328.0M174.5 0V328.0M253.3 0V328.0M0 251.4H321.3M0 162.6H321.3M0 73.8H321.3"/>
<use href="#gC"/>

<path class="mbC" transform="scale(.5)" d="M236 65l13-1 23-4 14 1 5 3 9-4 76 24-11 4-4-1-3 6-19 2 0-4-5 3-6-3-4-6-3 3-2-6 0 2-4-4 0-3-1 14-1-8-3-1-1 11-3-14-9 15-1 0-3-1-5-20-6 9-3 9-3-1-15 1-3-12-1 5-5 1-16-2-1-11-3 23-9 0-1-5-7-10-4 12-1 0-9-2-4-16-4 10-1 11-15-22-15 43 2-1 41-4 9-2 2 9 2-8 2-6 2 6 6 6 1 2 0-16 1 1 7 2 12-5 1-3 2 9 2 12 4-18 3 5 1-4 8 15 3-3 1-2 2 0 1 7 4-10 0-4 0 7 2 2 1-16 2 0 3 20 1-6 0-13 2 3 1-1 1 6 0 3 0-5 2 7 0-12 2 2 1-1 7-4 4 13 0 10 1-1 9 0 2-2 3-17 2 7 1 12 0-8 4 7 1-7 4-5 5-3 3 0 1 4 4 2 1 8 3-8 4 3 1 7 0-17 1 15 2 0 4-6 4-2 2 9 2-8 2-8 2 12 11-8 1-7 1 20 26-3-3 16-2 9-5-2 0 2-1 1-6-21-3 23-8-8-4-10-2 5-8 5-1-9-1-1-3 10-5 6-1-19 0 17-3 1-3-7-4-11-5 18 0-6 0 9 0-13-1 11-3 0 0-9-3-6-4-5-2 11-2-1-3 10-1 1 0-11-9-11-1 3 0 2-5 4-1 2-6 7-1-18 0 11-5 4-8 0-1-15-4 7-2 8-4 2 0-16-1 1-1 15-2-11-4 2-3 14-3-4-4-12 0 9-2-11-1 14-3-9-1 6-1 5-1-20-2 3-5 13-1-12-2 2 0 17-1-6-4 4-2-15-11-5-2 18-2-8-9 9-2-15 0-3-1 9 0-3 0 4-8 5-14 1-13-12-5 10-3-9-10 9-3 5-12-13-21 7 23 21 6-12 16 6 0 16 4-19 0 17 17 3 0-4 4-6 0-13 1 11 3 9 0-1 5-8 2-5 2-5 3 17 3-12 0 8 1-7 1 5 1-12 3 4 1 2 2 9 3-7 2-2 2-2 2-1 4 13 1-10 2-3 1 14 0-13 3 17 3-10 3-4 11-5 1 20 0-2 1-11 0-7 0 15 3-12 3 14 1-5 0 6 0-17 1 3 1 5 2-1 1-3 0-1 6 3 0 1 4-1 3 14 3-12 4-1 1-7 1 4 2 14 1-5 1-12 7-1 3 18 4-18 4 17 1 3 2-20 5 7 5 8 5-12 1-1 0-2 3 20 0 0 0-18 3 9 3-11 3-3 1 17 1-9 2 4 3-9 1 13 3 7 2 0 6-21 3 12 1-10 5 15 3-14 3 14 1-6 2 9 3-12 0 12 1-18 1 19 2-14 0 1 2 1 3 3 1 2 3-7 3-7 2 16 11-11 1-5 9 16 2-6 7 3 3 7 7-14 1 15 4-12 1 12 97 21-90-4-7-9-5 15-1-2-2-5-2-13-3 16-1-4-1 9 0-2-4-18-1 4-4-7-3 21-3-14-4 12-3-16 0 6-1 11-4-7-10-4-5 1-1 7-4 0-5-2-7 4 0-17-6 11-1 4-2-3-1-10-6-3-2 3-17 2-1 17-2-23-2 6-3-4-3 14-2-14-2 13-1-11-3-1 0-3-2 2-2 1-1 4 0 1-1 3 0 2-8 3-4-9-1-5-1 7-1 0-1-6-3 9-2-4-11 12-1-16-4 4-4 3-1-11-2 13-1-2-3-1-3 5-1-14-1 4 0 8-5-8 0 18-2-11 0-4-1-5-2 6 0-3-1 7 0 1-4-2-4 3 0-4-4-2 0-5-2 8-1 10-6-17-1 12-4 3-3-6 0-12-3 1-1 7-9 11-1 0-1-19-3 5-1-3-5 17-6-11-4-8-6-2-8 13-5 7-3-15-28 12-12-17 2 38 41-3 4 2 2-8 1 8 7-1 1 0 0 3 8-13 2 3 1 4 1-8 1 17 2 1 3 1 0-15 7 3 0-6 3-1 0 15 2-8 3 5 2-13 2 13 0-12 1 16 1 1 2-7 1-4 5 15 3-16 2 9 0-3 0 10 3-10 3-7 0 13 1-2 0 7 3-1 2-13 1-3 2-2 0 1 1 16 3 0 0-2 1-1 2 0 0-10 2 12 2-10 1-1 0 1 1 7 2-13 1 19 1-14 1-9 2 4 1-2 4 2 2 19 0-11 1 9 0 2 1-3 2-20 0 15 3-1 1-12 2 18 2-4 3-6 1 7 0-17 1 12 0-11 1 11 0 11 0-13 2 13 0 0 2-19 1 16 3-13 1 10 4-10 1 13 1 2 3-6 10 7 2-2 3-11 5 12 0 1 0-5 1-1 1 2 2-12 1 14 0-14 0 10 1-13 0 9 0-12 0 3 1 13 3 0 0-9 1 9 1-8 1 14 0-5 2 3 5-2 1-1 3 2 1-2 1-6 4 11 0-12 1 7 1-6 1 4 0-8 1 1 1 5 3-13 4 10 1 0 1 8 4-12 5 11 1-18 0 18 1-5 1-4 1 0 3 12 2 0 4-11 2-8 1 18 0-14 4 12 1-3 2-10 4 18 0-2 3-11 3-9 1-1 4 22 5-8 2 1 4-5 12 12 4-5 5-4 1-12 1 4 5 6 1-4 12 7 2-10 5 15 2-2 7 1 2 3 7-3 6 0 8-14 5 2 14 2 1 7 25-1 1 33-23-15-6 4-24 8-2-10-2 7 0-11-1 17 0-17-2 14 0-14-1 6-10-9 0 6-2-2-2 5-2 9-3 1-7-16-6 2-2 10-4 3 0-2-1-17-3 11 0-13 0 17-1 2 0-13-2 2-1 13-6-4-1-12-1 13 0 0 0 4-1-2-3-2-1 0 0 4-1-13 0 1-1 2-3 4-2 3-1-15 0-2-2 6 0-3-1 13-1 3-1-13-2 8 0-14 0 18 0-12-1 6 0 2-1-13 0 11-2-14-1 3-1 11 0 3 0-12-1-3 0 7-1 8 0-4-2 6 0 3-2-7-1 3 0 5-1-12-1 7 0-1-2-4 0 3-1-15-3 21 0-6 0-6-1 1 0 2-1-1 0 6 0-17 0 12-1-3 0-5 0 14 0-10-1-6-1 4-1-1-1 15-3-5-1-15-1 22-1-16-1-3-1 14-1-5-1 10 0-21-1 9-7 7-1-12 0-3-1 6-2-1 0 14 0-12 0 7-2-8-1 11 0 3 0-11-1-4-1 5 0-2 0-2-2-3-1-6-1 19-1 2 0-19 0 16 0-11-1-6 0 2-1 17 0-4-1 0-1-16 0 14 0-3-1 4 0 4-1-13-1 5 0 4-1 6-1-19-2-2 0 7-2 0 0 14-1-1 0 3 0-20-1 19 0 1-1-22-1 10 0 3-1 2-1 0-1-8-1 12-1 1 0-8 0 8-2-13 0 9-2 1 0 2 0 3-1-13-1-3 0 8 0 4-2-10-1 0-1-2 0 15-1-6 0-14 0 9-1-11-3 16 0 6-3-7 0-8-1-6 0 2 0-3-1 7-1 4 0 5 0-10 0 0-2 3 0 3 0 9-2 0 0-21-1 13 0 10 0-22-2 20 0-13-1 7 0-11 0 12-1 4 0-18-1 10-2-1-1-5-1 14-1-17-2 9 0-1-2-8-1 2-2-2 0 16-1-13-1 3 0-4 0-4-1 22-1-12 0 4-2-15 0 8 0 7 0-14-1 7-2 8 0-2-1-11-5 12 0 8-1-7-2-15 0 17 0 2-1-3-1-3 0 3-2-1 0-7 0 5 0 0 0-8 0 14-1-8-1-11 0 14 0-13-4 6-1 12 0-4-1-10-1 9-1 2 0-8 0 6-1-12 0 17 0-19-1 16 0-7-1-1 0-3 0 16-1-14 0 15 0-13-1 6 0-8-1-3 0-2-1 19 0 1-1-11 0 3-3 8-1-3 0-17-1 18-1-11 0-4-1 15-1-2-1-1-1 1-1 4 0-6 0 4-1 0 0 2-1-5 0 2 0-7-1 10 0-12-2-7-1 9-1-1-2-6 0 3-1 5-1 4 0-11-1 0-1-4 0 4-1 4-2 3-2 8 0-22-2 16-4-11-1 17 0-22 0 19-3-2-1-11 0 13-5-16-4 18-1-12-3-7-2 21 0-2-1-14-1-1-1 8-1-10 0 17-4 0-3-12 0-9 0 4-2 8 0 11-4-11-5 7-2 1 0-14 0 3 0-6-5 20-8-10 0-10-11 12-1 6-14-19-6 10-22 17 10 6 2-1 26 0 1-6 4 15 7 4 2-14 4-3 0 4 3 13 0-14 2 2 1 11 2-5 2-15 2 19 2-11 2 1 2 10 0-18 2-2 3 1 6 4 1-4 2 14 1-9 0 6 0-3 3 5 1 6 1 0 0-6 0-7 1 14 2-6 0-4 3-8 1 18 0-14 0-4 1 4 0 5 0-12 0 18 1 4 0-13 1-10 0 6 1-5 2 18 0 1 0 2 1-7 1-1 1 1 2-12 0 12 1 1 0-13 1 9 1-5 0-1 3-3 1 16 0-19 2 3 1 18 0-19 0 5 0-4 1 15 2-6 0-7 0 15 2-7 1-13 0 11 3 7 0 1 1 0 0 4 3-11 1-10 0 13 0-12 2 0 1 3 0-5 1 15 0 0 1 1 1-5 0-8 1 4 0-2 2 10 0 0 1 5 1-11 0 10 1-19 1 0 1 3 0 7 1 3 2 5 0-14 1 16 1 0 0-7 1-9 0 2 0 8 1-1 3 7 0-12 0 6 0-11 0 5 2 4 1-9 1 17 0-7 0 7 0-6 1 5 1-12 0-7 1 16 0 4 1 2 0-20 1 7 1 0 3-5 2 0 0 12 1 0 0-4 1-13 0 20 1-7 0-6 1-5 0 0 1-2 0 22 1-22 1 17 0-13 2 0 1 0 0 10 1-7 1 15 0-2 1-7 0-11 0 11 1-9 1 8 1 2 0-1 1-5 0 4 0 6 1 2 0-9 1-6 0 7 2-8 0 19 1-5 1-15 1 8 2-8 1 5 0 13 2-17 0-2 1 18 0-1 1-3 1-4 0 5 0-9 1-4 1 3 1 5 0 0 1-12 1 13 1 2 0 4 1 1 0-9 1 7 1-13 1 14 0 1 0-18 1 8 0 1 0 6 1-8 0 5 1-11 0 13 0-9 0 10 1-14 1 5 0 6 0 5 0 2 1-1 0-11 0 11 2-4 1-3 1 8 1-3 0-3 0-12 0 4 1 15 1-1 0-7 0 6 1-9 3 3 0 2 0 4 0-15 0 10 1 1 0 6 1-1 0-19 1 13 1 8 2-16 1-4 0 0 1 10 0 1 1 7 0-9 0-2 1 13 1 0 1-19 0 1 1 11 0-5 0 6 2-12 0 5 0-9 1-1 2 23 0 0 1-11 0 9 0-1 0-8 0 4 1-16 0 14 1-11 0 19 1 1 1-2 0-20 0 14 0-11 2 4 0 10 0-5 0 9 0-9 1 5 1-7 0-10 2 8 1 0 0 11 0 1 1-18 1 9 1-6 0 13 1-2 1-17 1 23 0-5 0-7 2 9 0-12 0 10 2-9 1 14 0-10 0-2 0-9 1 19 3 1 0-18 1-1 2 5 0 6 0-4 1-7 0 19 1-8 0 3 1 6 0-13 0 12 1-13 0 6 2-7 2 8 0-14 1 9 1 4 0-8 0 5 2-4 0-4 1-1 0 18 1-10 1-1 0 5 1-1 1 3 1-6 1-8 0 7 1 2 3 3 1 8 1-7 2-8 0 0 1 1 0-3 1-4 1 0 1 7 1-5 0 5 0-7 1 9 1 2 0 4 0-16 0 9 0 1 1 11 0-18 0-2 2 16 1-17 1 2 0 16 0-7 1 0 0 10 0-3 4-3 2 5 0-17 1-1 0 12 1-6 0 7 0-10 2 14 2 1 0-12 0-8 0-1 1 10 0-2 3 3 1 1 0-11 3 13 0 0 0-4 2 0 1-6 0 17 0-15 1 13 0-1 0 3 0 2 2-2 0-3 0-6 2 0 2 4 3-9 2 13 2 3 2-17 2 10 1-10 1 12 1 0 0 3 1 1 2-8 2 2 0-5 0-10 1 2 1 1 0 17 2-2 0-15 1 1 1 14 0 1 2-20 2 6 0-6 1 19 0-5 2 8 1-11 4 3 1 7 0-21 8 3 7 11 0 7 2-9 0-3 4 0 1 9 2-4 2-4 2-1 0 0 2-4 2 18 1-16 1 15 8-19 17 12 10 28-7 0-8-6-13 4-2-13 0 3-4 13-2-6 0-13-3 13-3 1-3-14-3 16-2-4-5 4 0-5 0-6-2 2-2 8-1 2-1-15-6 14 0-13-2 3-3 13-2-15-1 4-2 4-4 8 0-12-1-5 0 3-1 15-1-12 0 12-1-8-1-12 0 13-1-8-1 11-1 5-1-8 0-13-1 14-1 7 0-6-1-13-1 10-1-12 0 21-2-22 0 20-1-9-1 10-1-1 0-14 0 15 0-9-2-4 0-2 0 7 0-4-2-1 0-8-2 8-1 9-1-6-1 6 0 4-1-13 0-2-2 1 0 5-1-4 0 12-4-7 0-8-1 16-1 0 0-11 0-11 0 13-1 7 0-7-1-3 0 4-1 2 0-9-1 10 0-1 0-5-2 11 0-13 0 3-1 4 0-12-1 0 0 5-1 11-1-16 0 16 0-20-1 0 0 11-1-3 0-7 0 20 0-1-1-16 0 6 0-1-1 5-1-11 0 10 0-13 0 14-3-2 0 6-1-7-1 9 0-17 0 18-2-14-1 11-1-12-1 0-1 6 0 10-1-8 0-11 0 3 0 10-1-1-2-10-2 15 0-17 0 1 0 16 0 2 0-21-2 11 0 8 0-4-1-11-1-2 0 18 0-9-1-6-1 8 0 0 0-4-1-6 0 5-1 10 0-3-2 3 0 0-1-5-1 4-2-9 0 13-1-8-2 3 0 0-1 6 0-8-1 7-1-13 0 14-1 0 0-19-2 9-1-9 0-4 0 9 0 7-1-15 0 7-1 0 0-4 0 11-1-9-1 3 0-8 0 1-1-1-1 15 0 1 0-13-1 15-1 2-1-21 0 9 0-2-1 4-1 0 0-3-1 0 0 13-1-13-1 15-1-19 0 8 0-3 0-3-1 10-1-6 0 4-1-10 0 12 0-11-1 16 0-15-1 1 0 14 0 2-2-15 0 0 0 11-1-8 0 6 0 4 0-7-1 2 0 0-1-16 0 5 0 0 0 18-1 0 0-22 0 20 0-17-1 2 0-2 0 3-1-5 0 18 0-6 0-8-1 7 0-4 0 13-1-9 0 2-1-6-1 5 0-10 0 10-1 5-1-7-1-8-1 7 0-10-3 13 0 7-1-2-1-19-1 20-1-12-2-8-1 3 0 2-1 0 0 8 0 8-1-18 0 2-1 10 0 2-2-14-2 7 0 0 0 5-1 3-1-18 0 23-1-13 0 1 0 2-1 9 0-17 0-5-1 7-1-7 0 21 0-17-1 10 0 6 0-17 0-1-1 21 0-2 0-17 0 12-2-7 0 5 0 0-1-13 0 10-1-1 0 0 0-2 0-2-1 7 0-10-1 2 0 16 0-8-1-9-2 13 0-9 0 14 0-4 0-16-2 1 0 4 0 8-1 0 0 1 0-14-1 16 0-16 0 15-1-2-1-1-1 3 0 6 0-19-1 0-1 8 0 4 0-5 0 5 0-1 0-14 0 9-1 1 0 10-1-8 0-2 0 2-1-8 0 2 0 10-1 3 0-7-1-7-1 6-1-7 0 1 0 5 0 0-1 2-1-3 0 10-1-5 0-8-1-2 0 8-1 4-1-13 0-1 0 13 0 1 0-9-1 15 0-23-1 1 0 13 0 4-1-9 0 12-1-14 0 12-1-3 0 5-1 2 0-10 0-2-1 9 0 3 0-4-1-16 0 15 0-11-1 2-1 3 0-4-1-7 0 17-1-7-2-2 0 9-1-7 0 7 0-11-1 8 0-3 0-3 0 8-1-3 0-10-2 15-3-6 0 9-1-13 0-1 0 15-1-14 0 11 0-12 0 3-1 2-1-3-1 2-2-5 0-7-1 15-1 7 0-18 0 15 0 1 0-19-1 7 0 0-1 14 0-8-2 1-1 1-1-10 0 6 0 4-1-2-2-9-1 10 0-12-2 13 0-9 0 11 0-4 0-13-1 9-1-9 0 10 0-4-1-1 0 10-1-4-2 11-1-19 0 1-1-3 0 14-1 6-1-22-1 0 0 12-1 9 0-8 0 1-2 4-1-14-1 16-1-5 0-4-1 8 0-12 0 13-1-18 0-2 0 11 0-1-1-6 0 1-1 15 0-2 0-10-1 2-1 13 0-13-1 3 0 3 0-4-2 5-1-4 0-3 0-8-1 17 0 2-1 2-1-15-1-1 0 6-1 8 0-10-1 1 0-11 0 12-1 4 0 1 0 4 0-11 0 11-2-21-1 6 0-3-1 1 0 2 0 14-2-18 0 19-2-20-2 8 0-8-1 15 0-6 0 9-1-8-2 3 0-13 0 16-1-18 0 0-1 23 0-16-1 3-1-3 0 16-1-13-2 10-2-2 0 5-1-17-3 0 0-4-1 8 0-2-1 7-1 5-5-6-1-3-2 7-1-4-5 9 0-8-4-14-4 21 0-6-1-16 0 9 0-4-5 3-2 9 0 3-1-12-1-6-3 8-4 5-3-2 0-7-3 15-2-17-7 16-3 3-4-20-12 3-2 7-3 25 28 0 3-3 3-2 0 1 3 12 6-10 0 8 6-4 1-15 5 10 0 1 2 10 0-20 0 12 1-13 2 1 0 14 2-12 6-2 1 13 1-13 1-2 2 1 0 16 1-17 0 9 2-7 0 13 1-2 0-13 1 22 0 1 3-11 0 9 2-4 0 2 1-9 0-1 0 1 0-2 0 4 1 0 1 8 1-1 1-15 0 10 1 0 1 7 1-11 0 3 1-3 0 11 1-8 1-3 2-4 0-3 0 20 0-8 0-11 1 8 1-9 2 5 3-7 0 11 0 3 0 6 1-1 1-10 1-2 1 15 0-5 0-3 1 4 0-14 0 11 0 5 3 0 0-4 0-17 0 21 1-2 0 4 0-8 1-9 1-3 1-1 0 20 0-15 1-4 1 1 0 9 1-4 1-3 1 14 0-15 1 15 0-20 2 23 0-4 1-7 0 4 0 6 0-8 1-6 0-5 1 0 1 18 0-10 1-8 0 19 0-3 2-14 1 7 0 2 0-14 3 4 0-1 1 3 0 11 2-2 0 8 0-13 0-3 1-6 1 2 1-1 0-2 0 4 0 9 2-9 0 8 0 4 0-13 1 1 0 3 1-6 0 11 0 2 1 2 0-8 1 9 0 4 1 2 0-15 1 11 0-18 0 1 1 8 1 6 0 1 1-2 0-10 1 12 0-16 0-1 1 23 0-20 1 8 0 6 0 3 1-20 0 8 1-1 0 6 0 9 0-6 1-16 1 16 0-6 0-4 1-5 0 10 0 7 0-8 3-1 1 13 0-7 0-1 0-10 1 12 0 2 0-8 1-1 1 9 0 4 1-13 1-5 1 8 0 6 0-4 0 8 1-9 0 10 0-23 0 15 1-7 0 5 1-8 0 10 0-14 1 3 1-4 0 12 0-11 1 13 0 4 1 2 0 2 1-13 0 4 2-10 1 10 0 4 2-3 0-1 0-12 1 16 0 3 1-17 0 12 0 5 0-3 1-1 0-2 0-14 0 15 1 3 1-14 0 1 1 16 0-7 1 3 2-11 0 3 0 6 1-3 0 0 1 6 0 3 0-19 0 11 0 5 1 5 1-4 0-2 0 1 0-3 1 3 1 3 0-16 1-1 0 17 1-16 1-5 0 14 0 2 0-6 1 2 1 2 1 5 1-5 2-8 1 1 1-6 0 0 0 19 0-12 1-5 1 20 0-4 2 1 0-2 1-18 2 21 0 2 0-11 1 0 1-10 0 21 1-12 1-8 0 1 0 1 1 18 0-12 0 5 1-5 1 11 0-8 1-14 2 21 1-10 0-10 1 12 1-13 0 17 0-9 1 13 1-16 0-2 1-3 1 1 1 14 0-12 0 0 0 9 1-4 0 9 1-5 0-7 1 1 1 8 0-10 2-2 0 6 1-4 0 11 0-4 1 6 0-7 0 9 0-15 0 7 1 11 1-6 0 5 0-19 1 13 0-8 1 6 0-11 0 6 1 12 0 3 0-21 0 16 0-17 1 12 0 2 0 4 1-13 0-4 1 2 2 17 0-7 1-8 1 13 1-6 0 8 0-17 1 5 1 6 0-4 2-8 0 20 1 0 0-11 1-8 0 9 1-9 1 13 0-10 2 7 1-4 0-5 0 15 1-19 0 18 1-9 0 4 1 9 1-9 0-4 0 11 0 0 1-5 0-2 0 3 0-10 2-7 0 8 0-5 0 7 1-3 0-1 1 2 1-5 1 14 0-2 1-4 1-8 0 0 0 19 1-18 2 19 0-6 0-17 1 12 0-11 1 19 0-11 0 8 0 3 1-6 3 0 1-13 4 3 0 10 2-3 0 0 1-8 0 6 1 3 0-5 1 11 0-9 3 1 0-7 0 17 0-9 4 12 0-8 2 7 0-16 1 15 0-19 0 0 1 8 1-5 0-1 0-2 2 0 1 12 0 6 1 1 0-12 1-8 0 20 1-4 1 4 0 0 0 2 0-17 1 3 0-8 1 20 1-12 0 11 2-6 0-2 0 10 0 0 1 1 1-23 1 3 1 20 0-12 0 5 2-14 0 12 0-6 0 0 2-7 0 11 1-9 1 19 0-5 1-9 0 12 0-14 1 17 0-13 0 1 1 2 0-4 1 2 0-11 2 14 2-13 0 6 1-3 0 17 0 2 1 0 1-20 0 18 3-15 1 3 1-3 0 17 0-20 0 18 3-15 0 2 0 14 1-2 2-16 0 11 0 8 0-2 1-12 0 2 0 2 1-10 1 19 2-10 2-11 0 16 1 2 1-14 2-4 0-1 0 2 1 7 0-6 0 20 0 0 2-22 1 18 0 1 1-4 1 2 2-14 0 9 0-5 0 12 1-15 0-3 1 5 1 13 0-3 2-11 1-6 0 18 1-11 1-7 0 11 1 5 0-8 1-8 2 10 1 9 4-19 0 12 2 10 3-7 2-7 1 3 1-5 0 6 1-5 3-6 0 12 1-6 2 5 0 11 5-4 3-1 0-14 2 17 10-19 5 5 7 4 1 4 2-5 2 13 9-14 8-6 1 4 4 15-13 17-3 4 0-10-1 12-1-4-1-11-1 8-13 2-2 4-4-10-5-1-2-4-1 12-4-15-3 6-1-2-3 17-2-23-2 12 0 0-3 8-1-13 0 0-1 10-1-6-4-6 0 13-3-9-3-5 0 19-2-15-2 8-1-9-1 13 0-10-1-3-2 14 0-14 0 4 0-8 0 9-3-6-3 9 0 1-1 4-1 1-1-20 0 6-1 15-1-22 0 19-1 4 0 0-3-16-1 7 0-7 0-1-1 12 0-1-1-10 0 0-2 7 0-1 0 10-1-9 0-4 0 5 0-13 0 11-3 7 0-11 0 9-3-10 0-8-1 22 0-6-1 1 0-7 0-5-1 11 0 2 0-5-1-5 0 2-2 1 0 10-1-11 0 2 0-1-1-9 0 18-1-14-1 6-2-5 0-6 0 20-2-13 0 12 0 0-1-17-1 17-1-12 0 8-1-6-1-4 0 15 0 1 0-19-1 15 0-17 0 16 0 4 0-11-1-8 0 18-1-4 0-16 0 9-2 3 0-10-1 17 0-1-1-13-1-2 0 20-1 0 0-13 0-2 0-3-1-1 0-1 0 13-3-13 0 1-1-4 0 3 0-3-1 2-1 21-2-16-1 10-1-10 0 7 0 5 0 1 0-13-1-7-1 20-3-10 0-3-2-4 0 16 0-1-1 0-1-18 0 14 0 9 0-3 0-14 0 9 0 3-1 3 0 0-2-2 0 3 0 1-1-3-1-16 0 10 0-1-2-12-2 7 0-6 0 11 0 10-1-8 0-2-2 8-1-21 0 14-1 9 0-1-2-16 0-2-1 2 0 0-1 15 0-1 0-6-1 3-2-1 0 1 0 2 0-2-1-5-1-10-1 4 0 0-1-4 0 20-2-6 0 6-1-2 0-14-1-6 0 2-1 1-1-2-1 21 0-8-1-9 0 7 0-1 0-2-3 5 0 0-1-11-1 19 0 0 0-13 0-4 0 5-1 8 0-6 0-6-1-6 0 5-1-5-2 1-3 17-3-14-1 18 0-4 0-13-1 8 0-12 0 22 0-16-1-6 0 20-2-16 0 8-1-7-1 5 0 0 0-1-1-3 0 2 0-5-1 17-1 2 0-9-1 3 0-16-3 14 0-4 0-11-2 7 0 7 0 1 0-8 0-4-2 17 0-7-1 7 0-7 0 1-3-8-1 0 0-3-1 9 0 10-1-7-1 3 0 2 0-16 0 12 0-6 0 12-1-22 0 13-1 8-1-11-1-5 0 13-1 5-1-17-1 10-1-12-1 12 0 5-2-13-2 1-1 11 0-1-1-11 0 1 0 8-1-10 0 3 0-6-1 13 0 2-1-8 0 10 0-16-1 15-1-10 0-10 0 10-1-5-1 9-2-7 0 13 0-15 0 11 0-3 0-10-1 14 0-17 0 2-1 19 0-2 0-13 0 3 0-5-1 11-1 5 0-7 0 10-1-4 0-1-2-15 0 17-1-16-1 3 0 16-1-1 0-9 0-1-1 8-1-4 0 5-1-8 0 9 0 0-2-8-1-2-1 8 0-7 0 5-1-17-2 0-1 5 0-5 0 3-1 7 0 11-1-15-1-3-1 2 0 17-1-16 0 2-1-4-1 16 0-9 0 2 0 4 0-12-1 6-1 2 0 6 0-16-1 8 0 2-2 0 0 7-1-12 0-1-1 1-1 2 0 12-1-21 0 15-1-11 0 7 0-3 0 7-1-4-1-11 0 6 0 6-1-7-1 6 0 5-1-14 0 18-1-1-2-20-2 17-1-4 0-6-1 13 0-15 0 3 0 14 0-16-3 6 0-12-1 13-1 1-1 2-3 1-1-16 0 3 0 15-1-8-3 11-1-6 0 1-2-1 0-3-1-9 0 7 0-2-1 4-1 4-1-14-2 18-2-12-1 1 0-9 0 10 0 5-1 4-1-15 0 12-1-7 0-6 0 10 0 1 0 1 0-6-2 4-1-6 0 6 0 2 0-2-1-14-1 1 0 6-1 3-1 8 0-12-1 4-1-8-1 16-2-16-1 14-1 4-1-19 0 5 0 11-1-18 0 10 0 4-1-14 0 17-1-13-1 14 0-12 0 5-2-9-1 5 0 6 0-2-1 4-1 0-2-8-1 6 0-13 0 20 0-14 0 0 0 13 0 2 0-16-1 13 0-5 0 4-2-15 0 0 0 16 0-11-1-7 0 3 0 18 0-2 0-12-1 16 0-9-1-12-4 12-1-1 0 10-2-6-1-2-1-5-1 7-8-2-2-1-1 9 0-13-1 9 0-3-1 0-1-15-2 18-1 3 0 0-2-19-1 6-1 0-2 2 0-4-1 7-5-7 0-1-5-2-2 9-3 4-1-3 0 1-4-4-2 11-2-14-8 14-3-17-1-5-36 19-8 14 13-1 5 6 4 4 1-15 13 15 10-2 3-5 3-3 1 6 0-7 2 0 3 2 2-6 3 9 2 2 2-5 9 5 10-1 4-2 1 6 2-12 1-4 1-1 0 4 2 7 3 11 0 0 1-13 4-5 4 9 1 7 0-10 2-2 2-1 1 3 0-2 1 4 0 7 0-2 1 6 1-6 0 3 0-19 1 13 0-1 1 5 3-4 1-10 0-4 1 23 0-8 0-1 1-1 0-6 0-1 1 3 1-4 1-5 2 0 0 9 0 11 2-11 1 14 0-23 0 20 1-7 1 6 2 4 2-19 1 13 0-7 1-2 0-7 1 9 1-10 0 1 0 7 0-1 1 15 0-4 1 2 0 2 2-17 0 12 1 2 1-18 0 11 1-1 0-8 1 6 0-8 1 10 1-10 0 0 0 4 1-4 1 4 0 14 1-2 0-13 1 2 0 0 2-3 2 19 0-16 1 16 0-9 1 2 0 3 1-17 1 14 0 2 1-17 0 16 0-14 1 7 1-9 1 3 2 7 1-10 1 2 2-2 0 6 1 8 1-3 0 6 1 2 0 2 1-10 0 10 1 0 0-17 1 16 1-6 0-3 0-5 0 10 1-16 1 21 0-15 1 5 0 8 2-6 1 5 0 5 1-23 0 16 1-10 0 10 2-3 0 1 0-2 0 0 1-3 0 2 1 6 0-16 0 12 1 0 0-12 1 0 0 9 1 5 0 2 1-3 2-5 0 1 1-4 1-4 0 3 0 4 1 2 0 5 0-12 0 4 0 7 1-13 0 21 1-2 0-10 1-9 0 17 0-6 0 6 1-14 0 17 1-3 1 4 1-20 1 17 1-15 0-2 1-2 0 8 0 8 0 2 1-12 1 14 0-11 0-2 0-7 1 15 1 4 0-4 0 3 0-13 0 0 1-4 0-1 0 17 0-4 1 5 1-14 0 0 1 10 1 1 0-4 1-6 0 12 1-1 1 1 1-8 0-4 0 2 2 14 1-14 1 3 0 4 1-12 0 19 1-7 0-3 1 10 0-7 1-5 1 5 1 8 1-13 1-9 0 16 0-2 1-7 1 2 1 8 0 4 1-5 0-4 1-8 0 7 1 10 0-22 0 0 1 9 0-2 1-3 0 15 0-1 1 5 1-21 1 15 0 0 0-12 0 1 0-2 2 15 1-7 0 7 1-16 0 15 1-12 0 3 1-2 1-3 0-1 1 11 1 7 0 2 1-9 0 5 0-1 1-17 1 21 0-12 1 3 0 6 1 1 1-19 3 3 0 2 1 10 0 7 0-8 1-13 1 6 0 4 1-6 1 9 1 5 0-13 1 5 0 0 0 6 1-6 0 11 0-19 1 4 0-3 0 1 1-6 0 22 3-10 0 0 1 5 1-11 0 3 2 2 0-1 0 4 2-13 0 6 0 10 0-3 0-5 1 3 1 5 0-10 0 4 0 4 0 1 0-9 0 16 1-5 1-17 0 5 0 3 1 0 1-6 1-3 0 13 0 4 0-9 1-4 0-1 0 18 1-6 0-5 3 6 1-6 0 4 1 6 0-12 0 4 1 1 1 5 0-4 0 4 1 0 2-12 0 14 1-12 0-8 0 21 1-7 1-13 1-1 2 23 1-2 0-9 3-12 1 0 1 22 1-2 1-18 0 0 0 6 1-1 1 1 1 1 1 11 0-14 1 8 0 4 1 4 0-9 0 8 1-15 0 0 2 16 0-11 1-1 1-3 0-5 2 5 0 12 0-18 0 14 2-1 0-7 0 16 1-1 1-20 0 11 0 4 1-15 1-2 0 4 0 16 1-12 0 3 0-9 2 2 0 7 0-10 0 4 1-4 1 12 0 5 0 5 1-11 0-9 1 10 1 3 0-15 0 11 0 6 1-12 0 11 1-5 0-11 3 7 0 11 0-14 1 15 0-2 0 1 2-1 0-2 0 2 0-4 0-14 0 1 1 17 1 1 2-16 1 8 0 6 1-2 0-12 1 4 0 7 1-7 1-5 1 13 0-6 0-6 1 4 0-3 0 15 0-16 1-2 0 1 1 1 1 4 2-2 0 13 0 5 1-23 0 6 1 2 0 11 1-1 1-18 0 15 1-1 0-13 1 1 0 8 0-5 0 15 1 2 1-6 0-12 1 9 0-2 1-5 1-3 3 0 0 7 1-2 0 6 0-4 0 1 0-2 1 14 2-19 5-4 1 0 1 11 1 12 2-8 1 5 0-5 1 0 1 2 0-6 0-7 7-1 4 5 3-3 3 16 1 2 4-18 3 10 2-10 3 6 1-11 5 10 0 3 1 6 1 0 4 0 2-4 1 8 1-3 0-14 1 10 4-6 0-8 0 9 4 1 2 9 2-21 2 18 5-14 5 18 1-5 7-13 4 14-10 7-9 11-4-5-8 14-2-3-4-10-7-3-1-2-3 19-5-20-2 2-1 4-3 10-7-17-3 6-1-6-3 19-1-7-1-11-2 5-1-5-2 2-3 5 0-3-1-3-4 14-1-8 0-4-2 5-3 4 0-9-1 8-10-3-1 7-1-5-2-2 0-9-1 18-1 1-1-20 0 7-2 10 0-9-2-7 0 3-1-4-1 7-1-7 0 21-1-18-1 1-2 8 0 5-2 0 0-10-2 2 0 12 0-3 0 2-2 2 0-7-2 5-1-4 0-15-2 18 0-6 0-11-1 20-1-18 0 16-1-9 0-9 0 8-2 11-2-6 0-5 0 4 0 5-1 1-2 3 0-5-2-12 0 16-1-18-2 1-1 6 0 6-1 2 0-6 0-2 0 2-1-5 0 4-2-6-1 17 0-22-1 9 0 3 0-8-1 5 0-5-1 4-1 12 0 1-1-22 0 5 0 10-1 2 0-11 0 13 0-13 0 14-1-2-1 0-1-9-1 9-1 3 0-2-1 2-3-2-1 2-1-13 0 7-2-15-1 10-1 5 0-10-1 3 0 14 0-8-1-10 0 5-1 8 0-16-1 19 0-4 0-2-1 2-1-13 0 4 0-2 0-4-1 17 0 0 0-3 0 3-1-10 0 9-1-12 0 18 0-20-1 19 0-7 0 5 0-20-1 11 0 2 0 10 0-8-1 2 0-17 0 13-1-7-1 9 0-3-2 4 0-9-2-2-1 8-1 3-1 2 0 4 0-18-1 6 0-2-1 11 0 1-1-1 0-11 0 13-1-13 0 8 0-11 0 4 0-1-1 12-3 1-1-21 0 10-1-7-4 16-3 2 0-7-1 2 0-3 0 8-1-1 0 3 0-7 0 7-1-14 0 14-2 0-1-12 0-11 0 3-1 10-2 2-1-7-3 15-1-2 0-15-1-1 0 8 0-7 0-4 0-2 0 19-1-12-1 14-1-8 0-13-1 21 0-18-1 19-1-18 0 6-1 4-2-1 0-4 0 1 0 3 0 6-1-12 0 14 0 1 0-5-1-10-1 4 0 1 0 11-1-6-1 3-1-19 0 5 0 7 0 7-1-14 0 7-1 3-1-12-1 12 0 2 0-5 0-11-1 3 0-2 0 20-2-14 0 9-1-7 0-7 0 16-1 0 0-2-1-2 0-8-3 6-1-7-1 10 0-11-1 5 0 4-1 6-1 2-1-23 0 18-1-14 0 18 0-19-1 16-2-19 0 22-1-10 0-5 0-3-1 4-1-2 0 11 0-4 0-1-1-9-2 15 0-9 0 0 0 4-1 10 0-11-1 6 0 0-1-1 0 1 0-14-1 3-1-6-1 5 0-3 0 11 0 7-2 0-1-9-1-7 0 13-1-14-1 3 0 14 0-19-1-1 0 13-1 1 0-3-1-12 0 0-1 0-1 5-1 0 0 10 0-11-1-4-1 19-2-2 0-15-1 2-1 4 0 15-1-19 0 16 0-17 0 6-1 13-1-21 0 14 0-4-1-3-1 13 0 0-1 1 0-17 0 6-1 4 0 1-2-6-3 1 0 4-1-6 0-5 0 1-1 11 0-4-2-4 0 0-1 13 0-6-1-1-1-13 0 6 0 6-1 4 0-2-1 6 0-14-2 0-2-1 0-5 0 8-1 1 0-1 0 13-1-14 0 14-1-17-5 11-1-7 0 8-1-1-1-7-1 12 0-20-1 6 0 0-1 2 0 10-1-1-1-11 0 9 0 4-1-10 0 11-1-7-1 1 0-8-1-1 0 11 0-9 0-1 0-7 0 18 0-17-1 12 0-7 0 14-1-14 0 1 0-4 0 3-2-6-1 3-1 17 0-8 0-8-1 3-2 3 0 11-1-17 0 19 0-12-1 7-1-16 0 2-1 9-1-8-1 1-2 9 0-2-1-4-1-6 0 0-3 7 0-8 0 17 0-3 0-11-1 3 0-7 0 12 0-9-1 4 0 8-1-8 0 7-1-11 0 1 0 4 0 10-1-13-1 10-1-10-1-6-2 20-1-5-2-14-1 13-1 6 0-19 0-1 0 2-2 18-1-18-1 16 0 0-2-8-1-9 0 11 0-12 0 21-1-16-2-1-5 9 0-10-3 12-3 8-4-3-2-14 0 0-1 0 0 7-11 4-11-3-3 3-1-2-10-14-6 14-6 5 16 19 2-11 6-2 15 14 1-13 7 5 1 4 4 6 0-9 10 10 3-19 3 4 6 8 1-4 0-7 1 0 3 5 2 12 8-7 1 10 1-9 1-7 2 15 4-8 0 3 0-5 0 11 2 0 1-10 1 2 0 5 1-16 0 5 3 16 0-22 1 2 2 10 2-11 1 1 0-1 1 9 4 7 0-16 0 14 0-12 2-3 0-1 2 4 0 10 1-14 0 16 0-15 0 0 1 6 1-3 1-3 4 17 1-18 0 4 1 0 1 10 0 9 0-14 1-8 0 7 0 5 2-13 1 15 2-3 2-8 2 0 1-4 1 3 1-2 0 20 1-11 1-3 0-1 1-3 0 9 0-7 0 16 1-12 2-1 0-1 1-7 0 7 2 9 0-16 2 9 3 1 0 4 1-1 2 10 0-2 2-18 0 16 0-18 2 0 0 13 1 4 2-8 1-7 2 8 1 9 1-17 2 19 1-21 0 9 1-9 3 20 1-21 0 16 1-14 0 6 1 3 0-7 0 18 0-4 1-14 0 4 0-5 2-2 0 14 0 3 1 4 1-17 0 17 0-16 1 10 0-14 2 13 0-14 1 4 1 11 0-15 0 1 3 13 0 5 0-8 1-10 1 5 2 9 1 0 1-7 4-5 0 10 1-12 0 19 0-21 1 6 1-4 0 6 1-3 0 12 0-10 1-2 0 13 2-7 1 4 0-14 1 5 0-6 0 14 1-5 0 8 0-9 0-6 0 19 1-13 0 8 3 0 0 5 0-19 1 8 2 1 1 4 1-6 1 1 0 12 1-20 2 15 1 4 0-6 2 7 0 1 1-20 1 11 0-5 1-7 0 14 1 2 0-15 0 15 2-11 0-6 0 21 1-17 0 4 1 1 1 8 1-12 0 0 0 10 1-9 0 0 0 6 3-11 0 13 1-14 0 0 0 7 0 15 1-19 2 2 3 13 0-18 2 18 0-17 0 21 1-5 1 0 1-10 0 12 0-19 0 4 1-4 1 6 0 2 0 2 1 9 1-3 0 0 1-2 0-7 5 9 1-14 1 16 1-7 0 5 1-16 0 21 0-17 1 12 0-4 0 6 2 0 0-4 1-1 1 2 0-12 1 16 0-14 3 13 0-13 2 4 3 2 0 11 2-16 1-7 0 19 2-18 0 1 1 7 1-2 0 15 0-13 1-4 4 8 0-9 1 2 0 3 0-7 2 1 1 7 1-10 2 4 0-3 1 8 3-1 1 5 0-1 2 7 2-14 2-3 0 8 1 10 1-12 0-3 3 5 1-10 3 6 2 15 2 2 0-5 1-15 3 14 0-8 0-7 1-2 1 5 1 9 1-14 1 9 2 2 1 3 2-3 0 4 1 2 1-11 0 0 4 13 4-13 1 13 2-19 2 3 0 20 1-1 0-5 1-12 1 0 10 9 1-8 6 3 2 4 8 7 1-12 10-3 3 10 4-13 4 21 1-8 0 6 14-9 1 3 2-6 13-4 7 1-18 30-34-4-4-8-21 1-4 0-3-1-6 12-1 6-2-5 0 9-1-8-10 2-1-10-1 2-1-6-1-2-4 17-3-5-1-3-5 3-4-10-6 8-3 0-6 13 0-16-3 14-1 0-3-10 0 11 0-11-4 10-2-15-11 3-2 11-2-8-1-12 0 17-2-9-1-5-3 1 0-3-2 6-1 11-3-13-4 8-2-11-1 12-5-1-4 0-2-13 0 2-1 9-1-9-4-2 0 7-4-2-4-5-1 3 0 20-1-7-2-5 0-9-1 5 0-6-1 2-1 3-1 15 0-8-1-2-3 4-1 0 0 5-1-9 0-11-2 3-4 6 0 5-1 1-2-11-4 9-1 5-4-6-3 11-2-19-2 18 0-19-1 8-1-7-1 8-4 8-1-15-2 15 0-14-3-4 0 4 0-1-1 14 0 4 0-5 0-5-2 3 0-6-3 11-1 1-1-13 0 7-5-7 0 5-1-11-10 20 0-21-1 7-3-7-6 21-1-8-2-11-1-2-5 7-1-9-2 14-1 9-3-23-2 5 0-1-1 8 0 3-1-5-7-10-8 3 0 5-1-7-1 11-4 1-2-13-1 17-3-12-8 12-10-13-1 2-2-3-4 8-10-4-4 3-1-7-2 0-1 18-8-11-1-3-7-7-1 5 68 32 10-10 10 15 8-4 0 4 2-12 1-1 4-5 6 17 2-10 7-2 1 7 0 5 1 1 8-13 3 1 0 12 8-6 6 1 6-12 1 22 1-11 5 3 1 8 1-5 1-14 3-3 11 20 5-18 1 7 7 11 4-16 10-2 2-2 7 15 1 6 4-20 14 12 2-11 0-2 6 13 5-6 5-2 0 15 7-11 3 13 2-11 7-12 0 20 6-12 9 15 10-16 0 14 1-19 9 0 7-2 30 2 11 18 3-8 5-3 0-6 32 6-27 15-39 19-2-3-4 6-8-20-3-2-2 15-9-9-1-2-2 10-3-1 0 7-1-9-8 7-12-5-1 8-1-1-1-9-4-7-2 17-1-19-5 6-11-8-1 16-3-9-7-7-3 22-1-12 0 13-2-9-4-14-4 20-4-11-2 6-11 5-4-5-2-4-1-7-4 10-1-2 0 4-2 6-1-21 0 12-3-2-6 11-3-20-3 7 0 10-12-11-18-1-4 15-9-11-8 5-6-7-2-6-5 10-4-9-6 0-1-4-8 10-2-5-242 37 23-3 5 5 5 1 1-3 1-7 1 7 1 4 4-8 1 6 0-5 1 7 7-6 4 7 0-12 10 6 204-12 4 4 30 10 11-15 18 14 1-17 8 4 15 16 4-17 2-2 2-1 2 18 1-19 9 2 0-1 9 8 2 8 2-9 2 8 0-7 5 7 5 3 0-7 2 4 9-13 4 20 0-22 8 17 16-8 6 8 11 0 10-13 2 11 1-15 31 16 7-3 21 3-18 14-3 2-2 10-4-1-1-8-2 3-3 7-7-7-38 4 0-17-5 1-4 3-2 8-5 5-1-13-6 14-4-12-12-3-46 5-4 9-27-6-1-2-5-6-277 2-5 0-6 4-2-2-4 2-2-8-18 7-2 5-3-13 0 22-3-19-7 12-1-7-4-4 333 20 63 11 7-1 27-2 17 10 25-1 5-11 11 4 4 8 4-15"/>
<rect class="bd" x="0" y="0" width="321.3" height="328.0"/>
<path class="tk" d="M16.9 328.0v5M95.7 328.0v5M174.5 328.0v5M253.3 328.0v5"/>
<text class="tl" x="16.9" y="350.2" text-anchor="middle">-40</text>
<text class="tl" x="95.7" y="350.2" text-anchor="middle">-20</text>
<text class="tl" x="174.5" y="350.2" text-anchor="middle">0</text>
<text class="tl" x="253.3" y="350.2" text-anchor="middle">20</text>
</g>
<g transform="translate(1091.9 984.9)">
<path class="mn" d="M56.3 0V328.0M135.1 0V328.0M213.9 0V328.0M292.7 0V328.0M0 295.8H321.3M0 207.0H321.3M0 118.2H321.3M0 29.4H321.3"/>
<path class="mj" d="M16.9 0V328.0M95.7 0V328.0M174.5 0V328.0M253.3 0V328.0M0 251.4H321.3M0 162.6H321.3M0 73.8H321.3"/>
<use href="#gC"/>

<path class="mbC" transform="scale(.5)" d="M365 83l-45-5-19 13-57 15 2 4 21-1 55-3 1-10 9 16 22 2 1-6 81 11 95 0 3 22-16-14-44 6-6 1-10 3-16-17-9 22-3-1-26-12-10-9-14 15-2-11-3 11-8-6-11 2-3-1-3-10-5 3-7 11-4 4-4-2-24-5-10-1-11 0-14 0-61-3-23 5-9-4 13 22 1-3 6 5 20-5 4 2 2-2 0 19 82-21 14 9 4 4 9 4 7-13 3 18 1 0 2-4 4-12 1 10 2 5 16-5 4-8 12-7 27 8 17-1 5 1 13 4 3-7 1 5 62 3 5 17-58 0-6 7-12-12-15 6-7 0-5 11-16-2-6-10-3 6-1 8-1-11-3 7-6-4-5-1 0-13-1 22-1-2 0-18-2 5-2 4-1 10-1-11-9-5-3-4-11 16-4-7-5 4-4 2-6-6-1-3-1-7-1 21-1-13 0-7-6 21-6-19-1 19-4-14-1 2-2-6-3 18 0 0-2-9-21-3-4 4-1 1-2-2-1-1-10 11-4-19-13 11-8-4-7-1-1 3-18 10-14 7 15-2 7-2 1-1 1 8 1 14 2-18 4 18 1-16 1 14 2-12 10 11 0 3 1-12 1 6 1-1 1-10 3 14 0-16 5 12 2 5 1 1 1-19 2 5 1 13 1 2 2-2 2-10 4-7 2 19 4-15 1 7 3-9 4-3 0 4 4-6 1 11 2-8 6 10 1 8 0-15 0 8 2-4 2 12 0 0 7-4 1-13 7 17 8-11 3-10 0 2 4 14 3-4 1-5 5 2 1 12 2-4 0-15 2 13 0-16 5 13 3-14 0 22 0-21 3 7 0 0 2 10 0-14 3-2 4 13 1-8 7 12 7-6 0-2 1-4 1 11 1 2 0 0 1-12 0 10 2-16 3 13 1 4 3 0 4-16 2-1 2 16 6 2 0 3 3-1 2-2 0 3 0 0 0-11 1 10 0-11 2 7 1 0 3-5 7-8 11 9 5 0 1 7 1-3 2 5 1-1 2-20 3 7 9 12 1-2 3-1 1-8 24-9 53 33-65 5-2-5-1 13-2-17-5 4-2-5-11 2-3 6-3 4 0-5-1 11-2-2 0 2-2-2 0-11-1 5-2-11-1 11-4-2-1-4-1-2-5 16-2-17-1 17-1-11-2 5-2-6 0-9-1 18-1-7 0 4-2-3-2-11-5 7-3 2-2 4-1-16 0 0-1 23-1-12-3-6-3 11-4-13-1-1-1 1-1 15-3-8-1 1-1-5-9 17 0-5-1-8-2-2-2 15-1-9-3-11-1 5-2-4 0 3-2 7-1-11-1 9-7 7-2-19-1 17-1 4-1-13 0 3-3 1-5 1 0-3-2 9-2-6-2-9-1-4-3 8-3 7-2 4-3 3-1-18-2 8-1 3-2 6-1-3-1 3 0-17-1 17-2-9-2-7-1 0-4-3-1 8-1 5-2 6-1-12-2-7-1 15 0 3 0-19-1 20 0-13 0 7-2-2-1-3-1 11-1-14-2 2-6 1 0 1-3 5-3-12-1 17-1-14-2 13 0 1-1-14 0-2-3 18-2-4 0-4-3-15-4 11-1-6-1 7-2 8-4-7-1-5 0 13 0-3 0-1-2-16 0 0-2 5 0-2-3 12-2-9-2 8-5-7-1 0-2 2-4 6 0 5-2-19-3 19-4 1-3-11-2 12 0-21-2 17-10-5 0 1-2-2-4 10-2-20-2 18-6-13-1 15-6-9-8 33 5-5 4-15 1 12 1-5 1-8 9 7 1 8 4-7 4 7 1-17 2 11 4 10 0-4 6-10 1 1 7 9 1 2 0-3 1 2 5 4 0-17 2 9 2-13 0 12 0-9 0 2 2-3 1-2 0 5 3 17 1-23 1 20 1-18 4 13 1-15 2 1 2 18 0-8 4 0 1-6 2 0 1 18 1-2 1-5 3 6 0 1 0-5 0 4 3 0 2-17 1 14 1-5 5-9 0 10 0-3 1 1 1 5 2-12 1 0 4 10 2-8 9 15 2-19 1 13 2 5 1-6 3 3 0 0 3-13 1 12 0 3 0-19 2 14 1-13 1 10 2-6 2 13 1-1 6-11 1 6 1-10 1 12 1 4 1-1 0-18 1 21 0-19 2 2 0-4 1 19 0-3 2-12 1 9 0 9 0-4 1-7 1-1 2 7 1-7 1 2 2 10 2-9 1 5 1 0 1-18 6 1 5 6 0 14 1-13 6-4 4 8 9-5 0 9 1-12 5 18 1-16 0 2 2-3 5 11 4 3 0 1 0-2 1 3 1-10 1-3 2 13 1 1 1-5 0-14 8 17 1 1 0-2 0-6 1-13 0 19 0-3 2-13 4 10 5 2 0-1 2 4 2 2 0-21 4 6 3-5 0 8 2-6 1 10 2 1 1-11 1 4 3 4 1 12 5-6 2 4 4-4 0-16 4 19 0 1 5-19 10 1 2 5 0 10 4-4 3 4 2-5 1-13 4 19 3-8 8 1 32 4 8 2 0-7 5 7 6-12-11 24 0 3-2-6-9 12-2 2-8 0-4 3-3-10-6 1-1 4-4 2-4-12-3-5-1 23-1-1-1-10-1-2-6-4-6-1 0 2 0-2-1 13-1-5-1-2 0-11-1 1-1 17-1-14-3 10 0 9-2-1 0-11-7-1 0 0-3 8-1 2 0-10-2 6-1-9-1 8-2-13-1 15-1-5 0 4 0-14 0 6-3-5-1 4 0 12-1-18-1 6 0 0-1-5 0 17 0-19 0 0-1 19-1-4 0 3-7-8-2 9-3-7-2-4 0 6-3 7-2-6-1-1 0 8 0-15-4 0-1 4 0 2-3-2 0 10-1-17-1-1-2 3 0 9-3-7-2 14-1-14-2-7-1 19-1-6-3-14 0 1-3 10-1-8-1 8-5 6-3 4-1-3-1-1-2-9 0-6-2 3-1 0-1 2-4 14 0-19 0 15-4-10-1-5-1 3-3 12-1-5-1-7-1 2-2 7-1 2 0-10-1 0-2-2-1 13-2-6 0 12-2-1 0-7 0 5-1-10 0 6 0 1-5-17-1 9 0-7-2 2-2 17-1-1-1 0 0-8-2 7 0-2-1-1-1-14 0 19 0-9 0 1-1-7-2 13-1-12-1 16-1-1 0-15 0 11-1-2 0-8 0-8-3 8-3-4 0 14-1-1 0-2-1-4-1-3-3 5-1 3-1-6-4-2-1 0 0 6-1 3-3-11-2 5-1-11 0 22-4-1 0-9-2-12-1 23 0-3-3 3 0-5 0-4-6-6-2 4 0-7-2-2 0 10-2-4-3 12 0-1-2-13-1 2-1-3-1 1-1 15-5-2-1-13-1 12 0-1-1-6 0 1 0-9-1 10-2 9-2-21-1 8 0 9-2-10-1 2 0 6-1 2-2-1-1-12-3-3-4 7-4-3 0-6-3 20-1-5-4-13-1-3-1 1-6 6-1-6-4 20 0-16-1 8-2-4-1 3-2-9-2-2 0 15-1-2-1-6-2 9-1-16-2 7-4 7-8 5-3-14 0 8-1-9-2 18-1-4-1 2-2-17-2 6-10-5-9 1 7 32 11-14 12 3 6 17 3-9 1-1 1 1 0-6 0 2 1 11 19-10 1 8 2-11 0 14 3-14 1 13 2-16 1 4 3 16 2-5 0 3 0 0 3-10 0 0 1-3 1-1 3 16 3-1 0 1 6-15 9 12 2-11 0 8 1-10 1 6 1-12 1 11 2-8 4 11 0 0 3 9 1-14 0 2 1-8 2 9 0 7 4 0 1-17 4 7 0 14 1-9 1-14 0 3 3 8 1 3 0-9 0 2 0-2 2 14 3-13 1 17 3-6 1-2 1 7 0-1 4-20 2 21 3 1 2-3 1-13 0 10 0 1 1-16 1 11 2 4 2 1 1 3 0-14 1 9 2-5 1 6 0-9 0 1 1 11 0-20 3 3 2 17 1 2 2-17 2-1 3-4 0 15 1 0 0 1 0-8 2-8 2 6 2 3 0 7 1 0 4 6 3-22 0 15 1-12 1 2 1 4 4 11 1-1 0-14 1 8 0-2 2-11 2 23 5-5 0-11 1 12 0 4 2-3 1-16 0 16 2-19 0 12 1 7 2-6 0-14 1 14 0 1 1-1 0 6 1-12 0 13 1-20 0 0 5 15 3-8 5 12 1-4 1-14 0 17 1-17 2 2 3-2 2 2 1 19 0-6 1 2 4-8 1 0 2 5 1-14 0 20 1-16 0-6 2 3 1 7 0 4 3 5 2-7 0-8 1 1 1 1 1 16 0-15 1-5 1 18 0-15 0 14 1-4 2-15 3 7 1-3 5 16 1-16 0 10 2 0 9-9 1 18 6-16 1 2 2 10 0-13 3-2 0 11 0 8 0-3 0-1 1 4 2-8 1-15 1 12 0 3 2 1 0 5 1-15 1 6 13-6 0 17 5-11 1-9 3 16 4-11 3-1 3 15 1-3 2-1 5-2 1 7 6-23 6 14 14 6 3-15 32 37-8-14-1 1-7 10-12-13-4 17-2-13-1 13-2-7-5-11 0 13-11-8-3 1-1-3 0 0-2 17-5-11-2 6-2 4-4 1-7-20-1 7-6 15-2-1-1-11-1 0 0-10-4 15-3-10 0 8-1 6-3-11-1-4-1 15-1-14-5 14-1-6-4 1-1-9-2-4-4 16-2-16-4 1-1 19 0-19-2-3-1 13 0-3-2 6-4-7-4 11-4 2-3-14 0 9-1 6-1-1 0-4 0-18-5 1-1-1 0 7-1-2 0-5-1 10 0-4-1 1-1 14-1-7-2 6-1-13-4-5 0 19-2-9 0 1-1-6-1 9-3 3-1-5 0-12-2 17 0 4 0-10-1 3 0 4-1-7-3 6-1-9-1 6-1-3-1-13-1 4 0-1-2 12 0-6 0 1-3-4 0 13-1-15-2 19 0-19-1 6-1 6-2 6 0-12 0 2-1-3-3-1-1-5-1 7-2-10 0 10-4-1-1-2-1-7-2 1-1 3 0 11 0-11-3 18-2-22-1 15-1-9 0 11-2-14 0-2 0 11-2-4-2-8-1 6-1 10-2 1-2 3 0-9-1 10-1 2 0 0-1-18-4 6-7 8-5-18-2 4-1 10-1 0-4 7-2 1-4-11 0 4-2 5-6-12-2 7-1-1-1-15-3 20-1 0-2 0-1 0-2-11-3-2-3 4-2 9 0 2 0-14-1 9-3-10-6 1-2 10-1-2 0-6-1 12-3-5-3-1-2 0-1-4 0 10 0-12-6-7 0 18-2 2-2-1 0-6 0-2-4 5-1-9-1 6-2-13-2 16 0-9-2 5-4 5-1-17-4 1-2 0-2 13 0-11-1 17-1-22-6 10-3-5-5 2-3-4-2-1-2 11-2 3-1-15-2 3 0 0-3 6-2-4-3-2-5-2 0 0-3 11-2-14-5 8-5-7-1 4 0 10-9-13-4 17 0-13 17 21 6 2 3 6 2-8 10 0 0 3 5-6 2 4 1-4 3 13 5-10 3 15 3-5 0 10 1-1 1-21 1-1 1 23 1-12 2-9 3 17 3-15 2 9 3-7 0-6 6 21 1-3 2-8 2 2 0-8 3 9 1-12 8 1 1 3 5-5 1 11 2-6 4 9 1 7 0 0 3-4 6-8 3 0 4 1 2 2 0 7 6 3 1-3 0-7 2-9 1 20 1 0 3-5 2-17 0 21 1-6 3 2 0-8 1 5 0-10 3 8 0-12 1 0 1 0 0 18 2-16 1 19 0-12 1 3 5-9 1 10 1 9 0-5 0-11 0 4 1-5 2 4 1-4 2-3 5 12 0 5 1-4 4-10 1 7 0 10 3-5 1 1 0-18 2 0 2 5 1-6 2 1 8 12 4 2 1 5 1-5 1 1 1 3 1-11 4 0 2 2 0-7 0 16 0-10 1-9 5 16 1 4 1-10 1 12 0-3 2-12 3 6 4-2 0-9 8 10 1-10 1 20 1 1 2-3 0-17 1 12 1 8 0-12 0 4 1 5 2-18 0 20 1-1 1-4 4-13 6-3 2 14 1 5 0-4 0-5 0 7 3-14 1 19 5-9 1 1 5 3 4 4 1-17 2 12 3-11 1 8 3-4 1 9 0-16 0 2 4 10 3-11 2 3 1 15 2 0 0-8 5-2 0 4 1-16 2 14 2 0 3-13 1 14 1 2 3 2 1-11 2 11 2-3 2-13 9 20 2-11 0-12 0 0 7 2 1 1 0 4 1 9 0-15 5 15 4 6 3-19 13 1 9 12 1-15 16 0-3 29-28 3-6 7 0-9-9 2-4 11-14-18-1 2-4 3-1 9-3-10 0-1-1 17-1-6-6-9-6 11-2-8-1-2-2 6-1-10-2 11-1-13 0-2-5 5-2 11 0-10-1 17-1-20-6 14-2-11-4-1-2-4-1 18 0 1-1-17-1 18 0-10-2-5-1 12-2-14-2-1-2 0-1 17-4-3 0-16 0 1-2 12-1-8 0 0-2 3-2 8 0-17-2 5-1 7 0 9-4-5-1-5-1-11-3 15-1-11-4 2-3 10-2-12-1 0-4 12-7-12 0-4 0 13-1-3 0 7-1-2-2-12-1 1-3 19-1-1 0-14-1 3-1 1-2-1 0 4-3-15 0 16-3 0-8-12-4 18 0-12 0 7-1-12-1-4-2 20 0-10-1 11 0-18-2-1-8 16-3-1 0-17-3 6-1 1-3 0-1-7 0 19-5-11-3-5-1 15-1 0 0-10-2 1-2-3 0 5-5-7-4 12-5 0-2-15-1 4 0-5-1 19-1-5-8-1 0 2-3-4 0 5-4-10-4-5-1 17-1-2 0-13-2-2 0 20 0-19-2-3-1 21-1-5-4 1-3 3 0 3-2-3-2-19 0 21-1-7-3 3 0-18-4 6 0 8-1-9 0 1-1-5-2 2-2 15-1-6-1-5-1 3-1-5-2 14-1 4-3-20 0 3-1 12-1-13-1 16-6-16-1 12-5-10-8-6-3 10 0-6 0-2-2 4 0 15-5-21 0 16 0-11-1 4-4-5-1-1-25 2 37 20 3 4 3 12 0-16 2-1 11 8 5-5 2 15 1-7 1-3 2-8 1 17 1-18 2 2 6 13 2 1 0-16 2 19 2 0 3-16 1 1 0 16 4-15 2 11 1-12 2 17 9 0 0-3 5 3 3-1 5-6 2-11 1-3 1 12 1-7 0 4 0 6 1-14 1 13 1-9 0 8 18-11 0 0 1 2 2 5 3-6 1 0 3 18 1-19 1 13 0 6 3-11 1 10 2-18 0 19 1-12 2-8 7 16 2 3 3-20 1 5 0 13 8-13 5 5 5-8 2 18 10-17 3 17 5-19 7 12 3 0 5 8 0-15 5 9 1-1 1-7 3-1 1-2 2 1 3 17 4-20 0 19 2-13 3 0 3-1 2 7 2-3 1-3 7-7 1 4 0 0 1 6 0 1 5-2 2-2 1 11 6-9 2 13 1-17 1 3 1-4 0 12 1-15 1 3 3 9 0-1 2-3 3 1 1-2 0-9 11 11 1-5 1-4 3 1 1 15 0-10 6 13 22 16-39-9-14 15-8-12-2 3-4 7-5-4-1-4-4 11 0-9-2-1-6 6-4 4-1 1-2-6-1-7-1 8 0 3-1-13-1 4-1 0-6-10-6 12 0-7 0 18 0-18-1 13 0-12-1 0 0 10-7-15-1 9-3-3-4 4-6 10-1 1-3-8-3-14-6 5-4-3-2 2-1 7-1-10-1 10-1 3-7 1-7 1-3-6-2 3 0 4 0-10-1 5-2 11 0-3 0-16 0 7-3 3-4-14-2 19 0 2-1-15-2 10-6-5-14 8-1-5-1 2-2-15-1 19-2-17-4 11 0-8-3 4-3 11-2 1-1-13-3-7-9 18-6-5-1 3-1-13-1 11-2-15-6 12-5 1-3-4-3-9-1 1-2 14-1-2-2-9-1 12-1-5-2 1-4-1-4 3-3-5-14 7-2 4-13-8-16-11 41 41 0-15 2 19 9-19 14 2 1 11 4 0 5-16 5 21 15-20 4 0 3 17 1-19 5 16 2-13 1 13 4-4 0-5 8 16 0-13 1-10 4 0 11 7 1-2 4 4 8-7 2 9 0-4 6-1 1 3 7 8 6 5 5-18 1 17 3-10 2-10 4 9 4 1 1-5 1-1 7 17 2-20 4 16 6-5 4-13 4 1 5 18 4 1 3 3 1-6 0-6 8-3 3-3 10 6 9 9 1-11 6-6 3-2 5 2 8-1 60 0-33 43-13-7-9 1-10 0-6 1-3-11-28 10-5-5-2 13 0-23-4 15-1-12-9 3-16 9-14 7-27-8-3-14-4 16-3-2 0 8-3-18-7-4-11 7 0-2-16 6-5 4-3-8-2 2-5 1-7 7-24-7-12 7-3 2-1-14-4 0-3-3-2 20-2-11-20-7-1 19-23-8-1-15 29 36 4-11 18 7 6-4 8 1 15 4 8 8 6-8 30 6 4-7 2 4 1-4 5-3 10 14 4-14 8 2 2 11 5-1 1-16 2 20 1-11 1-6 7 8 2 4 5-9 5-5 14 13 11-3 16-12 1 16 10 2 16-8 20 10 2 2 25-6 1 6 29-21-7 31-1-1-3 9-4 4-1-20-8 17-13-1-2-4 0 5 0 5-2-6 0-12-17 13-2-12-4-3-3 11-1-7-5 4-1-9-8 17-12-6-1 0-4-6-1 4-1 13-7-18-4 0-3 12-2 0-4-13-3 5-7-3-5 12-10-7-1 0-1-10-21 0 0 7-2-4-8 16 0-13-1 11-23-10-4 6-10 3-3-10-1-4-2 11-8-1-1 7-13 1-1-15-14-3-10 20 37 1 14 11 14-10 9-1 2 20 7 2 3 0 0-11 6 9 11-13 7 13 10-4 1-1 11 5 18-2 1-15 12 0 12-1 3-2 2 21 18-13 4 10 5-17 10 12 0 10 10-16 4-2 1-4 3 13 3 7 1-11 8 0 2 7 5 0-2 12-11 7-8-2-10 0-42-7-5 3-38 3-31 2-19-4 142 29"/>
<rect class="bd" x="0" y="0" width="321.3" height="328.0"/>
<path class="tk" d="M16.9 328.0v5M95.7 328.0v5M174.5 328.0v5M253.3 328.0v5"/>
<text class="tl" x="16.9" y="350.2" text-anchor="middle">-40</text>
<text class="tl" x="95.7" y="350.2" text-anchor="middle">-20</text>
<text class="tl" x="174.5" y="350.2" text-anchor="middle">0</text>
<text class="tl" x="253.3" y="350.2" text-anchor="middle">20</text>
</g>
<g transform="translate(1424.4 984.9)">
<path class="mn" d="M56.3 0V328.0M135.1 0V328.0M213.9 0V328.0M292.7 0V328.0M0 295.8H321.3M0 207.0H321.3M0 118.2H321.3M0 29.4H321.3"/>
<path class="mj" d="M16.9 0V328.0M95.7 0V328.0M174.5 0V328.0M253.3 0V328.0M0 251.4H321.3M0 162.6H321.3M0 73.8H321.3"/>
<use href="#gC"/>

<path class="mbC" transform="scale(.5)" d="M479 144l63 12-11 14-22 8-15 11-13-1-7-18-47 15-91-3-37 7-7 0-8-4-8-11-12 3-11-7-40 26 33 1 10 18 6-15 6-1 8 12 1-1 16 4 3-7 2 7 10-2 17-2 1-6 1 4 4-9 6 3 7-5 2 13 0-1 5-2 4 1 0-3 18-10 10 16 1-5 15 9 8-16 11 13 2 2 10-7 1 3 17-13 11-4 5 6 5 8 2 6 18-14 1 16 1-9 1-12 1 0 38 43-3-2-28-16-31 19-8-15-9 8-9-4-11 11-2-8-2 3-1 0-3-8-2 10-1-9-3-2-11 7-3-5-10-10 0 15 0-9-3-3-6 20-4-22 0 3-3-1-1 20-13-4-14-3-2-3 0-2-2 9-1-14-1-6-1 17-4-12-1-4-1 21 0-6-1-9-2 3-10-3-2 13-1-10-1-8-2 7-8 2-7-6-3-3-27-2-3 13 0-3-1 3-2 9-1-8-2 8-10 0-13-7-2 7-2-22-5 22-8-4 0-6-2-8-4 12-6 2-2-13-1 7-8 6-1-16-10 4-24 24 1 2 5 6 0 9 11-8 3-6 2-7 6-1 9 9 1 1 11 7 1-14 2 4 4 6 5-7 9 7 2-3 2 12 6-8 1 6 1-6 0-6 1 10 5-10 3 9 1-9 13-7 5 2 3 18 6-13 2 13 2-12 1 11 1-4 5-12 2-1 8 3 12 16 2 0 0-4 1-2 1-6 1 3 3-8 3-5 2 8 2 4 1-2 6 4 0 7 0-10 9 2 5-1 1-10 0 19 3-21 4 11 1-6 3 5 2 0 2 0 9-3 9 4 2 2 4-2 0 10 0-14 0 7 2-5 3-1 3-4 0 9 2-12 0 1 3 17 6-8 7-4 3-3 8 14 2-4 2 4 2-12 1-4 1 7 0 7 5-14 1 3 5 8 2-5 2 14 8-23 8 16 1 4 5-6 12-4 1-6 4 13 14-17 0 20 8-5 10 7-1 19-14 1-12-1-1-1-2-12 0 17-10-15-2 2-2-4-10-4-3 17-3-6 0-1 0-8-2 13-1 6-5-13-1 11-1-3-2-7-5 4 0-10-3 17-12-20-8 16-6-11-3-3-6 6-6 8-3-12-1 17-2-11-7 10-1-17-3 10 0-12 0 12-5-2-6 12-1-6-2 6-2-18 0 8-3 1-5-13 0 14-1-5-2 10-2-14-3 9 0 4-7-18-1 7-3 15-1-1-3-20-4 12-3 5-2-1-1-4-1-7-2-7-2 13-2 10-1-21-1 16 0 1-1-7-6-12-1 15-5-15-3 16-1-9-3 16-2-15-1-2-3-2-2 17 0-3-1 1-1-2 0-8-1 1-1-2-4 14-1-16-1-2-3 18-5-8-3 6-3 2-4-17 0 11-7 2-1-6 0 11-3-21-1 13-1 4-5-19-2 13-3-7-2 7-11 1-2-14-1 11-3-6-2 17-3-18-9 6-2 9 0 1-1-6-1-12 0 2-3 3-2-6-4 14-8 1 0-7-14-2 0-6-4 4-6 1-3 12-20 26 11-10 5 12 14-19 7 19 6-19 3 20 1-13 2-3 1 4 2-6 2 7 0 7 0 2 1-20 4 10 2 10 1 2 8-23 0 14 4 2 6-4 1-3 8-9 1 22 0-6 3-2 4 2 1-8 3 5 1-9 0 6 2-1 1 11 1-7 1-1 2-5 0-5 1 17 2-10 2 13 1-15 3-4 2 15 3-8 4-3 3-3 4 1 1 18 1-10 3 6 3 1 6-8 6 1 3-10 7 16 3-13 3 17 3-19 3 10 0 3 0-1 3-8 0-5 2 5 4-6 6-1 3 2 1 8 2 4 3 8 1-6 0-9 1 9 2-10 4 15 0 0 1-2 1-14 1-1 8 1 7-4 8 0 2 9 1-1 2 0 4 5 0 4 0 4 3-2 3-8 4-5 1 5 2-8 3 1 1 8 1 9 3-21 0 2 0 16 3-2 2-2 0 5 5-21 0 18 2-5 3-6 2 2 3-4 4 13 3-17 1 11 3-6 1 13 0-7 4-2 2 10 4-7 5 3 1-11 1 9 1-10 1-2 0 5 1 16 1-6 0-15 0 9 2 11 2-11 5 8 5-14 4 16 1-10 8-2 9-1 2 1 10-8 0 8 18 0 11-9 3 7-7 37-10-15-2 14-7-14-5-5-1 13-1-13-1 13-11 2 0 6-2 2-2-22-3 19-10-1-3-3 0-1-11 7-2-15-4-7-1 10-1-9-1 19-1 3-4-23-6 16-5-11 0-3-5 12-9 3-3 1-3-12-6 4-2-2-2 6-1-5 0 6-5-4-7 11-1-8-2-4-1-6-1 9-6-3-4 3-7 0-1-6-11 8-1 8-1-15 0 11-1 2-4-17-4 18-1-17-2 9-2 2-3-13 0 4-7 8 0-5-1 10-4 3-3-1-10 0-2-21-1 4 0 10-3-8-2-6-2 8-1 0-5-1-2 8-1-10-1 0-1 16-1-5-6-5-4-2 0 3-1 4-1-9-3 10-3 4-8-1-1 2 0-18-6 5-2 2-3-3 0 4-9-2-3-5-1 15-13-13-18-4 0 10-4-2 0-1-5 2-10-6-1 0-1-3-1 4-9 6-2-10-1 10-2-1-6 3-6 2-10-16-4-1-2 0 0 9-12 24 16 0 4-8 7 0 4 11 0 3 1-15 2 11 1-7 8 16 3-16 5-1 1-3 7 16 18-7 1 12 2-10 1 9 0-2 3-8 8 11 3-17 0-1 3-4 6 21 0-3 1-12 12-1 3 15 5-14 0 4 8-8 3 19 1-16 3 4 6-5 3-2 4-1 1 18 1-5 2 0 0-10 0 17 1-15 2 0 0 16 5-4 1-3 2 5 0-17 1 4 1-6 1 20 3-3 1-17 1 17 2-6 1 6 1-17 3 10 1 0 3 1 1 1 1-1 6 9 3-9 2 9 0-2 4-14 2-5 2 19 2-6 3 6 1-14 0 10 5-5 1-2 1-7 3 18 4 2 1 1 2 0 1-16 1 3 8 1 3-10 0 2 1 8 2 8 1-6 1 8 2 0 6-2 3-14 5 18 2 0 1-2 1-10 1-10 2 10 4 0 1-10 2 16 4-6 4 1 1 12 2-22 16 19 2-16 3-4 4 17 8-8 8 7 0-15 2 9 7-4 2 15 6 2 0-15 9-5 52 12-6 10-18 19-7-16-9 16-9-13-2 13-2-14-13-4-10 6-5 1-1 11-1-11-1 14-5-8-1-1-3-13-3 14-5 2 0-14 0 2-5 10-3 6-1-6-1 8 0-12-11 3-7-9-5 12-5-8-4 1-1 6 0-15-2 22-1-17-1 1-2 4-8 7-2-2-2 2-6-3-2-1-5 7-5 0-3-3-1-1-6-9 0 13-3-7-6-2-2-8-1 8-5 11-3-16-4-3-1 17-1-9 0 11-12-1-3-10-7 6 0-7 0 12-1-12 0 9-7-8-9 4-1-4-13-9-3 18 0-9-8-9-1 8-1-3 0-2-1 7-6-6-2 4 0-10-11 20-3-18-3 14 0-11-3 7-2-4-3 5-1-12-1 5-2 16-1-22-1 0-8 9-6 3-1-10-5 20-5-8-11 8-10-19-2 6 0-7-11 19-9-9 62 11 1 8 7-8 2 17 5-3 5 6 4-10 3 5 7-9 3-5 5 15 5-15 8 0 1-1 7 6 1 14 6-13 4 7 3 4 1 4 3-20 3 0 0 6 8-7 4 0 0 21 1-16 0 11 1-8 2 7 4-16 12 18 0-11 2-7 4 2 1 15 5-10 9 4 2-6 1 6 1-8 6 16 1-16 0 13 2-3 2-11 2 15 21-13 3-1 2-1 2 9 4-7 5-1 2 10 4-5 1 4 1 3 1-6 2 12 0-13 4 11 1-10 5-7 3 15 9 0 9-9 1 5 10 6 0-10 1-5 9-3 3 21 4-12 8 10 4-11 4-7 3 17 7-16 5 11 1-7-73 23-2 17-1-5-7 2-5-3-10 6-2-2-7-18-11 11-23-2-2-1-7-8-10 1-11 3-7 7-2-6-3 11-5-6-2 6 0-6-9 6-2-1-13 3 0-20-1 4-3 0-9 2 0-2-2 12 0 3-2-1-36-5-9-13-8 1-22 6-4-5 39 23 64 7 21-9 12 22 29-17 6 14 0-14 10 9 1-12 3 21 20-14 4-5 3 2 2 3 12 0 10-6 1 17 5 3-29 4-23-1-11 6-17 6-14-10-18-1"/>
<rect class="bd" x="0" y="0" width="321.3" height="328.0"/>
<path class="tk" d="M16.9 328.0v5M95.7 328.0v5M174.5 328.0v5M253.3 328.0v5"/>
<text class="tl" x="16.9" y="350.2" text-anchor="middle">-40</text>
<text class="tl" x="95.7" y="350.2" text-anchor="middle">-20</text>
<text class="tl" x="174.5" y="350.2" text-anchor="middle">0</text>
<text class="tl" x="253.3" y="350.2" text-anchor="middle">20</text>
</g>
<g transform="translate(1756.9 984.9)">
<path class="mn" d="M56.3 0V328.0M135.1 0V328.0M213.9 0V328.0M292.7 0V328.0M0 295.8H321.3M0 207.0H321.3M0 118.2H321.3M0 29.4H321.3"/>
<path class="mj" d="M16.9 0V328.0M95.7 0V328.0M174.5 0V328.0M253.3 0V328.0M0 251.4H321.3M0 162.6H321.3M0 73.8H321.3"/>
<use href="#gC"/>

<path class="mbC" transform="scale(.5)" d="M520 154l-12 24-62 7-181 25 130-4 28-6 16 7 16-4 64 10 67 23-93-19-23 13-24-3-8 5-25-2-16 2-5-10-4 6-10 5-5 1-3-10-6-7-1 6-18 11-9 4-3-17-10 11-2-11-1-5 0 8-2-4-3-2-9 11-41 9-31-10-3 7-17 4-18-3 11 8 8 18 15-8 28-4 5 12 7-8 3 0 2-7 24 6 3 4 3-10 6-1 8 17 1-13 7 11 1-4 5-8 3 11 0-9 5-10 1 22 3-3 2-11 6 0 0 9 2-4 7 3 6-1 7 0 5 4 11 3 29-5 12-6 2 9 6-14 1-4 4 8 9 0 3 2 6 0 27-3 8 5 12-5 83 7 14 22-83-15-6 11-6 11-2-4-3-4-8 2-2-14-14 4-1 15-2-14-3 7-5-4-15 9-5-12-10-1-1 10-5 6-15-1-6 2-6-19 0 10-4 9-2-5-15 4-11 0-6-4-11-6-2-2-11 3-16-4-4-6 0 8-1-2-5 3-3 2 0 0-5 3-15-3-7-9-6 12-2 5-2-14-3-2-22-5-6 14-7-14-13 20-1 0-1 0-11-15-7 9-35-9-6 19 17 10 14-11 8 1 3 20 2-2 2-11 3 14 4 1 4-21 1 16 11-1 4 0 4-10 0 14 15-7 7 8 4-13 8 0 13 12 3-4 0-2 4-4 0 9 0-8 11-5 13-3 7 10 9-11 1 13 2 7 0-1 6-10 1 5 1 3 1-2 0-18 0 9 7 10 2-7 2-5 5 1 3 10 5-7 4-11 13 19 3-9 2-1 2 8 2-1 0-3 5 5 1 0 2-15 1 19 5-11 6 2 1 1 3 5 5 1 15-11 2 14 14-9 4-5 5 3 5-1 1 1 3 8 21-7 20-2 3 4 2 1 5 2 2 1 12 23-24-15-6 9-14-2 0-7-27 17-20 0-6-4-7-12-4 4-12 11 0 2-2-5-5-16-3 3-7 9-4-4-11 4-4-8-3 8-2 11-4 0-3-3-10-6-7 3-17-11-1 11-7-9-2 15 0-15-2 5-4 1-1-3-3 12-3-8-1-4-7 8-1-19 0 6-2 1-1 0-1-6-8 3-10 19-10-9-1 3-1-11-9 12-1-13-7 0-1 10-4-7-2 15-3-8 0 5-1-18-14 21-4-23-12 15-1 6-6-7-18-6-38 30 34-4 14 13 7-4 1-4 39-5 1 3 11 9 4-2 10-17 1 15 2-15 3 11 10-1 4-4 2 6 3-13 9 21 1-17 3 2 2 0 4 2 1-6 11 0 1-3 5 8 5 1 2-1 1-4 1 0 3 5 7-8 1 18 4 2 0-9 1 5 4-5 12 9 3-9 4 4 1-11 0 10 8 1 2-7 3 0 1-2 7 2 13 4 3 6 2-17 7 19 4-20 9 3 14-2 4 9 15 6 8-1 12 19-14-2-7-6-9 18-13-19-5 3-9 14-10-11-5 1-10 0-5-7-8 5-10-7-8 12-7 0-5-9 0 19-3-23-3 0-3 0-1 7-10-2-10 6-3 1-9 7-1-15-1 7-2-6-10 10-4-4-12-2-5 7-7-10-3 3 0-8-1 15-8-15-3 10-8-10-4 1-13 20-7-7 0 4-11-11-11 8-6-13-18-1-2 8 0 9-25-4 26 13 8 15 59-14 1 4 23-7 28 12 17-10 6 6 4-3 17 9 3-13 8-2 1 12 2 0 6 4 3-15 0-2 6 13 11-9 0 3 1-4 6 14 12 1 3-3 53 0 3-12 3 2 43 26-132-4-5 6 0-1-30 3-31-11 0 22-13-19-57 12-2 2 174 50-354 26 19-15 361 22-37 8-374-1 317 13 3 10 4-4 28 7-21 16-81 15-10-14 56 19-11 32"/>
<rect class="bd" x="0" y="0" width="321.3" height="328.0"/>
<path class="tk" d="M16.9 328.0v5M95.7 328.0v5M174.5 328.0v5M253.3 328.0v5"/>
<text class="tl" x="16.9" y="350.2" text-anchor="middle">-40</text>
<text class="tl" x="95.7" y="350.2" text-anchor="middle">-20</text>
<text class="tl" x="174.5" y="350.2" text-anchor="middle">0</text>
<text class="tl" x="253.3" y="350.2" text-anchor="middle">20</text>
</g>
<g transform="translate(94.4 1398.8)">
<path class="mn" d="M34.2 0V327.0M121.0 0V327.0M207.8 0V327.0M294.6 0V327.0M0 303.7H321.3M0 218.6H321.3M0 133.4H321.3M0 48.3H321.3"/>
<path class="mj" d="M77.6 0V327.0M164.4 0V327.0M251.2 0V327.0M0 261.2H321.3M0 176.0H321.3M0 90.8H321.3M0 5.7H321.3"/>
<use href="#gD"/>

<path class="mbD" transform="scale(.5)" d="M231 212l3-5 6-6 1 8 6-1 0 2 0 1 4-9 0 13 36-7 3-4 1-10 4 11 12-4 0 8 6-6 1 8 6-10 1-1 2 6 2-3 1-3 0 5 0 2 1-14 1 17 1-16 2 8 0-6 1-2 0 20 1-1 2-21 3 18 2-2 1 4 3-11 16 30-18-4-1-1-1 3-1 7 0-13 0-6-1 9-2-8 0 10 0-10-2 6-2 1 0 2-1 5 0 0 0-14-1 9 0 3 0-4-2-6 0 16 0-16-1 6 0-3-1 10-1 3 0-15-3-5-1 10-1 0-4 11-5-21-3 18-3-3-9 7-1-10-8 5-13-11-3 1-3 15-7-17-1 7-1 3-1 4-24 4-1-2-1-6-3-6-1 7-4-10-9 6-2-8-4 11-8 3-11 5-4-16-20 27 1 1 2-10 3 6 1 3 4 12 3-1 3 1 3-12 3 3 0 2 3-5 7 5 0 4 2 0 5-7 5-6 3-2 1 9 6-1 2 2 0-6 6 2 1 13 1-22 2 3 4 19 1-2 0-6 2 2 4-5 2 0 4 9 1-2 3-6 0-13 3 12 0-1 0-3 3 11 31-15 1 1 4-2 6 8 13 1 10 7 3-18 3 15 2-15 14 9 0 13 0-3 21-10 18 15-4 17-1-1-5-4-12-8-1 1-4 12 0-17-35 22-1-19-1-2-3 17 0 2 0-1-1 1-5-11-1 0-1 4-2 2 0 5-4-1-1-17-1 11-4 0-5 7-2-6 0 8-1-12-1 0 0-3 0 2 0 3-7 0-1-1 0-3-1-6-2 14-3-14-2 4-1 0-3 11-2-13-1 0 0 18-4-12-2-3 0 15-5-14 0 12-1-2-1-2-1-11 0 16-1-14-1 6-3-13-1 7-2-3 0 4-6 10-1 3 0-8-2 6-2-14 0-1-1 13-1-13-1 7-2-12-4 22-3-10-2-5 0 12-1-10-4 1-5 12-2-13 0-5-1 11-7-10-1 14-2-15-5 17-8-16 0 14-3 3-3 0-3-15-3 9-3-6 0 0-1 5-4-15-4 21-2-10-2-3-20 22 14 11 2 5 3-16 3 13 9-9 1 6 16-6 1-9 3 21 2-1 3 0 4-3 0-6 4-4 1 7 0-9 1-2 0 10 1-8 0 7 4-10 1 4 0 0 3 13 1 0 1-13 2 15 2 1 1-11 1 9 4-17 1 14 4-15 3 7 0-5 0 18 2-19 1-1 1 0 2 6 4 2 2-4 0 2 1 0 1 12 1-2 0-3 2-1 0-1 2-12 1 0 0 0 0-2 2 1 0 15 0 6 4-4 1-11 0-6 1 2 2 10 0-10 0 6 2 4 0-1 0-4 0 5 2 2 1 2 2 1 2 1 1-7 1 4 0-5 1 11 2-6 6-14 3 7 0 14 2-23 1 19 2-4 0-4 1-6 1 5 1 2 0 10 1-5 6-12 0 17 1-17 0-3 1 4 3 13 6-5 0 3 1 5 2-14 1 15 6-1 3-3 4-2 0-5 0-3 10-3 4-3 2 6 0 14 6-3 13 3 9-5 10-11 14-6 14 9-16 36-6-7-5-14-2 15-15-3-5-3-3 10-6-6-2 4-10-3 0 6-4-11-1 3-1 8 0-1-3-19-1 15 0 2-4-14-2 17-2-19-2 19-4-13-3 3-1 12-7-15-1-7-2 19-2-2-6 5-1-22-5 13-1 6 0-20-5 7 0-7-5 17 0-5 0 2-10-4-2-6-4 7-1-10-1 8 0-5-2 16-2-15 0 3-1-3-3 18 0-5-3-11-1 0 0 5-3 10-1-10-4-10-1 11-1-3 0 8-1-14-1 19-1-12 0 12-1-4 0 2-6-14-3 10-2 3-3-2-2-5-2 1-1-6 0-3-1-3-3 3-2 8-3 3-1-8 0 14-1-18-5 13-4 0 0-17-3 21-6-7-4 9-1-18-8 7-4 0-2-11-12-1-3 14-2-4-3 8-3 1-14 1-10 11 2 9 14 5 3-15 6 15 11-2 10 4 2-6 4 5 5-19 3 9 0 5 2 3 3-4 0 4 4-1 1-7 0 4 1-2 2 4 2 4 0 0 4-8 1-2 1-12 3 22 3 0 2 1 1-23 1 22 4-9 1 3 0-9 1 15 0-20 1 5 0 2 0-7 4 9 0-3 1 5 1 10 1-10 0-6 0 3 1-9 0 0 1 3 2 17 3-11 3 6 1 7 4-4 0-15 1 9 0 8 0-13 1 15 1-1 0-21 1 6 0 7 1-12 1 6 0-6 0 5 2-5 0 1 0 10 1-5 5-5 0 6 0 10 2 0 0-10 2-1 1 4 2 1 1-8 2 8 1 7 3-19 1-1 1 8 2 10 0-3 1-1 2 9 1-14 0 3 1 11 2-13 1 4 1 6 1 1 0-9 2 8 0-18 3 17 1-9 3-10 1 6 0 9 3-10 2-5 0 19 2-4 0 1 0-3 1-13 0 16 1-12 0 15 1-3 0 7 6-9 6 3 1-6 0 7 3 2 0-15 0-3 2 2 0-1 0 16 7-8 1-2 0 7 5-12 6-3 0 7 5-3 3-2 0 17 2-10 4-6 6-2 1 7 1-8 1 5 1 7 2-9 2 19 7-17 6 0 15 8 19 2 3 4 7-18-1 25-32 18-6-15-4 13-7-8-3 12-4-9-5 7-6-15-6 0-2 1-3-2-2-3-8 3-5 18-1-1-1-20-1 4-3 0-5 3 0 8-3-13 0-1-1 14 0-15-3 8 0 0-2 4-2 3-1 3-2-15-1 4-3 0-2-1 0 10-3-9-4 10 0-15 0 9-1-2 0-3 0 13-2-20-2 7-3-6-1 8-3 4-1 9-2-13 0-1-1-4 0-2 0 14-6-9 0-1 0 4-3-11-1 23-1-22-1 16 0-15-2 16-5-15-2 11-2 8 0-12-2-8-2 0-3 5-1 7 0 7 0-13-1-5-2 1-3-1 0 4 0 11-5-14 0-2-1 1 0 8 0 5 0 5-1-18 0 2-2 0-3 7 0 5-4-10-1-7-1 1 0 18-1-8-1 2-3 8 0-2 0-5-1-13-1 4-1-2-5 12 0-3-1 1-1-12-4 1-2 19-10-18-1 10-7-4-8 1-9 5-1-15-12 5-2-5-5 8-27 25 8 12 3-14 15 9 4-7 20 8 0 2 1-16 0 14 3-6 1 10 0-18 1 17 5-12 0-6 1-2 1 19 3-10 4 3 7-3 2 2 3-1 1 13 3-18 1 6 2 9 5-14 1 4 2 2 3 6 1-9 2 6 6-12 0-3 3 13 1 4 2-10 1 12 2-12 2-1 1-1 0 11 0 2 1-18 1 2 0 15 0-7 3-5 0 1 3 9 0-14 1 11 0-3 1-7 1 15 1-9 1 6 0 9 0-4 1-9 4 11 1-8 4-4 1-2 0 11 0-15 7 2 2 2 1 6 1-1 1 1 4-2 0 6 0-4 0 9 1 0 2-19 0 14 0-17 3 5 3 8 0-7 2-1 2 14 7 2 2-2 5 3 1-8 3-11 3 0 0 18 1-4 1-3 0-9 1 15 2 1 3-2 0 2 3-7 0-3 7 2 0 1 1 7 5-4 1-11 1 7 7 1 1 1 1 8 1-16 4 11 2-1 4-1 9-10 1 13 6-17 7 15 6-8 2 7 4-14 12 19-10 14-3-8-4-2-4 6-5 11-1-3 0-7-4-1-1 3-2-8-9 6-1 11 0 4-1 0 0-6-9 3-2-11-1 1-6 9 0 1-2-8-17-6-2 14 0-2-3-1-1-5-1 4-1-1-2-11-4-4-5 11-4-2 0-2-2-3-3-2-1 20-3-4 0-6-2-8-3 18-1-21-1 1-1 14-2-8 0 5-1 3 0-16 0 15-2 5-1-20 0 5-7 17-1-21 0 17-2 5 0-15-1 14-1-18-1 19-1-10 0 6-3 4 0-12-2 7-1-15 0-1-3 13 0-5-2 0-2-7 0 18-9-1 0-1-8-6 0-4-4 8 0-17-2 7-1 7-1 8-1 0-4-13-5 1-8 12-5-11-1-8-2-3 0 19-4 2-3-20-2 6-1 15-2-19 0 0-6 11 0-6-1-2-1 17 0-14-5-8-1 12-6 0-5-6-2-5-2 3-7 5-2-7-2 9 0 9-14-2-18-10 25 21 5 12 18-17 5 0 5 18 1 3 3-13 1 5 2-10 1 17 7-21 2 11 5-10 5 6 2-7 4 12 1 11 3-22 4 16 4-14 4 7 2-9 3 14 8-9 1 14 0 2 5-2 1-7 8 9 1 0 1-15 1-4 0 13 2 4 1-9 1-7 2-1 1 1 1 19 1-15 2 0 3 8 1-2 1-7 3 7 4-4 2 10 1-5 1-2 2-13 5 15 0-12 2 0 0 0 2 5 0 15 1-8 0-13 5 6 2-3 3 13 0-3 6 5 3-18 8 19 4-19 5 3 13 15 6-4 1-9 0 6 8-2 17-7 8 0 2 6 9 1 22 7-31 17-3-7 0 2-6 11-4-13-1 3-5 4-1 10-3-17-4 12-2 6-2-11-5-4-6 16-3-20-1 7-2 9-3-9-4 10-1-19-8 3-1 12-1 5-2-1 0-18-3 4-2-2-5 11-3-8 0 14 0-19 0 8-2 3 0-3-1 4-2-9-3 8-4-10-2 0-2 15 0 5-4-4-1-13-1-5-2 14-1-6 0 0 0-3-1 14-2-6-1-11-1-3 0 10-4 9-1-16 0 11-5-9-3 11-3-2-2 1-1-10 0 8-1-8-1-3-1 19-1-20-1 7 0 14-2-9 0-12-3 21-4-14-2 12-1-11-4 5-1-11-14 17 0-9-7-11-6 21-3-1-2-16 0 1-1 11-2-3-1 0-3-6-3-3-6 7 0 6-6-7-9 0-2 13-2-17-2-3-13 1-11 18-6-13-2 13-8-11 20 29 26-3 21-3 1-3 2 2 8 4 2-11 5 18 7-3 7-2 2 5 0-4 3-9 1 3 2-8 2 21 2-20 1 1 1 13 0-3 3-5 2 2 3-5 3-6 1 13 1 7 2 0 5-10 1 10 0-11 1 2 0 9 0 0 1-6 0-11 1 19 1-13 0 4 0-3 0 9 1-11 1 3 0-11 1 0 3 0 2 1 1 20 1-17 1 12 0-3 1 4 3-2 6 3 0-6 1-8 3 5 2 9 0-4 2 1 4-2 0 3 1-13 3 1 1 18 0-8 2-12 2 13 0-14 1 10 0-5 0 14 1-1 0-1 1 5 1-8 0-3 0 1 0 0 2-1 1-4 2 9 2 3 2-11 0-5 4-4 3 20 3 2 0-11 4 10 1-3 3-3 5-3 2-6 1 9 3 0 0-13 0 5 1 9 3-3 5-6 3-7 1 19 1-7 1 9 2-14 2 7 1-8 1 13 6-8 3 3 0 5 3-1 3-9 1-1 4-8 1 21 0-1 4-15 5 17 7-18 11 17-12 7-7 0-5 9-11-5-3 14-2-8 0-3-2-3-1 5-1-13-2 5-2 18-2-7-4 7-1-7-1 2-6-5-1 3-1-10-2-4 0 12-2-10-2 8-7-2-1 7-1-4-2-13-1 14-1-3 0-2-2 2-6 5 0 2-2-10-2-6-1 8-3-8-1 17-2-14-4-4-1 21-1-17-1 6-2-7-4 15-1-1-1-12-3 10-1 1 0-14-4 4-2 11-7 5-1-7-4 1-3-15 0 13-4-8-2 15 0-9-1-4-1-6-2 20-2-22-1 10-2 6-5-2-1-13-1 18-4-2-3-13-1-5 0 15-7 6 0-4-1-8-3-2-5 16-3-20-2 3-2-3-3 16-3-17-2 7-1-5-1-2-1 17-1-19-4 17-5-1-1 0-2-8-4 14 0-9-3-8-4 11-6 7-1-15-1 11-3-17-16 11-11-5-1-3 32 38 3-18 7 21 1-11 3 4 13-5 3 0 0 5 7-15 2 2 2 7 3 0 4 1 4 10 3-17 2 18 5-14 5 1 1-2 7 2 1-6 2 8 1-2 1-7 2 14 3 0 0 3 4-11 2 1 1 0 8 15 1-13 1-3 4 10 1-15 2 14 1-7 1-1 1-5 2 19 1-22 1 21 3-4 0-5 5 2 1 7 4-13 1 3 2 3 1-4 3-7 2-3 5 9 5 8 5 0 2-2 1 6 9-9 0-7 2 0 4-2 5 6 9 5 3 8 6-8 17 0 1 7 1-9 3 8-11 7-4-3-10 4-5 13-6-9-4 5-9-4-2 9-13-11-1-1-1-4 0 18-2-19-5 2-4 19 0-17-3 10-1-9-12 4-3-7 0 11-9-1-3-2-7-8-1 0-3 14-5-4 0-4-8 7-2-16 0 15-1-10 0 8-8-10-4-1-1 8-3-6-2-3-5 22-2-7-3-8-1 13-1-5-7 3-3-3 25 16 5-6 4 10 1-10 7 0 1-1 6 6 33 12 6-10 4-8 8 6 8-2 8-3 34 4"/>
<rect class="bd" x="0" y="0" width="321.3" height="327.0"/>
<path class="tk" d="M77.6 327.0v5M164.4 327.0v5M251.2 327.0v5M-5 261.2h5M-5 176.0h5M-5 90.8h5M-5 5.7h5"/>
<text class="tl" x="77.6" y="349.2" text-anchor="middle">-20</text>
<text class="tl" x="164.4" y="349.2" text-anchor="middle">0</text>
<text class="tl" x="251.2" y="349.2" text-anchor="middle">20</text>
<text class="tl" x="-11" y="266.7" text-anchor="end">-20</text>
<text class="tl" x="-11" y="181.5" text-anchor="end">0</text>
<text class="tl" x="-11" y="96.3" text-anchor="end">20</text>
<text class="tl" x="-11" y="11.2" text-anchor="end">40</text>
</g>
<g transform="translate(426.9 1398.8)">
<path class="mn" d="M34.2 0V327.0M121.0 0V327.0M207.8 0V327.0M294.6 0V327.0M0 303.7H321.3M0 218.6H321.3M0 133.4H321.3M0 48.3H321.3"/>
<path class="mj" d="M77.6 0V327.0M164.4 0V327.0M251.2 0V327.0M0 261.2H321.3M0 176.0H321.3M0 90.8H321.3M0 5.7H321.3"/>
<use href="#gD"/>

<path class="mbD" transform="scale(.5)" d="M451 52l-109 37 31 21 79 0-34 21-58 13 3 18 96 2 2-16 49 13 8-10 38 19-90 12-91-13-21 20-46 0-15-7-11 3-58 27 37-1 58-10 12 8 7-11 14 0 9 5 2 3 6-9 13 1 34 17 2-15 105-6-68 26-15 2-1-2-20-3-6 7-33 0-10 5-15-12-1 13-2-4-13 8-2-7-1-11 0 16-2-8-4 14-1-4-11 5-6-7-1-6-1-7-1 15-5-11-6 12-1-13-1 11-23 0-9-15-8 8-21-3-6 6-3-6-16 2-24 36 44-3 13-1 2-9 6-7 5 15 1 4 5-4 1 1 0-1 2-9 3 2 3 4 13 2 7-15 9 15 1-14 1 4 8 16 1-10 0 5 4-6 10-2 3 7 8 1 6-4 6 8 4-2 1-9 7 8 2-1 2 0 1-1 1 5 3 3 1-18 1 5 1 6 5-6 2 10 3-13 8 9 0-7 1-3 6 10 1 7 3-21 7 14 10 6 8-1 2-12 0 8 4 6 4-22 2 21 10-4 3-18 1 11 0 1 14 0 16 10 7-19 11 18 4 15-13-8-36-2-1 13-5 6-3-3-2 5-3-13-9-1-1-1-3 13-1 0-11-11-2-1-5-5-11-4 0 6-1 8-1 9-2-11-8 7-1-11-2 8-3 6-3-7 0-3-2 1 0-6-3-4 0 9-1-7 0 9-8-5-3-5-4 7-3 7-5 0-4 5-1-9-1 1 0-5-1 8-1 1 0-18 0 7-1 11-2-18-1 10-3-9 0 1-4 18-1-8-1 0-4 8-3 2-8-8-4-7-1-5-2 5-1-5-5-3 0 8-6 2-7 7-2 3-2 0-2-11-1 2-5 11-2-14-9 3-4 1 0 5-3 4-5 2-10-5-6-12 0 16-9-5-2 6-2-4-2-15-9-3-26 1-14-1-8 18 10 28 20-18 2 15 1-7 13 7 10-5 1-8 4 14 7-2 3-9 1 11 1-6 4-9 0 2 5 6 9 9 8-2 0-10 9 6 1-8 0 10 0-2 5-11 2-3 4 12 0-13 1 11 2-3 2-4 1 17 5-4 3 4 6-18 1 10 2-3 0-1 3 3 2-10 3-3 0 14 1-10 4 11 2-7 0 5 1-13 2 14 1-5 6 2 1 2 1-7 0-6 4 21 0-16 1-4 0 16 4-6 0 7 2-19 0 1 1 5 0 9 3 8 0-4 0 0 1 1 0-8 0 11 6-4 1-5 1 4 0-9 1 1 0 4 2-4 1-5 1 7 4 11 5-23 1 0 0 2 0 19 3-17 2 18 1 1 1-6 0-14 1 11 1-13 1 3 1 10 0 9 1-19 1 3 3 1 1 7 2 6 0-2 0-8 2 2 2-12 1-1 6 4 2 12 4 7 3 0 1 0 2-21 1 20 2-21 0 18 2-15 1 14 3-16 7 17 2-6 1-1 5-3 0-4 0-1 0 0 1-4 1 7 1 11 4-18 1 17 17 4 3-14 1 1 15 30-3-5-13 0-15 10-10-4-3 3-4-7-6 0-3 11-5 0 0-7-5-5-1-8-1 19-2-17-4-4-1 23 0-7-2-12 0 17-4-4 0 5-8-10-6 3 0-1-7-3-1 12-2-18-1 15-2-15-3 1-4 12 0-9-2 6 0-14-2 10 0 12-4-15-2 7 0 6-5-9 0-9-1 1-1 13 0-10 0 14-1-11 0 11-1-17-3 12-1 0-2 4-6-14 0 6 0-12-1 11-1 8-1-1-2-15-1 20-1-19-1 5-1 0-1 6-4 7-1-9-4-4-6 5 0-5-2 11-5-6 0-13-3 12 0-2-1 2-2 9-4-19-2 17-5-11-5 14-1-22-2 9-1 4-1 8 0-13-3 11-2-8 0 5-2-11-2 10-3 3-8-18-2 10-3 2-3 5-11-3-3 3-16 5-9-15-6 12-15 1-2-2-17-19-24 2 30 32 14-7 1 16 1-10 16 12 0 2 9-20 8-3 4 20 8-5 7-3 3 6 1 2 13-14 2 14 0-9 0-11 7 6 4-1 3 3 1-4 6-2 1 4 12 4 3 2 8-7 0 17 1-2 0 0 8-20 3 4 2-1 2 14 1-15 3 20 1-8 5 1 3 0 4-14 0 2 5 3 2 1 1 4 0-11 2 15 0 0 1-4 2 2 0-10 0 1 3 5 0 10 0-1 3-12 0 3 3 0 1-1 5-1 3 1 2-5 3 7 0 2 1 6 0-1 0-15 0 7 2-9 2 18 4-10 4 2 0-9 4 13 7-10 1 7 1 8 1-6 1-5 15-4 3 11 10-8 2-3 5 6 0-5 7 18 4-13 1-3 11 16 2-21 1-1 7 0 6 16 1-14 4 8 4 6 6-10-28 32 0-7-9-6-2 10-3 4-24-3-3 0-1-3-3 3-2 7-8-10-3-7 0 4-4-3-8 5-2-8-10 7-1-8-1 15 0 4-2-2-3-6-8-6-4 14-1-19-14 19-4-18 0 22-2-16-1 14 0-7-7-11-1 5-3 4 0-11 0 11-3 10 0-3-4-12-7 14-3-11-6 1-11-6-1 4-2-6 0 13-1-9-2 5-15 4-2 6-7-5-2-13 0 9-1 1-3-2-3-9-7 13-1-12-1 18-9-17-2 14-7-6-1 3-4 2-2 5-1-21-2 11-19-4-4 12-18 2-9-22-13 8 64 26 3 1 14 11 10-15 3 11 7-18 1-1 4 20 7-8 2-4 0-4 2 12 2 4 15-14 1 5 4-5 4 9 2-8 4 0 13 10 3 6 0-2 3-12 8 7 3-15 2 9 2-9 1 8 1 4 5-1 1 5 3-8 1 8 3-6 2 7 4-11 29-7 0 4 3 18 5-14 2 6 1 9 4-7 1-3 0 2 4 1 4 3 1 3 4-8 14-14 0 13 7 0 12-7 1 0 2 11 18-9 13 38-3-13-11 3-14-5-2 11-17-3-16 4-20-19-22 2-2 2 0 11-2-8 0-1-2 15-4-12-1-2-2-4-1 1-7 5 0-2-3 4-2-11-2 14 0-10-1 18 0-9-16 7-1-1-2-10-5 12-1-15-1 3-5 1-1-8-4 16-1 3 0-13-4-4-2 1-3 2-4-2-2-3-11 8-18-7-7 0-4 11-4 5-34-14-44-2-3 7 22 22 8 12 28-10 4 11 22-15 22-2 13 15 5-3 1 6 6-18 5 10 5-5 6 2 11-10 3 6 4-5 4 15 18-4 1 2 3-3 0-5 1 14 3-2 3 1 8-10 4 3 0 0 31 4 2-9 15-4 15-2 2 12 7-9 38 0-46 25-3 6-2 10-23-13 0 2-4 0-18 10-5-15-7 2-14-2-4 8-1 6-1-11-2 6-29-14-7 2-7 13-2-2-22-4-1-3-7-3-6 12-18 3-4-7-6 6-18-1-15 6 9 2 62 11 15 7 0-15 33 14 16-9 24 0 29-8 29-1"/>
<rect class="bd" x="0" y="0" width="321.3" height="327.0"/>
<path class="tk" d="M77.6 327.0v5M164.4 327.0v5M251.2 327.0v5"/>
<text class="tl" x="77.6" y="349.2" text-anchor="middle">-20</text>
<text class="tl" x="164.4" y="349.2" text-anchor="middle">0</text>
<text class="tl" x="251.2" y="349.2" text-anchor="middle">20</text>
</g>
<g transform="translate(759.4 1398.8)">
<path class="mn" d="M34.2 0V327.0M121.0 0V327.0M207.8 0V327.0M294.6 0V327.0M0 303.7H321.3M0 218.6H321.3M0 133.4H321.3M0 48.3H321.3"/>
<path class="mj" d="M77.6 0V327.0M164.4 0V327.0M251.2 0V327.0M0 261.2H321.3M0 176.0H321.3M0 90.8H321.3M0 5.7H321.3"/>
<use href="#gD"/>

<path class="mbD" transform="scale(.5)" d="M290 67l20-2 47 5 88 21-18-19-65 23-1-16-44 12-17-8-11 2-9 7-33-4-14-3-49 2-53 31 6-2 31-1 37-13 18 7 30-13 6 21 57-7 18-6 4-5 1 7 4 9 1-18 8 18 24 2 5-18 2 4 13 5 26 9 5-16 0 6 9 9 5-4 25-9 3 6 6 7 1-1 7-6 28-13 37 5-35 30-38 6-1-13-16 8-21-4-7-3-2 1-4 7-3 5-7-9-10-2-2 3-2 13-2-12-17 8-10 1-10-20-5 21-1-10 0-1-1-4-4-1-4 4-9 10-6-18-14 3-1 10-1 9-4-4-2 4-1-23 0 6-5 10-1-11-1-5-6 22-18-7-4-3-24-9-19 19-9-18-1 18-3-7-22-12-75 5-2 31 5-8 24 11 41-12 19 4 2 12 14-15 0 6 20 6 6-17 33 7 17 4 11 10 3-19 1-3 28 19 28-2 3-10 6 7 7 8 2-4 8-12 7 4 14-4 9 15 8-21 29 0 3 13 26-2 5-6 41 40-20-18-55 1-14 11-3-14-2 13 0 1-4-11 0-2-3 14-7 2-6 2-7-18-2 6 0-7-3 4-3 13-8 0-2 2-5 0-11-13 0-7-3 4-5-2-6-1 0 15-25 6-3-14-7 10-1-6-1-7-10 17 0-4-5-13-4 9-1-9 0-5-14 6-22 2-7 5-1-9-9 16-3-15-6 9-6 5-8-11 0 3-3 0-17-3-10-9-67 11 15 35 12-5 1 6 28-7 5 0 7-8 5 0 2 15 2-7 4-7 2-1 1-1 1 16 3 0 11-21 0 14 10 6 4-14 3 12 0-20 2 14 1-4 13 11 4 0 6-5 8 3 4-13 1 16 1-3 0-6 1 2 1 4 0-7 4-4 0 11 8-14 2-1 2 18 0-17 6 9 2-11 9-3 2 11 3-9 2 20 8-1 7-18 0 6 1 10 2-3 1 5 2-10 3 11 0-19 1 12 1 1 3-15 3 11 3 11 6-18 1 4 1 10 3-16 3-2 3 2 4 5 2 12 3-17 1 13 13-7 4 3 12 7 2-15 1 12 4 6 11 1 0-4 7 4 5-4 10-13 8 2 0 10 1 4 1-18 5 11 33 3-24 28 0-5-3 1-4 5-6-17-5 3-2-5-1 1-4 2-7-7-8 21-5 0 0-17-2-2 0 15 0 1-2-2-2-4-2 0-4 7 0-18-3 12-1 4 0-16-6 4-1 4 0-2-2-6-1 17 0 1-4-18 0 17-2-8 0 12-3-15 0 15-3-13 0 7 0 3-2-18-2 14 0 6 0-9-1-6 0 2 0 3-1 12 0-3 0 0-1-14-1-6-1 14 0-9-1 1-2 13 0-8-2 4-2 0 0-4 0-3-2-4 0 15-1 1-2-11 0-3 0 16 0-12-1-10-1 0 0 14-1 2-1-2-1-11 0 11 0 2-1 3-1-4-1 6 0 0-1-5-2-15 0 19-1-4 0 0 0 4-2 3 0-14-1-3-2 7-3-1-1 3 0 4 0-4-1 5 0-15-3 1 0 2-4 13 0-4 0-3-1-3-1-6-2 7 0 9 0-19-1 17 0-9-1 13-2-7 0-2-1 6-1-1 0-7-1 8 0-14-1 12 0 4 0-2-5-11 0 5-2-9-1 10 0-10-2-2 0 4 0 16-1-19 0 13-2-5 0-10-2 17-2-9 0-9 0 14 0-1-2-6 0 2-1 4-1-7-1-5 0 21-1-19 0 4 0 13-1-1-1-4 0 7-1-16 0 1-1 6-2-9-1 11-3-8 0-1 0 15 0-9 0-11-1 0-1 7 0-8-2 7 0 6-1-9-1 6 0 6-3 5 0-10-1 3-1 3 0-1-2 1 0-17-1 16 0 6-1-8 0 1-1-2-1-7-1-2-1 8-1 0-1-10-1 13-1 7-1 0 0-12-1 0-3 1-1 5-1 2 0 4 0-21-1-1-3 18-1-6-1 4-2 1-2-16 0 0-1 0 0 10 0 7-2-16 0 17 0-3-3 0-2-17-1 20-1-10 0-2-1-2-1-6-1 18-3-11-1 14 0-19 0 8-5-9-2 1-1 15 0-10-1-2-2 8 0 4-4-13-2-1 0 14-2 4 0 2 0-22-1 4-1 8-3-4-1-5-3-2-1 16-3 0-1-11-1 7-2 8-2-20-1 19 0-17-6 16 0-10-1 5-1-1-1 8-2-17-6 9-1-1-4-1-2-5 0 9-2 0-2 1-4-2-14-5-2 1-10 6 0-9-8 5-4 7-2-10-2 9-64 26 19-4 28-2 3-4 4 2 4 7 6-10 2-2 3-1 8 11 1-16 2-2 3 17 0-5 3 8 1-6 4-11 1 19 1-17 11 11 5-6 1 5 4-10 6 13 1-3 1-5 0 11 2 1 3-17 0 8 0 7 0-4 2-16 0 11 0-1 0-4 1 15 1-18 1 5 0 2 1 0 1 3 1 7 0-20 1 13 2-3 1-10 1 16 2-3 1 2 4-14 0 9 1-9 2 20 0-4 1-11 2 15 0-11 1 12 1-3 1-7 0 6 1 0 0-5 1 8 1-2 1-2 1 1 1-12 1 13 0-17 2 9 1 12 1-15 1 11 0-18 0 1 0 18 0 0 1-11 0-4 1-1 1 3 0 0 2 12 0-6 0-12 0 22 1-11 0 4 1-3 0-11 0 17 0-5 1-7 0-2 0 11 1-7 1-6 0 10 0-1 1 9 0-21 0 8 1 9 2 5 0-19 1 3 1 15 1-15 0 5 1-10 2 9 1-8 1 12 0 1 2-15 0 13 1-12 0 9 1 6 1-15 0 3 1-1 0 7 3 8 3-14 1 7 1-10 0 7 0-7 1 15 0-15 0 2 1 15 3-9 0-3 1 11 0 3 0-13 3 12 0 1 0 3 1-12 1-3 0 12 1-9 1-1 1-2 0 8 0 3 1-16 0 15 2-2 1-7 0-4 2 4 0 3 4 5 0-13 0 16 1-5 1 6 0-21 0 12 1-5 1 15 1-10 1 7 1-7 0 9 2-2 0-5 0-8 2-3 0 1 0 14 0-4 1-4 0 11 2-14 2-6 1 18 0-12 1-3 0 14 2-12 4 11 0-2 0-10 0 11 1-14 0 15 0-7 1-10 0 19 2-6 1 0 1-1 1-9 0 17 0-7 0-4 1 8 1-1 1 4 2 2 0-13 1 13 1-15 0 15 2 0 1-6 1-12 1 2 1 13 0-19 0 8 1 9 1-6 1-4 1 5 1 9 1-7 1-1 0 6 0-16 0 10 1-11 1 14 1 6 0 1 1-21 2 14 0-14 1 19 0-12 0-9 1 9 0 12 1-14 0 0 1-5 1 8 0-8 1 11 0 1 1-9 2 3 1 10 1-10 0-6 0 16 1-1 0-14 1 17 0-1 0-6 0 4 1 1 0 1 1 4 0-23 0 3 1-2 1 13 0-4 0-4 1 16 1-3 0-19 1 13 1 4 1 3 0-6 1-1 1-5 1-8 0 22 0-17 2 18 0-6 0 4 1-12 0 1 0 3 0 1 0-14 1 15 1 5 0-17 0 0 0 5 0 2 1 11 0 2 1-5 1-2 1-2 0 0 0-10 1 6 1 3 2 1 0-5 1 12 0-12 0 9 1 4 0-5 1-15 0 11 3-11 1 17 0-14 1 18 1-22 0 18 0-1 2-11 1-6 0 20 0-1 1-12 0 12 1 0 0-20 0 5 3 5 0 2 2-6 1-1 1 9 1-14 0 6 1 7 1-13 0 22 1-20 1 7 1-3 1 4 0 4 2 9 0-11 1 1 1 2 2-10 0 2 0 12 1-6 0 3 0-8 1 15 0-2 0-9 2-6 0 17 0-2 1-2 0-6 1 7 0-17 1 19 0-18 1 6 1 7 1 0 0 6 6-16 0 9 1-2 2-3 0 12 0-14 1-7 1 9 0 3 3 8 1-5 1-3 1-4 0-9 3 22 1-10 0-1 2 9 1-9 2-4 0-6 1 5 1-7 5 10 2-3 2 2 3 10 5-9 2 2 3-10 1 19 3-5 30-14 6 19 22-15 12 10-10 12-18 18-2-15-1 10-5-5 0 7-13-10-2 0-4-3-17 0-5 17-2-19-1 15-1-9-3-4-2 4 0 3 0-9 0 1-2-1 0 2 0 14-1-17-2 4-3 1-1 4 0 9-1-17 0 17-1-8-1-11-3 8-3 7-1-11-1 10 0 6 0-9 0 10-2-14-1 5 0 4-1 3-4 2-1-1-1-6-2-12-2 3-1-1 0 6-2-1-3 12-1-17 0 14-1-13 0 7-2-1 0 3-2 7 0-19-1-3 0 8-1 0 0-6 0 5-2 15 0-17-1 8 0 0-1-6-1-7-2 2-1 12-1 8-1-1 0-15 0-5-1 11-1-2 0-1-2 8 0-11 0 10-1-11 0-1 0 3-2 8-1-9-1 1-1 5 0-13-1 0-1 9-1-9 0 12-1-9-2 6 0 7-1-1 0-12 0 4 0 14 0-12-1-2 0-6-2 0-1 20 0-2-1-2 0-17 0 8-1 10 0 5 0-3-1-19-1 6-1 5 0-4 0-1-1-2 0 3 0 1 0 12 0-3 0-18-2 5 0 0 0 6 0-7-1 3 0 15 0-1-1 2 0-6 0 6 0-1-1 1 0-4 0 3-1-17 0 15-1-18 0 3-1 18-1-23 0 12-1 5 0-10-1-1 0-6 0 2-2-1-1 19 0-15 0 2 0 6-1-4-1 10 0 4 0-12-1 0-1 6 0-1-2-5 0 12 0-8-1-12-1 15 0 0-1 3-2-17 0 15 0 1 0-11 0-9 0 3-1 15 0-8-2 7-1 5 0-12-1 12 0-1 0-4-1-9 0 5 0-12-1 22-1-15-1 10-1-9-1 10-1-7-1 5-1-17 0 6 0-1 0 3 0 15-1-10-1 6 0-12 0 10-1 3-1-16 0 4 0-7-1 6 0 0 0 11-1-8 0 6 0 7-1-11-1 9 0 2-1-20 0 6-1 9-1-8-1 12 0-4-1-6 0-4-1 9 0-15 0 19-1-21 0 13-2 9 0-2 0-4-1-1-2 4 0 2 0-1-1-13-1-2 0 16-1-3 0-6-1 6 0-5-3 2 0 2 0-6 0-9-1 6 0-4-1 11-2-13 0 6-1 2 0-7 0 16-1-5 0-1 0-8-1-5-1 2 0 13-1-15 0 13-2-8-1 11 0-13 0 13 0-2 0-12 0 3 0 1-1 4-2 8 0 0-1-15-2 14-1-14 0-1-1 12-1-9 0-1-1 10 0-3 0 9-1 2 0-8-1-7-1 6-1 9-1-22 0 9 0-7-1 7 0 13 0-4-1-11-3 3-1 8 0-2 0-14 0 17-1-7 0 10 0-3-1-16 0 14 0-15-3 10-1 11-2-11 0-8-1-2 0 7-1 3-1 0 0 11-1-14 0-8 0 5-1 12 0-7-1-10 0 16-1-8 0 3-1 9-1-15 0 10 0-15-1 17 0-3-1-4-1 3 0-12-1 9-1-3-1 13 0-13-1 15-1-4 0-14 0 12 0-15-2 21 0-10 0-6-1-6 0 15-1-13 0 2-2-1 0 1-2 10-1-9-1-3 0 9-1 0-3-3 0-1 0-4 0 6-1 4 0-7-3 12 0-19-1 23 0-20-1 5 0-8-1 16-1 6-2-12 0 8 0 1-1-12-2 12 0-6 0 5 0-14 0 5-1 13-1-6 0 2-2-9 0 13 0-11 0-1 0-1-1-1-1 6-1-11 0 5-1-6 0 12-1 5-2-3-1-4 0 4-2-10-1 12-1-13 0-2-1 12 0-4-1 3-1-12-1 15-1-13-1 6-1-9 0 2-1 14 0-9-1 1-2-3-1 4 0 9-4 0-1-14 0 11 0 2-1 0-1-7-4 10-1-14-1-4 0 2 0 13-1 5 0-9-1-13-2 2-1-3-2 9-1 10-1-1-1 5-2-16 0 7-1-4 0 5-1-6 0 10-4 0-1-3-1-3-2-4-1 1-1 2-3 5-1 6 0-7-1-14-2 16-6-12-2-4-1 6-1-5-6 2-1 12-3 5-2-7 0 5-1-13-10 9-11-7-8-8-4 7-1 12-5-15-17 12-7 5 6 22 4-2 6 3 8-12 15-2 11 1 0 3 2-8 1 3 1 14 0-18 4 11 1 10 3-3 7-19 5 21 2-12 6 3 1-2 0 10 1-7 0 3 6-17 3 6 6 13 2-17 0 12 3-13 3 11 2 1 0-12 1 17 1-4 1 0 4-10 0-4 1 21 1-19 0-2 1 4 1 16 0-4 0-11 1 12 0-14 2 14 0-15 0 2 1 18 0-9 0 6 0-9 1-4 1 7 1-9 0 19 3-16 0 16 0-23 1 0 1 18 2 0 0-7 0 5 0-5 1-3 0 14 0-11 1 9 2-6 1-1 1 6 1-18 0 4 0 0 1 14 0-5 1 9 1-18 0 16 1-21 0 1 1 8 1-3 1 4 0-9 0 5 0 13 2-4 1 7 2-14 0 9 1-15 1-2 2 5 0-1 1-3 0 8 1 1 1 3 0-4 1-8 1 12 2 1 1-9 0-1 4 9 1-1 0-5 1-3 1 12 0-16 1 1 0 18 1-19 1 19 1 0 2-17 0 4 1 6 2-11 0 4 0-5 3 0 0 9 1-6 0 1 1 3 0 6 1-8 1 4 0-7 1 17 2-7 0-2 0-3 1-4 0 11 2 6 0-18 0 2 1 12 1-14 0 5 0 0 0 11 1-1 0 1 0-12 0 3 0-4 1 16 0-9 1-6 0 8 1-12 0 0 0 9 1 3 0-5 0-2 0-7 1 19 0-19 3 11 0 7 0 3 1-10 0-2 0 14 0-16 1 6 0 4 1 3 0 1 1-11 0 9 0-3 0-16 2 3 0 3 0 10 0-12 1 13 0-10 4 5 0-12 2 0 1 6 2 5 0 1 0-9 2 2 0 3 1 13 2-15 2-6 0 9 1 10 0 4 0-7 0-10 1 4 1 5 0-12 2 12 0 1 0-11 1-3 1 5 2-2 0 7 1-2 1-5 1 1 0-4 1 8 0 4 1-2 0 8 3-7 0 8 0-3 1 3 1-9 0-6 0 5 0 9 1-11 0-7 1 14 1-3 1 7 1-12 0-8 0 21 2-18 0 3 0 7 2 4 0 6 0-15 0-3 1-4 0 18 2-19 1 13 1-12 1 10 0-8 1 18 1-6 1-8 1 14 1-4 0-3 1-9 0 13 1-8 1 12 1-16 1 4 0-7 0 15 1 1 0-14 2 11 0 1 0-11 1-6 0 15 1-15 1 0 0 20 1-10 0 12 0-7 1 0 1-15 0 17 1-4 1-1 1-5 0 4 1 2 0-1 0 7 2-9 4 11 0-12 2-9 1 3 1 16 1-7 1 7 0-15 0 1 0-5 0 6 2 5 0 9 1 0 0 3 0-13 3 12 1-20 2 18 1-4 0-5 1-2 0-7 0 11 0 5 1-18 0 21 0-15 0 3 1-1 1 12 2-9 0 3 0-11 2 14 1-14 1 14 0-7 1-1 1 8 0-13 0 12 0 4 0-14 1-5 1 14 1 3 1 1 1-18 1 7 1-7 0 14 1-8 1 14 0-3 0-12 3-5 0-1 1 7 1 5 0 7 1-9 1 0 3-8 0 3 1 8 1 10 0-15 2 1 2 2 2 4 1 0 0-13 1 15 1-11 0 1 1 13 0-16 2 19 0-2 1-9 0-8 1 11 1-11 1 13 0-17 0 5 0 11 1-8 2 14 2-12 1 9 1-2 0-2 0 6 2-12 1-3 0 2 0 1 2 14 1-18 0-4 0 7 2 14 0-1 0 0 0-1 1 3 1-10 0 1 0-1 1-5 2 14 0-14 0 1 2 2 0 9 4-19 0 5 2-6 0 15 0-15 1 20 0-16 2 4 1 3 1-1 1-5 1 5 2-6 1 10 1-12 3 20 1-8 2-2 1-4 0 9 1-6 1-4 1-6 2 8 3-8 1 18 1 3 2-1 1-13 1 0 2-3 6 3 0 5 1 1 4-7 3 10 1 3 9-1 17-1 8-12 5-5 15 13 16 4-16 14-21-8-4 0-8 11-3 7-4-2-3 0 0-15-2 4 0 10-8 2-13-6-7-1 0 3 0-10-2 4-1 4 0 5-5-3-6 6-1-9 0 10 0-20-2 12-1-10-2 21 0-3 0-1-1-5-1-3 0 9-2-10-1 1-2-11-1 10 0 11-1-2 0-3-2-1-1-7-2 6 0-7 0 15 0-11-1-9 0 18-2-11 0-9-2 17 0-8-1 7-1-7-2-2 0 15 0-22-1 10 0 0-1-6-2 3-1 7-2-9 0 13-1-3-1 1-1-14-2 14-1-3 0 3-2-10-1-1-1-5 0 22-1-18 0 10-2 1 0-15 0 20-1-20-1 13 0-6-1 0 0-4 0 14 0-2 0 2-1 6 0-9-1-4-1 3-1-7 0 11-1-2 0-8-1 0 0 7-1 5-1-7-1 4-1 4-1 1 0-2-2-11 0-7-1 22-1-2-1-17 0 8 0-5-1 16 0-9 0-4-2 12 0-16-1 6-1-2 0-3 0-2 0 2-3-2 0 7 0 3-1-8-3 9-1 3-1 1-1-10-1-10-2 6 0-1-1 2-1 4 0 1-1-3 0-1-2-3-1 6 0 6 0 4-1-12 0 11-1 0 0-9-1 1-1 3-4-5-1 8 0 1 0-17-1 21 0-2-1-20-1 20 0-13 0-6-1 5-1-2-1-2-1 5-3 2-3 8 0-3-1-7-2 12 0 1-1-7-2 7 0-17 0-3 0 20-1-7 0 5-1-15-1-1 0 14 0 2 0-19 0 15-1-3 0-10-1 21-1-12 0-1 0 1 0-2-2-4 0 17-1-8-1-6 0 7-1-8 0 16-1-4-1-15-1 10-1-10-1 2-2-1 0-5 0 23-1-18 0 17-1-19-1 5 0 3 0-3-2-8 0 7-1 10-1 6 0-10-2 4-1-10 0 3 0-7-1 13 0 0 0 3-1-16 0 9-1 0-3 9 0-3 0-10-1-1 0 5 0 3 0-8 0 9-1-7-1 14-1-2 0-3-1-7 0 12-1-1-1-7-1-11-1 13 0 5 0-17-2-2-1 18-1-21-1 12-1 7 0-9 0-10-2 16-2-6-2-1 0 0-1-9-1 19-1-16 0 5-1 1 0 11-1 1-3-8 0 6 0-10-1-3-1 16-1-7-3-4 0-9-1 11-1 9 0-11-1 5 0-13-1 12 0-2 0 2-1-2 0-4-1 5 0 3-2-7 0-4-1 8 0-1 0 5-1-18-1 9-1 11-1 0 0-3-2-6 0 6-1-15-2 2 0 7 0-7-1-2 0 16-1-5-1-11-2 16-1 2 0-18-1 3 0 13 0-13-1 3-1 4-2 2-1-14-1 11-1 0-2-11 0 7 0-2-1 9-1-4-1-2-2-5 0 11 0 7-1-6 0-6-1 11-1-12 0 8-1 4-1-8 0 10 0-8-2-12 0 9-3-8 0 14 0-8-1 11 0 2-1-22 0 1 0 4 0 16-1-13-1 15 0-22 0 5-1 14 0-20 0 16 0 2-1 3-2-8 0 0 0 3-1-16-2 19-2-17-1 13-1-7-1 8 0-2-4 9 0-22-1 6-1 14 0-18-2 14 0-3 0-4-3-3-1 16 0-23 0 15 0-4 0 4 0-7 0-5-1 13-1-14 0 18 0-15 0 1-2 3 0 6 0 2-1-2-2-1 0-9-2-4 0 0-1 9 0-6-1 18 0-18-2 16 0-17-1 3 0 13-2-15-2 4-2 6 0 8-1-19 0-1 0 12 0-4-1-7 0 5-1 0-1 8-1-16 0 16-1-11 0 14-1 1 0-11-1 11-8-7 0-9-1 19-2-2-6-2-1-2-5 3-9-16-1-1-2 7-4 2-7-3-1-4-3 16 0-17-4 14 0-8-9 6 0-14-4 1-2 1-2-2 0 9-5 4-1 4-1-8-12 1 0 1-13-12-19 5 0-6-3 23 0-18-2 11-19 1 53 19 11 10 9-3 2-6 2-8 8 14 10-19 0 8 1-6 11 21 1-21 1 12 2 4 2-1 2 2 0 3 4-22 3 22 1-14 6 15 1-6 1-8 1 1 2-1 0-5 8 13 0-15 0 3 2 4 2 9 0-7 2-8 1 8 3 4 1 0 0-13 2 11 1-3 3 11 1-3 1-13 0 2 0-7 2 22 0-1 0 1 0-20 2 19 3 2 0-23 0 7 2 15 1-7 1-9 0 5 1 6 1 3 2-6 1-13 2 6 1 16 3-12 1 5 2 4 1 1 1-1 0-1 0-10 1-7 3 20 0-3 1-19 1 11 0-3 2 2 0 13 0-10 1-8 1 0 2 18 1-17 0 15 0-3 1-11 0 4 1 11 1-17 1 18 2-15 0 10 0-9 1-1 1 12 1-1 0-18 1 10 0 10 0 2 2-2 1-21 1 22 0-20 0 14 2 4 0 2 1-5 0 4 0-13 0-3 0 15 1-14 0 16 1-6 1 3 0 2 2-10 1-3 1-5 1 5 1 5 1 0 1 6 0-5 1-5 0 0 1 5 1-10 1 5 0 12 1-2 0 4 1-16 0 1 1 8 1-7 1-4 0 8 2 5 0 1 1-16 1-1 0 19 1-9 1 2 1-9 0 5 0 2 1 8 0-9 1 0 0 3 0 1 2-9 0 5 1 4 1 2 0-3 2-7 0-3 1 3 1 1 2 11 0-14 0 4 2 8 3-13 3-1 0 1 1-2 1 0 0 5 0 3 1-1 2 0 0 9 3-17 1 11 0 7 0-17 0 2 1 19 0-23 2 21 0-15 0-3 1 10 1-2 1-9 0 8 1 12 0-20 0 16 1-9 1 3 0 5 0-8 1-3 0 8 1 5 1-7 0-1 2-10 0 20 0-1 1 0 1-7 0-12 0 16 1-8 2 1 1 6 0-9 0 1 1 4 0 7 0-1 1-8 0-8 1 3 1 11 0 2 0-13 1 18 1-4 1-11 0 5 2-9 0 0 0 17 1-14 0 14 1-20 1 11 1-9 2 16 0-18 2 5 2 17 5-9 0 9 0-1 1 1 0-6 1 5 1-2 0-8 0-8 0 11 1 6 0-14 0-2 1 10 0 2 0 3 1-1 0-16 0 3 1 10 0 3 1-11 1 13 1-17 1 16 0-4 0 7 1-7 2-9 0 6 0 7 2-1 0-16 1 20 1-19 1 15 0 3 1-4 0-14 0 18 1 0 0-3 0-13 1 9 1 0 0-11 1 6 0-10 1 16 1 6 1-10 0-9 3 5 1 7 1-5 0-6 1 8 1 9 0-10 0 8 1-9 1-8 2 8 0-8 0 2 2 17 1-1 1-18 3 1 1 17 1-18 1 21 0 0 0-19 0 5 1 2 0 2 2 0 0-10 1 4 0 4 0-6 2 5 0 10 1-19 0 9 1-5 1 1 0 15 0-3 0-12 0 14 1-4 1-10 1 0 1-6 2 5 0 6 2-8 0 9 1 10 2-20 2 2 0-2 1 8 1-6 0 0 1 7 0 3 0-12 2 0 1 8 1 9 0-16 1 19 0-19 0 14 0-7 1-6 1 1 1 17 1-16 3-2 1 10 0 7 1-10 0 6 1-7 0 12 1 1 0-21 0 7 0 10 1-2 0-11 1-1 0-1 0 3 1 4 0-2 2 0 0 0 0 14 0-17 1 15 0-1 0-3 0-16 1-1 0 19 1-18 1 10 0-11 0 5 2-3 0 4 2 1 0 15 0-7 4-12 1 12 1-8 1 0 0 10 1-2 0-4 0 12 2-12 2 12 1-23 0 15 2-9 4 9 2-8 1 9 3 6 1-17 4 11 3-16 2 4 1 14 1-11 4 9 4 1 0-1 2-16 10 0 5 15 2 8 1-9 6 3 8 2 10-6 2 10 3-12 30 24-20-7-7 13-4-5-16-4-14-1-12 3-3 10-1-17-2 9-4-1-10-4-1 15-3-8 0-3-1-6-2 16-1 0 0-1-1-12 0-3-4 15-3-20 0 5-5 8-1-12-2 4-1 8 0 0-1 2-1 8 0-4 0-12-3 13 0-4-1 1 0-4-1-3 0-7-1 14-2-9 0-4-1-1 0 8-2-2-1-8 0 7-1-1-1 6-1-11 0 4-1-1-1 8-1-6 0 4 0 11-1-5 0-14-2 0-2-3 0 23-2 0 0-17-1 0-1 5 0-11 0 23 0-18-1-2-2 6-4 2 0 12 0-5-1-13 0 9-1 0 0 6-1-13 0 16-1-1 0-13 0 8-1-7-1 6 0 1 0-6-1-1-1-10 0 14-1-5 0-3-1-4 0 15 0-15-1 19-1-21 0 4-1 9 0-11-1 1-1 16 0-2-2-13-2 5 0 5 0 9-3-18 0-4 0 6-1 10 0 6 0-3-1-2 0-1-1 6 0-1-1-16-1 0 0 5-1 9 0-13 0 10-1-9-2 14-1-17-1 8-1-7-1 1 0-2-1 9 0-9-1-4 0 6-1 14 0 1 0-2-1-6-1-5-1-1-1 9 0-5 0 6-1-4-1-6 0 3 0 9-1-1 0-7-1-11 0 0-2 21 0-1-1-14 0 3-2-2 0 11-1-8 0 8-1-6 0-3 0 10-1-12-1 3-1-11-1 12 0-4-2 11 0-14-1 2-1-4 0 9-2-9-1 1-1 0 0-1 0 19 0-12-1-4-1 8 0 3 0-10-1 12 0-10-2-1-1-2-1 11-2-4 0 5 0-17-1 7-1 14-2-6 0 4-1-1-1-4 0-12 0-1 0 13-1 8-2-5-1-3-1-11-1 19-1-18 0 2-1 15 0-10 0 8-1-10-1 8 0-3 0-9 0 5-2 11 0-10-1-5 0 12-1-17 0 5-1 5 0-7-1 0 0 17 0-6-1-16 0 7 0-6 0 19 0 1-1-10-1 7 0-5 0-11-2 10 0-8 0 10 0-8-1-4 0 21-1-13 0-9 0 17-3 0 0-15-1-2 0 17-1-5-1-4 0-4 0 13-1 0 0 5 0-23-1 20 0-1-1-9 0-5-1 13-2-3 0-10 0 15 0-2-1-5-2-8-1 6-1 3-1 5 0 1-1-3-2-8-2-2-1 8-2 7 0-14 0-7-2 10-1-6 0 13-2-4-1 3-1-10-2 1-4-6 0-2-1 5-2-3 0 12 0 0 0-5-1 4 0 1 0-8-1 7-2 5 0-17-2 1 0 6-1-5 0 8 0 10 0 0-1-15-1 15-1-14 0-4-1 16 0 1 0 2 0-5-1-16 0 19-1-13-1 2 0 4 0 1-1 6 0-16 0 4-2-4 0 15 0-11-1-4 0-1 0 5-1 15 0-6 0-17-1 21 0-12 0 10 0-18-1 22-1-19 0 8-1-10-1 18-1 1 0 0-1-7-1 0-1-10-1 17 0-9-1-7-1 5 0 13 0-18-1 10-1 1 0-2-4 4-1-11 0-7-1 11-2-8 0-2-1 7 0-2-1 9 0 4-1-16 0 10-2 1 0-14-1 10 0-9-1-1 0 21-3 2 0-19-1 9 0-8-1 11 0-5-1-4-1-6-1 8 0 0-1 7-1 5 0-13-1 2-1 1 0 9-1-13-1-7 0 10-1-10 0 2 0 10 0-12 0 22 0-22-2 8-4 15 0-14 0-3-1 7-1 3 0 0 0-16-4 2 0 8-1-4 0 17 0-13-1-1-1-4-1 2 0 13-2-13-1 14-1-5 0 4 0 1-3-11-2 3-1 2-2 8-2-20-1 20-2-12-1 3 0 8-1-21-1 4 0 13 0-4-4-3-1 0-1 8-1 4-2-14-3-9-1 20-2-1-2-4-4 8 0-6-4-14-2 19-6 1-2-19-1 12 0 6-3-15-1-5-1 5-2 7-1-3-2-7-12 3-2 15-1-8-5 0-1-11-37 13-3-4 0-8-8 5-7-5 10 39 18-18 22 10 10-10 7 15 1-16 4 13 5 10 4-11 5-10 4-1 1 8 4 0 2-9 8 1 0 4 3 17 0-11 0 6 3-5 9 9 0-10 1 9 2-7 0 6 2-8 1 2 0 7 1-19 1 11 3-9 0 0 0 9 0-8 1 2 4-4 0 11 1 4 0-15 1 10 0-3 3-9 1 22 0-6 0-6 0-9 0 22 1-5 0-2 1 3 1-8 0 2 2-12 1 6 0-1 1 13 1 4 0-20 1 9 0-11 0 19 1-8 1 11 0 0 1-22 0 6 0 16 1-14 0 10 1-10 0 14 1-2 0-15 1 15 0-3 1-7 1 7 1-13 0-1 0 0 0 2 0-5 2 5 3 11 2-7 0 11 0-20 0 13 1 2 0 2 2-4 2 7 1-15 1 4 1-3 1 4 1 9 2-13 1 4 0 5 1 4 0-17 1 12 1-6 1 1 2 1 1-4 1 6 0 0 1-7 0 17 0-20 1 20 0-5 1-11 1-3 1 1 0 4 0 0 2 1 1 12 0-11 2 10 0 1 2-1 0 0 0-5 1-7 1-8 0 19 0-3 3-11 1 16 0-3 2-8 1 10 0-21 0 7 2 7 3 2 0-10 1-4 0 1 0 1 1 19 1-2 1-17 0 6 0 10 1-20 1 2 1-1 0 4 2 8 2-1 1 4 2-4 1 0 0-9 1 6 0 9 0-17 0 20 0-19 1 7 0 8 1-16 1 13 1 7 1 2 0-6 0 4 1-17 0-4 2 5 0 11 2-13 0 20 2-14 3-7 0 4 1 6 0 0 0-4 1 7 1-11 0 1 1 3 0 15 1-11 1-7 2-3 2 20 1-5 2 3 0 3 0-7 0 1 1 5 0-5 2-12 1 17 0 1 1-16 1 10 1-2 1 7 2-18 0 17 0-1 1-9 0 4 1-10 1 13 0-17 1 3 3 8 0 2 0 3 1-9 0 0 1 4 0 10 1-11 1-6 1 7 0-9 1 8 1-11 0 18 0-9 1 12 0-3 2 2 1 3 0-16 0-6 1 2 1 12 1-14 1 3 1-3 1 13 1-12 2 4 0 11 0 4 1-5 1 4 0-14 1 9 1-5 0 3 1-10 0 6 2 6 0-9 1 15 1-3 0 5 1-22 0 15 1 7 0-1 0-13 0 5 2-7 0 11 1-10 0-5 0 9 1 9 0-7 1 4 0 0 2-9 0-8 1 1 0 15 0 4 1-19 0 20 1-21 1 14 0-15 0 16 1-12 0 12 1-9 1 8 1 1 0-2 1 9 0-5 1-7 1 0 0-11 1 18 0-3 1-8 1 1 1 0 2-4 0 14 1-12 0 16 0-7 1 3 0-7 0-2 1-3 1 10 0-9 1 3 0-2 1-7 0 20 1-18 2 7 0-10 1 2 0 20 1-5 3-15 0 15 2-8 1 2 0 9 1-3 0-14 2 5 0 12 1-6 2 1 2-6 0-9 1 23 0-22 1 18 0-17 1 17 0-2 2-15 0 19 1-1 1-12 0-3 3-1 0-3 0 0 1 19 0 0 0 1 1-20 0 16 2 0 1-10 0-3 0 6 1 9 2-4 1-12 0 4 0 10 1-3 1-14 1 5 0 8 1-13 1 21 0-11 1-7 3 6 0-4 1 12 0-15 3 10 0 5 3-3 0-13 1 8 0 5 1 0 0-13 1 16 0-10 0 6 0-8 1 0 2 2 0-4 4 1 6-4 4 10 2-7 1-2 13 7 8 7 4 1 13-8 2 4 8-12 5 2 2 2 1 10 14 0 1 2 5 4 8-17 13 44-12-15-15-7-15 3-3 16-1-6-1-14-4 2-1 8-7-5-9-2-2 10-17-8-2 6 0 7-2-4-4-13-1 7-10 14 0-20-1 11-4 5-1-14-1 0 0 4-1-6-2 15-2-9-2-1 0 16-2-1-1-16-1 1-3-5-1 10-1 5-1 1-3 2-2 1-1-4 0-13-1 3-2 6-1 4-1-10-1-1 0 11 0-4-2 7 0-16-1 8-1-5 0 12 0-9-1-2-1 13 0-14 0 10-1-6 0-3 0-7 0 14 0-5-1 5 0 8 0-17-1 3 0 8 0-11 0 16-2-2-1-11 0 9-1-6 0-12 0 23 0-7-3 5-1-4 0-8-1 5-3-8 0-5 0 16-2-12-1-4 0 7-1-4-1 14 0-9 0 2-1-10-1 6 0 10 0-12-1 14-2 4-2-15 0-8-1 19 0-5-1 2 0-6-1 11-1-14-2-7 0 8-1 7 0 6-1-16 0-4 0 14-1-9 0-2-1 6 0 8 0-3-3-4 0-9-2 0 0 8 0-6-1 11 0-4-1 9 0-4-1-2 0 2 0-9 0-5-1 10-1 4 0-7-1 12-1-1 0-8 0 0-1-6 0 13-1-6-1-10-1 8-1-7-1 5-1-2-1 16-1-13-1 12-2-15-1 0 0 7 0-8 0-5-1 20-1-11-3-5-3 9 0 0 0 6 0-5-2 1-2 0-1 1-1 3 0-11-1 14 0-11 0-6-1 6-2 6-1 3 0-19-1 6 0-8 0 21 0-19-1 21-1-16 0 4-1-4 0 5-1 10 0-11-1 4 0 5 0 3-1-14-1-3 0 1-1 1 0 3 0-5-2 9 0 7-2-3 0-13 0 3-1 10 0-1-3-12 0 7-1-2 0 9 0-3-1 4 0-17 0 13-1-2 0-6-1 1 0-7 0 20-1-23 0 5-1-2 0 5-1 13 0-2-1-1 0-8-2 5-1 5 0-8-1 1 0-11-1 16 0-17-1 2-1 12-1-11 0 4-1 4 0-4 0-8-1 8 0 9-1-14-1 12-1-9 0 4-1-2 0-8-1 4-2 0 0-3-4 3 0 9-1-4 0 7-2-5 0-1 0-8-1 0 0 14 0-11-1 6 0-10 0 20-1-18 0 19 0-13 0 3-1 11 0-7-1-4 0 9 0 2 0-18-1 0 0-3 0 11-1 1 0-4-1 4-1 2-1-12-1-2-1 19-2-14 0-5-1 9 0-11-2 10 0-7-1 18 0-21-4 12 0-6-1-1 0 4 0-1-1 11-2-11-1 0 0-5 0-3-1 20 0-16-1-3 0 8-1-6-1 16 0-12-1-1 0 15-1-11 0 6-2 5 0-19 0 0 0 3 0 15-1-12 0 8 0-1-1-5 0 11 0-7-1-6 0 3-1 12 0-15 0-1-1 15 0-10 0 2-1 5 0-1-2-10-1-2-1 13 0-11 0 1-1 13 0 1-1-1 0-9 0-9-1 6 0-2-1-5-1 8-2-6 0 9-2 2-2-1 0 4-1-16-1 3 0 2 0 1 0-1-1 12 0-14 0 15-1 1-1-4-1-12 0 4-1 13 0-4-1-14 0 10-1-5-1-3-1 7 0-9-1 1 0 3-1 5-1-5 0-2-1-1 0-5 0 20-1-7-1 7-2-20 0 19 0-20-2 6 0 15-1-1 0 2-1-15-1-3 0-3 0 0-1 15-1-10-1 6 0 9 0-18-1 11-1-11-2 18-1-8 0-8-1-3 0 21-3-12 0 12-1-12-1 1 0 11 0-16 0-7-1 15-1 3-1-2-1-9-2 10-1-17 0 8 0-4-1-1-2-3-3 0-1 1-1 20-2 0-3 1-5-18-2 4-1 12-3-5-2 3-4-3 0 7-3-19-4 16-1 2-2-14-3 4 0 2-4-3-1 1-8 5-1 2-1-10-1 9-1-5-4-7-4 5-1 0 0 14 4 12 1 2 2 2 7-4 3-12 4 1 4 20 1-10 1 2 1 3 2-2 4-2 0 6 2 3 0-21 1 19 2-19 5 18 0-17 0 16 12-16 4 15 0-1 11 5 1-2 9-5 2-3 0-1 1 9 1 2 2-17 1 1 1 7 1-11 0 18 1-6 1 2 2-11 0 4 1-1 0 7 1 10 1-3 0-11 1 8 0 2 1 1 0-11 1-9 1 16 0-10 0-6 1 14 1-2 1 0 1-1 1 4 0-2 0-4 0 4 1 0 1 9 1-14 1 9 1 3 2-15 0 15 1-19 2 0 0 5 1 1 0-3 1 0 0 12 0 3 0-8 0 2 1 7 1-1 1 2 2-2 0-15 0 12 1-5 2 9 0-16 1 1 1-2 1 12 1 5 0-2 0-18 0 16 1-6 0 1 1 1 2 3 1-7 1 0 0 5 1 4 0 3 2-3 0 2 0-7 1 1 0-13 0 21 0-5 1 5 1-17 1 10 2 1 1-4 1-5 0-2 0 15 1 0 1-17 1 19 0-1 1 1 0 2 1-14 1 10 1 2 1 2 1-16 0 13 1-3 0 3 1 0 0-11 1 2 0-1 1 11 1-14 1 5 1 10 0-8 1-8 5 14 3-12 0 0 1-2 0 0 2 4 0-6 3 3 1 7 0-13 0-1 2 19 0-14 1 17 0-15 1-5 0 6 1-8 0 5 1 0 1 9 1 3 2-13 0-2 0 21 0-11 1 1 0-1 0 3 1 6 0-18 1 11 0-7 1 14 1-15 0 4 3 0 0 13 1-12 0-2 1-5 0 12 1 0 0 3 0 1 1-11 0 0 0 13 1-8 2-11 0 12 1-4 0-2 2-3 0-1 1 17 0-8 1-4 0 9 1-2 0-2 0-4 1 4 0-6 0-4 0-3 0 2 1 14 0-6 0-6 1 12 0-12 2 17 2-3 0-17 0 1 1 15 0-15 0 15 0-16 1 0 0 15 4-4 0 4 1-3 0 0 1-15 1 20 1-18 1 20 0-9 2 3 0 0 0-5 1 6 1 0 0-12 0 12 0-7 0 12 1-17 0-3 0 20 0-1 1 1 0-17 0 16 0-21 1 5 1-2 1 14 2-6 0-6 0 2 1 9 1-6 0-7 0 8 1-5 1 8 0-13 0 12 1-7 1 10 1-9 1 10 0-7 0 12 2-21 1 17 0-6 1 8 0-1 1-8 0 5 1-1 2-11 1 17 1-19 1 9 1-6 2 17 0-11 1 0 1 6 0 4 2-9 3 3 1 6 1-16 0 8 0-12 1 18 0-16 0 17 0-8 1-11 1 16 0 0 0-2 0-8 0 16 1-4 3-4 0-12 1 8 2-1 1 2 0-3 2-2 0-5 3 20 1-7 0 2 1-6 0-2 0-2 2-3 1 0 1 15 1-19 0 4 0 13 0-14 1 5 0 4 1-1 0 1 0-8 1-3 1 22 2-13 1-2 1-6 1 15 0 5 0-18 2 0 2 6 1-10 0 5 1 17 4-3 0-16 1 16 0-3 0-15 0 7 2-3 1-5 0 17 0-9 3 0 0-4 3 18 0-8 3-5 3 7 3 0 2-8 5 14 1-6 4-12 1 8 8-1 1-8 4 7 4-7 23-1 1 4 12-6 22 10 5 9-4 15-42-7-10 2-6 9-7 5-7-19-1 6-5 13 0-12-1 10-2-2-3 7-2-7-3 5-3-10-1 8-2-18-3 19 0-17-3 20-8-14-8-8 0 15-2-11 0 19-1-8-1 1-2 4-5-14-3-6-2 15 0 6-1-2 0-7 0 4-1 7 0-22-1 17-2-17-2 13-1-7-4 6 0 1 0-11-2 7 0 1-2 1-2-4-2 14 0-14-1-5-1 6 0-4-2 17 0-17 0 1 0 2-1-2 0 9 0-4-1 3 0-14-1 18-3-11-2-6-1 21-1-22-2 8 0-7-1 0 0 2 0 2 0-3-3 0 0 8-2 0-1-7 0-3-2 21-2-6-1 0 0 5 0-12 0 0-2 7 0-1-3-8 0-6 0 20 0-16-1 7-1 1 0-2 0 3-1-7-1 5-2 1 0 3-1-4-1 6 0-1 0 0-1-14 0-2 0 22-3-11-3 9 0-17-1 19-3-11-2-1-1-2-1 13 0-16-1 10 0-5 0-4-2 17 0-10-1 10-3-5 0-13 0 2-1 0 0 7-1-6-3 5 0 1-1 1-2-1 0 8-1-10-1 5 0 0 0-16 0 4-1 1-1 10-1 5-3-19 0 12 0 5-3-8 0 10-2-4-2-14-1-3 0 5-2-5-2 4-1 12-1 7 0-14-1 1-1 5-1-14-4 7 0-3 0 18-2-11 0 0-1 2-2-4-1 12 0-11-1 1-1 3 0 5-3-17-2 9 0 3-1-6-2-9-5 22-1-6 0-4-2 2 0-14 0 7-1 7 0-11-3-1 0 3-1 13 0-16-2-2-2 6-2 7-1-8-1 2-1-7-1 10-1 3-1-10-1 14-2-4 0 1-3-7 0 2-1-3-4-4-1 2 0 9-3-8 0-4-1 7-2-3 0 12-2-16-1 21-2 1-2-5-2-9-3 6-1-9 0 14-2-19-1-1-1 17 0-16-1 20-1-3 0-10-1-7 0 18-1 1-3-4-2-16-1 22-7-13-2 3 0-7-3 6-1-5 0-2-6 7-1 11 0-19-1 10 0 7-4-4-3 6-8-12-1 9-1-4-3-6-1 4-2-1-2-9-2 14-11-7-11-9 15 32 10 1 18 9 2-12 7-4 3 2 3 0 3 9 3 6 12-13 2 5 3-6 2 6 2-2 6-1 5-9 2 15 1-13 5 7 14 1 1-6 1-1 1 15 3-11 6-5 1 11 4-10 1 12 0 0 2-4 1-7 1 3 0-2 4 3 1 14 3-16 0-3 1 10 2-10 1-3 4 0 6 23 2-20 1 6 5-1 0-7 2 7 1-5 3-3 3 1 2 3 0 2 6-1 1 8 3-13 2 4 4-4 3 0 5 6 5 15 3-19 1 10 0 4 2-11 0 1 7 6 0 1 0-7 1-2 4 6 1 11 1-13 1 8 1-1 2-15 1 1 1 4 5 2 7-3 0 3 1 0 0 14 5-8 2 9 3-21 1 18 12-13 2-6 1 19 1-18 16 20 13-16 4 18 4-19 3 1 6-4 3 9 1-8 6 9 5-5 1-4 6 3-48 21-32 4-1-6-1 3-4 9 0-10-6 14-8-10-1 14-1-14-2 1-9-7 0 0-1 6-11-1-2 3-5-1-2 13-3-17-4 12-6 3-6-4-2-6-1 11-12 1-1-17-9 4 0 9-3-5-4-10-4 14-4 4-2-2-5-16 0 14-2-14-1 10-1-10-9-1-4 22-1-16-4 13-6-18-6 10-5-11-5 17-1 3-8-3-6-4-1-9-5 14-19-2-26-2-22 7 1 26 1-8 0-2 29-3 51 11 3-6 15 7 1-2 8-18 5 4 3 4 4 4 2 8 13-4 8-12 2 0 2 3 3-5 4-1 3 19 1-19 2 19 0-6 4-12 4 13 2-9 1 2 19-5 1 8 5 1 9 2 0 2 1 4 0-16 2 0 2 9 31-5 13-5 27 13-13 13-4 11-26-9-29-5-16 6-5-7 0-3-8 4-13 1-2 3 0 0 0-2-33-3-22-1-5 8-2 12-1-4-4 1 0-15-2 0-22-2-33-1-8 5-20 3-12-3 136 24"/>
<rect class="bd" x="0" y="0" width="321.3" height="327.0"/>
<path class="tk" d="M77.6 327.0v5M164.4 327.0v5M251.2 327.0v5"/>
<text class="tl" x="77.6" y="349.2" text-anchor="middle">-20</text>
<text class="tl" x="164.4" y="349.2" text-anchor="middle">0</text>
<text class="tl" x="251.2" y="349.2" text-anchor="middle">20</text>
</g>
<g transform="translate(1091.9 1398.8)">
<path class="mn" d="M34.2 0V327.0M121.0 0V327.0M207.8 0V327.0M294.6 0V327.0M0 303.7H321.3M0 218.6H321.3M0 133.4H321.3M0 48.3H321.3"/>
<path class="mj" d="M77.6 0V327.0M164.4 0V327.0M251.2 0V327.0M0 261.2H321.3M0 176.0H321.3M0 90.8H321.3M0 5.7H321.3"/>
<use href="#gD"/>

<path class="mbD" transform="scale(.5)" d="M557 32l-9 9-11-4-16 10 0-3-17 3-23 15 1-13 4 11 5-6 32 16 0-16 13-4 21 11 17-1 15-12 6 47-14-9-6 6-28-3-7-8-3 4-1-6-9 10-10 1-5-2-5-3-4-6-24-7-1 3-1 16-37-6-13 21 1 10 10-7 5-3 22-6 3 16 4-10 18 13 2-19 9-3 13 0 4-1 7 9 6-3 3 16 4-12 6-4 2 15 8-9 8 0 8-3 2-6 19 13-11 30-7-21-17 7-6 0-5-8-2 12-9-7-1 1-2 14-19-8-9 1-7 3-3-8-1 7-5 1-9 7-3-5-1-4-5-8-4 4-2 6-5-2-8-1-1 7-5-7-10 7-4-10-2 2 2 24 19 5 5-1 1-1 7 6 12-1 2-9 5 9 13-7 8-8 1 6 28 8 1 4 4-17 6 2 2-3 32 6 23-10-41 29 0 9-2 3-9 0-4 1-5-8 0-8-24 4-7 3-1 4-7-8-7 12-10 3-2-14-30-2-28 3-23-8-64 7-6 9-3-3-1 9-5-5-6-4-3 6-7 4-7-10-10-1-12 11-6-5-17 5-57 23 4-13 17 3 26 10 5-14 1 7 1-1 2 3 2-3 5 6 4 1 3-12 5 7 1-1 3 3 0-4 2-8 9 5 4-5 0 2 2 7 1 6 0 1 2-15 2-1 1 11 0-8 5 6 2-8 0 7 2 3 1-2 1 3 2-3 1 8 4-22 5 1 6 17 1-3 2-6 0 12 1-17 3 9 1 8 7-2 1-17 4 11 1 3 7-7 7 12 3 0 0-1 1-3 0 4 7-20 1 0 2 18 13-10 2 3 4 4 1-8 1 6 3 2 3-9 0 4 10 8 2-14 9 6 4-2 1 10 14-15 21 13 3 5 23-16 16 15 1-6 17-13 8 7 10-10 0 15 6-3 11-2 7-4 1 27-5 12-8-4-18-1-5-10-6-3-5 17-46-15-5 6-1-9-12 19-1-7-13 8-2-17-1 10-5 5 0-18-1 3-1 15-1-9-1 4-3 3 0-10-2-1 0-6-1 21-12-2-1-10-1-8 0 13-2-10-1-3 0 7-1-9-1 8-2-7-3 19 0-1-3 0-4-16 0 5-1 9 0-17-4 11 0 4-8-11-1 14-1-4 0-1-3-11 0 6-1 14 0-8-2-9 0 16-1-4-3-7 0 4-1-13-1 10-2 12 0 0 0-5-1-4 0 1-1-14-4 4-2-4 0 19-3-6-3 9 0-10-1 7-1-7 0-8-2 8-1-3-7-10-1 20-5-10-4-2-1 5-1 0-2-8 0 13-3-18-4 13-2-13 0 20-1-1-4 0-1-3-1 1-2 5-1-12-1-7-1 11-3-7-1-5-2 16 0-3-2-10 0 15 0-8 0 3 0 5-2-19-1 22-1-17-3 14-1-12-2-2-3 3-4-4-3 18-1-15-3 10 0-6-1 0 0 1-1-13-6 6 0 2-1 8-3-9-2 14-5-11-5 2-1 6 0 3-1-19 0 17-3-7-1 10 0-21-1 9 0-3-1 10-1-7-1 9-1-11-1 14-2-9-1 3-4-8 0 9-1-13-2 11 0 2-1-11-6 11-2 4 0-21 0 22 0 1-2-13-3-7-1 18-1-7-4 5-7 0 0 3-3-10 0 11 0-7-2-5-2 4-2-9-1 16-2-19-2 20-2-16-2 6-2-2-3 3-5 1-20-12-9 44 1-2 14-14 7 0 4 12 2-3 3-9 2-4 1 5 0 12 5-4 7 2 5-5 2-1 2-10 1 16 5-4 1 0 1 7 2-5 0-10 2 3 1-8 0 7 1 15 0-2 1-13 2 7 1-12 1 15 1-7 1-2 2 12 0-9 1-12 1 15 3 8 1-6 2 6 9-22 0 16 1 4 1-7 3 8 1-5 1 5 1-22 1 16 2-5 0 3 2-11 1 11 0-7 2 15 1-14 1 14 1-9 1-12 2 0 2 21 2-13 2 13 0-13 6 9 0-4 1-14 1 16 2-2 0 4 0 1 1-7 0 1 3-1 4 5 3 3 5-13 0 4 0 8 2-14 0-5 1 21 0-14 5 6 0-6 2 16 1-8 4 0 0-9 6 14 1-19 2 3 0 13 0-8 1-8 3 18 1-17 0 15 1 0 0-13 3-4 6 18 1-16 1 3 1 10 2 4 0-19 0 17 1-1 1-16 0 10 2-6 2 5 3-8 4 7 2 2 0-9 1 3 2 18 0-2 3-7 7 4 2-9 0 12 3 2 0-6 2-15 3 18 1-13 0-5 4 5 1 9 3-15 1 11 1 7 3-9 2-4 1 11 7-7 1 7 3 2 0-6 0-11 1 14 1-1 1-14 1 9 1 14 1-1 1-20 1 9 0-9 2 0 1 21 3-23 0 10 1 0 4-5 1-4 2 10 1 7 1-6 3-4 1 13 2-7 1 2 1-2 1-2 3 10 3-7 1 1 0-10 8 0 0-4 3 12 0-11 2 1 0 9 0 10 9-13 8 2 9-8 9 2 1 10 9-12 3 13 6-17 4 12 7 2 3-14 6 23 1-21 3 0 9-2 5 23 8-12 9 14-17 13-12-12-9 13-18 2-12-15-22 8-2 7-4-10 0 7-1-14 0 2-9 4 0-3-4 13 0-3-1 0-1 1-2 6-1-12-1 11-3-18-3 15-1 1-1-15-2-2-4 14 0-13-2 16-3-8-3 4 0-8-1 18-1-8 0 2-2-7-3-4 0 8-4-6-9 3 0 11 0-22-1 8 0-8-1 7-1-3-4-1-1 7-1 5-3-12 0 8-2-8 0 11-3-12-1 7 0 1-1-1 0-3-1 6-1-12 0 21-3-1-1-3 0-16-2 4-2 8-2-3-7-1-1 3-2-11-2 18-4 0 0-13-1 14-1-1-1-5 0-10-1 7-8 10-1-11-6 7-1 2-2-1 0-16-2 17-1-1-1-15-5 2-3-2-2 4-2 1-4-3-1-1-3 13-2-6-1-2-2 0 0 0-3 5-1-4-1 1-1 5-1-6-1-7-2 1 0 7 0 3-2 9 0-19-1-4-5 14-2 9-1-4 0-16-2 15-1-15-1 8 0-4-5 10-2 5-2-20-2 8-1-5-1 10 0 3-1-1 0-16-2 11-1 5-1 6-1-21-1 11 0-5 0 14-2-22 0 13-2 3-1 7 0-17-1 9-2 2 0 1-1-17-1 12-1 8-1-4-2 1 0-2 0-6-2-3-2 4-4 9-1-10-2 6-2-6-2 2-3-1-2 3 0-4-1 2-1 3-2-15-2 17 0-8-1 14-3-3 0-3-2-10-4 10-1-11 0-2-2 9 0 8-1 2 0-14-2 6-1-3-3-10-2-1 0 1-3 15-2-8-1-1-1 13-1-9-1 4-4 4-1-14-3-1-1-2 0 19 0-10-2-12 0 16-4 7-1-6-2-16-1 10-1-7 0 9-3 3 0 6-1-6-1-1 0 5 0-4-5 4-1-20 0 23 0-17 0-4-1 14-1 2 0-10-1 15-2-23-14 8-5 12-19 3 0 16 13 6 4-17 1 3 2-1 1-1 0 15 2-4 2-7 1 0 1 3 5-8 5 17 0-4 2 3 8-7 1-1 2-1 0 9 10-1 3-11 3-6 2 13 0-2 3 9 4-11 2 4 1-10 2 17 2-7 1-12 1 19 1-7 0 1 0 3 0-16 2 11 4 0 2-6 1-6 1 1 0 13 1-15 3 13 0-7 1 2 1-1 1-3 1-3 0 10 1 7 2-19 1 6 1 10 1-8 1 13 0-19 2 7 1-5 1 8 6 9 0-4 1-13 4 18 1-17 2 12 0 6 1-18 0 1 3 16 1-2 0-12 1 1 1 1 2 11 1 1 1-5 1-15 0 16 2 3 1-3 1-13 3-4 1 19 1-15 1 9 4 5 1-6 1 7 1-18 1 14 0 7 1 0 4-6 1-6 3 10 1-15 1 3 0-7 1 11 0-7 5 11 1-14 0 6 2 12 5-20 0 7 1 1 0 9 3-13 2 9 1 1 2-10 1 4 1 9 2-6 0 1 0 1 2 2 7-14 2 4 0 8 5 1 1-12 1 8 1 11 0-19 2 11 1-6 1 0 0 9 1 1 2-7 2-11 0 23 2-18 0 7 2-2 0-5 0 17 3-10 3-8 0 14 2-5 1 2 1-1 1-4 2 11 2-19 4 15 0 2 1 2 6-5 0 0 0-2 0-8 1 7 2-11 3 18 0-2 4-12 3 8 1 6 2-20 0 20 0-10 1-6 2 15 1-3 1 0 0 0 1-6 1-1 0-6 0 11 1-1 0-2 2-2 2 14 2-3 0-20 3 5 1 0 2 10 1-3 2 3 0 0 0-14 0 4 3 3 3-1 2 10 0-7 1-4 0 6 3-6 2 10 2-15 0 19 3 2 2 1 1-12 2 4 2-10 0 15 1-1 2-12 3-7 2 7 1-4 1 6 0-1 1-7 1 1 1 1 3 12 4 3 3 4 0-8 1-14 12 19 0-8 2-4 5 16 3-7 1-1 6-11 7 16 30-15 19 23-8 4-4-3-3 18-1-15-2 14-1-21-16 18 0-14-20 15-6-7-2-6-1-1-6-3-2-3-5 3 0-2-3 12-2 6-1-11-3 9-1-1-3 1-2-2-2 0-2-11-4-1-1-3 0 1-1 4-1 1-3 14-1-13-4 3 0 6-2 7-4-7-1 7 0-7-2 5-1 1 0-18 0 15 0-19-1 18-5-15-1 2 0 9-1 5-1-15-1 6-2 6-4 5 0-19 0 11-1-4-2-6-1 10 0 2-3-10-2-1-1 8 0-9-1 15-1-9 0-3 0-6-1 16 0-14-3 3-4 17-2-20-4 15-1-2-2 2-1-14-1 2-2 13-2 1-1-9-1 9-1-5-1-11-4 19-2-2 0 0-2-20-1 2-1 2-5 6 0-10-4 23-1-1-1-9 0-13-1 18-2-16-3 5 0 7 0-12 0 16-1-8-3-3-1 8-4 4-3-9 0 12 0-12-1 4 0-3 0 0-2-6 0 2-1-1-1 3-1-5-1-2-2 3-5-3-1 0-2 10-2 2 0-12-2 7-2-1-1-8-1 17 0 6-3-6-3-10-1-5-1 0 0 1 0 13-1-3 0 0-1-9-1 0-1 5-2 14 0-14-6-7-1 1 0 11 0-6-1-3-2 12-1-1-1 7-2-9-1 4 0 1 0 3 0-18-2 6-1-9-2 17 0-12-3 1-1 9-2 6-3-21 0 11-3 6-1-16 0 10-1 3 0-9-1 6-4 11-1-18 0 17 0-1-1-12-1 3-1 10 0-11-4-9 0 16-2-3-1-8-1 6 0-1-1 9-1-13-2 0-1 6-1-4-1 4-1-6 0 13-4-10-1 7-1-18-2 9-3-4-1 3-1 0-4-4-4 2-1 17-4-2-3-3-3-4-2 5-2-18-1 14 0 7-1-6 0 7-5-4-1-18-1 3 0 9-3-1-2 11 0-10-1 1-4 9-1-4 0-8 0-11 0 14 0-11-1 5-4 4 0 10-1-22-1 23-2-7-2 5-1-6 0 0-6-12-9 4-2-6-8 17-1 2 0-17-3 19-3-19-5 2-1 8 7 17 3 6 1-10 5 5 4 10 1-17 5 23 0-7 1 1 0 3 3-19 1 22 4-7 1 7 2-22 3 9 1-4 1 9 1-5 0-1 1 8 9-17 5 22 7-8 0-14 2 22 6-18 0 6 1-2 0-5 1 3 6 15 1-8 1-4 1 0 3 5 1-10 1-2 1 16 1-8 1-8 3 13 0-1 1-1 0 9 0-19 2-2 3 17 2-3 0-8 1 10 2-15 0 12 0-3 1 1 1 7 2-8 0-5 1 3 2 4 1 0 1-8 0 12 0-3 3 3 0-15 3 5 0 12 2-13 1 12 5-17 0 21 1-7 0 2 1-16 1 20 1-21 1 18 2-17 3 11 5 6 2 0 0-18 0 10 1-5 3 5 1 7 0 4 0-15 1 16 0-5 1 0 0 5 3-7 2 8 0-19 1-2 1 1 1-2 2 4 1 10 0 0 0 3 0-7 1 2 3-9 1 11 0-9 2 16 0-16 3 0 2 16 2-18 1 9 1-3 2 7 1-16 3 16 2-1 1-15 1 14 2 2 1 1 1-14 1 4 0 5 1 7 2-20 2 22 0-12 0 13 1-6 0-14 2 5 1 5 1-11 0-1 1 10 1 6 0-1 0-2 0-1 1-1 0-3 0 6 1-9 0 13 2-4 0-15 1 17 1-1 3 2 1 2 1-12 2 10 0-11 0 9 2 7 0 0 1 0 2-6 1-15 2 16 1-11 1-4 1 5 0 13 3 1 4 0 1-21 0 5 0 5 1 7 0-14 5 18 0-6 2-10 0 16 0-3 0-3 1 5 3-17 0 15 3-9 0-10 0 0 5 3 1 8 1-11 0 13 1-4 3 13 1-19 0-1 1 4 1 15 1-3 3 5 2-13 2 13 0-7 5 5 1-12 3 13 5-2 1-18 1 20 1-13 7 5 2 5 2 4 1-6 5 4 1 1 2-7 3-11 2 10 8 2 0 5 2-19 1 18 1-9 1 12 0-19 4 17 0-7 3-8 9 13 6-10 9-2 8 0 23-6 4 15 8-14 11 5-28 23-10 5-23-10 0 6-2 9-7-10-5 12 0-1-4-16-2 9-1 1-1 11-3-17 0 2-2-7-5 23 0-20-5 18-3-10-1 6-4-4 0-6-1 1-1-1-6-6 0 14 0-1-1-11 0 12-3-5 0 0 0-6-9 19-2-19-2 19-1-4 0-2-2 4-6-4-1-1-1-16 0 16-2-1-1-3-1 1 0 2 0-2-1-7 0 0-1 4-3-8-3 11 0-12 0 20-1 0-1-15-2 17-2-17-1 1-1 14 0 0-4-12 0 8 0 5-1-4 0-3-3 0-1-13 0 8-2 13-1-21-2 0-6 17-3-14-1 6-1 4 0-12-4 7 0 11 0-8 0 0-1-4-1-8-1 16-1 6-3-22 0 0 0 0 0 18-2-7-1-12-2 2 0 16-3 5-1-23-2 16-2 3-1 2-2-15 0 8-3 6-2-11 0-1-1-1-1-3-1 10 0-8-1 17-2-21 0 13 0 7 0-20-4 16-1-1-1-2-2-4-1-11 0 8-3 13-1-16-2-3 0 19 0 0-2-2-2 4-1-12-1-5 0 9-1 8-1-13-1 4 0 0-1-9 0 14-1-3-1-7-1 0 0 12 0-11-2 13-3-13-2 1-1 9 0-17-2 0 0-2 0 5-1 8-1 9 0-14-1 0 0 5-3 5 0-3-1-7-1-7 0-2-1 13 0-3-2 3 0 5-1 5 0-21-2 12-4-14-3 10 0 5-1 0-3 7 0 1-2-5-3-18 0 14-2-10-1 3-1 15-1-7-1-4-2 10-1-21-1 17 0-8 0-6-1 6-3-7-1 21-1-11 0 5-2 4 0-7-1-9-2 1-1-4-1 5 0 4-1 2 0-13-2 5-4 4-2-4-2 7-1-11 0 12-1 10-3-15-2-7-2 12-1 2-1-5-2 8-3-18 0 0 0 13-1-5-1 6-3-9-1 16-1-4-2-5-2-7 0 9-5-3 0 8-5 2 0-19-1 15-1-12 0 5-2-10-3 8-2-3 0 5-1-8-2 9-12-6-3-3-6 7-5 2-2 7-3-1 0-10-4 5-3 34 3-1 25-8 3 8 4-20 4 4 2 0 1-5 1 19 1-16 3 18 2-20 0 9 2-1 1 11 4-2 2-18 4 3 3 4 0-7 1 13 0 8 0-4 6-13 1-2 1 21 1-11 0 7 0-5 2-11 0 2 3-4 0 15 1-9 3 6 1 2 1 2 1-5 2 0 3-9 2 1 0-3 2 6 1 14 1-12 0 9 1-4 0-7 1 11 1-1 2-17 2 11 4 5 1 5 1-11 1-9 1 12 0-12 1 11 0 11 0-2 2-8 0 6 2-19 1 12 3-12 1 23 0-19 1 5 2 5 4-10 1-4 2 4 3-2 4 11 0 8 2-21 0 10 1 0 1 9 4-12 0 14 0-17 2 0 0 15 0-6 1 3 0-3 1-1 3 2 1-5 2 14 1-9 0 1 0 7 3-15 0 3 0 6 2-1 2 5 0-20 2 4 1-3 2 1 2 11 1-1 0-12 0 7 0 15 3-15 0 2 1 2 2 8 3-6 1 5 0-18 0 17 1-10 1 14 0-15 0-4 4 5 3-1 2-4 0-1 1 16 4-3 0 1 1-9 0 14 0-18 1 6 3-6 1 1 0 9 3-8 1-1 2 15 0 0 6 3 1 1 1 0 0-4 1-5 1-3 1-9 1 12 1-3 1 6 5-10 4-5 2 7 1 13 0 0 3-17 2-4 2 6 0-1 1 2 1-5 2 5 1 15 1-7 7 5 0-12 1-3 0 10 2-8 1 6 0-13 0 0 2 17 0-8 4 13 2-5 6-9 3-7 0 5 1 1 1-3 3 19 3-1 1-12 3 7 2-17 1 4 0 1 3 16 3-12 1-8 0 11 1-6 0 5 1 12 1-15 0-8 3 12 3-8 3 8 3-8 1-3 3 1 0-2 5 1 2 7 6-7 5 20 2-13 0-8 6 18-10 11-9 4-1 9-1-5-2 4-1-4 0 7-5-3-3-2-1-5 0-6-2 8 0 2-1 1 0-8-2 8-2-4-1 0-1-6-1 15 0-11-3 5 0-13-1 17-1-13-1 17-2-22-2 7-1 2-1 9-1-5-3-6-4 15-5-8 0-7-2 2 0 1-1-5 0 3 0 11-2-3-1-1-4-3 0 2-1 2-1-10-1 13-2-7-1-9 0-2-3 0-3 3 0-1-4 11-1-3 0-4-6 3 0-3 0 4 0 8-1-9 0-5-2 15-2-1-2-10 0 10-2-19-1 1 0 19-1-20-1 4-2 4-1 4 0-6-2 1-1 8-1 2-1 5-2-15 0 12-2-16 0 17-1-9 0-2-3 13-2-3-1-4-3 6 0-7-2-2-2 7-6-10-2-4 0 1-2 16-1-9-1-11-3 8-4-1-2 14-1-18-2 0-2 4-2 13-1-14 0-7-1 14-1 0-2-3-1 1-1 8-1-5 0-5 0-11-1 21-1-15-1 6-2-3-1 7-3-12-3-2-1 6 0 13-1-3 0-9-1 0-1 5 0-14-1 3-1 11 0 4-1-18-1 0-2 6-3-1 0-4-1 4-1 10-2-5 0 7-4-5-2-3-1 3-3-11 0 3-3 18-4-6 0-1-2-6 0-4-1 1 0 9 0-15-1 5-2 10-3-14 0 17 0-2-3-6 0-9-1 0 0 22-1-16-1 10 0-14-1 12 0-11-3 6-3-3-1 15 0-3-1-14 0 14-2-3-2 1-1 0-5-5 0-2-2 12-1-10 0 0-1-11-6 17-1-5-1 4-3-6-3 10-3 2-3-2-1 2-3 0 0-19 0 0-4-3-5 13 0 3-1-1-3 3-10-7-6-7-3 8-1 7-4-13-4-3-26 1 29 27 5-5 21-3 4 10 4 0 2 5 0-3 3 2 0 3 1-14 9-3 3 2 3 12 0-11 1 11 2-11 1 6 1-1 1 5 3-12 0 3 1 12 3-4 7-7 0 10 1-6 7-7 1 4 1 13 0-2 1 0 1-6 3-11 1 18 1-8 0-5 0-2 1 5 1-7 0 14 0 1 2-12 2 10 1 7 0-19 2 20 3-18 0 1 1-2 1 5 1 0 0-6 3 0 2 9 1-10 0-1 7 14 1-13 1 20 4-8 1 2 3 3 0-10 1 1 1-1 1 0 0-3 1-1 1 4 1 9 2-5 2-9 2 7 0-2 5 3 0 7 0-14 3 13 2-16 0 4 2 17 4-9 1 3 0-11 1 8 1-11 2 4 0 11 1-10 1 7 0 4 2-1 1-2 1-13 1 0 1 3 1-5 0 16 5-11 0 14 2-12 2 12 6-8 0 3 6-3 2 1 2 4 3-13 1-1 2 5 0 12 1-14 1 14 3-15 0 7 2-9 10 10 0 4 2-14 0 7 5 12 1 2 1-19 1 12 1-5 3-4 0 10 1-10 1 12 0-15 0 7 1 7 0-2 3 6 2-12 0 10 1 0 2 2 4-20 1-1 1 5 0-3 1 11 1 2 1-14 9 3 2-1 0 4 0-7 1-1 5 20 3-15 3 2 1 9 3-10 1-1 2 0 9 15 24-13-29 24-17 6-2-3-3 5-2-9-6 7-12-11-2 19-7-5 0-14-3 8-3 5-4-6-4-8-1 13-1-9-1-2 0 8-1 3-1-3-4 12-1-21-2 6 0-4 0 7-1-5-1 13-1 1 0-1 0-13-2 0-1 17-8-6-2-13 0 8-6 1-2-2-3 8 0-12-1 2-1-6-1 8 0 0-3-3-3-1 0 7-2 0-1-12-3 14 0-16-1 16 0-11-1 10 0-3-3 11 0-18-1 10 0-14 0 12-1-12-1 18-2-14-1 2-1 8 0-14-2 7 0 4-1 6-3 2-1-6-3-11-1 5 0 14-1-11-1 5-1 0 0-7 0 1-3 6-1 3 0 4-1-7 0-7-1 11 0-2 0-4-2 5 0-14-2 11-3 1 0-17-1 17 0-17-5 0-1 17-1 5 0-5 0-6-1-7-1 11-3-14-2 13 0-3-3 8 0-17-6 16-2 2-3-17-5-1-2 10-3-11-9 13 0-4-4-4 0-3-6 12-6-2-2 7-4-16-1 8 3 20 9 5 16 6 6-10 6-3 9 5 4-10 9 6 0 14 1-17 0 15 3-5 0-6 1-1 10 4 1-11 1 19 4-15 3-3 2 20 5-11 1 6 1-4 1-8 4 0 4 9 2-6 2 4 5 1 3 2 0-3 0-2 7-8 4 0 4 3 2 4 0-2 3-3 2 8 4-5 1 1 1-6 2 9 6 1 4-6 6 13 2 2 1-15 7 6 4-6 4 1 0-3 3 7 3 8 1-16 18 15 38 16-22 3-18 5-11 0-2-7-4-1-5 12-14-9 0-12-2 20 0-18 0-1-7 18-3-19-7 9-2 7-12-13-1 17-4-11-1-9-1 5-1-5-3 23-1-3-2-20-13 5-1 12-4-12-10 14-2-6-1 7-6-7-8-7-9-4-15 13-8 8-4-8-3 1-6-13 11 22 2 19 2-15 17 4 7 8 14-7 13-1 2 10 1-19 2 7 11-1 4 5 10-4 4 8 2-15 0 21 20-20 20 9 1 1 9 5 15-12 25 4 9-5-16 25-30-4-45 8-85-4"/>
<rect class="bd" x="0" y="0" width="321.3" height="327.0"/>
<path class="tk" d="M77.6 327.0v5M164.4 327.0v5M251.2 327.0v5"/>
<text class="tl" x="77.6" y="349.2" text-anchor="middle">-20</text>
<text class="tl" x="164.4" y="349.2" text-anchor="middle">0</text>
<text class="tl" x="251.2" y="349.2" text-anchor="middle">20</text>
</g>
<g transform="translate(1424.4 1398.8)">
<path class="mn" d="M34.2 0V327.0M121.0 0V327.0M207.8 0V327.0M294.6 0V327.0M0 303.7H321.3M0 218.6H321.3M0 133.4H321.3M0 48.3H321.3"/>
<path class="mj" d="M77.6 0V327.0M164.4 0V327.0M251.2 0V327.0M0 261.2H321.3M0 176.0H321.3M0 90.8H321.3M0 5.7H321.3"/>
<use href="#gD"/>

<path class="mbD" transform="scale(.5)" d="M417 143l-152 20 31-3 11-5 8-1 8-1 34 7 48 0 51 3 15-18 3 16 25-10 2 34-31-6-22 9-12-5-9 7-7-2-12-9-2-10-4 10-6 1-13 0-7 3-15 8-10-17-2 3-10-2-3 9-6-6-28 4-6-4-9 4-12-1-3-11-11 21 0 5 1-4 0 3 9 16 5-7 2 10 39-21 3 18 26-11 2 14 38 1 5-23 1 9 5-5 1 16 10-7 1-12 5 1 1-1 1 6 5 9 9-14 2 16 8-4 2 3 3 2 1-14 3 1 6-1 6-4 3 16 0 1 10-2 5 3 15-10 10 24-1 4-18-8-1 8 0-10-6 13-17-13-2 1-2 9-11-3-10-7-21 8-12 10 0 2-1-16-9 12-10 0-10-16 0 4-8 3-5-10-6 22-13-17-1-4-32 5 0 1-6 2-4 2-25-2-19-9-17 10-15-7-3 7-58 1-17 27 27-3 22-7 12 13 2-12 3-5 3 19 12-6 22 2 1-5 4 10 3-16 3 14 2 0 2-10 0 14 3-20 1 14 3-7 1 12 6-7 0-11 1 4 3 8 6-15 7 13 1-3 0-1 5 11 2-3 2 3 5-11 3 11 3-16 4 3 6 6 0 5 4-11 0-7 12 5 12 15 7-6 10 1 1-14 2 6 1 6 2 2 1-3 8 0 8 3 0-14 4 9 8-2 6 4 4-4 18 6 17 9 21-1 3 23-1-9-11 2-2-12-3 2-1 2-3-4 0 14-3-9-1 7-1 7-5-7-2-4-5-2-2-2-7-3-11 7 0 3-1-9-7 1-5 16 0-19-3 17-5-1-10-4 0 5-1-12 0 11-5-9-6 7-3-11-1 5-2-8-6 17-2-2-1 1-3-3-5-10-2 2-2-6-1 15-2 5-2-1-1-19-3 10-1 5-2-16-7 21-1-1-9-16 0 9-4 6-2-16-3 10-1-12 0 9-1 5 0 0-1-9-2 3-2-4 0 6 0-10-1 8-1-4-3 3-8-5-1 15-4-3 0 1-5 6-3-8-2-10 0 10-1-11-1 13-3-3-1 6-5-4-4-15-2 13-5 7 0-10-1-7-3 16-5-12-1-1-1 12-2 2-1-17-2 8-3-11-7 12-2-11-5 17-2-15-1 4-6 9-4-4 0 2-7-1 0-1-1 4-2-7-1 5-6 7-3 0-8-4-14-17-2 7-5 16-4-19-5 18-1-9-1 9 0-12-3 0-2-5-2 10-12-11-2 3 12 36 13 1 2-9 0 10 4-21 3 22 2-13 2 14 4 0 0-7 3 1 3-12 13 0 33-5 3 14 3-2 1 1 0 9 11-6 2-16 1 23 2-9 2 5 1-17 0 0 6 4 1 14 5-2 1 4 2-21 1 6 0 12 10-15 3-1 4 10 5-12 5 11 5 0 0 7 2-1 3-13 1 15 0-3 4-4 5 10 11-18 2-4 1 21 1-17 2-3 0 18 0-4 2-3 1-12 4 0 2 0 0 16 3-3 0 9 3-8 1 0 3-13 0 6 1 5 2 9 1-13 5 3 7 11 4-8 0 2 0-16 4 1 7 11 0 8 1-19 5 13 1-7 4 12 7-8 1 2 0 7 1-9 7-12 5 6 3 17 0-13 1-10 1 20 20-8 0 2 0 5 1-12 6 10 0-15 0 9 0 12 2-20 1 7 1 9 4 0 1-1 5 1 3-5 3-4 4 10 0-15 3 10 5-5 1 9 2-3 1 7 4-3 0-8 5-5 6 9 10-1-12 18-4-7 0 10-1 10-3-10-1-10-3 4-8 17-3-6 0-16-5 18-1-10-9-4 0 7-1 10 0-3 0 3-3-11-9 0-1 5 0-9-1 3-1 5 0-4-3 9 0-1-1-9-2 4 0-9-1 11 0-12-1-1-2 3-1 13-2-6-1-11-2 19-1-5 0 5-2-20-5 5 0 5-6 3-2-13-2 17-1 2 0-3-1-12-3 9 0 0-2-7-3 6-1 0-3 0-7-11-1 11-3 5-2-11-2-7 0 19-3-14-2 14 0 0-4-1-4 5-1-22-6 22 0-6-2-11 0 17-2-9-1-10 0 6-1 0 0-5-2-2-1-2-2 21 0-1-1-17-1 14-7-1-1 0-1-15-1 18-1-2-1 5-1-8-3 5-1 2-1-20-3 9 0 7 0-5-5-4-1 7-5-16-4 20-3-19-1 18-4-18 0 17-1-10-2 5-5 5 0-17-2 16-1-8 0 6-2-4-2 7 0-1-2-12-5 17-1-12 0 3-1 6 0 0 0-6-1 10 0-6-1 0 0-8-5 14-1-7-1-9-2-1 0-6-4 17-1-4-2-1-1 10-1-3 0 3-16 0-4-7-2 5-1-20-2 19 0-2-1 3-4-4-10-10 0 4-1-8-1 2-5 14-8-3-8 4-9-11 0-8-2 8-5-6-1 20-2-11-4-1-1 12 0-20-3 4-1-1-1-1 0-2-8 17 0 1-1-17-3 16-8-2-1-8-6-9 21 32 3 4 3 3 0-4 2 0 0 1 0-8 1 1 4 10 1 2 2-12 4 2 2-1 3 15 0-10 1 10 5-17 1 3 0 12 2-19 3 9 1 9 3-5 0-6 4 5 1-6 0 10 6-11 1 5 1 12 3-16 7 3 4-9 7 10 5 7 5-8 1-2 2 15 3-1 6-15 4 5 3 5 0 1 1-6 1 2 6-7 0 11 2-11 2-4 1 14 2 1 2-17 2 17 2-17 1 23 3-11 1 6 0 1 3-14 2 11 5 6 2-8 0 4 0-7 2 11 4-9 1 4 12-4 0-13 1 12 1 7 2 0 1-15 2 12 5-9 1 4 4-1 1 0 1-6 2 13 0-14 3 2 2 12 2-8 0 2 3 1 2-1 1-6 1 8 2-6 1-5 1 6 3 15 0-12 4-11 2 16 1-14 4 13 4 1 1 4 1-6 0-2 1-11 2 21 1-9 8-13 3 19 4-16 4 14 0 1 1-8 1 5 1 5 0-7 2 5 1 2 0-20 3 15 2-10 7 8 2 7 6-10 2 2 0-6 2 4 1 0 3-10 3 22 6-17 1 15 3 3 0-15 0 13 2-8 4 10 4-20 1 7 2 0 1-8 5 5 6 11 1-6 0 8 8-4 4-10 12-1 3 29-10 3 0 9-7-4-4-17-2 11-6 9-1-19 0 17 0 3-1 0 0 1-4-17-3 2-6-3-1 11-5 0-3 5-1-3-3-8-1 1-3 4-1 7-1-10-1-6-1 16-2-10-3 0-6 7-2 0-1-14-1 1-1 4-6-2-4 2-2-8 0 0-2 6-1 0-1 9-4-8-2 8-1-1-1-14-1 3 0-1-4-2-2-2-2 20-2-19-1 20-8-7-4 1-9-7 0 8-7-12-6-1-2 10-3-4 0 10-1-17-2 18 0 1-4-7-1-5-2 11-2-7-1-6-1 11-1 0-2-9-1-7 0 9-3 4-3-4-1-3 0 8-1 6-2-3-1-7-2 3-1 3-3 1-2-15 0 5-3-2-2 7 0-13-4 5 0 8-4-1-1-9-4-4-2 7-1 5-2-5-1 15 0-18-1-3 0 9-3-3-1 3-3 12-8-14 0-7-2 13-1 7-1-15-3-6-3 8-1 13-2 1 0-8-4-1 0 1-2 4-2-11-4 6-2 7-1 0-2-6-3-8-8 14-4 1 0-4-2 3-2-5-22-9-6 17-1-9-3-12-3 7-1-1-8-5-1-1-10 15-9-7-2 5-12-1-1 4-2 0 38 12 2 16 3-4 3 3 4-17 1-3 1 19 5-19 0 17 2 2 1-10 1-7 0 6 3 0 0 8 1-5 2-9 5-3 1 5 1 15 6 1 2-21 2 6 6 17 0-19 3 11 3 6 4-19 0 3 1 7 3-12 14 21 2-20 6-1 7 17 1-15 1 8 1 6 1-5 4 0 0 11 1-20 0 8 1-2 5-6 3 15 0-14 0 7 1-5 4 0 1 0 0 13 3-17 0 2 11 3 0 2 1 12 1-18 1 5 11 7 1 4 1-2 8-14 2 14 0-15 4-1 3 0 1 3 2 10 1 9 0-2 1-3 13-16 0 14 2 1 1 2 2 1 3-2 3 0 0-8 3-2 0-2 2 9 1 1 1-4 1-11 1 23 3-13 1 9 2-3 0 4 1-19 4 22 2-10 1-4 4 2 5-11 5 5 0 14 4 0 1-11 0 8 1 6 2-22 1 10 0 4 3 8 5-12 1 11 1-21 4 9 4 7 0-14 3 10 7 5 1-1 0-12 5 1 6 12 1-10 2-3 2 3 3-4 2 0 2 10 2-12 1 17 7-17 1 9 6 11-8 3-17 19-8-1-6-15-1-2-5 3-5 15-19-11-1 10-3-18-2 7-4 4-10 2-1-9-2 18-1-9 0-8-1 16-7-21-1 7-1 10-2-5 0-9-2 4-2 14-2-3-5-18-2 15-2-1-2 4 0-2-2-10 0 10-5-4-2 6 0-18-1 14-3 6 0-14-1 5-2-11-1 20-6 2-2-7-1-10-2 6-1-10-4 13-1 8-3-9 0 8-1-11-1-1 0-5-5 15-2-1-2-15 0 0-5 15-10-10-1 7-3-9-2 8-11-5 0 11-1-2-1-15-2 19-1-15-7-3-1-2-2 8-1 1-1 8-12 1-4-7-1 3-1 4-20-19 0 19-1-20-2 23-4-4 0-15-2 12-2 6-1-12-1-4-1-1 0 16-12-12-1 6-5 0-3-15-5 7-1-2 0-4-9 18 19 15 17-8 6 15 10-10 5 1 5 6 1-9 1 15 0-1 1-5 4-6 4-3 0 10 6-5 3-6 9 17 2-4 6 1 2 0 7-7 8 4 0 2 4 4 8-3 1 1 1-2 7-13 5 2 2 9 4-14 1 20 1-7 0-5 0 2 2-2 9 9 2-12 0 12 2 1 0-4 1-1 0-1 12 10 0-20 4 12 1-5 1-8 4 18 1-20 5 12 10 2 0 2 1-3 2 9 0-17 1 0 3 3 2 0 2 7 3-2 3-9 2-2 4 19 3-7 1 0 4-10 2 3 6 1 0 2 5 8 14-8 9 6 11-3 3-3 4-7 0 8-33 20-17 5-3-7-23-5-3 3-16 1-2-3-4 2-1 5-4-1-1 2-8-5 0 15-11-17-6 1-4 11-6-9-1-2-9 0-14 1-4 9-9-6-5 4-2 1-11-4-9-1-10 11-3-10-25 0-4-4"/>
<rect class="bd" x="0" y="0" width="321.3" height="327.0"/>
<path class="tk" d="M77.6 327.0v5M164.4 327.0v5M251.2 327.0v5"/>
<text class="tl" x="77.6" y="349.2" text-anchor="middle">-20</text>
<text class="tl" x="164.4" y="349.2" text-anchor="middle">0</text>
<text class="tl" x="251.2" y="349.2" text-anchor="middle">20</text>
</g>
<g transform="translate(1756.9 1398.8)">
<path class="mn" d="M34.2 0V327.0M121.0 0V327.0M207.8 0V327.0M294.6 0V327.0M0 303.7H321.3M0 218.6H321.3M0 133.4H321.3M0 48.3H321.3"/>
<path class="mj" d="M77.6 0V327.0M164.4 0V327.0M251.2 0V327.0M0 261.2H321.3M0 176.0H321.3M0 90.8H321.3M0 5.7H321.3"/>
<use href="#gD"/>

<path class="mbD" transform="scale(.5)" d="M455 90l34 35-74 18 9 17 34-12-12 30-31 9-6 0-26-4-81-8-8 8-14-13-60 26 129 10 31 5 3-14 15 14 12-11 26 6 3-13 7-1 18 1 50 17 29 22-57-6-30-1-34-3-3 15-40-17-17 11-21-1-1-13-5 20-24-21-5 8-6 3-12-8-4 1-7 18-4-10-29 7-4 0-3-15-19 17-16-10-17 9 16 24 45-1 9 1 6 0 18-9 15-6 3 4 9 3 4-9 9 8 11-8 8 13 3-8 22-1 3 2 2 1 4-3 12 2 3 12 23-14 30 12 0-6 5-7 9-2 2-3 8 8 12 1 6-2 3 7 4-9 49 33-30 5-59-4-22 5-23-20-5 7-2-4-8 0-1 9-7-7-12 13 0-10-1-1-5-2-5 16-2-3-15-9-5-1-3 8-5-8-3 4-3-4-3 0 0-1-1 1-5 4-3-9-4-3 0 5-3-6-1 4-9 3-12 8-12-11-8-2-12 9-1 8-11-15-17 1-25 11-8-3-13 29 3-12 9 11 4-1 25 1 17-1 19 1 13-15 20 8 2 1 2 10 10-1 3-17 1 4 4-3 1 13 5-3 3-4 5 8 5-9 4 2 14 11 1-16 0 12 3-2 1-3 7-11 3 11 7-3 21-8 3 12 1 0 4-2 2-6 2-1 5-5 1 23 8-3 5-7 2 6 11 3 11-2 12-10 3 2 16-1 24-4 4 8 2 2 3-4 2-3 1 21-27-6-3 16-23-16 0 20-9-5-6 6-2-14-4-8-3 14-8-3-5 11-6-6-3-3-1-3 0-1-48 8-2-11-9 16-2-6-3-3-1 9-11-17-4 5-1 4-3-7-5 15-3-2 0-10-1-8-4 20-1-6-2 5-3-19-3 20-14-2-17-10-5-7-1 1-2 1-1 2 0-1 0 1-5 13-3-16-10 7-15-11-4 17-25-4-7 5-3 4-12 0-22-6-7 9 19 20 3-7 4-11 7 15 1 4 0-7 32-10 3 3 22 2 1 1 3-7 1 1 10-4 1 7 9 1 9 7 2-16 6 16 3-16 21 18 12-3 1 3 1-18 2 18 1-14 9 4 4-6 1 9 4 4 14 1 4 0 1-5 3 9 3-16 6 4 2 15 8-12 2 4 1-1 2-12 1 19 11-7 0 0 6-9 1 12 3-4 21-3 17 2 24 29-2-11-1-3-7 13-8-4 0 5-2-5-33-3-8-4-16 17-2-20-18 5 0 1-21 15-1-11-1-8 0 5-1 8-3-6-9-7-10 3-7 1-1 8-11 6 0 0-3-5-14-1-2-7-3-8-4 0-15 0-10 8 0 8-1-4-4-13-11 18-8 5-1-13-20 11-34-16-5 0-39 10 55 29 26-6 25 3 5-11 12 14 2-18 7 5 11 10 24-12 1 6 22-4 32 11 17-18 5 21 8 1 5-4 0-14 3 18 10-12 9 8 4-7 2-1 6-10 29 7 13 1 33 24-13-1-35 0-6 1-13 7-28-14-9 19-10 2-9-20-2 14-7-8-6-4-2 17-24-5-1 3-3 2 0-5-11 5-7-5-6 4-37-4-19-3-16-6-12 14 0-10-10-9-26 15 0 22 1-12 7 4 9-7 2 2 33 11 20-8 1-3 0 8 12-7 5 19 21-13 0 7 12-1 18-10 10 5 2-8 3 0 41 3 5 7 6 9 12-17 16 15 4 2 9-9 14-2 20-6 13 6-49 28-29-7-41 9-35-9-6 3-54 4 0 5-2-4-22 3-17 3-25-17 60 41 4-3 4 1 38-10 4-3 66 18-79 1-19 3"/>
<rect class="bd" x="0" y="0" width="321.3" height="327.0"/>
<path class="tk" d="M77.6 327.0v5M164.4 327.0v5M251.2 327.0v5"/>
<text class="tl" x="77.6" y="349.2" text-anchor="middle">-20</text>
<text class="tl" x="164.4" y="349.2" text-anchor="middle">0</text>
<text class="tl" x="251.2" y="349.2" text-anchor="middle">20</text>
</g>
<g transform="translate(94.4 1812.0)">
<path class="mn" d="M21.7 0V327.0M110.2 0V327.0M198.7 0V327.0M287.1 0V327.0M0 298.5H321.3M0 241.6H321.3M0 184.7H321.3M0 127.7H321.3M0 70.8H321.3M0 13.9H321.3"/>
<path class="mj" d="M65.9 0V327.0M154.4 0V327.0M242.9 0V327.0M0 327.0H321.3M0 270.0H321.3M0 213.1H321.3M0 156.2H321.3M0 99.3H321.3M0 42.4H321.3"/>
<use href="#gE"/>
<ellipse class="sb" cx="140.7" cy="283.2" rx="4.8" ry="6.0" filter="url(#f2)"/>
<path class="mbE" transform="scale(.5)" d="M234 68l16 0 9-4 3 6 20-13 15 13 4-19 14 12 2-3 10 9 5 0 7-4 7-9 47 35-15-12-23 9-16 4-3-14-9 4-8 4-4 0-3 1-5 6-10-18-5 4-9-2-5-4-3 9-6 6-3-4-17 6-3-5-1-11-2 19-2-2-22 4-18 24 8-23 15 5 9 18 5-6 12-8 3-3 2-6 2 2 1 9 3-2 1-1 3-8 10 10 4 3 0-7 2 11 1-7 6 2 0-7 2-4 2 3 3 4 3-8 6 9 10-7 0 19 15-13 0 2 8-4 3-2 8 6 3-7 0 7 4 3 6-5 5 5 9-10 3 17 0-2 2 1 1-18 55 8 24 1 1 35-14-14-29 13-5-18-5 19-2-18-3 13-3-9-26-4-9 4-5-5 0 2-8 1 0 17-2-22-1 5-6 5-3-10-15 8 0-7-1 17-1-3-8 8-1-15-1 2-2-4-12-1-1-2-5 20-1 0-3-18-5 17-5-1-3 0-5-7-3 1-8 1-3-3-1-11-7 9-21 4-1-2-13-13 0 20-7-4-2-1-2 4-23 5 12 1 1 5 4 9 18 5 1-17 7 8 3 7 11-5 2 4 7-7 11-4 3 2 2 1 0 12 11-7 0-10 5 15 0-11 3 11 0-14 5 6 2-7 20 1 2 1 3 8 6 5 1-8 2-1 0 0 1-4 9 0 1 17 3-17 2 16 1-19 3 4 2-5 7 15 21-7 2 11 12 2 0-13 4-1 3 8 1 5 11 0 5-11 1 4 0 8 2-16 1 12 6-11 6-6 2 8 2 7 1-8 9 5 8 8 47-22 20 42-3 3-22-12-13 3-11 7-11 1-2-6-8-14-13 4-2 19-9-15-7 15-11-12-10 4-1-6-2-8-1 21-4-3-3-10-1 10-4-15-2 10-4-8-4 13-2-2 0 2-4-2-1-13-1-1 0 19-1-18-3 3 0 14-1-13-2 14-1-9-8-7-3 1-1-1-3 2 0 13-3-1-1-5-3-4-5-11 0 20-1-1 0-19 0 5-11 14-2-13-5-6-1 19-1-7-2-6-4 14-1-6-5-5-1 3-1 2-8 6-2 3-5-3-1-1-2-17-4 8-2 5-4 3-3-5-3-5-1 0-1 7-5-11-3 0 0 0-9 4-4 5-2 7-1 3-2-20 0 9 0 6-5-8-1 3-1 0-1-3-9 0-13 10-3-7-30 32 3-17 1-1 2 16 1-10 3 10 24-19 8 5 10-1 3-4 9 12 1 8 1-13 2 3 11 13 0-3 2-4 3 6 1-16 1 3 3 2 20 10 2-13 1-3 3 10 2 6 1-21 0 3 1 2 5 18 1-6 3-16 3 18 2-6 2 1 3-9 1 10 0 5 2-20 0 5 2 8 1-8 0 7 1-2 1 3 0 6 1-8 3-3 0 9 3-11 3 4 7 2 0 5 5-15 1 18 1-9 0-3 1 9 1-16 2 15 4 1 1 3 2 2 2-10 8 0 4 9 0-15 3 7 1-12 0 18 4 0 6-12 6 7 4 1 8-10 3 4 4 12 6-15 0-2 3 18 0-10 0 2 10 0 5 1 4 2 5-1 1 2 2-3 1-9 16 10 1-4 4-3 16 2 1 8 2 24-10-5-20-13-2 0-3 9-5-2-8 5-21-11-6 10-7-5-2 10-1 1-1-15-2 12-1 4-2-19 0 7-2-2-6 14-5-10-1-9 0 22-1-2-1-8-4-5-2 5-6 8-2-2-8-10-1 0-2 12 0-9-1 1-3-12-5 7-1 10 0 2-6-17-5 11-8 0-1-13-1 20-1-5 0 2-2-5-1 9-2-6-2 7-3-5-2 2-3-10-3-2 0 9-1-6-2 0-2 11 0-10-1 8 0-15-2-1-1 12-3-6 0-9-1 8-2 10 0-8-1 9-3-7-2-1 0-3-10 6 0-14-3 1-2 14-2-10-1 9-3 7-3-16-3 15-1 2 0-12-1 12-3-2-3 1-9 1-6-6-2 3-1-7 0-1-3-5-17-2-26 24 10-2 2 2 3 16 8 3 4-21 1 11 0-9 9 1 7-4 1 19 1-6 0-1 14-1 1-10 3 10 6-2 0-3 4 14 0-21 2 11 1-8 2 4 4-2 0 0 0-4 1 20 1-20 1 22 6-8 0-4 1-7 3 7 1 10 8-18 1 12 2 6 1 1 0-18 1 7 1-5 2 17 0-23 11 21 3-13 2 4 2-8 0 12 3-9 1 7 3-13 2 21 0-6 1-12 1-4 2 11 0-3 0 9 3-15 2 15 1-10 1 9 0-9 1 5 5-6 0 7 1-4 1 7 2 0 3-6 2-4 2 17 3-9 1-12 1 16 1 3 2-14 1 14 3-10 3-11 0 9 2 3 1-6 0-1 1-5 1 11 5 1 2-8 8 15 2 3 10-14 1-2 2 16 1-22 8 23 3-15 1 5 6 10 3 0 1-18 4 0 10 17 8-5 5-15 1 4 2 13 7-13 0 12 2-2 7 4 41-6 2-12 6 27-8-2-3 16-24-15 0 7-5-6-4 4-3-2-7-5-11-1-6 9 0 7-1-3-6 5-7-8-8-3-1 9-4-6-1 1-3 0-3 7-6-6-4-11-1 18-2 0-1 0-1-9-3 2-2-7-2 9-1 4-1-2-13-7-2-1-7-3-1 0-2 11 0-13-5 18 0-14-1-3-2 11-3 4-1-1-1 4-1 0-2-19-1 17-2-12-2-1 0 5-2-1-1-7-1-2-2 13-1 1-1 1-1-1-2-4-5-1-3-1-1-2-1-7-4 6-1 2-1 7 0-6 0-10-2 2-2 1 0 8-5-3-3-8-4 10 0 8-1 1-3-13-1 5-4-6-3 12-1 4 0-1-1-4 0 3-3-4-3-7-1 12-5-9-1-7 0 4-1-5-5-3-2 1-7 13 0-11-5 0-1 9 0-8-7-1 0 16-11-9-3-3-4 11-4-3-2 0-7-5-6-4-14-1-10 15-10 13 2-9 11 14 2 4 18-16 3 12 4-15 3 0 3 21 0-7 1 5 6 2 3-6 3 6 6-3 2 5 5-16 5 7 4-1 1 4 1-1 1-10 0 10 2-13 3 4 2 5 6 5 1 6 3-6 2-3 3-3 8-3 1 10 6-15 5 14 8-10 3-4 4-1 0 8 1 6 2-8 3 7 1-2 8-9 1 13 5-15 1 21 6-7 1-9 2 10 1-4 2-4 0 3 6 7 3-8 2 0 1-7 2 10 6-11 5 10 1 5 6-14 2 11 1-4 10 6 2 1 1-10 4-5 8 8 8 0 5-2 5 0 1 2 0 12 2-18 0 18 1-1 9-15 2 8 1-11 0 10 2 6 5-12 10 12 2 1 18-9 0-5 1 5 17-12 8 24-18 3-28-1-1 6-3 13-2-21-3 22 0-22-1 16-5-14-5 11-6 9-1-10-2-10-2 4-3-6-3 23 0-17-1 8-7-2 0-7-3 10-2 3-4-17-11 12-1 4-4 1 0-12-4 15 0-12 0-4-4 8-2 8-8-12-1 6-2 0 0-6-4-1-5 10 0-13-3 4-7-4-4 12 0-15-4 21-3-2 0 1-1-12 0-8 0 9-1 5-4 4 0-9-3 2 0-11-4 5-1 15 0-10 0-4 0-8-3 15-3 4-1-4 0 0 0 2-2-9-1-3-3 9-1-11-1 9-1-12-1 9 0 7-6 0-6-5-3 11 0-22-3 18-1-5-2 2-2 4 0-12-1 16-5-6-3-9 0 0-1 4-2 8-2-10-1 4-2-5-1 9-4-2-1-10-2 12-2-10-2 2-2 10-2-17-2 17-4-13-1 3-1 9-2 0 0-3-6 1 0-2-14 5-2-6-14-3-11 7-10-5-5-13-6 9 23 38 8-11 4 3 3-14 8 22 6-4 6-6 8-10 2 13 0 7 1-13 2 6 1-14 0 16 7 4 6-13 4 10 4-5 2-14 5 1 0 9 1 7 0-15 2 3 1-2 5 8 0 5 1 6 6-16 6 6 0 8 2-17 2 9 1-11 0 19 1-17 5 4 2-3 3 6 1 12 0-3 2-5 0-6 8-2 1-4 3 10 0 7 2-3 3-14 2 6 1 5 2 5 3 5 1-13 3 7 0-7 1 13 1-22 0 7 0 3 9 4 2-7 4 11 13-2 2-7 8 0 0 9 2-17 0 2 1 6 6-5 1 7 0 3 2 5 0-2 18-10 11 2 8 1 1 8 4-18 4 12 5 1 16 5 4-14 2 12 5-11 16 23-19 0-11 13-38-3-1 3-5 1-3-11-20-8-2 11 0 11 0 1-9-23-7 22-4-17 0 4-1 10-4 3-3-8-4-8-6 9-3 0-2 0-4-8-1 6-1-10 0 15-2-14 0 19-3-22-1 20-9-9 0 5 0-1-1-14-13 16 0 5-1-23 0 21-3-20 0 8-17-9-4 14-2-4-2 10-12-18-1 14-1-10-1-1-1 2-3 4 0 2-13-5-6 0-1 7 0 4-5-6-2 9-1-7-1-11-9 19-8-17-11-1-7 15-19-12 22 37 15-13 2 8 10-1 10-14 3 3 5 10 5 0 14 6 2-15 0 8 7 5 15 1 5 4 2-8 7 6 1-11 2-9 1 8 0 7 1-16 0 7 11 3 3 8 9-5 3-2 5-10 1 0 19 10 1-3 0 14 7-6 11-14 5-1 28 11 0 7 6-17 16 8 2 1 24 3 14 5 21-16-62 25-5 7-2-5-20 12-12-1-2-17-15 14-1 9-6-7-1-1-10 4-21-14-3 6-4-5-6 15-1-16 0 3-2 14-2-22-9 8-5 0-9 15 0-13-6-7-1 20-1-16-1-3-4 16-2 2-2-6-1 7-11-2-13-13-5 12-15-18-2 3-5 0-6 12-1-12-11 9-72 22 33-2 28-7 20 9 9-2 7 11 9-11 5 2 5-1 9-6 0 1 2 2 2 1 3 2 1-7 1 12 0 0 0 4 3-3 2-7 0-6 0-3 1 17 0-12 1 7 0-1 0-8 1 3 1 16 1-17 0 14 1-10 0 6 1-12 1 5 1 3 0-2 0 5 1-7 0-7 1 16 1 3 0-12 1-2 1 10 0-12 3 9 0-1 0-6 0 15 1-18 0 11 0-7 1-7 0 20 1-11 0 5 0-11 1 19 0 1 2-23 2 7 0 8 0 7 1-15 1-6 2 8 2-3 1 15 0-18 1 19 1-5 1-1 1-3 2 7 4-15 6-3 4-1 1 6 12 8 10 3 9-17 38 8 1 1-20 23-6 1-5-3-4 6-14 2-16-3-4-8-10 19-4-10-1 2-6-1 0-13 0-1-2 7-2 4-2-9-1 14 0-8-1 0-1 9-2-17 0 1 0 6 0 1-1-2-1 10-1-10 0 15-1-19 0 21 0-4-1-18-1 15 0-7-2-3-1 17 0-1 0-7 0 5-2-1 0-3 0 5 0-17-3 1-1 1 0 9-1-6 0 12 0 2-1-11 0-7 0 14-1-10 0 7-1-15-1 15-1 3 0 0-1-10 0-6 0 12-2 6 0-8-2-10-1 14 0 3 0-6-1-14 0 15 0 0-1-1-2-12 0 20-2-12-2-1 0 8-1-13-3 15-2-2-3-17-38 10-5 6-2-4-1 3-43 4-43-16-11 36 29-9 21 11 18-10 6-5 6 1 2 0 6 8 5 9 7-19 6 17 4-13 1 8 16 1 13-12 4-1 3 19 3 2 6-21 2 11 2-8 0 18 0-19 0 1 1-3 0 22 0-2 6-19 1 9 3-6 0-1 1 10 0 2 0-1 0-1 1-8 0 5 1-7 0 19 0-10 1-10 0 16 0-4 0 5 1 2 0-10 0-7 0 9 1-11 1 11 2-6 1-1 0 2 0 9 1-5 0 0 0-13 0 3 1 0 0 14 1 3 0-9 1-6 1 16 0-14 1-5 0 4 0 11 1-11 0 4 1 2 3-12 0 3 1 16 1-12 0 16 4-22 1 18 2 1-3 13-2 13-5 1-2-7-1-14-2 5 0-2-1-3-1 14-1-6 0 2 0-12 0 4 0 5-1-9 0 18-1 4-1-22 0 11-1 4 0 8-1-22 0 11 0 11-1-22 0 2 0 13-1 7 0-12 0 9-1 3 0-19-2 11-1 0-1-9-1 6-1 5-1-15 0 18-1-9-4-1-6 2 0 0-3 5-3 5-37-3-4-3-11 4-7 1-3 0-9-19-4 12-2-10-2-1-25 4-7-1-9 0-6 15 0-12-22 7 16 8 17 15 17-10 4 0 39-1 2 13 16-16 34 5 7 8 0-11 4 1 0-3 1 12 0 8 1-6 1-10 1 1 1 12 0-8 1-3 1-2 1-5 0 5 1-5 2 14 0 6 1-16 0-1 0 2 0-2 0 18 1-21 0 20 1-14 0-6 1 17 0-16 0 22 1 0 0-14 1 2 0 0 0-2 1 1 0 3 0 9 1-12 0 13 0-12 0-2 0 11 1-18 0 10 0-7 1 15 0-16 0 18 0-17 2 1 0 14 1-20 0 2 1 0 1 5 0 0 0 7 1 9 1-9 0 2 0 1 1-13 0 7 1 0 1-1 0-5 0 18 2-3 0-19 1 8 1 1 0 5 0-15 1 10 1-8 1 12-8 10-1 2-6-1-1 0-1 8 0 1-1-5-1-2 0 5-1-5-1 8 0 0 0-2 0-7 0 9-1-6 0 3 0-8-1 1 0-1-3 6-2-4-1 9 0 0-1-1-2-10-2 12-3-9-2 10"/>
<rect class="bd" x="0" y="0" width="321.3" height="327.0"/>
<path class="tk" d="M65.9 327.0v5M154.4 327.0v5M242.9 327.0v5M-5 327.0h5M-5 270.0h5M-5 213.1h5M-5 156.2h5M-5 99.3h5M-5 42.4h5"/>
<text class="tl" x="65.9" y="349.2" text-anchor="middle">-20</text>
<text class="tl" x="154.4" y="349.2" text-anchor="middle">0</text>
<text class="tl" x="242.9" y="349.2" text-anchor="middle">20</text>
<text class="tl" x="-11" y="332.5" text-anchor="end">-30</text>
<text class="tl" x="-11" y="275.5" text-anchor="end">-20</text>
<text class="tl" x="-11" y="218.6" text-anchor="end">-10</text>
<text class="tl" x="-11" y="161.7" text-anchor="end">0</text>
<text class="tl" x="-11" y="104.8" text-anchor="end">10</text>
<text class="tl" x="-11" y="47.9" text-anchor="end">20</text>
</g>
<g transform="translate(426.9 1812.0)">
<path class="mn" d="M21.7 0V327.0M110.2 0V327.0M198.7 0V327.0M287.1 0V327.0M0 298.5H321.3M0 241.6H321.3M0 184.7H321.3M0 127.7H321.3M0 70.8H321.3M0 13.9H321.3"/>
<path class="mj" d="M65.9 0V327.0M154.4 0V327.0M242.9 0V327.0M0 327.0H321.3M0 270.0H321.3M0 213.1H321.3M0 156.2H321.3M0 99.3H321.3M0 42.4H321.3"/>
<use href="#gE"/>

<path class="mbE" transform="scale(.5)" d="M336 85l-33 8-68-10 10 26 57-10 85 44-18-17-22 15-5-6-3-3-6-12-9 23-28-2-1-8-27 9-4-10-22 4-8-2 2 33 11-22 6 12 2 0 1 10 5-1 22-6 10-8 14 8 2 5 9-7 1 7 3-1 17-14 41 9 0-2 1 3 1-1 4-8 15 14 16 5-16 1-3 16-2-12-3-2-4 6-9 12-10-23-5 4-4 3 0 8-3 7-2-20-5 21-12-13 0 11-6-2-2-14-4 15-2-3-1 6-2-9 0 6-4-9-4 8-5-4-1-3-8-11-4 22-12-7-2-14-12 16 0-9-9 9-3-18-16 15-10 2-16-13-86-3 17 41 55-9 32-1 2 9 8 6 2-9 12-10 3 0 13-4 4 18 0-16 1 15 9 0 3-2 7 3 2-14 3-1 5 3 3 5 3-1 6-8 1 13 0-11 8 12 5 7 1-6 3 6 1-7 1-11 3 1 16 2 4 4 1 5 2-10 8 4 1-5 7 15 2-15 11-6 0 1 3 4 7 15 11-3 4-2 8-14 3 38-1-10-4-3-8 5-1-7-17 0-5 13-6 4-1-2-1 6-2-11-1-7-3 12-3-8 0 13-5-13-2 16-3-17-5 7-3-5-4 3-1 5-3 6-2-7-6 6-2-9-3-3-2 1-10 10 0-19-6 9-2-10-2 8-1 3-2 11-5-4-1 4-3-1-3-8-1 1 0-13 0 22-2-19-6 8-5-3-4-7-11 20-9-16-2-5-13 20-5-12-1 7-1-8-11-6-13 5-1 15-114-12-2 32 15-4 62 9 36-15 12 4 7-2 1 11 4-18 14 16 2-9 4 6 9-2 5 8 1-18 3-3 3 16 1-15 1 0 6 20 3-19 1 16 1-10 0 8 2-17 1 21 0-1 3-15 5-4 6 8 2 10 9-6 0-4 1-7 2 0 1-1 1 21 3-21 1 7 2-4 4 14 0-15 7 4 0-1 5 6 6-3 6 14 0-9 1 1 2 5 9 0 1 1 3-15 13-5 10 21 6 1 2-7 2-7 3 3 15 4 28 2-8 27-9-20-20 10-4 11-2-4-4-11-1 0 0 4-5-8-6 6-2 1-2-9 0 8-9 14-2-8-4-11-1 0-2 4 0 13-1-16-1 13-12-9-1-4-4 10-2-8-1 10-1 4-1-15-2 15 0-15-3 11 0-9-2-7-2 7-1 6-4-4-5-7-2 15-1-12-8 3-2 0-3 1-2-1-2 5-4 5-5-9-5 4-1-3-3 12-7-23-1 6 0-6-1 22-2-5 0 5-3-14-3 15-4-21-3 10-3 1-1 0-4-8-1 3 0-6-1 6-5 0-2 3 0 0-5 4-1-5-4 11 0 2-1-18-2 6-1 7-3-18 0 10-5 9-19-7-32 3-6-6-11-3-1-5-4 7-88 3 47 33 24 3 3-10 2-10 26-3 7 0 37 12 9 10 14-22 1 8 7 14 2-12 1-2 2 5 4-2 2 7 0 3 3-17 8 15 6-19 7 16 3-2 3-14 1 6 0 11 1-2 10 0 5-8 0 14 2-4 1 1 1-6 1 8 2-10 1-10 6 10 7-1 0 13 1-1 1-9 2 2 1 5 2-15 1 19 1-10 7 0 1-5 1 3 1 7 0 3 0-8 1-4 0 1 4 3 4 6 4-2 1-15 2 3 2 8 0 0 2 4 1-14 2 5 8 13 14-7 2 3 3-10 5-3 3 13 9 3 2-14 8-5 5 12 6 5 0-4 16-12 17 34-38 11-5-15-9 5-1 6-9-8-5-5 0 14-2-13 0 0-1 8-8-8-2-2 0 18-4-5-3-1-1-11-3 15-3-8-2 0-5-9 0 17-1-1-6-1 0-2-3-2 0-8-1 14-2-3-1-17-11 8-2-4-3 9-2-7-4 0-3-7-5 10-1-10-2 15-2-13-2 0-1 0-2 20-4-19-7 12-2-4-1 9-3-4-2 7 0-18-1 15-1-4-3 6-5-16-8 3-6 13-22-3-5-19-2 1-8 3-1 4-12 15-9-22-7 11-3-7-11 16-27 0-38-6 14 30 41-5 16 2 17-7 2 4 38 5 2 1 1-20 1 8 3 11 4-16 2 12 4 4 1-2 0-18 2 18 0 4 0-7 8-10 2 13 2-14 3-1 1 7 5 2 0-2 1-3 1 4 6 10 0-1 1-2 6 1 1-15 1 15 8-6 1 6 1-17 1 16 7-6 3-10 8 18 2 1 3-5 1-8 1-2 1 5 8-4 2 14 5-1 3-18 0 5 0-2 9 6 5 4 0-5 1-4 5-6 6 5 0-2 7 6 22 8 14-2 8 0 80 28-1-12-85-6-17 9-8-9-4 17-5-12-3 0-6 16-9-10-1-11-7 1-9-2-1 2-8-1-4 9-9 6 0 1-4-3-5-13-4 15-5-8-2 10-2-4-1 9 0-17-2-3-2 4-3 0-7-5-3 5-1 12-1-14-6 9 0 7-1-11-2 3 0 5-2-6 0-3-1 6-13 3-2-11-3-1-1 10-1-11-2 1-1 4-1 8 0-8-2 9-14 0-7 1-8-19-6 13-3 0-6-5-17 11-9-1-20-9-37-2-61 8 150 31 4-16 13 7 9-9 6-4 1 10 18 11 8-7 11 7 0-16 3 16 2-18 1 17 2-13 2 14 8-12 1-6 3 16 0-17 9 16 5-8 0-5 0-4 3 14 1 7 6-10 1 3 1-2 3 2 6-1 1-5 8 13 6-20 13 1 0 3 6-4 4 4 7 14 1-10 6 12 17-6 10-4 51-5 1 5 23-13-20 42-12-7-4 8-44 1-16-12-2 1-5 4-3 0 0 8-24 0-2-3-12-12-6-4-4 12-1-10 0 19-4-8-1-14 0 20-1-16-5 4-5 5-12 3 0-17-3 19-1-18-12 12-5 0-2 9-12-20-1 8-3-8-16 12-32-6-4 6-1 7-1 2-6-9-55 6-48-1 120 6 22 22 2-15 7 7 2 6 0-13 15 11 2-5 10 0 14-14 7 5 30-3 0 3 2 1 6 0 12-2 46 2 15 14 19-18 36 19 13 11-14-2-15-6-91 8-18-4-25-2-8 6-18 15-2-22-21 19-38-15 76 27 20 0 11-7 102 29-85 4 56 26"/>
<rect class="bd" x="0" y="0" width="321.3" height="327.0"/>
<path class="tk" d="M65.9 327.0v5M154.4 327.0v5M242.9 327.0v5"/>
<text class="tl" x="65.9" y="349.2" text-anchor="middle">-20</text>
<text class="tl" x="154.4" y="349.2" text-anchor="middle">0</text>
<text class="tl" x="242.9" y="349.2" text-anchor="middle">20</text>
</g>
<g transform="translate(759.4 1812.0)">
<path class="mn" d="M21.7 0V327.0M110.2 0V327.0M198.7 0V327.0M287.1 0V327.0M0 298.5H321.3M0 241.6H321.3M0 184.7H321.3M0 127.7H321.3M0 70.8H321.3M0 13.9H321.3"/>
<path class="mj" d="M65.9 0V327.0M154.4 0V327.0M242.9 0V327.0M0 327.0H321.3M0 270.0H321.3M0 213.1H321.3M0 156.2H321.3M0 99.3H321.3M0 42.4H321.3"/>
<use href="#gE"/>

<path class="mbE" transform="scale(.5)" d="M224 69l6 0 13-10 4 3 21-12 17 9 40 12 0-15 39 10-3 26-14-16-1 16-26-12-9-5-3 19-16 1-5-18-2 13-2-13-27-2-12 7-8 9-12-10-6-1-11 3-44 35 31-12 2-2 1-6 1 21 6-20 4 12 2-2 4 4 2 3 1-3 5 3 16-13 3 15 11-7 1 2 4-12 3 11 5 3 2-4 6 3 1-2 6-12 0 6 2 11 0-11 1 12 3-5 3-5 6-8 1 11 1 8 6-5 18 4 3-12 3 9 6 2 3-20 2 15 10 7 12-21 2 2 13 19 32-5 2-2 2 6 49 25-1-5-39 3-5-19-53 12-3 3-2-12-10 16-2-19-5 16-1-16-6-1-12 21-2 0-2-5-2-6-4 6-3-1 0 2 0-9-1 1 0 9-1-4-4 4 0 0 0-9-2-5-1 5-4-5 0 14 0-17-2 8-2 6 0 2-2 5-1-1-2-16-1 13 0 1 0 1-1-20-1 4-1 16-5 2-1-5 0-2-2 1 0-12-5 14-3-15-1 15 0-14-2 2-2 7-2 8-1-12-5-7 0-2-1 14-1-1-2-1-1 3-4-6-1 2-1-10-7 19-7-4-1 3-1-20-3 12-10-3-7 0-6-9-11 9-6-5-38 6-42 29 12 1 16 2 4-9 5 12 25-8 5-6 6-7 2 7 2 10 4-7 6 13 0-9 13 0 10 4 1-1 2-9 3 6 2 7 5-4 0-11 0-2 2 1 0 17 3-14 0 7 1-10 1-1 2-1 0 19 1-11 3 8 0-2 1-3 0 6 1-9 0-6 1 4 0 1 0 13 1-15 0 7 5-5 1-4 3 11 0-3 1 8 1-20 0 10 1 9 1 1 0-2 1-18 1 7 1 6 4-11 0 17 1-7 0-5 2 12 0-17 0 7 3 6 1-6 1 9 0-8 4 4 1-10 1 0 0 7 0-5 0 6 2-8 1 0 0 7 0 4 1-7 1-10 1 12 0 7 1-9 1 3 2 0 1 2 0-3 2 2 0 3 1-9 1 14 2-3 2-7 2 7 0 2 1-4 0 2 1 2 2-2 1-4 1-7 2 3 0 6 0 6 1-17 0-2 1 6 1 4 0-12 1 19 0-5 1-11 0 3 0-5 3 6 0 3 0 9 0 2 1-16 2-2 0 1 1 10 0-8 0-3 0 11 1-16 1 15 1-2 1-12 5 11 0 0 0-3 0 3 1-11 2 5 0 7 1 5 1-5 0 2 1 0 1 1 2-6 2-3 0-1 1-4 1 3 0 10 3 6 1-3 1-7 1 12 1-21 1 1 2 19 1-21 0 14 1-11 1 14 0 2 1 2 2-6 0-14 0 14 1-9 4 8 1 5 1 1 1-8 1 9 4-21 2 9 1-4 1 16 0-1 1 2 2-14 1-8 4 17 0-2 1-6 5 3 1 7 1 2 3-16 23-2 46 5 0-8-32 35-9 7-13-11-4 10-2-4-2 9-1-19-2-1-3 11-3-8-1 2-2 3-1 2 0 5 0-5-1-2 0 6-3-7-1 9-1-7-1-11 0 6 0 14 0 2-1-17-1-4 0 15-3-3 0 2 0-2 0 3 0-1-1 2 0 1-3-3 0-11-1 16 0-2-1-19 0 0-1 18-1-17 0 21 0-16-4 14-1-8-1 9-1-21-1 16-2 3-1-17-3 14-1-15 0 20 0-4-1-7-1-9-1 2 0 6-1-3 0-3-2 0-3-2-1 9 0-4 0 5-1 11-1-10 0-8-2 17 0-8 0 9 0-1-1-20 0 9-1-4 0 6-1 8 0-14-1 9 0 8 0-20 0-1 0 1 0 4-1 11-1-13-3-5 0 2 0 20 0-4-4 0 0-6-1 10-2-6 0-7-1 2 0-3-1 5-2-11 0-1 0 3 0 19-1-15 0 10-2-10 0 13-1-8 0-11-1 4 0 2-1 6-1 1-2-3 0-9-1 9-1-12 0 6-1 8 0-7-1 11 0 5-1-3-1-4 0-3-1-13-1 18 0-2-2-16-1 4 0 0 0 14-1-1-1-2-1-8 0 10-1-17 0 13-1-3 0 3 0 0 0 1-1-2-1 2 0-7-1-2-1 1 0-4 0 3-2 7-1-8 0-4 0 16-1-6 0 2 0-6 0-5 0 13-2 2-1 7-1-20 0 14-1-4 0-12 0 19-1-11-1 9-1-5 0 5-1-8 0-4 0 1 0 9-1 5-1-7-1-3 0-4-1 5-1 4-2 1 0-10-1 12-1 1-1-3-1 6-1-14-1 1 0-5-1 0 0 16-1 2-1-6-1 5-3-22-1 13 0 0-1-11 0 13-2-7-1-3 0 2-1-5-1 13 0-14-1 5-1-6 0 11 0 11-1-20 0 15 0-3-2 4-1 1-1 0 0 2-2-6-2-4 0 4-2-14-1 8 0-4 0 16-1-16 0 5-1-7 0 16-1-3 0 3 0-15-3 0-1 12-1-14-3 14 0 2 0-7-1 11-1-1-1-10 0 1-1-5 0 7 0-8-2 16-1-8-2 6-1-14-1 15-2-11-1 9-1-2-3-8-2-1-10 9-2 0-2-5-1-6-1 4-12 13-1-21-3 6-34 4-4-2-4 11-4-1-1 2 0-2-27-4-11-4-27 14 4 13 4-2 12-2 11 3 11-12 2 12 2 9 3-8 2-1 27-7 8 8 6-4 2-2 6-6 2 12 0 4 2-18 6 12 2-2 1 2 3 9 7-9 6 2 6-1 2 6 1 1 0 0 2 1 0-14 1-5 1 7 1 11 0-16 1 5 5 6 2-11 0 18 1-17 0 12 1 1 0-8 1 6 0 3 1-12 1 4 1-6 0 14 1-9 0 2 1-4 2 7 0-15 0 2 0-2 2 18 1-18 0 13 1-9 1 17 1-17 0 13 1-6 1-3 0 7 0 1 1-14 1 8 0-7 1 17 1-3 0 5 1-23 0 23 0-8 0 6 2-16 0-1 1 15 0-7 0-11 1-1 0 16 2-1 0-13 1 8 1-5 0 14 1-3 0-1 1 6 2-18 1 5 0 10 1-9 0-2 1-3 3-2 0 0 0 8 2 4 3 1 0-13 1 6 0 10 0 2 1-19 4 9 1 9 1-13 2 2 0 6 0 5 1-12 0 9 1-7 0-6 1 16 0-9 0 3 1-4 1-2 1 4 0 6 1 0 0-14 1-3 1 17 1-3 2 0 0 0 1-5 0 5 1-12 1-1 0 1 1 9 0 10 1-17 0 14 1 0 2 4 0-17 1 11 0-15 1 8 0-5 2 9 0-13 1 17 0-7 0 11 1-18 1 0 1 5 0-1 2 7 0-11 1 14 1-4 2 3 1-13 2-1 0 6 2 11 1-4 0-5 1 9 0-10 0 9 3 0 0-17 1 10 0 2 1 6 1-2 2-5 1-4 0-2 1-2 0 6 2-6 1 2 0-2 2 0 2 18 3-15 0 2 0 13 2-2 0 3 1-16 2 10 1-9 2-6 1 20 0-12 1-9 1 6 1 14 1-18 0 19 0 1 1-3 1 3 0-23 1 13 2 9 0-14 1 15 1-3 1-1 0-8 1-6 0 14 1-2 1-2 2-4 1 11 0-3 1-13 2 3 0 4 1-7 1-4 2-2 1 14 1-2 0-2 0-2 0 14 1-17 0-2 2 7 0 3 1-12 1 16 2 0 1 0 0-3 1-4 2 7 1-6 1-10 1 18 1-15 1 14 3-13 1 15 0-9 1-2 0-3 1 16 0-12 0 0 2-9 1 8 2 13 0-22 0 7 0 13 1-16 2 6 4 13 0-1 0-20 1 10 4 5 0-8 1 11 1-15 1 16 2-9 1 9 3 2 3-12 0-8 0-1 2 17 4 4 2-2 0-21 10 4 3 0 30 43 0-15-5 8-18 4-18-10 0 10-1-13-1 3-1 0 0 7-1 2 0-15-1 13-6-5-4-1 0 11 0-10 0 9-1-12 0 12-1-11-2 10-1 2 0-12 0 5 0 1-1-3 0 4 0-9 0 8-1-1-2 1 0-5 0-7-2 6-2-4-2 7 0 9 0-10-1 11 0-11-2 0-1 10-1-8-1-8-1-4 0 14 0-4 0 9-1-9-1 11-1-21-1 12 0-3 0-3 0 9 0-15-2 11-1 4-2-6-1-9 0 17-1-8 0-4 0 16-1-1 0-2-1 0 0-3 0-12-1 12 0-1-3-1 0 2-1-2-3 8 0-21 0 4-1 8 0-7 0-3-2 11-1-6-1 7-2 5-2 1 0-18 0 10-1-13-1 1 0 17 0-12 0 13-1-4-1-4 0-9 0 16 0-11-1 4 0-8-1 10 0 4-1-10 0 8-2-1 0 4-1 3 0-17-2 2 0 5-1 0 0 0-1 11 0-17 0 2-1 7-1-1 0 4-1 3 0-13 0 15 0-16 0 7-2 0-1-4-2 1 0-8 0 11-1-9 0 10-1-10 0 9 0 4-1 0 0-4-1-12 0 13-1 0-1-14-2 19 0 2 0-5 0-2-1-5-1-5-1 12 0 3-1-6 0-4-2-7-1 16 0-13-1 6-1 9 0-13 0 1-1-4 0-5-1 5 0 13 0-3-1-8 0-2 0 9-1-3-1 10 0-5-1-5 0-5 0-2-1 19 0-11-2 1 0-6 0-6-2 11 0-4 0 9-1-13-3 9 0-8-1 18-1-22 0-1 0 19 0-9-1-7-2 18-1-2 0-16 0 16-1-12 0 6 0 0 0 7 0-14-1 12 0-1 0-8 0-9-3 15-1-10-1 14 0-12-2-5 0 8-1-8-1 18-1-12-1 13 0-19 0 9 0 8-1-14 0 9-1 5-1-13-1 9-1 4-1-16-1 11-1-5-1-8 0 6-2 6-1-11-1 12 0-9 0-4-2 17 0 0 0 3 0-18-1-3-1 1-3 1 0 8-1-10 0 15-1-7-1 11 0-16-3 13 0-9 0 5-1-7-1-5 0 19-1-11 0 9-1-3-1 4-1 1-1-3 0-12-1 8 0 8-2 3 0-19-1 6-3-6 0 10-1 6-1-1 0-8-2 3-2-11 0 4 0-5-3-1 0 2-1 12 0-1 0-6 0 12-1-9 0-5-1 1 0-6-1 8 0 9 0-10 0-5 0-1-1 1 0 20 0-15-4 12-1 0-1-17 0 7-3-1-1 10 0-19-1 16 0-13 0 0 0 4-1-6-2 22-2-10 0-9 0-4-1 5 0 14 0-3 0 3 0-13-1 4-1 12 0-20 0 18-1-6 0 9 0-23-1 5 0 6 0 1-1 0 0-5-1 4 0-11 0 13-1-4-1-6-1-3 0 8-8-7 0 3-3-3-2 11-1-8-2 14-4-9-1-4-10 15-2-12 0-2-5 4-2-7-7 10-5-1-2-5-5 9 0-3-3 7-7-16-1 6-1-7-2 2-9 16-10-12-2 11-14 3-9-10-3-1-13-6-1 4-4-1-3-6-14 26 18 6 23-6 5 9 6 0 4-9 3-3 2 15 3 3 2-4 2-14 0 5 1 14 17-16 14-4 9 15 6 7 0-11 2-7 0 9 9-8 3 16 4 0 4-19 1 3 1 0 1 0 2-3 1 4 0-7 6 17 1-9 1 9 1-15 0 13 0-7 0 10 1-17 0 20 4 2 1-23 1 14 2 8 1-11 3-5 0 0 0 5 2-2 0 4 1 10 0-14 0 14 0-20 3 19 1-1 0-19 0-2 1 9 1 11 1-10 0 5 0 8 2-20 1-2 0 20 0-9 1-10 0 4 0 4 1-7 1-1 2 1 0 13 0-11 0 1 3-3 2 3 1-2 0 19 0-14 2 6 1 0 1-10 0 4 1 0 1-3 1 1 1-2 0-1 1-2 0 13 3 6 1-17 0 8 0 11 0-10 1-13 0 20 1-14 2-4 0 18 1 1 2-1 0-20 1 7 0-4 0 17 0 2 0-22 2 17 0-17 3 23 0-9 0 9 1-1 1-22 0 12 1 0 3 4 1-4 1-2 0 0 3 4 0 2 1-12 0 3 0 11 1 1 1-8 0-10 1 6 0 16 1-23 0 5 1 15 0-5 2-7 0 0 0 11 1-18 0 15 0-5 1 2 1 6 1-2 1 5 0-9 1 4 1-6 1 6 1-2 0 4 1-14 1 8 0-2 0 1 1 4 1 1 1-7 1-2 0-3 1 4 1-8 0 15 0-16 0 12 1-2 0 12 0-14 0 0 1 1 0 8 1-14 1 5 1 8 1-15 0 7 1-7 0 3 4 16 0-4 0 7 1-23 1 8 1-8 0 16 1-6 1 9 0 0 1-17 0 10 1-4 0 12 1-19 0 20 0-5 1 1 0-7 2 13 1-13 0-8 0 0 1 11 1-3 2 7 1-13 1 13 0-16 1 12 1-13 3 13 2 3 0 6 1-4 2 1 1 3 1-11 1 7 0-9 1-5 4 17 0-12 0 12 2-12 2-5 2-2 0 2 1 14 2-10 0 10 1-3 2-14 1 6 0 0 0 6 1-5 1 5 0 10 0-19 0-2 1 14 0-9 1-5 1 21 0-1 1 0 1-2 0-10 1 3 1 2 0 4 2-18 2 18 1-8 1 0 3 1 0-2 1 11 0 1 0-10 0-1 0 11 1 1 0-10 0 3 2-14 0 1 0 7 1 11 2-17 0 2 0-4 0 13 1 6 1-12 3 11 2-4 1 6 0-19 2 7 0 1 1 7 1-8 2-8 0 12 1-6 0 3 1 8 0-2 1-14 1-2 2 19 3-15 1 9 0-8 1 8 1 3 0-14 1 1 2 18 1-5 1-5 0 9 2-4 0-14 1-1 0 14 1 4 3-13 2 15 0-19 0-2 14 10 10 2 34 1-3 25-3-11-32 4-4-3-3 15-2-1-2-17-2 14-1 1-1-17 0 5-1-2-1-1-1 4 0 4-2 3-1-3-1 11-1-2-1-9 0 9 0-14-1 10 0-3 0-9-1 20 0-3-1-2 0 0-1-5 0 1 0-11-2-2 0 5 0 13-3-16-1 13 0-5-1 10-4-14-1-7-3 8 0-3 0-1-2 14 0 2 0 2 0-18-1 14-1-11 0 7-1-9 0 17 0-19-1 6-1-7-3 10 0-11 0 11 0 6-1-2 0 0-5-8-1-6 0 18 0-3-1-8 0 9 0 4-1 1-1-18-2 2-1 11 0-3-4 7 0-10 0 1-1-8 0 13-2-16 0 6 0 2-1 13-1-17 0 17-1 0 0-10-2 2 0-4-1 8 0-14-1 1-2-3 0 2 0-2-3-2 0 15 0-11-1 12 0-10 0-5-2 6 0-8-3 1 0 3-1 4 0 13 0-18-1 2-1-5-2 0-1 22 0-17-1 8-1 9 0-17-2-1-1 18-1-7-1-5 0 5-1 5-1 2 0-11 0 2 0 3-1-6 0-8-3 6-1 12 0-7-1-6 0-3 0 16-1-11 0-4-1 3-1 5 0-12-2 13 0-13-2 1-1 3-2 16 0-8-2-13-1 14 0 1-1-11 0 13-1 6 0-23-3 16 0 4-1-6 0 1-3 8-1-10-1-3-2-2-1 1 0-2 0-1-1 7-1-8 0 11-1-10-3-4 0 17-2 3-2-4-1-10 0 3 0-7-2 15-1-11-1 5-1-2 0-2 0 5 0-12-2 20 0-19-2 12 0 6 0-20-1 1-2 9 0-8-3 7-1 6-2-12-2 12-1-3-1-5 0 13-2-1-1 0-1-19 0 12 0 8-1-4-1-3 0 8-1-22 0 7 0 14-2-21-1 12-2 3 0 4-1-8-1-7 0 2 0 11 0-6-1 9-1-15 0-2-1 20-1-11 0 8-2 1 0-21 0 7 0-4-2 11-1 3-1-6-1 12 0-13-2 13-1-11-2-9-2 12 0 5-1-16 0 7-1 3 0-13-1 8 0 9-1-7-1 3 0-14-1 15 0 7-1-7 0 3 0-9-2 5 0-9-3 10-1-12 0-1-1 8 0 7-1-1-1 6 0-18-1 11 0 7 0-5-1-7 0 8-2 5 0-23-1 22 0-1 0-14-2 12-1 4 0-15-2-5 0 10-1 6 0 3 0-17 0 11 0 0-1-6-1 3 0-7-1 8 0-8 0 15-1-9-1-12 0 6-1 3-1 14 0-3-1-6-3 6-1-5-3 4 0-14-1-2 0 11-2-3 0 11-1-15 0 8-2 8-1-5-1-12-1 15-1-14 0 7-3-11-2 2 0 15-2-5-1 0-5-10-1 18-4-13-1 8 0-14-5-2-1 14-6-3-1 10 0-16-1 5 0-11-2 11-1-3 0 0-2 4-1 10-8-13-2-6-4 0-8 17-4-17-5 19-1-20-3 4 0-1 0-3-2 18-3-2-9-11-5 0-3-3-5-2-4 7-9-9-8 1-20 44 22-19 4 4 14-5 5 3 9 13 2-7 4-1 6-1 1-6 3-1 1 1 9 7 7 10 4-4 6 6 0-13 4 7 4-4 2 1 12-3 1-2 1 8 2-7 2 9 2 2 1-6 0 8 9-13 4 7 1-7 2 2 0 12 2-4 0-3 2 7 0-7 0-12 1 7 0 3 2-6 2 15 1 0 0-22 1 7 1 5 0-6 2 8 0-11 0 16 1-13 1 14 0-3 0 2 0-4 2-12 0 6 2 12 0-8 0-2 1 6 0-7 3-11 0 6 3 7 1-1 0-10 2 3 2-5 0 16 0-1 1 4 2-2 1 6 0-2 1-4 0-1 0-16 1 8 0-2 0 8 1 3 2-4 0 4 1-12 0-4 1 8 0 6 3-10 0 5 1 13 0-5 1-14 0 11 1-15 1 6 1 12 1-10 1 15 1-11 1 1 0-5 1-4 1 5 0 8 1-16 0-1 0 2 2 2 0 19 2-8 4-10 1 17 0-9 0-13 1 15 1 4 0 3 1-1 5 0 1-4 2-8 1 11 2-8 1 2 2 2 1-1 0-6 1 10 0-9 0 9 0-16 2 4 0 13 1-18 0 19 1-17 0 11 0 0 1 1 0 6 1 0 1-14 0 5 1-11 1 7 0-7 0 14 1-14 0 6 2-2 0 15 1-20 0 6 0-3 0 5 0 6 2 7 1-13 0-7 0 16 2-12 0 13 1-9 0 11 0-13 0 4 0-7 1 13 3-9 0-3 0-6 4 12 0 10 0-1 1-6 0-8 0 10 1-11 0-6 0 12 0-7 1-1 1 19 0-11 0-9 0 17 1 3 0-5 0-17 1 14 1-4 0 4 1-11 1 14 1 4 1-11 1 5 0 5 1-20 1 13 0-12 0 18 0 3 2-19 1 12 2-8 0-1 3-7 0 13 0-1 0-2 1 13 3-22 0-1 0 13 0-1 1 0 2 6 1-1 0-8 2 4 0 2 3 1 0-2 0 1 2-8 1 9 0-12 1 6 2-10 0 17 0-16 1 11 0-4 2 11 0-4 0-8 1 12 1-1 0-16 1 5 1-2 0 14 4 1 2 0 4-6 1-12 0 4 1 10 0 2 1 0 0 3 1 1 1-10 1-3 2-6 3 11 0-3 0 10 1-4 0 1 0-15 1 15 0-13 0 1 1-6 1 5 1 7 2-6 1 7 0-5 1-7 0 6 1 5 1-12 0 18 0-13 0 17 1-1 0 1 0-9 1-3 0-6 1 15 0 1 0-19 1 22 0 0 0-10 1-10 0-2 2 8 0 8 0-5 1 1 1 8 0-12 1-9 0 15 3-12 0 12 1 2 0-10 0-3 1 18 2-3 0-13 1-5 0 1 1 20 1-22 0 21 1-5 0 2 1 3 0-8 0-8 1 6 0-2 1-1 0 15 0 0 1-12 0-7 2 5 2-3 3-4 3 17 2-14 3 6 0 6 3 0 1-16 0 13 1-6 5-1 0 10 3-8 1 2 0-10 1 16 5-13 6 13 15-17 30 38-22-7-14-6-16 14 0-15 0 19-2-18-3 10-8 12-4-14-2 6 0 1-1-13-3 0-1-1-2 10 0 9 0-15-2 12-1-3-1 3 0-13-1 14 0-16 0-2-1 22 0-8-2-14-1 8 0 11-1-11-2-6 0 9-1-4 0 6-2 4-1-1 0-17 0 21-1-11 0-2-1-5 0 13 0-11-1 16-1 0-1-8-1-6 0 5-1-7-1-3-1 2-2 1 0 13-1-15 0 18-2-9-1-6 0 16-1-15 0 1 0 5-1 10 0-11 0 8-1-14-1-2 0 16-2-10 0-3-1 0-1-2-1 5-1 8 0-6-1-5-1 4 0 2 0-9-2 5-2 1-1 7 0-16-1 13-3-14-1 15 0-15 0 9-1-1-1 7-1 2 0-7-2-5 0-5-1 3 0 13-3 4-1-3-1-2-1 0 0-12-2-1-1 9-1 2 0 4 0-13-1 12 0-12 0 8-2-1 0-1-1-6 0 0 0-4-1 6 0-3 0 14-2-7-1-5-1 18 0-20-1 18 0-11-1 10-1 2 0-6-1-4-1 2-1 2-1 2 0-16-1 14 0-15-1 19 0 0-2-18 0 18-1-7-1-4 0 5-1-9 0 0 0-4-1 13 0-8-2 8-3-10-1 13 0-11 0 10-1 2-3-15-1 14-2-13-1 19-1-14 0 3 0 1-2-8 0 15-1-4 0 3 0 4-1-13-1 7 0 6 0-17 0 4 0 5-2 4 0-8 0-4-1 2 0 8-2-3-1-6 0 0-3-6-1 1-1 10 0 0 0-8-1 15 0-20-1 20-2-12 0 3 0-4-1 8 0-4-1-10 0 8-1 3-1-4-2-6-2 20-1-22 0 16-1-15-1 18-1-14 0 3-1 13 0-20-1 18 0 1-1-19 0 18-1-7-1 3 0-4 0 10-1-12-1 4-4-1-1 5-1-8-1-7 0 6 0-7 0 7-1 5-1 0-3 8 0-11 0 3-2 9 0-3 0 2-1-4 0 3-1-18-2 9 0 0-2-6-2 16-2-10 0 7-1-7 0 3-1-2 0-2 0 1-1 9 0 3 0-17-2 17 0-21-1 11-1-5 0 3 0 3 0 8-1-1 0-3 0 4 0-19-3 14-1-17 0 18-2-15 0 18-1 1 0-17 0 5-1-7-1-1-1 12-2-9-2 1 0 14-1-19 0 11-2-6 0 3-1-6-1 20-2-1 0-17-2 14 0 2 0-10-1 11-2-12 0 9-1-7-1 1-1-2-1 2-3-5 0-8-3 4-2 10 0 3 0-2-3-5-3-4 0 2-3-5-2 3-2-3-1 19-1-2-3-20-3 0-5 12-1 5-2-10 0 11-7-12-4-2-6 19-3 0-3-10-2-10-1-1-1 16-5-5-8-5-5 1 0-9-1 5-6 14 0-3-3-4-1-10-3 21-1-6-5 3-17-18-1 0-1 4-7 7-7-11-7-1-5 46 20-10 4-9 0 0 2 16 16-6 5-5 5 2 2-5 3 7 0 7 2-11 6 4 2 8 5-5 7-8 2 15 4-8 1 5 2-5 3-9 1 12 2-1 4-1 6-13 11 6 1 5 5-5 2 2 1-11 6 21 4-7 0-11 0 6 3 8 1-7 1-9 3 9 1 7 1-13 1 7 2-6 2 9 2-4 2 5 0 8 2-17 1 8 1 6 1 1 1-7 1-14 0 19 0-6 0-3 3-9 0 4 1 1 1-1 1 1 1 17 0-17 1 14 0-10 2 11 0-17 2 8 0 11 0-16 2-5 1 9 2 11 2-15 0 13 1 2 1-14 1 15 0-1 1-1 0-16 0 13 1-10 0 12 1 2 2-19 1 13 2-14 1 5 1 2 0 11 0-5 1 8 0-2 1-2 2-17 1 0 0 11 0-11 1 0 1 12 2-12 1-2 0 5 0 6 0-10 2 22 1-18 2 10 3-15 0 10 0 10 2-9 1-4 1 11 0-17 1 20 0-12 1 11 0 0 0-7 1-6 2-7 2 1 0 22 0-9 2 6 0-5 1-8 0-3 1 2 0 4 0-9 0 3 2 12 1 3 2 0 1 4 0-23 0 16 1 0 1-12 2 0 0 0 1 5 1 5 1 4 2-12 0 0 1 3 0 5 1-9 2-2 0 0 0 8 1-2 0 14 1-3 1 0 2-9 1-2 0-4 0 12 3-3 1 5 1-1 3-14 0 12 1-12 1-1 1 5 1 14 1-15 2 12 0-11 1 13 0-9 1-4 0-5 1 13 0 6 0-13 1 0 1 4 0 9 2-14 0 4 0-4 1 4 0-11 1 16 0 0 1 5 0-11 0 10 3-5 3-14 1 21 0-18 1 15 0 2 1-5 0-7 2 1 1 12 0-9 1 5 0-2 1-13 1-4 0 0 1 6 1 15 1 1 2 0 0-20 0 14 0-5 1 2 0-7 0 1 0 5 0-9 0 9 0 2 1-8 1 7 0-6 2 16 1-9 0-6 1-6 1 2 0 15 1-17 2 3 1 2 0 13 0-16 2-2 1 17 3-12 0 6 0-3 1 10 1-5 0 8 0-22 1 1 1 6 0-5 1 13 0-9 0 7 1 2 2 3 0-15 0 6 1-1 1-1 0 10 1-17 0 11 0-6 1 15 3-6 0 1 1 0 0-1 0-15 1 17 1-2 1 4 1 0 2-13 1 17 1-22 1 11 1 11 0 0 0-16 0-3 1 18 0-10 2-1 0-8 2 0 0 14 1-17 0 23 2-17 0 9 1-8 2 4 1-6 1 4 1 11 3-17 1 11 2-7 1 16 0-21 1-1 2 2 0 12 1-2 2 0 2 2 2-8 12 3 107 13 9 14-6 3-17 4-10-13-3 12-21-19-23 3-2 15-5-11-45 3-2 4-3-5 0-2-1-5 0 12-2 0-2-1-1-8 0 10-1-10-1 4 0-6 0 2-1 1 0 5-1 2-1 9-2-15-2 13-1-19-1 8 0-6 0 19-1-16 0 1-2 1 0-1-1 3 0-5 0 2-1 4-1 2 0-10-2-3 0 8-3 7 0-3 0-12-1 12-2 3 0 0 0-1-1 8 0-10-1 10 0-19-1 0 0 20-1-3-3-10 0 13 0-1-1-18 0 10-5-10 0-4 0 19-4 0 0 0 0-2-1 5-1-15 0 8 0 4-1 3-1-20 0 3-1 5 0-1-1 0 0-6-2 1-1-2-1 6-1-8 0 6-1-5 0 19-1-13 0 9-1-9-1-2 0 15 0-12-1 8-2 5-2-16 0-4 0 10-2 0 0-4-2 0 0-7-1 0 0 22-1-12-1 10-2-10 0 5 0-6-2-3-1 14 0-3-2-2-1 8 0-18-1 15-1-2 0 2-1-11 0 12-3-11-1 2 0 8 0-12-1 11 0-11 0 13-2 1-2-18 0 8-1-8-1 1 0 7-1-8-1 13-1-1 0-7 0-5-1 13-1-10-1 6 0-1-1-1-1-6-1 10-1-4-1-6-1 4-1 4 0-13 0 5 0 4 0 12-2-14 0 9-1-2 0-7-1 11 0-11-1 4 0-10-1 8-2 6-1-12 0 4-2-7-1 2-2 0 0 9-1 11-1-15 0 16-1-9-1 1-1-13-1 12-1-12-1 6-1 3 0 3-1-6-1-3 0 16 0-10-1-11-1 10-1 0 0 11 0-7-1 7-1 1-2-6-1 4 0-3 0-7-1-8 0 5 0 14-1 1 0-16-3-3-1-3 0 10 0 0-1-2-1 3 0-1 0 5-1-8 0 10-1-8-2 5 0-6 0 13 0-6-2 0-1-5 0 8-3-7-1-6 0 9-1-4-1 4 0-10-1 18 0-21 0 13-1 9 0-21-1 19-1-4-1 0 0-7-1-5-2 11-1 1-2-5-1 11-1-21 0 21 0-14-1 1-1-5-2 5 0 4-1-11 0-3-1 4-1 17 0 0-2 2-1-3 0-8-1 0 0 6-1 2-1-13-1 16 0-22-1 12 0-10 0 3 0 12-2-17 0 21-1-1-3 0-1-11-1-10-1 23-1-21 0 7 0 6-1-13 0-1-2 6-1 14 0-3 0-18-1 8 0 7-1-11 0 4-3-8 0 1-2 18-2-7 0-5-1 3-2 2 0-6-3-1-1-4-1 9-2-3-1 16-3-7-30 2-2-10-6 2-2 13-5-15-1-7-3 22-3-5-4 5-1-14-2 8-2-5-2 6-1-1-7 3 0 0-4 2-7-5-3-7 0-2-7-5-22 13-4-14-2 13-1-9 0-3-4 19-5 3 46 16 4-11 1 2 4-2 2-6 9 21 13-8 0-9 2 4 8-4 9-2 5 4 3 0 1 16 0-22 1 12 12-9 2-2 13 22 5-23 6 15 1-6 0-9 1 4 1 3 0 2 2-2 0 8 1-10 3 3 1 3 1 6 0-12 0-2 0-2 0 16 4 1 0-15 1 3 1 11 1-7 0 12 0-9 1-2 0 12 1-20 4 2 1 18 0-21 1 6 1-5 0 9 1-1 1 3 0-10 0 0 2 4 1 4 2 2 0 1 3-8 0 6 1-4 1 2 1 12 1-3 0 0 0-7 1 4 1-8 1-4 0 0 1 6 1 11 0-1 1-6 0 4 0 2 1-6 2-10 0 4 1 2 0 5 1-14 0 14 0 0 1-9 1 5 0 9 1-15 0-4 1 14 1 4 2-4 0-7 2 5 0 7 0-7 0-12 1 2 1 2 4 7 1 9 0-1 0-11 1-6 0 1 3 17 1-20 0 10 1 8 0-12 0 12 1-16 0 5 0-2 0 10 1-7 0-9 1 8 1 8 1-3 1 9 0-8 0 1 1-9 0-4 2 8 3-1 0-10 1 13 1 9 1-6 0-14 1 20 1-16 0-5 1 9 0-6 1 18 0 0 0-11 2 10 0-20 0 7 0-5 2 2 0 11 0 5 0-11 1-3 1 3 1-7 0-3 0 5 1 11 1-8 1-8 0 20 1-5 1-13 0 4 2 8 0 4 1-12 1-1 1 6 2-2 0-7 2 4 0 10 2-7 3-5 0 6 0 0 2 9 0 0 0-8 1 4 1 3 0-6 1-2 0 8 1-7 0 6 5 6 0-11 1-6 1 16 0-5 2-5 0 4 0-7 1 11 0-1 1-17 0 8 1-7 1 10 0 0 0-12 1 20 0-5 1-15 0 9 1 10 0 3 0-14 1-5 1 6 0-8 1 6 1 2 2 7 1-3 2-12 1 11 1 10 0-16 0 11 1 3 1-14 1 4 0 12 0-5 1-10 1 3 2 8 0-14 2 3 2 12 1-7 2 6 1-13 2-3 1 15 2-6 2-12 2 4 1 4 2 0 0 2 0-4 1 7 0 8 0-20 0 3 0 6 2 10 4-16 0 4 1 0 0-8 0 4 0 16 2-20 0 13 1 0 0 2 1-3 1-12 2 2 0 1 2 0 1 18 2 0 1-13 2 1 3-7 2 11 0-11 6 13 0-7 1 8 3-5 4 12 4-5 7-5 2 3 1-5 1 0 5 5 2-6 6-5 1 11 10-9 41 0 0 14 21 1 0-7 30 6 5-3 11 7-41 7-2 8-6-7-16-7-2 12-3-5-8 1-25 1-4 1-5-2-3-8-1 18-13-5-14 8-5-23 0 5-9 2-3 3-1-7-4-3-2 0-1 21-3-14-1-4-3 10-3 4-2-3-4-4-2 2-2-6-1 4 0 11 0-3-1-15-1-1 0 14-2-3 0-12-2 13-1-4 0-3-2-6-1 10 0 7-1-7 0-11-1 4-1 13-1-15 0 17-1 4 0-15-2-6-3 6 0 3 0 9-2-5 0-15-2 10 0-5-2 9 0-8-2-5 0 17 0-7-1-10 0 3-1 7 0 2 0 8 0-4 0 2 0 1-1-14 0-3-2 14-2-8-1 14 0-15-1 8-1 7 0-22 0 22 0-18-2 2 0-5-1 0 0 12-3 3-1-14 0 7 0 7-1-16-3 9 0-9 0 16-1-11 0 14 0-20 0 13-1 6 0-1 0-4 0 0-2 5 0-3-1 0-1 1-1-3-1-6-2-2 0-5-1 20-2-21-1 19-2-5 0 2-1-5 0 3-1-2-1 9-2-10-1-1 0-9-1 12 0 7-1-17-1 19 0-2-1-19 0 3 0 5-1-2 0-2-1 4-1-6 0 9-1 8-3-13-1 10-1-13 0 7 0-7 0 0-1 9-1 1 0-10 0 12 0-14-1 4 0 16-1-1 0-18 0 13-1 6 0-20-1 4 0 4 0 0-1 6-1-4 0 7-1-16-1 11 0 1-4 4 0-4-1-5 0 9 0-6-1-5-1-2-1 13-1-10-1 2 0-6-2 8 0 10-1-17 0 10-2 1 0 2-1-19-1 1-1 21-2 0-1-7 0-13 0 10 0-10-4 10 0 6-1-18-3 12-1-10 0 0-1 16-1 4 0-2-3-7-1 6 0-2-1 6 0-9-1 7 0-6-1 4 0-10-1-7-1 1-1 1 0-2-1 6-2 2-1 1-4-8 0 17-1-14-1 0 0 17 0-17 0 5 0 1-1 6-1-7 0 6-1 3-1 1 0-19 0 5 0 6-2-11-2 12-1-14 0 17-1-6 0-8-3 16 0-9-1-4-1 15 0-3-8-16 0 7-1-5 0 1-6-5-6 5-8 7-10-7-6 4 0 2-3-10-7 9-8 6-5-2-4-8-13 7-26 1-25 10 16 1 6 3 10 16 11-1 4-19 16 1 1 9 10-7 33 9 12-2 15-7 4 8 1-6 2-5 7 7 2 11 0 5 3-14 3-6 0 1 2 15 1-17 3 12 2-5 1-5 1-1 1 11 0 3 1-11 0-3 2 3 2 3 0 5 0 1 2-3 1-7 1 2 1 5 4 0 0-5 1 0 3 9 0-8 2 12 1-1 0-1 2-6 1 7 1-13 1 12 1 3 0-11 1-8 0 9 1 6 1-16 1 6 1-4 0 11 1-4 0 8 0-6 1-9 3 1 1 3 0 3 0-4 1 2 1 5 1 10 1-11 2-11 2 3 0 5 1 2 0-1 1-5 0 17 1-7 1-4 0-8 4 5 2 10 1-4 1-11 0-1 0 5 3 14 0-19 1 20 1-20 1 8 0 7 1-6 1-10 1 8 0 8 2-13 1-3 0 5 1 3 0 3 0 11 1-1 0 1 0-17 2-1 0 17 0-19 0 8 4 3 1-4 1 1 0-3 0 3 2 4 1-9 1 0 2 2 1 2 0 1 0 2 3 6 1 2 1-19 0 13 0-12 4 18 1-13 1-8 0 2 1 21 1-21 1 1 1-3 0 10 3 11 3-14 0 12 1-4 7 0 1-12 2 2 0 2 6 7 1-11 1 8 1-4 0-6 1 12 0-11 7 21 10-10 15-12 7 0 11 9 1 5 2-14 1 7 2 11 1-6 6 2 11-6 17 0 1-1 9 13 1-9 7 8 11-16 6 16 8-18 3 18 6-4 3 7 2-1 11-2 1-20 1 13 52 1 3-11-13 31-2 7-5-12-45 6-11-4 0 1-3-1-15 6-24 1-2 7-1 1-6-10-4 11-2-3-6 0-1-10-3-7-1 4-7 15-7-15-4 16-10-17-8 5 0-6-20 7-4 5-1-9-3 10-17 0-5-14-1-2-20-2-4 2-8 7-2-4-6 17-3-21-2 4-3 18-2-22-2 1-1 0-3 15-3 0-3 1 0-12-5 8 0-6-1-3-1-5-2 9-1-9-2 12-1 1-2-12-3 9 0-2-1-8-5 23-1-22-17 15-5-5-2-7-4 9-9-3-22 6-3-4-4-10-9 6 0 3-9-7-67-2 51 24 5 10 48-1 10-9 14-1 8 0 24 12 21-12 7 10 14 10 11-9 1-6 23 11 4-14 8 13 12-5 8-8 20 18 7 0 6-8 20-13 1 14 3 9 3-2 3-15 7 10 11-15 6 9 5-4 12 6 3-6 3-3 11-1 6 9 2-6 8 1 7 10 17 26-4-9 0-2-26-5-3 10-14-12-6 21-4-13-31 4-10 4-59-15-15 8-10 10-1-16-16 17-49-20-7 5-2 9-1-13-27 19-17-16-15 2-16 15-11-20 46 46 6-2 1 2 0 0 9-5 20-12 78 14 29-8 21 8 30-17 22 18 4-12 16 6 2-11 10 9 21-10-16 38-29-10-12 13-8-5-2-7-6-1-18 5-7-7-143 4-3 12-2-14 0-2-1 18 0-12-1 3 0 5 0-7 0 8-2 0 0-16 0 8 0 2-1 1 0-11 0 14 0-3 0-10-1 6-1 7 0-5-1-11-1 19 0-7 0 5-2-13 0 13-1-13-1 1-1 8 0-3 0-1-1 3-1-6-2 1-1 7-2-2 0 9-2-22-1 9 10 21 2-1 0-3 12 2 136 16 20-6 7 7 5-12 20-1 14-7 17 12 3 24-26-2-10-4-15 0-18 3-34-3-20 3 7 36 36-9 23 6 2-12"/>
<rect class="bd" x="0" y="0" width="321.3" height="327.0"/>
<path class="tk" d="M65.9 327.0v5M154.4 327.0v5M242.9 327.0v5"/>
<text class="tl" x="65.9" y="349.2" text-anchor="middle">-20</text>
<text class="tl" x="154.4" y="349.2" text-anchor="middle">0</text>
<text class="tl" x="242.9" y="349.2" text-anchor="middle">20</text>
</g>
<g transform="translate(1091.9 1812.0)">
<path class="mn" d="M21.7 0V327.0M110.2 0V327.0M198.7 0V327.0M287.1 0V327.0M0 298.5H321.3M0 241.6H321.3M0 184.7H321.3M0 127.7H321.3M0 70.8H321.3M0 13.9H321.3"/>
<path class="mj" d="M65.9 0V327.0M154.4 0V327.0M242.9 0V327.0M0 327.0H321.3M0 270.0H321.3M0 213.1H321.3M0 156.2H321.3M0 99.3H321.3M0 42.4H321.3"/>
<use href="#gE"/>

<path class="mbE" transform="scale(.5)" d="M324 73l-10 16-14-14-18 0-52 23 6 21 34-12 43 11 34-9 39 5-27 27-12 0-8-5-16 6-1-5-6 5-10-10-4 8-5-10-1 13-2-13-5-7-7 19-4-16-1-2-6 18-3-3-4 1-4-10-2 5 0 8-5-4-1 1-12-9-8 3-1 1-5 4-5-6-7-9-36 16 0-10-8 13-33 0-4-20-6 4-10 16-38 19 20 3 14-12 28 11 13-5 27-2 1-11 3-2 12 10 2 3 13-2 5-3 3 8 0-4 8 5 3-12 4 11 3 5 2-21 1 1 11 8 2-6 2 14 2 1 13-5 1 10 0-16 0-3 1-3 0 1 2 10 0-5 2 3 0 2 3-8 1 4 6 9 1 0 0-2 0-11 0 10 1 9 1-9 0 3 1-5 2 11 6-19 1 4 5-1 0 11 4-14 2 11 0-7 0-3 3 1 0 16 3-18 3-2 0 21 1-7 1 5 2-1 0-2 0-12 3 6 2 9 0-3 0-3 1-4 3-10 2 1 1 14 6 4 3-4 2-13 1 20 1-8 0-6 4-1 0 14 1-13 1 1 7-10 8 19 5-15 1 12 20 31-2-13 0 8-12-11 0 6-1-3-1 9-1-17 0 19-2 2-3-16-1 1-2-3-1 13 0-8 0 9-3-17 0 10-1-11-1 8 0 9-2-2-1-2-3 3-4 1-1-4-1-9-2 16 0-6-2-10-4 13-2 4-1-11-1 1 0-12-1 18-2-18-2 0 0 9-1 10-3-12-3 11 0-3-1-6 0 1-3 2 0-7-1 1-2 12-2 2-5-9 0 10-2-20-1 3-3 6-2 3-2 8 0 2-1-5 0-17-1 8-3 11-2-10-1-2 0 13-1-17-2 0 0 10-1 0-1-12-2 0-1 19 0-16 0 18-1 0 0-3-2-18-3 10-1 1 0 9-4-21-1 22-1-14 0-7-2 9 0-10 0 13-1-8-2 11 0-5-1-7 0-5-1 5 0 11-1-9 0 16 0-8-1 8-6 0-1-9-1-11-1 11 0 8-3-4-1-11 0 14 0-21-5 4-1 10-1 7-5-8 0-4 0-1-2-6 0 11-1-8-2 13 0-8 0 6-1-4-2-10-1 2-1 0-5-3-1 10-1-1 0 10-1-13 0 15-1-3-2-6-2-10 0 8-4-11 0 11-2 3-5 8-3-8 0-4 0 13 0-3-2-15-10 6-6-8 0 20 0-8-8-15-5 19-11-3-2-10-7 0-18-6-8 13-8 5-5 5-34 13 11 10 2-20 3 17 2 3 10-12 19 9 8 3 2 0 7-12 2 6 2 3 10 3 4-18 7 15 2 3 1-3 4-17 9 12 1-12 2 20 0-6 5-11 7 9 1-3 1-4 3 11 0-11 0 6 5 10 2-20 4 20 1-7 1 1 2-3 1 4 2-9 0-9 0 0 2 21 2-5 0 5 1-1 4-18 0 4 2-2 0 15 0 4 1-13 0 9 1 3 2-1 1-8 0 4 0-2 1-7 0 4 1-8 1-2 0 4 2 9 1-2 0-11 0 0 1 21 0-20 2 20 1-6 0-17 0 19 0 0 4 4 1-8 0-6 0-7 1 5 1 10 1-11 0-1 0 16 2-16 1 3 1 3 0-9 0 3 1 6 0 11 2-15 1 14 0-12 0 14 1-7 0 7 0-10 2 8 2-2 1-8 3-3 0 7 2-6 1 4 0 0 2-9 0-4 5 11 1-8 0 6 3-2 0 14 1-13 0-4 0-1 2-3 4 1 0 8 1 2 1 4 0-8 0 3 1 0 3 13 0-22 1 15 0 0 1 7 1-12 1-5 1 15 1-13 0-7 1 16 2-17 1 17 1-2 1 8 0-1 5-9 0 9 2-4 0 5 2-8 0-8 1 7 1-10 2 10 0 4 1-5 1 2 2-6 1 11 1-7 2 4 0 2 5 1 5 1 0 0 1-5 1-14 0 19 0-18 1 16 1-3 1-10 4 14 2-11 3 12 0-5 0-1 1 1 3 5 1-5 0-16 3 21 2-9 0 9 1-21 1 17 0 4 1-5 0-7 1 10 2-17 1 14 1 6 2-3 0-12 4 12 6-3 3-15 4 16 3 0 10-7 31-3 37 2 17 13 41 14-35 3-4 8-49-9-2-3-13 3-2-3-3 10-2-14-8 2-5-2-3-1-1-4-6 19-2-3-1 0 0-6-5-1-1 10-3-6-7-1-2-3 0-8-2 12-1-5 0-10 0 15-1 0-2-6 0-8 0 4-2 13 0-14-1 2-1-5-2 12-3 5 0-12-1-4-1 12 0-2-1-7 0 10-2-4-2-5-3 15-1-7 0-12-1 5 0-4 0 4-2 16 0-12-2-10-1 11-1-1 0 8-2-19 0 3-1 2 0-3-1 16 0-2-1-1 0-5-2-3-3 7 0 6-2-20 0 9-1 7 0 1-4 5-1-20 0 0-4 7 0-2 0-4-1-2-1-1-2 15-1 5-1-2-2-15 0 6-1-6-1 2-2 0-2 13-1 1-1-10 0 4-2 4 0-7-1 3 0 5 0 2-2-11-2 11-1-7-3 7-1-11 0 5-1 5 0-10-1 12-3-5 0 2-1-12-1 10-3-12 0-1 0 8-1 7-1 3-1-9-2-3-3 13-1-17 0 7-3-3-3 3-4 11-3-15-3 5 0-3 0 6-3-5 0 9-3-3-5 4-1-21 0 14 0 9-1-20-1-2 0 0 0 15-1 2-2-7 0 3 0 7 0-5-2-9 0 6-2-6 0-2-2 10 0-14-2 3 0 3-3 2-3-3 0 4 0-2-2 12-1-3 0 0-1 0 0 1-1-16-3 21-1-6 0 4-1-12-1 13 0-10-2-3-2 12-2-12-6-2 0 10-1 0 0-1-2 6 0-6-2-3 0-9-2 12 0-7-5 8 0-3-5 0-3 6-4-3-5-17-2 21-1-9-7-6-1 10-2-10-1-3-4 17-2-11-3-4 0 17-4-11-8 9-3-3-4-12-2-5-3 15-18-3-1 0-6-4-21-2-2 14-4-3-3 1-3-13-3 0-7-2 3 35 11 2 15-10 4 5 8-1 2-6 4 15 0 3 1-12 3-7 2 5 1 11 4-6 2 6 6-19 1 3 0 12 0-14 2-1 2 7 3 15 0-4 4 0 3 0 7-7 1 6 1-17 8 21 8-2 2-19 4 2 5 21 1-8 3-9 0-3 1 4 0 8 2-15 1 6 1-4 1-2 3 8 4 14 4-18 0 2 2 17 1 0 1-8 1-6 1 14 0-20 1-2 2 2 2 1 0 14 0-10 1 15 3-4 0-19 0 18 1-5 1 3 0-16 2 3 0 2 1 8 2 4 1 3 2-2 2-2 1-4 1 11 2-19 0 4 0-1 1 10 1-5 0 3 0-15 1 10 5-10 3 10 1 10 3-10 2-1 0 10 2-6 1 3 1-14 2 20 0-21 2 20 1-18 1 1 2 10 1 5 1-13 1 10 0-6 0 4 0-9 2 18 0-16 1-6 0 11 0 1 1 8 3-10 1 0 4-8 2 0 2 2 2 5 0 10 1 2 0-4 1-6 0-5 1 16 1-4 1-4 0-15 0 15 1-6 1 1 0 9 1 2 1-8 0 5 2-16 1 21 0-3 0-2 1-17 1-1 0 20 0-2 1 2 1 1 0-1 1 1 1-5 1-3 0 0 0-12 0 17 0-12 1 4 1-6 1 16 1-8 1 1 1 1 0-12 1 21 0-16 1 8 0-7 2 11 0 3 1-21 3 20 0-6 2-5 1 10 1-12 1-7 2-1 2 5 1 10 1-7 0 12 2 2 1-7 3-6 1 2 5-10 0 22 0-21 0 1 1-1 2 14 2-7 1 5 0-5 1 6 1-5 1 10 0 3 1-10 4-2 1 8 2 2 0-2 1 2 0 2 2-4 2-19 1 4 0 17 0-14 2 9 1 1 1-9 0 10 1-16 2 11 1-7 0 17 1-1 0-17 1-2 1 7 0-8 1 0 2 10 1 1 0-10 2-2 5 5 0 17 2-2 0-11 0 11 3-6 1 8 2-5 3-12 1 12 0 0 1 3 2-1 3-7 2 5 1-4 3 9 2-19 1-1 3 6 5 0 14 8 7-3 6 8 3-8 2 7 3-14 22 2 6-7 4 14 31 6 7-19 3 28-3 13-32 3-3-17-21 17-10-23-8 6-7-6 0 4-12 15-5-11-1-7-2 7-4 8-3 5-9-6-3 8-1-10-3 1-12-5-1 6-1-6-1 0-1 10-4-14-2-5 0 16-1-12-2 2-1-5 0 22 0-10-1-2 0-7-5-1-2 19-1-7 0 0 0-6-1-2 0 10 0-8-1 9 0-9-2 9-1-8-1 8-2-2-1 0-3-16 0 8-1 15-1 0 0-3-1 0-1-7-3 0-1 6 0 0 0-14-1-4 0 8-1 6 0-2-4-11 0 13-4 7 0-8 0 5-1-10-1-3 0 10-1 7-3-23-2 15-1 5 0-10 0-3-3-2-4 6-1 8 0-17-4 8-1 5-2-6-3-7 0-1-1 8-3-3 0 2-1 15 0-11 0 6 0-2-1 1 0 2 0-9-1-1-1-3-1-5 0 11 0-7-1-4-5 22-1-5-2-2 0 2 0-5-3 3-1-14-1 2-4 14 0 3-1-15-1-1-1 12-1-11-2 6-2 9-3-8-1 3-1 3 0-8-1 7 0-7-1-6 0-3-1 20-1-2-2-20-2 9 0-1-1-8-1 4-2 19-1-4 0-10 0 0-1 0 0 8-1-14 0 5-2 14-1-6-1 7-1-7-2-11-3 3-2 13-2-13-1 7-3-10 0-1-1 19 0-19-1 17 0-4-1 5-1-7-1-4 0-6-2 11-1-15-3 3 0 3-1 8-1-5 0 11 0 0-4-5-1 2-2-15-1 7 0 1-1-10 0 16 0-16-3 11 0-4-2 6 0-12-2 17-1 1-1-17-2 11-1-5-3 0-11 8 0 2-1 4 0-6-8 5-2-17 0 0-1-2-1 18-1-20-1 0-5 9-1-8-5 15-11-12-2 5-12 6-3-1 0-4-2 0 0-2-3 6 0 3-2-13-2-5-1 0-7 8-4-8-1 14 0-14-9 14-5 8 0-22-12 40 42-8 4-6 1 2 4 2 2 4 4-3 0 5 3-3 3 12 4-16 3 18 0-23 7 10 6 11 18-2 4-3 3-10 2 13 1-12 1 12 3-7 0-3 3 0 2-2 3 5 1-4 1 1 1-9 1 22 0-12 1 7 3-6 1-11 4 15 0-12 1 20 2-3 1-12 0-2 0-3 0 18 1-19 2 18 1 3 0 0 2-16 1 3 0-5 4 14 1 3 1-13 1-3 0-1 0 1 0 1 2-6 0 16 1-10 0 4 1 0 3-10 0 22 4-10 0 8 1-2 2 2 3-5 0-14 1 21 1-15 1-5 1 13 0-9 1 4 2 10 0 1 1-11 5-5 0 14 0-17 0-2 0 20 0-10 0-11 0 2 1 14 2-11 0-1 1 4 3 4 0-10 1 14 1-4 0-2 1-6 0 6 0 0 1-8 0 2 1-2 2 14 4-13 2 7 3 4 1-7 1 8 3-8 2 15 0-8 1 7 1-3 0 5 1-23 0 9 2-4 1 18 0-20 0 1 1 10 1 3 3 3 2-7 0 3 1-3 0-3 0 7 0-5 2 0 1 2 2 9 1-22 0 7 0 12 5 3 1-5 0-18 1 14 1-14 0 10 2 12 1-22 0 20 1-7 1 10 0-9 0-8 1 14 0-8 0 6 1-8 0 8 1-8 1 10 0-16 2 15 0-18 1 0 1 16 3-13 0 9 1-9 2 18 0 1 1-13 1 6 2-1 1 8 1-16 1-3 0-2 1 7 1 13 1-18 1 7 0 7 0-12 2 7 0-9 0 2 2 4 0 8 0-4 1 8 2-7 1 5 1-2 2-6 6-12 1 5 1 13 5-1 2 1 0 3 3-14 0 2 3 4 4-3 1 12 3-13 1 6 3-8 1 1 1 2 1-4 0 15 1-21 2 23 0-10 1-10 4 5 0 6 1 3 1 0 1-11 5 11 4-5 1 5 1 5 6-3 3 0 1-7 14-12 5 7 7 15 2-13 6 7 1 2 8-1 5 2 26-16 3 16 1-4 12-1 4 0 16 5 1 2 20-10-10 21-23 3-6-10-3 15-1-5-2 1-12-8-1 14-10-5-1 2-3-9-3 4-7-8-4-2-2 1-3 19-15-6-1 1-2-12-11 7-7 3-2 10-1-4-4-15-1-2-2 9-1 3-8-8-3 0 0-6-3 0-2 2-3 12-4 0 0-5-4-7-2 16 0-10-1-2-1 10-1-12-1-4-1 1-2 3-1 9-1 10 0-17 0 9-2-11-3 14-1-7-2 7-2-3 0-11 0-1-1 8-1 0 0-1-1-1-3-9-2 8-1 8-1-12 0 6 0 4 0 7 0-1-1-18-1 3 0-5-2 19-2-13 0-5 0 8-1-7-2 13 0 7 0-19 0 10-3 3-2-7-2 0 0 6-2 3 0 3-2-12-1-2-2-3-1 0 0 13-1-13 0 18-1-1 0-10-5-7 0 11 0-12-1 5-1-5-4 16-1-14-1-5 0 10 0 13-2 0-3-21 0 11 0-6 0-1-3 2-2-3 0 8 0-2 0-6-1 4 0 9-3-15-2 19 0-20 0 16-2-8-1 10-3-12-1 6 0 9-2-18 0 15-1-2-1-14 0 16 0-12-1-5 0 11 0-12-1 2-3 5 0 9-2-3 0 4 0-5-2-14-1 13-1 6-1-17 0 18-2-16-2 16-1-6 0 6-2 3 0-10-1-5-4 1-1 4-2-13-1 16 0-10-2 17-1-12 0-8-1 18-1-16 0-2-2 18 0 0 0-7-2 7 0-17-4 4 0 9-1-16 0 10-2-10-4 17-1 1-1-19-1 14 0-7-3 13 0-12-2 0-2 10-2-5-2-10-1 1 0 5 0-7-2 11-4-12 0 13-1-1-1 8 0 0 0-1-3-3-1-3-1-8-1-6-1 2-1 13 0 8-2-13-4-3-1-4-1 17 0 0-1-7-1-8-1-1 0-4-1 21-4-17 0 17-1-10-1-6-2-1-2-3-1 0 0 14-4-9-3 4-4-1-3 3-1 1-4-8-2 16-11 1-4-22-5 20-1-13 0 6-8-8-6-4-5 1-1 3-6 15-49 4 29 6 62 15 16-19 2 18 3-13 4 6 1 9 0-12 7 12 5-22 1 19 1-15 0 15 3-1 0-1 1-13 1 4 0-3 0 17 0-11 2-5 5 3 0 0 1-8 0 12 1 4 2-5 0 6 1-5 1-11 2 8 1 1 1 5 0 6 1-4 0-6 0 9 1-2 1-19 0 5 1 17 1-3 0-19 1 3 1 10 1 4 4-12 1 16 2-5 2-10 0 1 0-3 1 9 0 2 1-6 1 8 1-6 0-6 2 11 2 0 1-2 2 8 0-15 0 9 0-3 1-11 2 21 3-17 0 6 2 10 0 1 1-2 1-13 1 12 0-9 1-8 0 6 1 8 2 2 0-18 5 12 0 3 1-15 1 6 1-3 0 4 0-5 0 7 1 1 1-10 1 11 2-11 1 17 0 5 1-17 2-4 0 7 0 11 1-19 2-1 1 12 4 9 1-9 0-11 1 8 0-3 0 0 2-1 1 6 0 3 2-14 2 11 0-8 5 10 1 6 2 1 3-12 2 13 3-17 1 2 1 15 0-17 2 19 0-21 0 13 1-10 2 8 1-7 0 15 3-9 1 7 0 4 1-12 1-4 4 4 1 8 0-10 1-1 1-3 1 14 0 3 1-20 1 17 2-14 1 10 0 4 1-12 0 6 1 4 1 3 1-12 1 3 3 9 2-20 0 7 1-1 0 12 0-8 1-8 2 1 0 13 2-11 3 1 1 17 0-20 3 16 0-9 0-9 1 14 0 2 1-2 3 1 2-2 2 5 0-10 1-7 1 17 2-10 2 0 5-1 3-4 1 12 4-5 6-11 4 3 6 15 0 0 2 3 5-4 6 2 0-4 1-4 1-8 4 2 16-3 10 6 16-5 8 11 8-6 2 8 56-1-31 25-6-9-13 5-10-3-2 9-3-13-2 17-3-22-1 13-4 9-1-1-8-20-2 6-2 10-2-16-2 12-12-4-13-8-1 2-5 2 0-2-12 7-3 0-8 6-5-9-2 15-4-3-1 1 0-11-1 11-4-1 0 4-4-5-3-11 0-4-7 15-1-16 0 4-2 13-2 4-1-10-1 3-6 2 0-6-2 0-4-7-1 2 0 3-1-10 0 1-5 4 0 11-1-4 0-1-1 1-1-3-1-5 0 3 0 5-1 11-2 0-2-9-1-3-1 12 0-12-1-3-1 4-1 5-2-1-1 4-1-16-3 15 0-8-2 6-1 0 0-14-1 11-4 0-2-1-1 0-1-1 0 5-1 3 0-2-3-16 0 3 0 16-1-9 0 5-1 3 0-18-1 15-2-7-1-6-1 9-1 5-1-4-2-2-3 2-1 4-1-14-10 15-1-4-3-15-2 21 0-17-3 3-2 13-1-17-3 3 0-6-1 12 0-9 0-2-1 8-1 6 0 7-1-14-1 0-1-7 0 0 0-1 0 22-1-11 0-9-1 17 0 2-3-7 0-12-2 4-2 6-1-1-1 6-1 1-1 4-1-16 0 4-1-10-1 2 0 14 0-1 0-3 0 8-1-5-3-14-2 10-3 3-2-3 0 3-1 3 0-12-1 10 0-11-7 17-1-9 0-12-1 1-3 10-4 6 0 4-2-15 0 13 0-19-1 10 0-7-2 18 0-21-1 11-12-1 0-5 0 16-1-2-2 0-3 0-23-18-5 16-19 3-21-6 36 12 35 14 3-13 2 12 9-3 4-8 1 0 2-1 1 6 0-2 0 11 1-15 1 7 1 0 1 7 0-4 2-12 0 5 2 4 1-5 0 14 3-14 3-5 1 12 1-8 3 11 1-1 0-11 1-1 1 5 1 14 0-20 1 5 0-1 0 3 2-2 4 14 5-2 1-14 1 11 0-5 2 13 3 0 2-19 2 17 2-19 1 14 1 7 1-7 2-2 1-10 1-3 3 16 0-1 0-12 0 3 1-2 1-4 3 6 1 8 2-15 3 14 1-6 1 13 0-17 0-1 0 7 1-5 1 0 0 13 2-2 1-4 1-3 0-4 2-3 1 3 1 17 4-1 2-6 0 6 3-13 0-6 1 21 1-21 2 9 4 7 1-13 1 9 0-2 0-1 2-10 1 10 0-8 1 18 3-6 1-10 0 6 1 6 1-10 1-3 0 18 4-15 1-6 2 21 3-17 1-1 0 5 2 6 1 2 1 1 3 5 1-11 2 8 0 3 2-13 1 3 0 4 3-6 0 5 0-8 1 7 1 2 1 5 0-8 0-8 1-5 0 5 0 4 2 7 0-12 1-2 4 8 3-7 1-2 0 1 10-1 2 18 3 3 6-16 4 4 9-8 4 8 5 3 9 4 3-10 2 5 3-6 31 4 12-7 0-1 9 9 5-6 5 13 5-19 3 11 3 10 3 2 6-19 8 7 18-9-27 37-19 0-9 0-3 2-24-16-5 17-5-17-6-1-4 9-2 12-6-14-5-5-7-1-10 16-2-12-8 0-7 6-2 7-9-12-7-2-4 14-5-17-1 17-4-5 0-1-6-6 0 14-2-20-7 1-3 3-1 8-7 10-3-19 0 8-5-11-2 10-3 2-4-9-2 19 0-6-1 1 0 5-3-17 0 13-1-14-1-3-4 20-1-7 0-11-1 19-2-22-2 16 0-1-1 6-1-3-1-6-1-7 0 4 0-6-1 12-2-3-1-1-1-1-2 2 0 2-2 6-1-20 0 2 0 18-3-3-1 4-1-13-1 11-2 2-1-19 0 19-1-14-1-6 0 17 0-17-1 7-2 9-2-3-4 1-4 4 0-1-6-14 0 6-10 10 0-20-4 2-1 13-2-3-3-12-1 14 0-14-6 20-9-3-2-11-13-1-1-1-8 2-47-2 53 29 26-4 0 1 4 16 8-21 1 7 9 0 0-2 1 4 3 4 0-4 4 6 1 5 3-13 2 8 0-10 5 7 6-9 3-4 1 6 2 0 0 2 4 5 2-3 3 3 0-7 1 1 3 13 1-13 0 6 0 6 1-3 1-13 3 2 0 8 2 0 1-12 0 22 11-19 0-1 7 3 7 2 1-6 1 5 2-6 7-1 0 18 14-11 17-4 20 18 4-20 9 19 6-16 3 11 12-14 3 0 3 6 0 6 3 2 2-11 3 9 25 3 14-14 1 6 3 1 8 4 6 8 10-8 1-8 5 6 19 1-13 34-5-7-21-4 0-6-11 7-8-12-14 0-20 7-1 16-4-16-8 8-4 5-30-8-6-5-5 6-28-10-8 17-19-16-2 2-21 0-4-4-16 3-10-5-4 8-10-7-12 16-2-4-2-2-14-6 2 19 17 4 9 1 20-5 8 8 1 13 23-6 10 1 35-3 1-6 70 6 24 6 10-14 5-3 55 5-57 25-55-7 32 24-158 35-3 6-3-10-1 5 0 1-1-4 0 2-2 8-1-5 0 5-1-4-2 1-1-2-3 6"/>
<rect class="bd" x="0" y="0" width="321.3" height="327.0"/>
<path class="tk" d="M65.9 327.0v5M154.4 327.0v5M242.9 327.0v5"/>
<text class="tl" x="65.9" y="349.2" text-anchor="middle">-20</text>
<text class="tl" x="154.4" y="349.2" text-anchor="middle">0</text>
<text class="tl" x="242.9" y="349.2" text-anchor="middle">20</text>
</g>
<g transform="translate(1424.4 1812.0)">
<path class="mn" d="M21.7 0V327.0M110.2 0V327.0M198.7 0V327.0M287.1 0V327.0M0 298.5H321.3M0 241.6H321.3M0 184.7H321.3M0 127.7H321.3M0 70.8H321.3M0 13.9H321.3"/>
<path class="mj" d="M65.9 0V327.0M154.4 0V327.0M242.9 0V327.0M0 327.0H321.3M0 270.0H321.3M0 213.1H321.3M0 156.2H321.3M0 99.3H321.3M0 42.4H321.3"/>
<use href="#gE"/>

<path class="mbE" transform="scale(.5)" d="M306 140l-42-6-63 6-90-3-7 1-1 18 14 0 104 3 5 1 28-7 14 11 1 3 10-14 0-5 23 9 15-13 1 20 1 3 4-13 3-3 2-6 17 20 4-13 23 1 20 10 2-11 6 2 13 18-1-1-6 7-14 8-7-17-7 6-3 6-4-5-3-4-5 3-2 12-6 4-7-2-5-1 0-3-6-5-2 8-2-14-7 8-7-6-1 5-15-2-5 2-5 8-28 0-7-5-5 4-1-6-16 7-7 2-2-7-12-8-7 14-5-3-1 1-8-10-19-6-25 13-12-10-4-4-12 15-14-18-36 29 31 12 0 5 41-16 5 5 4-4 22-3 9-3 8 17 9-4 4 2 0 3 11-17 1-2 7 18 6-7 12-3 0 13 1-17 6 11 6-13 18 12 2-12 5 10 10-5 0 16 6-3 11-3 3-4 2 10 1-10 2 8 4-4 2-2 3-15 11 20 3-13 16 5 7 11 0-22 3 13 5 2 5-12 2 3 2 2 34 0 7 1 7-5 6 30-7-4-1 8-3-13 0 3-4-2-5-2-1 22-22-7-3 0-7-10-1 1-9 16-10-11-6 6-3-2-2-11-4 14-3-5-4-1-1-11 0 6-2 7-4-8 0 14-1-5-3-12-4 5-2 12-3-9-1 1-3 5-1 5-2-14-3-9-9 17-5-9-3 11-2 2-9 2-7-16-2 13-15-3-6-2 0-15-1 10-3-8-1 4-1 1-8 8 0-5-5-5-1 3 0 1-2-7-2 17 0-12-2 4-3 1-1 6-3-1-21-12-1 14-2-19-1 1-1 13 0-12-4 9-11 1-7 9-13-13-10 14-9-3-19-2-17-16-7 9 37 24 6 1 1 0 3 5 1-16 1 19 22-14 2-3 10 16 4-8 9-2 10-6 8 6 7 5 20 6 7 0 4 1 0 1 0-15 1 13 3-11 8 8 7 4 1-18 1 9 5-2 0-2 1-6 1 15 6-13 0 6 7-9 5 10 1-6 4 18 1-7 0 8 1-19 14 5 0 8 0-5 0 10 2 1 0-9 2-11 6 1 0 5 2 1 18-4 0 5 2 8 1-14 7-3 10 9 1-9 1 21 3-5 0-2 2 3 9-6 0-1 5-11 1 20 4-18 5 3 4 17 7-8 15-9 1 15 8-4 2-13 16 16 9-7-3 30-5-13-22-3-5 11-3-8-3-2-14 18-1 0-2-10-1 7-7-14-7-1-4 14-2-8-3 4 0-13-2 6-4 1-4 14 0-5-1 0-1-2-3-14-2 14-2-10 0 10-1-9 0 16-1 0 0-19-2 9-1-11-1 9-1 4-1 9-1-11-2 9-2-6 0-10 0 15-11-18-1-2-3 8-1-4 0 2-3 16-1-7-1 5 0-2-1-12 0 12-1-12-3 2-1 12-4-10-3-10-1 16-1-11-5-3-3 11 0 0 0-7 0 12-3 5-3-9 0-3-1 9-3-20 0 18-2-3-8-9-1 6-2-2-6 0-5 8-3 1-1-6-1-7-1 4 0 8-2-18-1 21-1-15-5 0-3 7-6-1-7 8-1 3 0-13 0 2-6-2-6-8-7 5-1 11-22-6 0-5-4 3-15 13-5-12-54-11-11 5-13-4-7 15 25 10 5 7 38-3 25-6 0 1 20 14 4 3 5 4 9-17 9-2 4 5 3 11 3-10 2-5 4 10 1-9 0 8 7-11 4 18 5-15 4 2 1 11 2 3 0-2 5 4 4-18 2 4 1-5 1 19 3-23 1 20 6-11 0 6 0-7 3-5 0-1 2 2 1 9 3-4 2-9 2 17 0 3 0-11 0 1 4 7 7 6 0-8 2-9 0-4 2 8 1 5 0-2 0-8 0 6 2-11 2 12 0 7 2-2 4-3 1-14 0 16 6-4 1 2 1 1 1-14 8 15 2 3 0-8 1 3 5 9 1-2 4 2 2 0 1-13 1 13 2-10 2-8 5 2 7 4 1 11 0-15 1-6 2 17 5-9 2 9 9-7 1-7 2 19 3-17 9 13 1-4 3-12 1-3 13 2 4 21 5-1 21-22-11 32-6 14-2 0-9-12-10-4-10 12-5 2-1-7-2-11-2 14-2-3-8-9-1 15-2 1-5 3-1-17-7 5-1-1-2 12-2-4 0-9 0 13-3-10-1-8-1 2-3 17-6-13-4 13-1-21 0 4-1-5-1-1-3 7 0 13-1-2-1-17-1 3-2 3-1 4-4 4 0-6-1 3 0-10-5 18 0-11-1-3-1 12-1-6-3 4-1-7-2 3-1 3-2 7-3-13 0-2-1 5 0 9 0-10 0 6-1-10-3-5-1 17-1-17 0 5-3 16-3-7-3-8-2 11-1-6 0-9-1-2-2 3-1-1-1 9 0 0-1 5-3-7-4 3-4-14-4 14-6-14 0 8-1 2-3 12 0-13-2 12-1-1-2-18-1 4-3 12-1-14-8 7-4-7-1 4-3 6 0-7-1 16-9-21-7 14-6 0-1-13-2-2-1 9-10 13-17 18 10 2 10-17 11 5 1-5 3 14 13 2 1-6 5-3 2-2 8-6 1 4 0-4 1 21 2-20 2 12 1 5 2-6 3-9 4 3 2 7 1 3 1-4 0 8 3-13 8 11 5-11 1 7 0 5 1-13 1 3 2 7 2 3 2-19 4 0 1 18 2 2 2-18 3 3 1-6 1 2 3 7 0 1 1-5 4 3 3-5 1 13 2-3 4 1 7 4 1-8 5 13 2-8 4-6 1 2 2 4 1-15 1 4 1-2 2 18 3 2 1-5 1 2 1-11 1 13 1-8 1 7 1-17 0 8 1 5 1 7 3-14 6 0 0 1 1-5 2 13 1-10 1 9 3-10 18 13 1 1 6-9 3-6 14 7 0-13 5 6 2 0 7-3 2 6 17 9 3-12 6 8-6 23-32 7-16-6-14-12-1 3 0-5-3 10-4 5-2 0-3-8-4 1-2 2-4 12-4-8-7-6-2 1 0 2-2-9-2 3-2 2-1-2-2 11-3 4-1-1 0-12 0 4 0 3-6 4-8-15 0 15 0-11-4 15-4-11-7 12-2-9-6 3-1-6-2 8-3-15-1 9-4-11 0 11-3 1-2-1-2 0-5 3-4-9-3 9-1-10 0-2-5 5-9-4-1 10-2 3-1 2-2-8 0 2-2-13 0 1-1 0-2 6-3-7-10 18 0-4-3-14-2 16-1 3-4-20-6 21-16-10-2 6-9-6 15 27 2-14 3 21 3-15 5 9 9 1 3-8 2 3 6-5 8-4 6 4 3 1 9-5 7 9 2-4 9 3 9-3 2-5 1 14 0-1 1-10 2-4 12 4 14 0 3-3 3 11 0 2 1-3 1-1 1 1 2-4 2 6 2-8 1-2 4 1 9 6 1-8 2-2 2 5 8 0 14 13 3-12 15 5 7 3 0-10 21 15 4 13-10 2-6 2-3 5-11 3-5-12-7-7-6 9-1-8-3 0-5 8-24-7 0-2-1 18-1-17-7 6-2-1 0-6-3 8 0 13-1-13-3-9-1 19-2-14-6-3-1 0 0 2-2 14 0-19-1 14-2-2-6-3-4-5-5 10-10 7-1-15-1 10-2-2-8 9-16-22-2 2-4 2-5 4 0 3-2 11-4-16-10-1-1 14-12-16-7 5-5 1-15-2 16 29 46-7 3 13 18-12 3 12 7-7 1 0 24-4 5 0 0-5 15 10 7-8 0 5 7 13 27-1 11-14 4-2 21 0-18 24-3 2-29 0-9 12-2-2-3-2-12-2-16-9-5 16-24-21-1 2 0 5-24 9-16-16-11 19-3-16-1 8 43 20 15 6 48-6"/>
<rect class="bd" x="0" y="0" width="321.3" height="327.0"/>
<path class="tk" d="M65.9 327.0v5M154.4 327.0v5M242.9 327.0v5"/>
<text class="tl" x="65.9" y="349.2" text-anchor="middle">-20</text>
<text class="tl" x="154.4" y="349.2" text-anchor="middle">0</text>
<text class="tl" x="242.9" y="349.2" text-anchor="middle">20</text>
</g>
<g transform="translate(1756.9 1812.0)">
<path class="mn" d="M21.7 0V327.0M110.2 0V327.0M198.7 0V327.0M287.1 0V327.0M0 298.5H321.3M0 241.6H321.3M0 184.7H321.3M0 127.7H321.3M0 70.8H321.3M0 13.9H321.3"/>
<path class="mj" d="M65.9 0V327.0M154.4 0V327.0M242.9 0V327.0M0 327.0H321.3M0 270.0H321.3M0 213.1H321.3M0 156.2H321.3M0 99.3H321.3M0 42.4H321.3"/>
<use href="#gE"/>

<path class="mbE" transform="scale(.5)" d="M294 165l15-10 7 3 26-8 17 17-26 23-30 0-22-9-25-9-4 11-52 28 46-10 24 2 3 4 18 1 1 6 1-1 4-6 5-3 8 10 14-13 13 13 16 0 0-9 15-4 16 5 0 5 6-10-7 16-10 2-13-1-6 8-6 2-6-2-3-3-2 4-4 3-5 4-2 2-4-16-11 7-3-10-5 15-1-13 0 17-7-18-15 7-21 8 0-16-18 12-11-4-6 12-25-6-1-1 0-13-40 46 72-10 4-10 3 2 21 7 3-7 1 18 4-9 1-4 6-4 4 15 3-7 5 6 0 0 2 2 3-6 8-16 3 6 2 0 1 4 0-8 18 1 7 3 0 15 2-1 0-16 10 18 2-14 17 6 4-14 5 11 27-2 208 12-196 21 0-10-3 8-20-3 0-2-6 3-7 2-9-12-3 5 0-3-11 7-4-13-2 8-2-3-2-4-2 19-1-6-1-4-3 6-4 4-1-11-4-4-10 2 0-3-11-1-1 13-6-12-5 4-3 14-1-21-7 22-11-8-15 1 0 1 0 2-8-19-2 12-1-7 0 16-5-18-6-3-7 17-1 5-12-20-8 20-6-17-7 1-3 0-2 41 1-14 25 2 13 12 0-17 19 0 9 13 16-3 1-15 1 11 0 4 18-14 6 3 11 9 1 4 20-17 4 17 1 4 4 0 5-1 1-14 11 12 3-14 1 9 6 7 9-3 5 0 1-10 5-1 1 3 4 1 15 9 3-7 5 1 65 10-34 0-6 12-24 9-7-4-3 3-2-6-1-7-3 13-5-9-5-10-9 14-3-12-7 6-4-5 0 16-3-17-1 9-3-11-5 5-2-5 0 13-3 5-20 0-1 1-5-19 0 8-1-3 0 11-1-12-11 14-1 3-5 1-8-12-8 0-11-3-2-6-4 11-2 3-7-16-16 20-4-1-1-4-2 0-6-13-3 11-3-7-4 7-4-13-4 10-1-9-16 1 28 30 10-1 10 14 4-9 2-1 7-1 5-5 5 5 1 8 18 1 0-6 6-4 3 14 4-10 13 6 0-9 5 6 8 2 1 0 11-4 11-8 6 1 1-5 17 13 2 6 2-20 1 10 4 0 2 4 13 6 16-5 4-5 15 11 101 25-104-14-3-4-34 8-18-12-8 11-10 11-10-22-14 20-8-12-17 8 0-5-9 9-2-4-4-1-7 4-7 2-1-5-2 2-9-18-6 8-12-2-8 1 10 25 0-1 4-4 4 14 13 2 3-13 8 0 12 0 22 8 3-12 1 13 3 3 5-11 4 6 8 1 4-2 4-4 11 5 8-9 4-1 11 13 16-2 10-12-7 43-11-5-33-9-16-6-1 6-5-1 0-1-4 6-7-5-26-2-7 18-18-23-10 11-3-7-1-1-8 7-28-3-7-6-3 1-3 8 42 17 8 8 7-10 4 16 6-14 25 17 25-7 1-6 8 5 10-2 24-4 17 15-72 8-32 90 1 15"/>
<rect class="bd" x="0" y="0" width="321.3" height="327.0"/>
<path class="tk" d="M65.9 327.0v5M154.4 327.0v5M242.9 327.0v5"/>
<text class="tl" x="65.9" y="349.2" text-anchor="middle">-20</text>
<text class="tl" x="154.4" y="349.2" text-anchor="middle">0</text>
<text class="tl" x="242.9" y="349.2" text-anchor="middle">20</text>
</g>
</svg></body></html>
